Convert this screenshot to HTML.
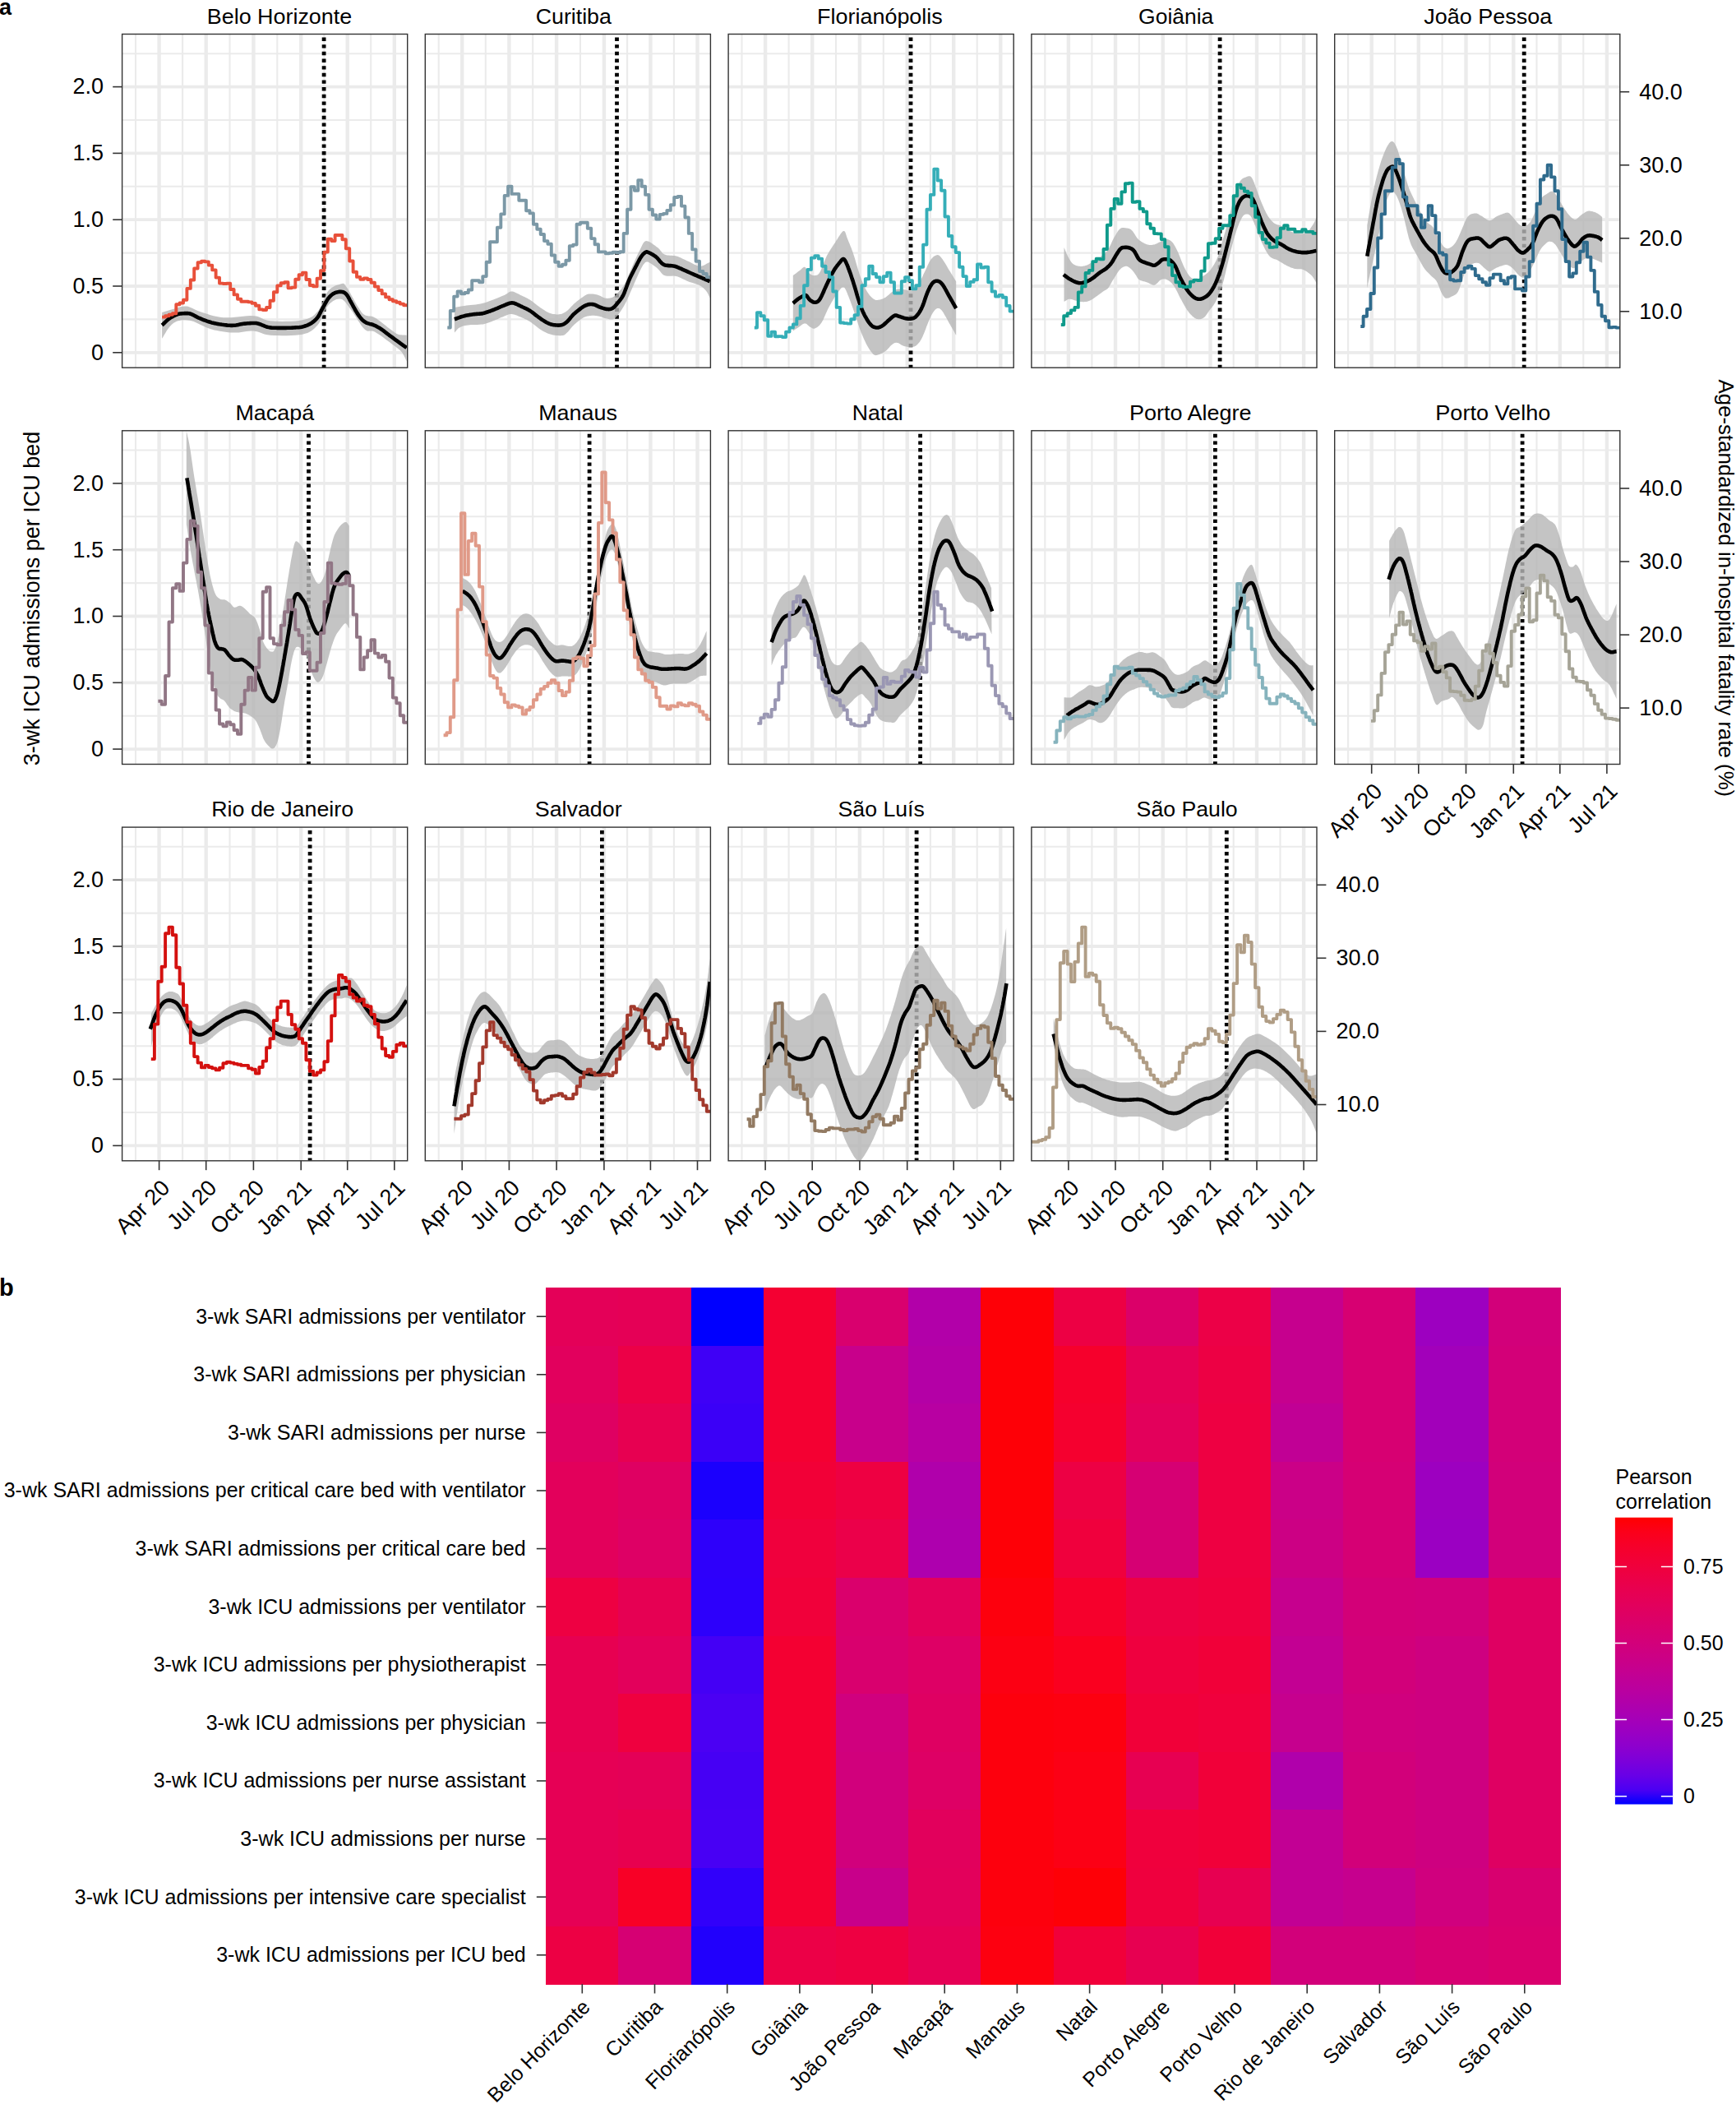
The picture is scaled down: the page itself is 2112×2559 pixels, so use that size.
<!DOCTYPE html>
<html><head><meta charset="utf-8"><title>Figure</title><style>html,body{margin:0;padding:0;background:#fff}svg{display:block}</style></head><body>
<svg width="2112" height="2559" viewBox="0 0 2112 2559" font-family='"Liberation Sans", Arial, Helvetica, sans-serif' fill="#000">
<rect width="2112" height="2559" fill="#fff"/>
<text x="-1" y="18.3" font-size="27" font-weight="bold">a</text>
<text x="-1" y="1575.6" font-size="29" font-weight="bold">b</text>
<g>
<svg x="148.6" y="41.5" width="347.1" height="405.7" viewBox="148.6 41.5 347.1 405.7" overflow="hidden">
<path d="M165.0 41.5V447.2M222.1 41.5V447.2M279.5 41.5V447.2M337.3 41.5V447.2M394.4 41.5V447.2M451.2 41.5V447.2M148.6 388.4H495.7M148.6 307.6H495.7M148.6 226.8H495.7M148.6 146.0H495.7M148.6 65.2H495.7" stroke="#ebebeb" stroke-width="2.1" fill="none"/>
<path d="M148.6 428.8H495.7M148.6 348.0H495.7M148.6 267.2H495.7M148.6 186.4H495.7M148.6 105.6H495.7" stroke="#ebebeb" stroke-width="3.8" fill="none"/>
<path d="M193.6 41.5V447.2M250.7 41.5V447.2M308.4 41.5V447.2M366.2 41.5V447.2M422.7 41.5V447.2M479.8 41.5V447.2" stroke="#ebebeb" stroke-width="4.4" fill="none"/>
<path d="M394.1 45.5V447.2" stroke="#000" stroke-width="4.8" stroke-dasharray="4.4 4.26" fill="none"/>
<polygon points="197.1,380.1 198.8,379.6 200.4,379.0 202.0,378.5 203.6,378.0 205.2,377.5 206.9,377.0 208.6,376.5 210.4,376.0 212.3,375.5 214.3,374.8 216.3,374.2 218.4,373.6 220.5,373.1 222.6,372.7 224.7,372.5 226.8,372.5 228.8,372.8 230.6,373.4 232.4,374.2 234.2,375.1 236.1,376.1 238.2,377.1 240.5,378.1 243.2,379.1 246.1,380.0 249.3,381.0 252.6,382.1 256.2,383.2 259.9,384.2 263.8,385.1 267.7,385.8 271.8,386.2 276.1,386.3 280.8,386.2 285.7,385.8 290.7,385.3 295.6,384.7 300.4,384.3 304.7,384.1 308.6,384.2 311.8,384.6 314.4,385.3 316.7,386.2 318.7,387.2 320.8,388.2 323.0,389.1 325.7,389.8 329.0,390.3 333.2,390.6 337.9,390.8 343.2,390.9 348.6,390.8 354.0,390.7 359.2,390.4 363.9,389.9 367.9,389.3 371.2,388.6 374.1,387.7 376.5,386.8 378.7,385.7 380.7,384.4 382.5,382.9 384.4,381.1 386.3,379.1 388.2,376.5 389.9,373.3 391.6,369.8 393.1,366.2 394.7,362.5 396.3,359.0 397.9,356.0 399.6,353.5 401.5,351.6 403.5,350.0 405.6,348.7 407.7,347.6 409.8,346.8 411.7,346.2 413.4,345.7 414.9,345.3 416.1,345.0 416.9,344.8 417.6,344.7 418.1,344.8 418.6,345.2 419.2,345.8 420.0,346.9 421.1,348.4 422.5,350.5 424.2,353.3 426.1,356.6 428.1,360.2 430.1,363.8 432.0,367.3 433.8,370.4 435.4,372.9 436.7,374.9 437.8,376.7 438.7,378.1 439.6,379.4 440.5,380.5 441.4,381.4 442.4,382.3 443.6,383.1 444.9,383.8 446.2,384.1 447.5,384.3 448.9,384.4 450.5,384.5 452.1,384.8 453.9,385.3 455.8,386.2 458.1,387.6 460.7,389.4 463.4,391.5 466.3,393.8 469.2,396.0 471.8,398.2 474.3,400.0 476.3,401.6 477.9,402.7 479.1,403.6 480.2,404.4 481.0,405.0 481.8,405.5 482.6,405.9 483.4,406.3 484.5,406.7 485.6,407.0 486.9,407.2 488.2,407.3 489.5,407.4 490.8,407.5 492.1,407.5 493.4,407.6 494.7,407.7 494.7,439.4 494.0,438.0 493.3,436.6 492.7,435.1 492.0,433.7 491.3,432.3 490.5,430.9 489.6,429.5 488.6,428.1 487.4,426.8 486.1,425.6 484.8,424.4 483.3,423.2 481.8,422.0 480.1,420.7 478.3,419.4 476.3,417.9 474.1,416.2 471.6,414.4 468.9,412.4 466.1,410.3 463.3,408.3 460.6,406.5 458.1,404.9 455.8,403.6 453.9,402.8 452.3,402.5 450.8,402.5 449.4,402.6 448.1,402.7 446.7,402.5 445.2,401.8 443.6,400.5 441.7,398.5 439.7,395.9 437.6,392.8 435.4,389.4 433.2,386.0 431.1,382.7 429.1,379.6 427.2,377.0 425.5,374.7 423.9,372.5 422.4,370.4 421.0,368.5 419.6,366.8 418.1,365.4 416.6,364.3 414.9,363.7 413.2,363.5 411.3,363.7 409.3,364.1 407.3,364.9 405.3,366.0 403.4,367.4 401.4,369.0 399.6,370.9 397.9,373.2 396.3,376.1 394.7,379.4 393.1,382.9 391.6,386.4 389.9,389.8 388.2,392.9 386.3,395.4 384.4,397.5 382.5,399.4 380.7,401.1 378.7,402.5 376.5,403.8 374.1,404.9 371.2,405.8 367.9,406.7 363.9,407.3 359.2,407.8 354.0,408.1 348.6,408.2 343.2,408.2 337.9,408.1 333.2,407.9 329.0,407.7 325.6,407.3 322.7,406.7 320.2,405.9 317.9,405.1 315.8,404.2 313.6,403.5 311.2,402.9 308.6,402.6 305.7,402.5 302.8,402.7 299.8,403.1 296.7,403.5 293.6,404.0 290.4,404.4 287.3,404.6 284.1,404.6 280.8,404.4 277.5,404.2 274.1,403.8 270.8,403.3 267.4,402.8 264.0,402.1 260.7,401.4 257.5,400.5 254.3,399.5 251.0,398.2 247.8,396.7 244.6,395.2 241.4,393.7 238.4,392.3 235.6,391.1 232.9,390.3 230.5,389.8 228.1,389.4 225.9,389.2 223.9,389.2 221.9,389.3 220.0,389.6 218.3,389.9 216.6,390.3 215.0,390.8 213.6,391.4 212.2,392.2 211.0,393.0 209.8,393.9 208.7,395.0 207.5,396.2 206.3,397.5 205.2,398.9 204.0,400.5 202.8,402.3 201.7,404.2 200.6,406.1 199.4,408.0 198.3,409.9 197.1,411.8" fill="#b6b6b6" fill-opacity="0.81"/>
<polyline points="197.1,395.4 198.3,394.4 199.4,393.3 200.6,392.2 201.7,391.1 202.8,390.1 204.0,389.1 205.2,388.1 206.3,387.2 207.6,386.4 208.8,385.6 210.1,384.9 211.4,384.2 212.7,383.6 214.0,383.0 215.3,382.5 216.6,382.1 217.9,381.8 219.2,381.5 220.6,381.4 221.9,381.2 223.3,381.2 224.5,381.1 225.7,381.1 226.8,381.1 227.7,381.1 228.5,381.1 229.2,381.2 229.9,381.2 230.5,381.4 231.2,381.5 232.0,381.8 232.9,382.1 234.0,382.6 235.1,383.1 236.3,383.7 237.5,384.4 238.8,385.1 240.2,385.9 241.7,386.6 243.2,387.2 244.8,387.9 246.5,388.6 248.2,389.3 250.1,389.9 251.9,390.6 253.8,391.2 255.7,391.8 257.5,392.4 259.3,392.8 261.1,393.2 262.9,393.6 264.8,393.9 266.6,394.3 268.4,394.5 270.1,394.8 271.8,395.0 273.4,395.2 275.0,395.4 276.5,395.6 278.1,395.7 279.5,395.8 281.0,395.9 282.5,395.9 284.1,395.8 285.6,395.7 287.1,395.5 288.7,395.2 290.2,394.9 291.7,394.6 293.3,394.3 294.8,394.0 296.3,393.8 297.9,393.6 299.5,393.5 301.2,393.3 302.8,393.2 304.4,393.1 306.0,393.0 307.4,393.0 308.6,393.0 309.6,393.0 310.4,393.0 311.1,393.0 311.7,393.1 312.3,393.1 312.9,393.3 313.7,393.5 314.7,393.8 316.0,394.2 317.3,394.7 318.8,395.3 320.4,395.9 322.0,396.6 323.6,397.2 325.3,397.7 327.0,398.1 328.7,398.4 330.4,398.6 332.1,398.7 333.9,398.8 335.7,398.8 337.5,398.9 339.4,398.9 341.3,398.9 343.3,398.9 345.4,398.9 347.6,398.9 349.8,398.8 351.9,398.7 354.0,398.7 355.9,398.6 357.7,398.5 359.3,398.4 360.7,398.3 362.0,398.3 363.2,398.2 364.3,398.1 365.5,397.9 366.7,397.7 367.9,397.5 369.2,397.1 370.5,396.7 371.8,396.3 373.1,395.8 374.4,395.3 375.7,394.7 376.9,394.1 378.1,393.4 379.3,392.7 380.4,391.9 381.4,391.1 382.5,390.2 383.5,389.3 384.5,388.4 385.4,387.3 386.3,386.2 387.2,385.0 388.0,383.7 388.7,382.3 389.4,380.9 390.2,379.4 390.9,377.9 391.6,376.5 392.4,375.0 393.3,373.4 394.2,371.8 395.1,370.2 396.0,368.5 396.9,366.9 397.8,365.4 398.7,363.9 399.6,362.7 400.5,361.6 401.4,360.6 402.2,359.8 403.1,359.0 404.0,358.3 404.9,357.6 405.8,357.1 406.8,356.6 407.7,356.1 408.8,355.7 409.8,355.4 410.9,355.2 412.0,355.0 413.0,354.9 414.0,354.9 414.9,354.9 415.8,355.0 416.6,355.1 417.4,355.3 418.1,355.5 418.9,355.8 419.6,356.3 420.3,356.9 421.1,357.6 421.8,358.5 422.6,359.5 423.3,360.7 424.0,362.0 424.8,363.3 425.5,364.8 426.3,366.3 427.2,367.8 428.1,369.4 429.1,371.2 430.1,373.1 431.2,375.0 432.2,377.0 433.3,378.8 434.4,380.6 435.4,382.1 436.4,383.6 437.3,384.9 438.3,386.2 439.2,387.3 440.2,388.4 441.2,389.5 442.4,390.4 443.6,391.3 444.9,392.1 446.4,392.8 448.0,393.4 449.7,393.9 451.4,394.3 453.0,394.8 454.5,395.3 455.8,395.8 457.0,396.4 458.1,396.9 459.0,397.4 459.9,397.9 460.8,398.4 461.8,399.0 462.8,399.7 464.0,400.5 465.3,401.4 466.7,402.4 468.1,403.5 469.5,404.6 471.1,405.8 472.7,407.0 474.4,408.4 476.3,409.7 478.3,411.2 480.5,412.8 482.7,414.4 485.1,416.1 487.5,417.9 489.9,419.6 492.4,421.3 494.7,423.0" fill="none" stroke="#000" stroke-width="4.6" stroke-linejoin="round"/>
<polyline points="197.1,385.6 201.1,385.6 201.1,384.2 205.5,384.2 205.5,382.7 209.9,382.7 209.9,381.2 214.3,381.2 214.3,370.2 218.6,370.2 218.6,368.5 223.0,368.5 223.0,364.7 227.4,364.7 227.4,350.9 231.8,350.9 231.8,340.5 236.2,340.5 236.2,326.5 240.6,326.5 240.6,319.2 245.0,319.2 245.0,317.7 249.4,317.7 249.4,318.4 253.8,318.4 253.8,322.6 258.2,322.6 258.2,328.4 262.6,328.4 262.6,337.6 267.0,337.6 267.0,344.6 271.4,344.6 271.4,345.0 275.8,345.0 275.8,344.8 280.2,344.8 280.2,352.0 284.6,352.0 284.6,358.4 289.0,358.4 289.0,363.7 293.3,363.7 293.3,366.8 297.7,366.8 297.7,366.8 302.1,366.8 302.1,367.4 306.5,367.4 306.5,368.9 310.9,368.9 310.9,371.8 315.3,371.8 315.3,376.4 319.7,376.4 319.7,377.0 324.1,377.0 324.1,374.0 328.5,374.0 328.5,365.7 332.9,365.7 332.9,355.3 337.3,355.3 337.3,347.4 341.7,347.4 341.7,344.2 346.1,344.2 346.1,343.3 350.5,343.3 350.5,350.3 354.9,350.3 354.9,349.6 359.3,349.6 359.3,339.8 363.6,339.8 363.6,334.3 368.0,334.3 368.0,331.6 372.4,331.6 372.4,340.0 376.8,340.0 376.8,347.0 381.2,347.0 381.2,348.4 385.6,348.4 385.6,338.8 390.0,338.8 390.0,329.1 394.4,329.1 394.4,306.6 398.8,306.6 398.8,290.8 403.2,290.8 403.2,293.0 407.6,293.0 407.6,286.0 412.0,286.0 412.0,286.0 416.4,286.0 416.4,291.2 420.8,291.2 420.8,302.2 425.2,302.2 425.2,317.5 429.6,317.5 429.6,330.7 434.0,330.7 434.0,336.9 438.3,336.9 438.3,339.8 442.7,339.8 442.7,338.4 447.1,338.4 447.1,340.0 451.5,340.0 451.5,343.7 455.9,343.7 455.9,348.6 460.3,348.6 460.3,353.0 464.7,353.0 464.7,357.4 469.1,357.4 469.1,361.4 473.5,361.4 473.5,364.3 477.9,364.3 477.9,366.2 482.3,366.2 482.3,367.8 486.7,367.8 486.7,369.6 491.1,369.6 491.1,371.3 495.5,371.3" fill="none" stroke="#e8503a" stroke-width="3.9" stroke-linejoin="round"/>
</svg>
<rect x="148.6" y="41.5" width="347.1" height="405.7" fill="none" stroke="#333" stroke-width="1.4"/>
<text x="251.8" y="28.5" font-size="25.9" textLength="176.4" lengthAdjust="spacingAndGlyphs">Belo Horizonte</text>
<path d="M137.2 428.8H148.6" stroke="#333" stroke-width="1.6"/>
<text x="126.1" y="437.6" font-size="27" text-anchor="end">0</text>
<path d="M137.2 348.0H148.6" stroke="#333" stroke-width="1.6"/>
<text x="126.1" y="356.8" font-size="27" text-anchor="end">0.5</text>
<path d="M137.2 267.2H148.6" stroke="#333" stroke-width="1.6"/>
<text x="126.1" y="276.0" font-size="27" text-anchor="end">1.0</text>
<path d="M137.2 186.4H148.6" stroke="#333" stroke-width="1.6"/>
<text x="126.1" y="195.2" font-size="27" text-anchor="end">1.5</text>
<path d="M137.2 105.6H148.6" stroke="#333" stroke-width="1.6"/>
<text x="126.1" y="114.4" font-size="27" text-anchor="end">2.0</text>
</g>
<g>
<svg x="517.3" y="41.5" width="347.1" height="405.7" viewBox="517.3 41.5 347.1 405.7" overflow="hidden">
<path d="M533.7 41.5V447.2M590.8 41.5V447.2M648.2 41.5V447.2M706.0 41.5V447.2M763.1 41.5V447.2M819.9 41.5V447.2M517.3 388.4H864.4M517.3 307.6H864.4M517.3 226.8H864.4M517.3 146.0H864.4M517.3 65.2H864.4" stroke="#ebebeb" stroke-width="2.1" fill="none"/>
<path d="M517.3 428.8H864.4M517.3 348.0H864.4M517.3 267.2H864.4M517.3 186.4H864.4M517.3 105.6H864.4" stroke="#ebebeb" stroke-width="3.8" fill="none"/>
<path d="M562.2 41.5V447.2M619.4 41.5V447.2M677.1 41.5V447.2M734.9 41.5V447.2M791.4 41.5V447.2M848.5 41.5V447.2" stroke="#ebebeb" stroke-width="4.4" fill="none"/>
<path d="M750.5 45.5V447.2" stroke="#000" stroke-width="4.8" stroke-dasharray="4.4 4.26" fill="none"/>
<polygon points="552.9,373.9 554.3,373.7 555.7,373.4 557.0,373.2 558.4,373.0 559.8,372.7 561.3,372.5 563.1,372.2 565.1,371.9 567.4,371.6 570.0,371.3 572.7,371.1 575.6,370.8 578.6,370.5 581.6,370.0 584.6,369.5 587.6,368.8 590.7,367.9 593.9,366.8 597.3,365.6 600.7,364.3 603.9,363.0 607.0,361.8 609.8,360.6 612.2,359.6 614.1,358.7 615.7,357.8 617.0,356.9 618.0,356.2 619.0,355.5 620.0,355.0 621.1,354.6 622.4,354.5 623.8,354.6 625.4,355.1 626.9,355.7 628.5,356.4 630.1,357.2 631.7,358.1 633.2,358.9 634.7,359.6 636.0,360.2 637.3,360.8 638.5,361.3 639.8,361.9 641.0,362.5 642.2,363.2 643.5,363.9 644.9,364.7 646.3,365.7 647.8,366.8 649.3,368.0 650.9,369.2 652.5,370.4 654.0,371.7 655.6,372.8 657.1,373.9 658.7,375.0 660.2,376.0 661.8,377.0 663.3,378.0 664.8,378.9 666.4,379.8 667.9,380.5 669.4,381.1 671.0,381.5 672.6,381.9 674.2,382.1 675.8,382.3 677.4,382.4 678.9,382.4 680.4,382.3 681.7,382.1 682.9,381.9 684.0,381.5 685.1,381.1 686.0,380.6 687.0,380.1 687.9,379.4 688.9,378.8 689.9,378.0 690.9,377.2 691.9,376.3 692.8,375.2 693.8,374.2 694.8,373.1 695.9,372.0 696.9,370.9 698.0,369.8 699.2,368.8 700.5,367.7 701.8,366.6 703.2,365.5 704.5,364.4 705.8,363.4 707.1,362.5 708.3,361.7 709.4,360.9 710.4,360.2 711.4,359.6 712.4,359.0 713.3,358.5 714.3,358.1 715.3,357.8 716.5,357.6 717.6,357.4 718.9,357.4 720.1,357.4 721.4,357.6 722.8,357.8 724.1,358.0 725.4,358.3 726.7,358.6 728.0,359.0 729.3,359.5 730.6,360.1 731.9,360.8 733.2,361.4 734.5,361.9 735.7,362.4 736.9,362.7 738.0,362.8 739.1,362.9 740.2,362.8 741.2,362.7 742.3,362.6 743.2,362.3 744.2,362.0 745.1,361.7 745.9,361.2 746.7,360.8 747.4,360.3 748.2,359.7 748.9,359.0 749.6,358.3 750.4,357.5 751.2,356.5 752.1,355.6 753.1,354.5 754.1,353.4 755.2,352.3 756.2,351.0 757.3,349.6 758.4,348.0 759.4,346.3 760.4,344.4 761.4,342.4 762.4,340.2 763.4,337.9 764.4,335.5 765.4,333.0 766.5,330.5 767.6,327.9 768.8,325.2 770.0,322.3 771.4,319.3 772.7,316.3 774.0,313.3 775.3,310.4 776.6,307.8 777.8,305.4 778.9,303.3 779.8,301.2 780.8,299.2 781.6,297.4 782.6,295.8 783.6,294.5 784.7,293.6 786.0,293.1 787.5,293.2 789.3,293.8 791.2,294.7 793.1,296.0 795.1,297.4 797.0,298.8 798.8,300.2 800.3,301.3 801.6,302.4 802.6,303.5 803.5,304.7 804.4,305.8 805.2,306.9 806.1,307.9 807.2,308.8 808.5,309.5 810.0,310.0 811.6,310.4 813.4,310.5 815.3,310.7 817.2,310.8 819.1,310.9 821.0,311.1 822.8,311.6 824.6,312.1 826.4,312.8 828.2,313.6 830.0,314.4 831.7,315.2 833.5,316.1 835.3,316.9 837.1,317.7 838.9,318.5 840.7,319.5 842.6,320.5 844.4,321.5 846.2,322.3 848.0,323.1 849.7,323.6 851.4,323.8 853.1,323.7 854.6,323.3 856.2,322.7 857.7,322.0 859.2,321.1 860.7,320.3 862.2,319.4 863.7,318.7 863.7,362.7 863.2,361.6 862.8,360.6 862.3,359.6 861.9,358.5 861.4,357.5 860.9,356.5 860.3,355.5 859.6,354.5 858.8,353.5 858.0,352.6 857.1,351.7 856.2,350.7 855.1,349.8 854.0,349.0 852.8,348.1 851.4,347.3 849.9,346.6 848.3,345.9 846.5,345.3 844.6,344.7 842.7,344.1 840.8,343.5 838.9,342.9 837.1,342.2 835.3,341.5 833.5,340.6 831.7,339.8 830.0,338.9 828.2,338.1 826.4,337.3 824.6,336.6 822.8,336.1 821.0,335.8 819.1,335.6 817.2,335.7 815.3,335.7 813.4,335.8 811.6,335.7 810.0,335.5 808.5,335.1 807.2,334.4 806.0,333.5 805.0,332.4 804.0,331.3 803.1,330.1 802.2,329.0 801.3,327.9 800.3,326.9 799.3,326.0 798.2,325.1 797.1,324.3 796.1,323.4 795.0,322.7 794.0,322.0 793.0,321.3 792.1,320.8 791.3,320.2 790.4,319.7 789.7,319.2 788.9,318.8 788.2,318.5 787.5,318.4 786.7,318.5 786.0,318.7 785.2,319.1 784.5,319.7 783.9,320.4 783.2,321.3 782.4,322.3 781.7,323.6 780.8,325.1 779.8,326.9 778.8,329.0 777.5,331.6 776.2,334.5 774.9,337.5 773.5,340.6 772.1,343.7 770.8,346.7 769.6,349.4 768.5,351.9 767.4,354.4 766.4,356.8 765.4,359.2 764.4,361.4 763.4,363.6 762.5,365.8 761.4,367.8 760.4,369.7 759.4,371.6 758.3,373.4 757.3,375.1 756.3,376.8 755.2,378.3 754.2,379.8 753.3,381.1 752.3,382.3 751.5,383.5 750.6,384.6 749.7,385.6 748.9,386.4 748.0,387.2 747.1,387.8 746.1,388.2 745.1,388.5 744.0,388.6 742.9,388.5 741.7,388.4 740.5,388.1 739.3,387.8 738.1,387.5 736.9,387.2 735.7,386.9 734.4,386.5 733.1,386.1 731.9,385.6 730.6,385.2 729.3,384.8 728.0,384.4 726.7,384.2 725.4,384.0 724.1,383.9 722.8,383.8 721.4,383.8 720.1,383.8 718.9,383.9 717.6,384.0 716.5,384.2 715.3,384.4 714.3,384.6 713.3,384.9 712.4,385.2 711.4,385.6 710.4,386.0 709.4,386.6 708.3,387.2 707.1,388.0 705.8,388.9 704.5,389.9 703.2,390.9 701.8,392.0 700.5,393.2 699.2,394.3 698.0,395.4 696.9,396.5 695.8,397.8 694.7,399.0 693.7,400.3 692.7,401.5 691.7,402.7 690.8,403.7 689.9,404.6 689.1,405.3 688.4,406.0 687.8,406.5 687.2,407.0 686.5,407.4 685.8,407.7 684.9,407.9 683.7,408.1 682.3,408.2 680.7,408.2 678.9,408.1 677.0,408.0 675.0,407.7 673.0,407.4 671.2,407.1 669.4,406.6 667.8,406.1 666.2,405.5 664.7,404.8 663.2,404.1 661.7,403.2 660.2,402.4 658.7,401.5 657.1,400.5 655.6,399.5 654.0,398.3 652.5,397.1 650.9,395.8 649.3,394.6 647.8,393.4 646.3,392.3 644.9,391.3 643.5,390.5 642.2,389.7 641.0,389.0 639.8,388.4 638.5,387.9 637.3,387.3 636.0,386.8 634.7,386.2 633.2,385.6 631.7,384.9 630.1,384.3 628.5,383.6 626.9,383.1 625.4,382.6 623.8,382.3 622.4,382.1 621.0,382.1 619.7,382.3 618.5,382.6 617.3,383.1 616.1,383.6 614.8,384.1 613.5,384.6 612.2,385.2 610.7,385.7 609.2,386.3 607.7,387.0 606.2,387.7 604.6,388.4 603.0,389.0 601.4,389.7 599.9,390.3 598.4,390.9 597.0,391.5 595.6,392.0 594.1,392.6 592.7,393.1 591.1,393.6 589.4,394.0 587.6,394.4 585.6,394.6 583.3,394.8 580.8,394.9 578.3,395.0 575.8,395.0 573.4,395.1 571.2,395.2 569.2,395.4 567.5,395.7 566.0,395.9 564.6,396.3 563.3,396.6 562.2,397.0 561.1,397.4 560.0,397.9 559.0,398.5 558.0,399.1 557.2,399.8 556.4,400.5 555.7,401.3 555.0,402.2 554.3,403.0 553.6,403.8 552.9,404.6" fill="#b6b6b6" fill-opacity="0.81"/>
<polyline points="552.9,388.2 554.4,387.7 555.9,387.2 557.5,386.6 559.0,386.1 560.5,385.5 562.1,385.0 563.6,384.6 565.1,384.2 566.7,383.8 568.2,383.5 569.8,383.2 571.4,382.9 572.9,382.7 574.5,382.5 576.0,382.3 577.4,382.1 578.8,382.0 580.0,381.9 581.3,381.8 582.5,381.7 583.7,381.6 585.0,381.5 586.3,381.4 587.6,381.1 589.1,380.7 590.5,380.3 592.1,379.8 593.6,379.3 595.2,378.7 596.8,378.2 598.3,377.6 599.9,377.0 601.5,376.4 603.1,375.7 604.7,375.1 606.3,374.4 607.9,373.7 609.4,373.0 610.8,372.4 612.2,371.9 613.4,371.4 614.6,370.9 615.7,370.4 616.7,370.0 617.7,369.6 618.6,369.3 619.5,369.0 620.3,368.8 621.1,368.6 621.7,368.5 622.3,368.4 622.8,368.4 623.4,368.4 624.0,368.5 624.6,368.6 625.5,368.8 626.4,369.1 627.4,369.5 628.6,370.0 629.7,370.5 630.9,371.1 632.2,371.7 633.4,372.3 634.7,372.9 635.9,373.5 637.1,374.0 638.3,374.6 639.6,375.1 640.9,375.8 642.2,376.4 643.5,377.2 644.9,378.0 646.3,379.0 647.9,380.1 649.4,381.3 651.0,382.6 652.6,383.8 654.2,385.0 655.7,386.2 657.1,387.2 658.5,388.2 659.9,389.1 661.2,389.9 662.5,390.7 663.8,391.5 665.0,392.2 666.2,392.8 667.4,393.4 668.5,393.8 669.6,394.2 670.6,394.5 671.6,394.8 672.6,395.0 673.6,395.2 674.5,395.3 675.6,395.4 676.6,395.5 677.6,395.5 678.7,395.6 679.8,395.6 680.8,395.5 681.8,395.4 682.8,395.2 683.7,395.0 684.6,394.7 685.4,394.4 686.1,394.1 686.8,393.7 687.5,393.2 688.2,392.7 689.0,392.1 689.9,391.3 690.8,390.4 691.7,389.4 692.7,388.2 693.7,387.0 694.7,385.7 695.8,384.5 696.9,383.2 698.0,382.1 699.3,381.0 700.5,379.9 701.9,378.8 703.2,377.7 704.6,376.6 705.9,375.6 707.1,374.7 708.3,373.9 709.3,373.2 710.3,372.6 711.2,372.1 712.0,371.7 712.9,371.3 713.7,371.0 714.6,370.7 715.4,370.4 716.3,370.3 717.2,370.1 718.1,370.0 718.9,370.0 719.8,370.0 720.7,370.1 721.6,370.3 722.6,370.4 723.6,370.7 724.6,371.1 725.6,371.6 726.6,372.1 727.7,372.6 728.7,373.1 729.7,373.5 730.8,373.9 731.8,374.3 732.9,374.6 733.9,374.9 735.0,375.2 736.0,375.5 737.0,375.7 738.0,375.9 738.9,376.0 739.8,376.0 740.6,376.1 741.4,376.0 742.1,376.0 742.9,375.8 743.6,375.6 744.3,375.3 745.1,374.9 745.8,374.5 746.6,373.9 747.3,373.2 748.1,372.5 748.8,371.6 749.6,370.8 750.4,369.8 751.2,368.8 752.1,367.8 752.9,366.7 753.8,365.6 754.7,364.5 755.6,363.2 756.6,361.8 757.5,360.3 758.4,358.6 759.3,356.7 760.1,354.5 761.0,352.2 761.9,349.8 762.8,347.3 763.7,344.8 764.6,342.4 765.5,340.2 766.5,338.0 767.6,335.8 768.6,333.7 769.7,331.6 770.8,329.5 771.8,327.5 772.8,325.6 773.7,323.8 774.6,322.1 775.4,320.5 776.2,319.0 777.0,317.5 777.7,316.2 778.4,314.9 779.1,313.7 779.8,312.6 780.5,311.6 781.2,310.7 781.9,309.8 782.5,309.1 783.2,308.5 783.8,307.9 784.4,307.4 785.0,307.1 785.5,306.8 785.9,306.5 786.3,306.4 786.8,306.4 787.2,306.4 787.7,306.5 788.3,306.8 789.1,307.1 790.0,307.5 791.0,308.0 792.1,308.6 793.3,309.2 794.6,310.0 795.8,310.8 797.1,311.7 798.3,312.6 799.4,313.6 800.5,314.8 801.5,316.1 802.6,317.4 803.7,318.7 804.9,319.9 806.1,320.9 807.5,321.8 808.9,322.4 810.5,322.7 812.2,322.9 813.9,323.1 815.7,323.1 817.4,323.3 819.1,323.5 820.7,323.8 822.3,324.3 823.8,324.8 825.2,325.4 826.7,326.1 828.2,326.7 829.7,327.4 831.3,328.2 833.0,328.9 834.9,329.7 836.9,330.6 838.9,331.5 841.1,332.5 843.2,333.4 845.3,334.3 847.4,335.2 849.4,336.1 851.3,336.9 853.1,337.7 854.9,338.5 856.7,339.2 858.4,340.0 860.2,340.7 861.9,341.5 863.7,342.2" fill="none" stroke="#000" stroke-width="4.6" stroke-linejoin="round"/>
<polyline points="544.3,398.5 547.8,398.5 547.8,378.0 552.2,378.0 552.2,360.6 556.6,360.6 556.6,354.5 561.0,354.5 561.0,357.3 565.4,357.3 565.4,356.0 569.8,356.0 569.8,352.5 574.2,352.5 574.2,341.2 578.6,341.2 578.6,341.2 583.0,341.2 583.0,343.3 587.3,343.3 587.3,336.1 591.7,336.1 591.7,318.7 596.1,318.7 596.1,294.2 600.5,294.2 600.5,294.2 604.9,294.2 604.9,276.8 609.3,276.8 609.3,260.4 613.7,260.4 613.7,237.9 618.1,237.9 618.1,226.7 622.5,226.7 622.5,235.9 626.9,235.9 626.9,235.9 631.3,235.9 631.3,243.7 635.7,243.7 635.7,243.7 640.1,243.7 640.1,256.3 644.5,256.3 644.5,259.4 648.9,259.4 648.9,272.7 653.3,272.7 653.3,278.8 657.7,278.8 657.7,285.0 662.0,285.0 662.0,293.1 666.4,293.1 666.4,296.8 670.8,296.8 670.8,310.5 675.2,310.5 675.2,318.7 679.6,318.7 679.6,323.8 684.0,323.8 684.0,321.8 688.4,321.8 688.4,316.7 692.8,316.7 692.8,299.3 697.2,299.3 697.2,297.6 701.6,297.6 701.6,272.7 706.0,272.7 706.0,270.7 710.4,270.7 710.4,270.7 714.8,270.7 714.8,277.8 719.2,277.8 719.2,290.1 723.6,290.1 723.6,297.2 728.0,297.2 728.0,306.4 732.3,306.4 732.3,306.4 736.7,306.4 736.7,308.2 741.1,308.2 741.1,307.8 745.5,307.8 745.5,306.8 749.9,306.8 749.9,307.2 754.3,307.2 754.3,306.2 758.7,306.2 758.7,283.9 763.1,283.9 763.1,254.7 767.5,254.7 767.5,227.3 771.9,227.3 771.9,231.8 776.3,231.8 776.3,219.1 780.7,219.1 780.7,226.7 785.1,226.7 785.1,236.9 789.5,236.9 789.5,254.7 793.9,254.7 793.9,261.5 798.3,261.5 798.3,266.6 802.7,266.6 802.7,260.9 807.0,260.9 807.0,259.9 811.4,259.9 811.4,255.9 815.8,255.9 815.8,249.2 820.2,249.2 820.2,240.0 824.6,240.0 824.6,239.0 829.0,239.0 829.0,250.6 833.4,250.6 833.4,264.5 837.8,264.5 837.8,283.9 842.2,283.9 842.2,303.4 846.6,303.4 846.6,317.7 851.0,317.7 851.0,330.0 855.4,330.0 855.4,333.0 859.8,333.0 859.8,337.1 864.2,337.1" fill="none" stroke="#7b98a6" stroke-width="3.9" stroke-linejoin="round"/>
</svg>
<rect x="517.3" y="41.5" width="347.1" height="405.7" fill="none" stroke="#333" stroke-width="1.4"/>
<text x="651.7" y="28.5" font-size="25.9" textLength="92.2" lengthAdjust="spacingAndGlyphs">Curitiba</text>
</g>
<g>
<svg x="886.1" y="41.5" width="347.1" height="405.7" viewBox="886.1 41.5 347.1 405.7" overflow="hidden">
<path d="M902.5 41.5V447.2M959.6 41.5V447.2M1017.0 41.5V447.2M1074.8 41.5V447.2M1131.9 41.5V447.2M1188.7 41.5V447.2M886.1 388.4H1233.2M886.1 307.6H1233.2M886.1 226.8H1233.2M886.1 146.0H1233.2M886.1 65.2H1233.2" stroke="#ebebeb" stroke-width="2.1" fill="none"/>
<path d="M886.1 428.8H1233.2M886.1 348.0H1233.2M886.1 267.2H1233.2M886.1 186.4H1233.2M886.1 105.6H1233.2" stroke="#ebebeb" stroke-width="3.8" fill="none"/>
<path d="M931.1 41.5V447.2M988.2 41.5V447.2M1045.9 41.5V447.2M1103.7 41.5V447.2M1160.2 41.5V447.2M1217.3 41.5V447.2" stroke="#ebebeb" stroke-width="4.4" fill="none"/>
<path d="M1108.0 45.5V447.2" stroke="#000" stroke-width="4.8" stroke-dasharray="4.4 4.26" fill="none"/>
<polygon points="964.8,335.1 965.8,334.3 966.9,333.5 968.0,332.7 969.0,331.9 970.1,331.1 971.1,330.3 972.1,329.6 973.0,328.9 973.8,328.2 974.7,327.5 975.4,326.7 976.2,326.0 976.9,325.4 977.6,325.0 978.4,324.8 979.1,324.8 979.9,325.3 980.6,326.2 981.4,327.3 982.2,328.6 982.9,329.9 983.7,331.1 984.5,332.2 985.2,333.0 986.0,333.6 986.8,334.1 987.6,334.5 988.3,334.8 989.1,335.0 989.9,335.1 990.6,335.2 991.4,335.1 992.1,335.0 992.9,334.8 993.6,334.7 994.3,334.4 995.1,333.9 995.8,333.2 996.7,332.3 997.5,331.0 998.4,329.3 999.4,327.1 1000.3,324.7 1001.4,322.0 1002.4,319.3 1003.5,316.6 1004.6,313.9 1005.7,311.6 1006.9,309.3 1008.1,307.2 1009.4,305.1 1010.7,303.1 1012.0,301.0 1013.3,299.1 1014.6,297.1 1015.9,295.2 1017.2,293.1 1018.6,290.9 1020.0,288.6 1021.4,286.4 1022.7,284.4 1024.0,282.7 1025.1,281.5 1026.1,280.9 1027.0,280.9 1027.7,281.5 1028.4,282.6 1028.9,283.9 1029.4,285.6 1030.0,287.4 1030.6,289.3 1031.3,291.1 1032.1,293.0 1032.9,294.9 1033.8,297.0 1034.6,299.3 1035.6,301.6 1036.5,304.1 1037.5,306.8 1038.4,309.5 1039.4,312.5 1040.4,315.8 1041.4,319.2 1042.4,322.8 1043.5,326.4 1044.5,329.8 1045.6,333.1 1046.6,336.1 1047.6,338.8 1048.6,341.5 1049.7,344.0 1050.7,346.4 1051.7,348.6 1052.7,350.7 1053.8,352.7 1054.8,354.5 1055.8,356.1 1056.9,357.6 1057.9,359.0 1059.0,360.2 1060.0,361.3 1061.1,362.2 1062.0,363.0 1063.0,363.7 1063.8,364.2 1064.6,364.6 1065.3,364.9 1066.0,365.0 1066.7,365.0 1067.5,364.9 1068.2,364.8 1069.1,364.7 1070.0,364.6 1070.9,364.4 1071.9,364.1 1072.9,363.8 1074.0,363.4 1075.0,362.9 1076.1,362.3 1077.3,361.7 1078.5,360.8 1079.7,359.8 1081.0,358.7 1082.4,357.5 1083.7,356.3 1085.0,355.2 1086.3,354.2 1087.5,353.5 1088.6,352.9 1089.6,352.4 1090.5,352.1 1091.5,351.8 1092.4,351.6 1093.4,351.5 1094.5,351.4 1095.7,351.4 1097.0,351.5 1098.6,351.8 1100.2,352.2 1101.8,352.6 1103.5,353.1 1105.1,353.4 1106.6,353.5 1107.9,353.5 1109.2,353.3 1110.3,353.0 1111.3,352.6 1112.3,352.1 1113.2,351.4 1114.2,350.6 1115.1,349.6 1116.1,348.4 1117.2,346.9 1118.2,345.1 1119.2,343.1 1120.2,340.9 1121.2,338.6 1122.3,336.4 1123.3,334.1 1124.3,332.0 1125.3,329.9 1126.4,327.7 1127.4,325.4 1128.4,323.1 1129.4,321.0 1130.4,319.0 1131.5,317.2 1132.5,315.6 1133.5,314.4 1134.6,313.2 1135.6,312.3 1136.7,311.5 1137.8,310.9 1138.8,310.5 1139.7,310.2 1140.7,310.1 1141.5,310.2 1142.3,310.5 1143.0,311.0 1143.7,311.7 1144.4,312.5 1145.2,313.5 1146.0,314.5 1146.8,315.6 1147.7,316.9 1148.7,318.4 1149.7,320.1 1150.8,321.8 1151.8,323.6 1152.9,325.4 1153.9,327.2 1155.0,328.9 1156.0,330.6 1157.0,332.3 1158.1,333.9 1159.1,335.6 1160.1,337.2 1161.1,338.9 1162.1,340.6 1163.2,342.2 1163.2,407.7 1162.1,405.9 1161.1,404.1 1160.1,402.3 1159.1,400.5 1158.1,398.7 1157.0,396.9 1156.0,395.1 1155.0,393.4 1153.9,391.5 1152.9,389.5 1151.8,387.5 1150.7,385.6 1149.6,383.7 1148.6,381.9 1147.7,380.3 1146.8,379.0 1146.0,378.0 1145.3,377.1 1144.7,376.4 1144.1,375.9 1143.5,375.5 1142.9,375.2 1142.3,375.0 1141.7,374.9 1141.1,374.9 1140.4,375.0 1139.8,375.2 1139.2,375.5 1138.6,376.0 1137.9,376.5 1137.3,377.2 1136.6,378.0 1135.9,379.0 1135.2,380.0 1134.4,381.2 1133.7,382.6 1132.9,384.0 1132.1,385.6 1131.3,387.4 1130.4,389.3 1129.5,391.5 1128.5,394.0 1127.4,396.8 1126.4,399.6 1125.3,402.5 1124.2,405.2 1123.2,407.6 1122.3,409.7 1121.4,411.4 1120.6,412.9 1119.8,414.3 1119.1,415.4 1118.3,416.4 1117.6,417.3 1116.9,418.1 1116.1,418.9 1115.4,419.6 1114.7,420.2 1114.0,420.7 1113.3,421.1 1112.6,421.4 1111.8,421.6 1111.0,421.8 1110.0,422.0 1108.9,422.1 1107.7,422.1 1106.4,422.0 1105.0,421.9 1103.6,421.7 1102.3,421.5 1101.0,421.3 1099.8,421.0 1098.6,420.6 1097.5,420.0 1096.5,419.4 1095.4,418.7 1094.4,418.1 1093.4,417.5 1092.5,417.1 1091.6,416.9 1090.7,416.8 1090.0,416.8 1089.2,416.9 1088.5,417.1 1087.8,417.4 1087.1,417.8 1086.3,418.3 1085.5,418.9 1084.5,419.7 1083.6,420.6 1082.5,421.7 1081.5,422.9 1080.4,424.1 1079.4,425.2 1078.3,426.2 1077.3,427.1 1076.2,427.8 1075.2,428.5 1074.1,429.1 1073.1,429.7 1072.0,430.1 1071.0,430.5 1070.0,430.9 1069.1,431.2 1068.2,431.5 1067.5,431.7 1066.7,432.0 1066.0,432.1 1065.3,432.2 1064.6,432.1 1063.8,431.8 1063.0,431.2 1062.0,430.4 1061.1,429.3 1060.0,428.1 1059.0,426.7 1057.9,425.2 1056.9,423.5 1055.8,421.8 1054.8,419.9 1053.7,418.0 1052.7,415.8 1051.6,413.6 1050.6,411.2 1049.5,408.8 1048.5,406.3 1047.5,403.9 1046.6,401.5 1045.7,399.3 1045.0,397.0 1044.2,394.8 1043.5,392.6 1042.8,390.3 1042.1,388.0 1041.3,385.6 1040.5,383.1 1039.5,380.4 1038.5,377.5 1037.5,374.5 1036.4,371.4 1035.3,368.4 1034.2,365.6 1033.2,362.9 1032.3,360.6 1031.4,358.6 1030.7,356.6 1029.9,354.7 1029.2,353.1 1028.5,351.7 1027.8,350.6 1027.0,349.8 1026.1,349.4 1025.2,349.4 1024.3,349.8 1023.3,350.6 1022.3,351.7 1021.3,353.0 1020.2,354.4 1019.1,356.0 1018.0,357.6 1016.8,359.3 1015.5,361.3 1014.2,363.4 1012.9,365.7 1011.5,368.0 1010.2,370.4 1008.9,372.7 1007.7,374.9 1006.6,377.2 1005.6,379.5 1004.5,381.9 1003.5,384.3 1002.5,386.6 1001.6,388.7 1000.6,390.6 999.6,392.3 998.5,393.8 997.5,395.1 996.4,396.2 995.3,397.1 994.3,397.9 993.3,398.6 992.3,399.1 991.4,399.5 990.5,399.7 989.7,399.7 988.9,399.5 988.2,399.2 987.5,398.8 986.7,398.3 986.0,397.9 985.2,397.4 984.5,397.0 983.8,396.3 983.0,395.7 982.3,395.0 981.6,394.3 980.8,393.8 980.0,393.4 979.1,393.4 978.2,393.6 977.2,394.0 976.1,394.6 975.0,395.4 973.9,396.2 972.9,397.0 971.9,397.8 970.9,398.5 970.1,399.0 969.3,399.6 968.5,400.1 967.7,400.6 967.0,401.1 966.3,401.6 965.6,402.1 964.8,402.6" fill="#b6b6b6" fill-opacity="0.81"/>
<polyline points="964.8,368.8 965.6,368.2 966.3,367.5 967.1,366.9 967.8,366.2 968.6,365.5 969.3,364.9 970.1,364.3 970.9,363.7 971.8,363.1 972.7,362.5 973.7,361.9 974.7,361.3 975.7,360.8 976.6,360.3 977.4,359.9 978.1,359.6 978.7,359.4 979.1,359.2 979.5,359.1 979.8,359.0 980.1,359.1 980.4,359.2 980.8,359.3 981.2,359.6 981.6,360.0 982.1,360.6 982.5,361.2 983.0,362.0 983.5,362.7 984.1,363.5 984.6,364.1 985.2,364.7 985.9,365.3 986.6,365.8 987.4,366.3 988.2,366.8 989.0,367.3 989.8,367.6 990.6,367.8 991.4,367.8 992.1,367.7 992.9,367.6 993.6,367.4 994.3,367.0 995.1,366.5 995.8,365.8 996.7,364.9 997.5,363.7 998.4,362.2 999.4,360.3 1000.4,358.1 1001.5,355.8 1002.5,353.3 1003.6,350.9 1004.7,348.5 1005.7,346.3 1006.7,344.2 1007.7,342.0 1008.8,339.9 1009.8,337.8 1010.8,335.7 1011.8,333.7 1012.9,331.8 1013.9,330.0 1014.9,328.3 1016.0,326.6 1017.1,325.0 1018.2,323.5 1019.3,322.1 1020.3,320.9 1021.2,319.7 1022.1,318.7 1022.8,317.8 1023.4,317.0 1024.0,316.3 1024.5,315.7 1025.0,315.3 1025.5,315.1 1026.0,315.0 1026.6,315.2 1027.1,315.7 1027.7,316.3 1028.2,317.1 1028.7,318.0 1029.3,319.2 1029.9,320.6 1030.6,322.1 1031.3,323.8 1032.0,325.8 1032.9,328.1 1033.8,330.6 1034.8,333.3 1035.7,336.1 1036.6,338.9 1037.6,341.6 1038.4,344.3 1039.2,346.9 1040.0,349.5 1040.8,352.1 1041.6,354.8 1042.3,357.4 1043.0,359.9 1043.8,362.4 1044.6,364.7 1045.3,367.0 1046.0,369.2 1046.8,371.3 1047.5,373.4 1048.2,375.4 1049.0,377.3 1049.8,379.2 1050.7,381.1 1051.6,383.0 1052.6,384.8 1053.7,386.7 1054.7,388.5 1055.8,390.2 1056.8,391.8 1057.9,393.2 1058.9,394.4 1059.8,395.4 1060.7,396.2 1061.6,396.9 1062.5,397.4 1063.4,397.8 1064.3,398.1 1065.1,398.3 1066.0,398.5 1066.9,398.5 1067.8,398.5 1068.7,398.4 1069.5,398.1 1070.4,397.8 1071.3,397.4 1072.2,397.0 1073.2,396.4 1074.2,395.8 1075.2,395.0 1076.2,394.0 1077.3,393.1 1078.3,392.1 1079.4,391.1 1080.4,390.1 1081.4,389.3 1082.3,388.5 1083.3,387.6 1084.2,386.8 1085.1,386.0 1086.0,385.3 1086.9,384.6 1087.7,384.1 1088.5,383.7 1089.2,383.5 1089.9,383.5 1090.5,383.6 1091.0,383.8 1091.6,384.0 1092.2,384.3 1092.9,384.5 1093.6,384.8 1094.5,385.0 1095.5,385.3 1096.6,385.7 1097.7,386.0 1098.8,386.4 1099.8,386.7 1100.9,387.0 1101.8,387.2 1102.7,387.4 1103.5,387.5 1104.3,387.6 1105.0,387.7 1105.7,387.8 1106.5,387.8 1107.2,387.7 1107.9,387.6 1108.7,387.5 1109.5,387.4 1110.2,387.3 1111.0,387.1 1111.7,386.8 1112.5,386.4 1113.3,385.9 1114.1,385.2 1114.9,384.3 1115.8,383.4 1116.7,382.3 1117.6,381.1 1118.5,379.8 1119.4,378.3 1120.3,376.7 1121.2,374.9 1122.1,372.9 1123.1,370.5 1124.0,368.0 1124.9,365.3 1125.8,362.6 1126.7,360.0 1127.6,357.6 1128.4,355.5 1129.2,353.7 1130.0,351.9 1130.8,350.3 1131.5,348.8 1132.3,347.5 1133.0,346.3 1133.8,345.2 1134.5,344.3 1135.3,343.5 1136.1,342.9 1136.8,342.4 1137.6,342.1 1138.4,341.8 1139.1,341.7 1139.9,341.7 1140.7,341.8 1141.4,342.0 1142.2,342.2 1142.9,342.6 1143.6,343.0 1144.4,343.6 1145.1,344.3 1145.9,345.2 1146.8,346.3 1147.7,347.6 1148.7,349.2 1149.7,351.0 1150.8,352.9 1151.8,354.8 1152.9,356.8 1153.9,358.8 1155.0,360.6 1156.0,362.4 1157.0,364.2 1158.1,366.0 1159.1,367.8 1160.1,369.6 1161.1,371.4 1162.1,373.2 1163.2,374.9" fill="none" stroke="#000" stroke-width="4.6" stroke-linejoin="round"/>
<polyline points="917.8,398.5 921.0,398.5 921.0,380.1 925.4,380.1 925.4,384.2 929.8,384.2 929.8,389.3 934.2,389.3 934.2,408.7 938.6,408.7 938.6,403.6 943.0,403.6 943.0,409.3 947.4,409.3 947.4,409.1 951.8,409.1 951.8,410.1 956.1,410.1 956.1,403.6 960.5,403.6 960.5,398.5 964.9,398.5 964.9,394.4 969.3,394.4 969.3,387.2 973.7,387.2 973.7,371.9 978.1,371.9 978.1,347.3 982.5,347.3 982.5,327.9 986.9,327.9 986.9,313.6 991.3,313.6 991.3,311.1 995.7,311.1 995.7,314.6 1000.1,314.6 1000.1,323.8 1004.5,323.8 1004.5,331.0 1008.9,331.0 1008.9,337.1 1013.3,337.1 1013.3,354.5 1017.7,354.5 1017.7,373.9 1022.1,373.9 1022.1,392.5 1026.5,392.5 1026.5,393.1 1030.8,393.1 1030.8,393.6 1035.2,393.6 1035.2,388.2 1039.6,388.2 1039.6,383.1 1044.0,383.1 1044.0,372.9 1048.4,372.9 1048.4,347.3 1052.8,347.3 1052.8,339.2 1057.2,339.2 1057.2,323.8 1061.6,323.8 1061.6,333.0 1066.0,333.0 1066.0,337.1 1070.4,337.1 1070.4,343.3 1074.8,343.3 1074.8,336.1 1079.2,336.1 1079.2,331.6 1083.6,331.6 1083.6,343.3 1088.0,343.3 1088.0,356.5 1092.4,356.5 1092.4,356.5 1096.8,356.5 1096.8,342.2 1101.1,342.2 1101.1,337.1 1105.5,337.1 1105.5,341.2 1109.9,341.2 1109.9,351.4 1114.3,351.4 1114.3,347.3 1118.7,347.3 1118.7,324.8 1123.1,324.8 1123.1,297.6 1127.5,297.6 1127.5,254.7 1131.9,254.7 1131.9,236.9 1136.3,236.9 1136.3,205.6 1140.7,205.6 1140.7,219.5 1145.1,219.5 1145.1,231.8 1149.5,231.8 1149.5,263.5 1153.9,263.5 1153.9,287.0 1158.3,287.0 1158.3,300.3 1162.7,300.3 1162.7,307.1 1167.1,307.1 1167.1,324.8 1171.5,324.8 1171.5,336.1 1175.8,336.1 1175.8,348.0 1180.2,348.0 1180.2,342.9 1184.6,342.9 1184.6,340.2 1189.0,340.2 1189.0,321.4 1193.4,321.4 1193.4,325.5 1197.8,325.5 1197.8,324.8 1202.2,324.8 1202.2,343.3 1206.6,343.3 1206.6,354.5 1211.0,354.5 1211.0,360.6 1215.4,360.6 1215.4,359.0 1219.8,359.0 1219.8,361.7 1224.2,361.7 1224.2,371.9 1228.6,371.9 1228.6,378.6 1233.0,378.6" fill="none" stroke="#35aeb8" stroke-width="3.9" stroke-linejoin="round"/>
</svg>
<rect x="886.1" y="41.5" width="347.1" height="405.7" fill="none" stroke="#333" stroke-width="1.4"/>
<text x="994.1" y="28.5" font-size="25.9" textLength="152.7" lengthAdjust="spacingAndGlyphs">Florianópolis</text>
</g>
<g>
<svg x="1254.9" y="41.5" width="347.1" height="405.7" viewBox="1254.9 41.5 347.1 405.7" overflow="hidden">
<path d="M1271.3 41.5V447.2M1328.4 41.5V447.2M1385.8 41.5V447.2M1443.6 41.5V447.2M1500.7 41.5V447.2M1557.5 41.5V447.2M1254.9 388.4H1602.0M1254.9 307.6H1602.0M1254.9 226.8H1602.0M1254.9 146.0H1602.0M1254.9 65.2H1602.0" stroke="#ebebeb" stroke-width="2.1" fill="none"/>
<path d="M1254.9 428.8H1602.0M1254.9 348.0H1602.0M1254.9 267.2H1602.0M1254.9 186.4H1602.0M1254.9 105.6H1602.0" stroke="#ebebeb" stroke-width="3.8" fill="none"/>
<path d="M1299.9 41.5V447.2M1357.0 41.5V447.2M1414.7 41.5V447.2M1472.5 41.5V447.2M1529.0 41.5V447.2M1586.1 41.5V447.2" stroke="#ebebeb" stroke-width="4.4" fill="none"/>
<path d="M1484.1 45.5V447.2" stroke="#000" stroke-width="4.8" stroke-dasharray="4.4 4.26" fill="none"/>
<polygon points="1294.5,300.9 1295.1,302.3 1295.6,303.6 1296.2,305.0 1296.7,306.3 1297.2,307.7 1297.8,309.0 1298.4,310.3 1299.0,311.6 1299.7,312.8 1300.4,314.1 1301.1,315.4 1301.9,316.6 1302.6,317.8 1303.5,318.9 1304.3,319.9 1305.2,320.8 1306.1,321.5 1307.1,322.1 1308.1,322.5 1309.1,322.9 1310.2,323.2 1311.3,323.5 1312.3,323.7 1313.3,323.8 1314.4,323.9 1315.4,323.9 1316.4,323.9 1317.4,323.8 1318.5,323.6 1319.5,323.4 1320.5,323.1 1321.5,322.8 1322.5,322.4 1323.5,321.9 1324.5,321.4 1325.5,320.8 1326.5,320.2 1327.5,319.5 1328.6,318.8 1329.7,318.1 1330.9,317.4 1332.2,316.6 1333.5,315.9 1334.8,315.0 1336.2,314.2 1337.5,313.3 1338.7,312.5 1339.9,311.6 1341.1,310.7 1342.1,309.8 1343.2,308.9 1344.2,307.9 1345.2,307.0 1346.2,305.9 1347.2,304.7 1348.1,303.4 1349.1,301.9 1350.0,300.1 1350.9,298.3 1351.8,296.4 1352.6,294.4 1353.5,292.5 1354.4,290.7 1355.3,289.1 1356.2,287.5 1357.1,285.9 1358.0,284.4 1358.9,282.9 1359.8,281.6 1360.7,280.3 1361.6,279.3 1362.4,278.4 1363.2,277.8 1364.0,277.4 1364.7,277.1 1365.4,277.0 1366.2,277.0 1366.9,277.0 1367.7,277.1 1368.6,277.2 1369.5,277.3 1370.5,277.4 1371.5,277.5 1372.5,277.7 1373.6,278.1 1374.7,278.5 1375.7,279.1 1376.7,279.9 1377.8,280.9 1378.7,282.2 1379.7,283.7 1380.7,285.3 1381.7,286.9 1382.7,288.5 1383.8,289.9 1384.9,291.1 1386.1,292.2 1387.4,293.1 1388.7,294.0 1390.0,294.8 1391.4,295.6 1392.7,296.2 1394.0,296.8 1395.1,297.2 1396.3,297.6 1397.3,297.8 1398.4,298.0 1399.4,298.0 1400.4,298.0 1401.3,298.0 1402.3,297.8 1403.3,297.6 1404.4,297.4 1405.4,297.1 1406.5,296.6 1407.5,296.2 1408.6,295.6 1409.6,295.1 1410.6,294.6 1411.5,294.2 1412.4,293.7 1413.1,293.1 1413.9,292.6 1414.6,292.0 1415.3,291.5 1416.0,291.1 1416.8,290.8 1417.6,290.7 1418.6,290.7 1419.6,290.9 1420.6,291.1 1421.7,291.4 1422.7,291.9 1423.8,292.5 1424.8,293.3 1425.8,294.2 1426.8,295.2 1427.7,296.5 1428.6,297.9 1429.5,299.4 1430.3,301.1 1431.2,302.8 1432.1,304.6 1433.0,306.4 1433.9,308.4 1434.7,310.5 1435.6,312.8 1436.5,315.1 1437.4,317.4 1438.3,319.6 1439.2,321.8 1440.1,323.8 1441.1,325.8 1442.1,327.7 1443.1,329.6 1444.2,331.4 1445.2,333.1 1446.3,334.7 1447.3,336.0 1448.3,337.1 1449.3,338.0 1450.4,338.6 1451.4,339.0 1452.4,339.2 1453.4,339.3 1454.5,339.3 1455.5,339.3 1456.5,339.2 1457.5,339.0 1458.5,338.6 1459.6,338.2 1460.6,337.7 1461.6,337.1 1462.6,336.5 1463.7,335.8 1464.7,335.1 1465.7,334.4 1466.7,333.7 1467.7,332.9 1468.8,332.1 1469.8,331.3 1470.8,330.3 1471.8,329.2 1472.9,327.9 1473.9,326.5 1475.0,325.0 1476.0,323.3 1477.1,321.6 1478.1,319.7 1479.1,317.8 1480.1,315.7 1481.0,313.6 1481.9,311.4 1482.7,309.0 1483.4,306.6 1484.2,304.0 1484.9,301.4 1485.6,298.7 1486.4,295.9 1487.2,293.1 1488.0,290.3 1488.9,287.4 1489.8,284.4 1490.7,281.4 1491.6,278.3 1492.5,275.1 1493.4,271.9 1494.3,268.6 1495.2,265.2 1496.1,261.5 1497.0,257.8 1497.9,254.0 1498.8,250.2 1499.7,246.6 1500.6,243.1 1501.5,240.0 1502.4,237.0 1503.3,234.1 1504.2,231.4 1505.1,228.8 1506.0,226.4 1506.9,224.2 1507.8,222.2 1508.6,220.6 1509.5,219.2 1510.5,218.2 1511.4,217.4 1512.3,216.8 1513.2,216.4 1514.1,216.1 1515.0,215.8 1515.8,215.4 1516.6,215.1 1517.4,214.7 1518.2,214.5 1519.0,214.3 1519.8,214.2 1520.5,214.2 1521.2,214.5 1521.9,215.0 1522.6,215.8 1523.2,216.7 1523.8,217.8 1524.4,219.1 1525.0,220.5 1525.7,222.1 1526.3,223.8 1527.1,225.7 1527.8,227.7 1528.7,230.0 1529.5,232.4 1530.4,235.0 1531.4,237.6 1532.3,240.2 1533.3,242.7 1534.2,245.1 1535.2,247.4 1536.2,249.8 1537.2,252.1 1538.2,254.4 1539.3,256.6 1540.3,258.8 1541.4,260.7 1542.4,262.5 1543.4,264.1 1544.4,265.5 1545.5,266.8 1546.5,268.0 1547.5,269.0 1548.5,270.0 1549.5,270.9 1550.6,271.7 1551.6,272.3 1552.6,272.8 1553.5,273.1 1554.5,273.4 1555.5,273.6 1556.6,273.9 1557.6,274.3 1558.7,274.7 1559.9,275.4 1561.2,276.1 1562.4,277.0 1563.7,277.8 1565.0,278.7 1566.4,279.5 1567.7,280.2 1569.0,280.9 1570.3,281.4 1571.5,282.0 1572.8,282.4 1574.1,282.9 1575.4,283.2 1576.6,283.5 1577.9,283.8 1579.2,283.9 1580.5,284.1 1581.8,284.2 1583.1,284.3 1584.4,284.3 1585.7,284.2 1587.0,283.9 1588.2,283.5 1589.4,282.9 1590.6,282.1 1591.7,281.0 1592.8,279.7 1593.9,278.3 1594.9,276.8 1595.9,275.3 1596.8,273.9 1597.6,272.7 1598.3,271.6 1598.9,270.5 1599.4,269.5 1599.9,268.5 1600.3,267.5 1600.8,266.5 1601.2,265.5 1601.7,264.5 1601.7,344.3 1601.0,343.1 1600.3,341.9 1599.6,340.7 1598.9,339.5 1598.2,338.4 1597.4,337.2 1596.5,336.1 1595.6,335.1 1594.5,334.0 1593.3,333.0 1592.0,332.0 1590.7,331.0 1589.3,330.1 1588.0,329.2 1586.6,328.5 1585.3,327.9 1584.1,327.5 1582.8,327.3 1581.5,327.2 1580.2,327.2 1578.9,327.2 1577.7,327.2 1576.4,327.1 1575.1,326.9 1573.8,326.5 1572.6,326.1 1571.3,325.7 1570.0,325.2 1568.7,324.6 1567.4,324.0 1566.2,323.4 1564.9,322.8 1563.6,322.1 1562.3,321.4 1561.0,320.6 1559.8,319.8 1558.5,319.0 1557.2,318.2 1555.9,317.4 1554.7,316.7 1553.4,316.1 1552.1,315.6 1550.8,315.2 1549.5,314.7 1548.2,314.3 1546.9,313.6 1545.7,312.7 1544.4,311.6 1543.2,310.1 1542.0,308.3 1540.8,306.3 1539.6,304.2 1538.5,302.0 1537.4,299.7 1536.3,297.4 1535.2,295.2 1534.2,293.0 1533.3,290.6 1532.4,288.2 1531.5,285.8 1530.6,283.4 1529.7,281.1 1528.9,278.9 1528.1,276.8 1527.3,274.8 1526.4,272.9 1525.7,271.0 1524.9,269.2 1524.1,267.5 1523.4,266.0 1522.6,264.6 1521.9,263.5 1521.3,262.6 1520.6,261.9 1519.9,261.3 1519.3,260.9 1518.7,260.7 1518.1,260.5 1517.5,260.4 1516.8,260.4 1516.2,260.4 1515.6,260.5 1515.0,260.7 1514.3,260.9 1513.7,261.3 1513.1,261.9 1512.4,262.6 1511.7,263.5 1511.0,264.6 1510.3,265.9 1509.5,267.4 1508.7,269.1 1507.9,270.8 1507.1,272.7 1506.4,274.7 1505.6,276.8 1504.8,279.0 1504.0,281.3 1503.3,283.8 1502.5,286.3 1501.7,289.0 1501.0,291.7 1500.2,294.4 1499.4,297.2 1498.7,300.1 1497.9,303.1 1497.1,306.1 1496.4,309.3 1495.6,312.4 1494.8,315.5 1494.1,318.7 1493.3,321.8 1492.6,324.9 1491.8,328.0 1491.1,331.2 1490.4,334.3 1489.6,337.4 1488.9,340.5 1488.0,343.4 1487.2,346.3 1486.2,349.1 1485.2,352.0 1484.2,354.7 1483.1,357.4 1482.1,360.0 1481.0,362.5 1480.0,364.7 1479.0,366.8 1478.1,368.5 1477.1,370.1 1476.2,371.4 1475.4,372.6 1474.5,373.7 1473.6,374.7 1472.7,375.8 1471.8,377.0 1470.9,378.2 1470.0,379.5 1469.2,380.8 1468.3,382.1 1467.4,383.3 1466.5,384.4 1465.6,385.4 1464.7,386.2 1463.8,386.8 1462.9,387.3 1461.9,387.7 1461.0,388.0 1460.1,388.2 1459.2,388.3 1458.4,388.3 1457.5,388.2 1456.7,388.1 1455.9,388.0 1455.2,387.7 1454.5,387.3 1453.7,386.9 1453.0,386.4 1452.2,385.8 1451.4,385.2 1450.5,384.4 1449.7,383.6 1448.8,382.8 1447.9,381.8 1447.0,380.7 1446.1,379.6 1445.2,378.3 1444.2,377.0 1443.3,375.5 1442.3,373.9 1441.2,372.1 1440.2,370.3 1439.2,368.4 1438.1,366.5 1437.1,364.6 1436.0,362.7 1435.0,360.8 1434.0,358.7 1433.0,356.6 1432.0,354.6 1430.9,352.5 1429.9,350.6 1428.9,348.9 1427.9,347.3 1426.8,346.0 1425.8,344.8 1424.8,343.7 1423.7,342.8 1422.7,342.0 1421.7,341.3 1420.7,340.7 1419.7,340.2 1418.8,339.8 1417.9,339.5 1417.0,339.4 1416.1,339.3 1415.2,339.4 1414.4,339.6 1413.5,339.8 1412.5,340.2 1411.6,340.8 1410.6,341.6 1409.6,342.6 1408.6,343.7 1407.5,344.7 1406.5,345.6 1405.4,346.3 1404.4,346.7 1403.3,346.8 1402.1,346.6 1401.0,346.1 1399.8,345.6 1398.6,345.0 1397.5,344.3 1396.3,343.7 1395.1,343.3 1394.0,342.9 1392.8,342.6 1391.5,342.3 1390.3,341.9 1389.1,341.6 1388.0,341.2 1386.9,340.8 1385.9,340.2 1385.1,339.5 1384.4,338.7 1383.7,337.8 1383.1,336.8 1382.6,335.8 1382.0,334.8 1381.4,333.9 1380.8,333.0 1380.2,332.2 1379.6,331.3 1379.0,330.5 1378.3,329.7 1377.7,328.9 1377.1,328.2 1376.4,327.5 1375.7,326.9 1375.0,326.3 1374.3,325.7 1373.5,325.2 1372.8,324.7 1372.0,324.3 1371.2,324.0 1370.4,323.8 1369.6,323.8 1368.7,323.9 1367.9,324.2 1367.0,324.5 1366.1,324.9 1365.2,325.5 1364.3,326.1 1363.4,327.0 1362.4,327.9 1361.4,329.1 1360.4,330.5 1359.3,332.0 1358.3,333.7 1357.2,335.4 1356.2,337.1 1355.2,338.7 1354.2,340.2 1353.4,341.6 1352.6,343.0 1351.8,344.4 1351.1,345.8 1350.3,347.1 1349.6,348.3 1348.9,349.4 1348.1,350.4 1347.4,351.2 1346.6,351.8 1345.9,352.3 1345.2,352.7 1344.4,353.1 1343.7,353.5 1342.8,353.9 1342.0,354.5 1341.1,355.2 1340.1,355.9 1339.1,356.7 1338.0,357.5 1337.0,358.3 1335.9,359.1 1334.8,359.9 1333.8,360.6 1332.8,361.3 1331.8,362.1 1330.7,362.8 1329.7,363.5 1328.7,364.1 1327.7,364.8 1326.6,365.3 1325.6,365.7 1324.6,366.1 1323.6,366.4 1322.6,366.7 1321.5,366.9 1320.5,367.0 1319.5,367.1 1318.5,367.2 1317.4,367.2 1316.4,367.1 1315.4,367.0 1314.4,366.9 1313.3,366.7 1312.3,366.5 1311.3,366.2 1310.3,366.0 1309.3,365.7 1308.2,365.5 1307.2,365.2 1306.1,364.8 1305.1,364.4 1304.0,364.1 1303.0,363.9 1302.0,363.7 1301.1,363.7 1300.2,363.8 1299.3,364.1 1298.5,364.5 1297.7,364.9 1296.9,365.4 1296.1,365.9 1295.3,366.4 1294.5,366.8" fill="#b6b6b6" fill-opacity="0.81"/>
<polyline points="1293.9,334.0 1294.8,334.7 1295.7,335.4 1296.6,336.0 1297.4,336.7 1298.3,337.3 1299.2,338.0 1300.1,338.6 1301.1,339.2 1302.1,339.7 1303.1,340.3 1304.2,340.9 1305.2,341.5 1306.3,342.0 1307.3,342.5 1308.3,342.9 1309.3,343.3 1310.1,343.5 1310.9,343.8 1311.7,344.0 1312.4,344.1 1313.1,344.3 1313.8,344.3 1314.6,344.3 1315.4,344.3 1316.2,344.2 1317.1,344.0 1318.0,343.8 1318.9,343.6 1319.8,343.3 1320.7,343.0 1321.7,342.6 1322.6,342.2 1323.4,341.8 1324.3,341.4 1325.2,341.0 1326.1,340.5 1327.0,339.9 1327.8,339.4 1328.8,338.8 1329.7,338.1 1330.7,337.4 1331.7,336.6 1332.7,335.8 1333.7,334.9 1334.8,334.1 1335.8,333.2 1336.9,332.4 1337.9,331.6 1338.9,330.9 1340.0,330.2 1341.0,329.6 1342.1,328.9 1343.2,328.3 1344.2,327.7 1345.1,327.0 1346.1,326.3 1346.9,325.5 1347.7,324.8 1348.5,324.1 1349.3,323.3 1350.0,322.5 1350.7,321.7 1351.5,320.7 1352.2,319.7 1353.0,318.6 1353.8,317.4 1354.6,316.0 1355.3,314.7 1356.1,313.3 1356.9,311.9 1357.6,310.7 1358.3,309.5 1359.0,308.4 1359.7,307.4 1360.3,306.3 1361.0,305.4 1361.6,304.5 1362.2,303.7 1362.8,303.0 1363.5,302.4 1364.1,301.9 1364.7,301.5 1365.3,301.3 1365.9,301.1 1366.6,301.0 1367.2,301.0 1367.9,301.0 1368.6,300.9 1369.3,300.9 1370.1,300.9 1370.8,300.9 1371.6,301.0 1372.4,301.1 1373.2,301.3 1374.0,301.5 1374.7,301.7 1375.4,302.0 1376.0,302.3 1376.6,302.6 1377.3,303.0 1377.9,303.4 1378.5,304.0 1379.1,304.6 1379.8,305.4 1380.5,306.4 1381.2,307.7 1382.0,309.1 1382.8,310.5 1383.5,312.0 1384.3,313.4 1385.1,314.6 1385.9,315.6 1386.8,316.4 1387.7,317.1 1388.6,317.6 1389.5,318.0 1390.5,318.4 1391.4,318.7 1392.3,319.0 1393.1,319.3 1393.9,319.7 1394.7,320.0 1395.5,320.2 1396.3,320.5 1397.1,320.7 1397.8,320.9 1398.5,321.2 1399.2,321.4 1399.9,321.6 1400.6,321.9 1401.2,322.1 1401.9,322.4 1402.5,322.6 1403.1,322.8 1403.7,322.8 1404.4,322.8 1405.0,322.6 1405.7,322.4 1406.3,322.0 1407.0,321.6 1407.6,321.1 1408.3,320.6 1408.9,320.2 1409.5,319.7 1410.0,319.3 1410.5,318.8 1411.0,318.3 1411.5,317.8 1412.0,317.3 1412.5,316.8 1413.0,316.4 1413.6,316.1 1414.1,315.8 1414.8,315.6 1415.4,315.4 1416.0,315.3 1416.7,315.3 1417.4,315.2 1418.0,315.2 1418.7,315.2 1419.3,315.3 1419.9,315.3 1420.5,315.4 1421.2,315.5 1421.8,315.6 1422.4,315.9 1423.1,316.2 1423.8,316.7 1424.5,317.2 1425.2,317.9 1426.0,318.6 1426.8,319.4 1427.6,320.4 1428.4,321.4 1429.1,322.5 1429.9,323.8 1430.7,325.3 1431.4,326.9 1432.1,328.7 1432.9,330.5 1433.6,332.5 1434.4,334.4 1435.2,336.3 1436.0,338.1 1437.0,340.0 1438.0,341.9 1439.0,343.8 1440.1,345.7 1441.1,347.5 1442.2,349.3 1443.2,351.0 1444.2,352.5 1445.2,353.8 1446.1,355.1 1447.0,356.2 1447.9,357.2 1448.8,358.2 1449.7,359.1 1450.5,359.9 1451.4,360.6 1452.2,361.3 1453.0,361.9 1453.8,362.3 1454.5,362.7 1455.3,363.1 1456.0,363.3 1456.8,363.5 1457.5,363.7 1458.3,363.8 1459.0,363.8 1459.8,363.8 1460.5,363.7 1461.3,363.5 1462.1,363.3 1462.8,363.0 1463.7,362.7 1464.5,362.3 1465.4,361.8 1466.3,361.3 1467.2,360.8 1468.1,360.1 1469.0,359.4 1469.9,358.5 1470.8,357.6 1471.7,356.5 1472.6,355.4 1473.5,354.1 1474.4,352.8 1475.3,351.3 1476.2,349.8 1477.1,348.1 1478.0,346.3 1478.9,344.4 1479.8,342.3 1480.7,340.1 1481.6,337.8 1482.5,335.4 1483.4,333.0 1484.3,330.5 1485.1,327.9 1485.9,325.3 1486.7,322.6 1487.5,319.9 1488.3,317.1 1489.0,314.2 1489.8,311.3 1490.5,308.4 1491.3,305.4 1492.0,302.4 1492.8,299.4 1493.6,296.4 1494.3,293.3 1495.1,290.2 1495.9,287.1 1496.6,284.0 1497.4,280.9 1498.2,277.7 1499.0,274.5 1499.7,271.1 1500.5,267.8 1501.3,264.6 1502.1,261.6 1502.8,258.8 1503.5,256.3 1504.2,254.2 1504.9,252.2 1505.5,250.5 1506.2,249.0 1506.8,247.6 1507.4,246.3 1508.0,245.2 1508.6,244.1 1509.3,243.1 1509.9,242.2 1510.6,241.4 1511.2,240.8 1511.8,240.2 1512.5,239.8 1513.1,239.3 1513.8,239.0 1514.4,238.6 1515.0,238.4 1515.7,238.2 1516.3,238.1 1517.0,238.1 1517.6,238.1 1518.2,238.2 1518.9,238.3 1519.5,238.5 1520.1,238.8 1520.8,239.0 1521.4,239.4 1522.1,239.8 1522.7,240.4 1523.3,241.1 1524.0,242.0 1524.6,243.1 1525.2,244.4 1525.9,245.8 1526.5,247.4 1527.1,249.0 1527.7,250.7 1528.4,252.5 1529.1,254.3 1529.8,256.2 1530.5,258.1 1531.3,260.2 1532.0,262.3 1532.8,264.5 1533.6,266.6 1534.4,268.7 1535.2,270.7 1536.1,272.6 1536.9,274.5 1537.8,276.4 1538.7,278.3 1539.6,280.1 1540.5,281.9 1541.4,283.5 1542.4,285.0 1543.4,286.3 1544.4,287.5 1545.4,288.7 1546.4,289.7 1547.5,290.7 1548.5,291.5 1549.5,292.4 1550.6,293.1 1551.6,293.8 1552.6,294.4 1553.5,294.9 1554.5,295.3 1555.5,295.7 1556.6,296.2 1557.6,296.7 1558.7,297.2 1559.9,297.9 1561.2,298.7 1562.4,299.5 1563.7,300.4 1565.0,301.2 1566.4,302.0 1567.7,302.7 1569.0,303.4 1570.3,303.9 1571.5,304.4 1572.8,304.9 1574.1,305.3 1575.4,305.6 1576.6,305.9 1577.9,306.2 1579.2,306.4 1580.5,306.7 1581.7,306.8 1582.9,307.0 1584.2,307.1 1585.4,307.1 1586.7,307.1 1588.0,307.1 1589.4,307.1 1590.9,306.9 1592.3,306.7 1593.9,306.5 1595.4,306.2 1597.0,305.9 1598.6,305.6 1600.1,305.3 1601.7,305.0" fill="none" stroke="#000" stroke-width="4.6" stroke-linejoin="round"/>
<polyline points="1290.8,395.0 1294.2,395.0 1294.2,384.2 1298.6,384.2 1298.6,381.1 1303.0,381.1 1303.0,377.4 1307.4,377.4 1307.4,373.9 1311.8,373.9 1311.8,355.5 1316.2,355.5 1316.2,348.4 1320.6,348.4 1320.6,332.0 1324.9,332.0 1324.9,328.9 1329.3,328.9 1329.3,318.1 1333.7,318.1 1333.7,314.8 1338.1,314.8 1338.1,315.2 1342.5,315.2 1342.5,303.0 1346.9,303.0 1346.9,273.7 1351.3,273.7 1351.3,253.9 1355.7,253.9 1355.7,242.0 1360.1,242.0 1360.1,247.8 1364.5,247.8 1364.5,233.4 1368.9,233.4 1368.9,223.2 1373.3,223.2 1373.3,222.6 1377.7,222.6 1377.7,245.8 1382.1,245.8 1382.1,245.1 1386.5,245.1 1386.5,253.9 1390.9,253.9 1390.9,257.4 1395.3,257.4 1395.3,272.3 1399.6,272.3 1399.6,277.8 1404.0,277.8 1404.0,284.1 1408.4,284.1 1408.4,284.4 1412.8,284.4 1412.8,291.1 1417.2,291.1 1417.2,300.3 1421.6,300.3 1421.6,322.2 1426.0,322.2 1426.0,335.1 1430.4,335.1 1430.4,343.3 1434.8,343.3 1434.8,348.0 1439.2,348.0 1439.2,349.1 1443.6,349.1 1443.6,348.7 1448.0,348.7 1448.0,342.6 1452.4,342.6 1452.4,340.6 1456.8,340.6 1456.8,341.0 1461.2,341.0 1461.2,329.6 1465.6,329.6 1465.6,313.6 1469.9,313.6 1469.9,296.2 1474.3,296.2 1474.3,295.8 1478.7,295.8 1478.7,290.1 1483.1,290.1 1483.1,277.8 1487.5,277.8 1487.5,274.3 1491.9,274.3 1491.9,274.3 1496.3,274.3 1496.3,262.1 1500.7,262.1 1500.7,238.3 1505.1,238.3 1505.1,224.6 1509.5,224.6 1509.5,228.7 1513.9,228.7 1513.9,232.8 1518.3,232.8 1518.3,234.9 1522.7,234.9 1522.7,250.2 1527.1,250.2 1527.1,264.1 1531.5,264.1 1531.5,282.9 1535.9,282.9 1535.9,291.1 1540.3,291.1 1540.3,295.6 1544.6,295.6 1544.6,300.9 1549.0,300.9 1549.0,300.4 1553.4,300.4 1553.4,289.1 1557.8,289.1 1557.8,277.8 1562.2,277.8 1562.2,274.3 1566.6,274.3 1566.6,278.8 1571.0,278.8 1571.0,278.8 1575.4,278.8 1575.4,281.9 1579.8,281.9 1579.8,281.9 1584.2,281.9 1584.2,279.2 1588.6,279.2 1588.6,281.9 1593.0,281.9 1593.0,281.9 1597.4,281.9 1597.4,283.9 1601.8,283.9" fill="none" stroke="#0f9a8b" stroke-width="3.9" stroke-linejoin="round"/>
</svg>
<rect x="1254.9" y="41.5" width="347.1" height="405.7" fill="none" stroke="#333" stroke-width="1.4"/>
<text x="1385.1" y="28.5" font-size="25.9" textLength="91.2" lengthAdjust="spacingAndGlyphs">Goiânia</text>
</g>
<g>
<svg x="1623.7" y="41.5" width="347.1" height="405.7" viewBox="1623.7 41.5 347.1 405.7" overflow="hidden">
<path d="M1640.1 41.5V447.2M1697.2 41.5V447.2M1754.6 41.5V447.2M1812.4 41.5V447.2M1869.5 41.5V447.2M1926.3 41.5V447.2M1623.7 388.4H1970.8M1623.7 307.6H1970.8M1623.7 226.8H1970.8M1623.7 146.0H1970.8M1623.7 65.2H1970.8" stroke="#ebebeb" stroke-width="2.1" fill="none"/>
<path d="M1623.7 428.8H1970.8M1623.7 348.0H1970.8M1623.7 267.2H1970.8M1623.7 186.4H1970.8M1623.7 105.6H1970.8" stroke="#ebebeb" stroke-width="3.8" fill="none"/>
<path d="M1668.7 41.5V447.2M1725.8 41.5V447.2M1783.5 41.5V447.2M1841.3 41.5V447.2M1897.8 41.5V447.2M1954.9 41.5V447.2" stroke="#ebebeb" stroke-width="4.4" fill="none"/>
<path d="M1854.2 45.5V447.2" stroke="#000" stroke-width="4.8" stroke-dasharray="4.4 4.26" fill="none"/>
<polygon points="1663.3,273.7 1663.9,270.3 1664.5,266.8 1665.0,263.4 1665.6,260.0 1666.2,256.5 1666.8,253.1 1667.4,249.6 1668.0,246.1 1668.7,242.6 1669.4,238.9 1670.2,235.3 1670.9,231.6 1671.7,228.0 1672.5,224.4 1673.3,220.9 1674.2,217.5 1675.0,214.2 1675.9,210.9 1676.8,207.6 1677.7,204.4 1678.6,201.4 1679.5,198.4 1680.4,195.6 1681.3,192.9 1682.2,190.4 1683.2,188.0 1684.1,185.7 1685.0,183.5 1685.9,181.5 1686.8,179.6 1687.7,178.0 1688.5,176.6 1689.3,175.4 1690.0,174.3 1690.7,173.5 1691.4,172.8 1692.1,172.3 1692.8,172.0 1693.5,171.9 1694.2,172.1 1694.9,172.5 1695.6,173.0 1696.3,173.8 1696.9,174.8 1697.6,176.0 1698.3,177.4 1699.0,178.9 1699.7,180.7 1700.5,182.6 1701.2,184.9 1701.9,187.3 1702.7,189.9 1703.5,192.6 1704.2,195.4 1705.0,198.3 1705.9,201.1 1706.7,204.1 1707.6,207.2 1708.5,210.5 1709.4,213.8 1710.4,217.0 1711.3,220.2 1712.2,223.1 1713.0,225.7 1713.8,227.9 1714.6,229.9 1715.3,231.7 1716.0,233.3 1716.8,234.9 1717.5,236.5 1718.3,238.2 1719.2,240.0 1720.1,241.9 1721.1,244.0 1722.1,246.1 1723.1,248.2 1724.2,250.3 1725.2,252.4 1726.3,254.4 1727.3,256.3 1728.4,258.2 1729.4,260.0 1730.4,261.8 1731.4,263.6 1732.5,265.2 1733.5,266.8 1734.5,268.3 1735.5,269.6 1736.5,270.8 1737.6,271.6 1738.6,272.4 1739.6,273.0 1740.6,273.7 1741.7,274.5 1742.7,275.5 1743.7,276.8 1744.7,278.4 1745.8,280.4 1746.9,282.6 1747.9,284.9 1749.0,287.2 1750.0,289.4 1751.0,291.4 1751.9,293.1 1752.7,294.6 1753.6,296.0 1754.3,297.2 1755.1,298.3 1755.8,299.2 1756.5,300.1 1757.3,300.8 1758.0,301.3 1758.8,301.8 1759.5,302.1 1760.3,302.2 1761.0,302.3 1761.8,302.2 1762.5,302.0 1763.3,301.7 1764.1,301.3 1765.0,300.8 1765.9,300.2 1766.8,299.5 1767.7,298.7 1768.6,297.8 1769.5,296.7 1770.4,295.5 1771.3,294.2 1772.2,292.6 1773.1,290.9 1774.0,289.0 1774.9,287.0 1775.8,284.9 1776.7,282.9 1777.6,280.8 1778.5,278.8 1779.3,276.8 1780.2,274.7 1781.1,272.6 1781.9,270.5 1782.8,268.4 1783.7,266.5 1784.6,264.9 1785.6,263.5 1786.7,262.4 1787.8,261.5 1789.0,260.8 1790.2,260.3 1791.4,259.9 1792.6,259.7 1793.8,259.5 1794.8,259.4 1795.8,259.4 1796.7,259.6 1797.5,259.9 1798.3,260.3 1799.2,260.8 1800.0,261.4 1801.0,261.9 1802.0,262.5 1803.1,263.1 1804.4,264.0 1805.7,264.9 1807.0,265.8 1808.4,266.7 1809.7,267.4 1811.0,268.0 1812.2,268.2 1813.3,268.1 1814.4,267.7 1815.5,267.1 1816.5,266.4 1817.5,265.6 1818.5,264.8 1819.4,264.1 1820.4,263.5 1821.3,263.0 1822.2,262.6 1823.1,262.2 1824.0,261.8 1824.9,261.4 1825.8,261.1 1826.7,260.7 1827.5,260.4 1828.4,260.1 1829.4,259.7 1830.3,259.4 1831.2,259.1 1832.1,258.8 1833.0,258.7 1833.9,258.6 1834.7,258.8 1835.5,259.1 1836.3,259.6 1837.0,260.3 1837.8,261.0 1838.5,261.9 1839.3,262.7 1840.0,263.6 1840.8,264.5 1841.7,265.5 1842.6,266.5 1843.5,267.7 1844.4,268.8 1845.3,269.9 1846.3,271.0 1847.1,271.9 1848.0,272.7 1848.8,273.3 1849.6,273.9 1850.3,274.3 1851.1,274.7 1851.8,275.0 1852.5,275.2 1853.3,275.2 1854.1,275.2 1855.0,275.0 1855.9,274.7 1856.8,274.3 1857.7,273.8 1858.6,273.2 1859.5,272.5 1860.4,271.6 1861.3,270.7 1862.1,269.5 1862.9,268.2 1863.6,266.8 1864.4,265.3 1865.1,263.6 1865.8,261.9 1866.6,260.2 1867.4,258.4 1868.3,256.5 1869.1,254.3 1870.0,252.1 1870.9,249.8 1871.8,247.6 1872.8,245.5 1873.7,243.6 1874.6,242.0 1875.5,240.7 1876.4,239.7 1877.3,238.8 1878.2,238.1 1879.1,237.5 1879.9,237.0 1880.8,236.4 1881.7,235.9 1882.6,235.3 1883.5,234.7 1884.5,234.1 1885.4,233.5 1886.3,233.1 1887.2,232.8 1888.0,232.7 1888.9,232.8 1889.7,233.2 1890.5,233.8 1891.2,234.5 1892.0,235.4 1892.7,236.5 1893.4,237.6 1894.2,238.8 1895.0,240.0 1895.9,241.3 1896.7,242.7 1897.6,244.3 1898.5,245.9 1899.5,247.6 1900.4,249.2 1901.3,250.8 1902.2,252.2 1903.1,253.6 1904.0,255.0 1904.9,256.3 1905.8,257.6 1906.7,258.9 1907.6,260.0 1908.4,261.1 1909.3,262.1 1910.2,263.0 1911.1,263.9 1912.0,264.7 1912.9,265.5 1913.8,266.1 1914.7,266.6 1915.6,266.9 1916.5,267.0 1917.4,266.8 1918.3,266.3 1919.1,265.6 1920.0,264.8 1920.9,263.9 1921.8,263.0 1922.7,262.2 1923.7,261.5 1924.6,260.8 1925.6,260.1 1926.7,259.4 1927.7,258.7 1928.7,258.0 1929.8,257.5 1930.8,257.0 1931.8,256.7 1932.9,256.6 1933.9,256.6 1935.0,256.7 1936.1,256.9 1937.1,257.1 1938.1,257.4 1939.1,257.7 1940.0,258.0 1940.9,258.3 1941.8,258.7 1942.6,259.2 1943.4,259.6 1944.2,260.1 1944.9,260.6 1945.5,261.0 1946.2,261.5 1946.7,261.8 1947.1,262.2 1947.5,262.5 1947.9,262.8 1948.2,263.1 1948.5,263.5 1948.9,263.8 1949.2,264.1 1949.2,319.7 1948.6,319.4 1948.0,319.1 1947.4,318.8 1946.8,318.5 1946.2,318.2 1945.5,317.9 1944.8,317.6 1944.1,317.3 1943.3,316.9 1942.5,316.6 1941.6,316.2 1940.7,315.8 1939.8,315.4 1938.9,315.1 1937.9,314.8 1937.0,314.6 1936.0,314.5 1935.0,314.3 1933.9,314.2 1932.9,314.1 1931.8,314.1 1930.8,314.2 1929.8,314.4 1928.8,314.6 1927.8,315.0 1926.9,315.5 1926.0,316.1 1925.1,316.8 1924.3,317.5 1923.4,318.2 1922.5,319.0 1921.6,319.7 1920.7,320.6 1919.8,321.6 1919.0,322.7 1918.1,323.7 1917.2,324.7 1916.3,325.5 1915.4,326.1 1914.5,326.3 1913.5,326.1 1912.5,325.7 1911.4,325.0 1910.4,324.1 1909.3,323.1 1908.3,322.0 1907.3,320.9 1906.3,319.7 1905.3,318.6 1904.4,317.3 1903.5,315.9 1902.6,314.4 1901.8,312.9 1900.9,311.4 1900.0,309.9 1899.1,308.5 1898.2,307.0 1897.3,305.5 1896.4,303.9 1895.5,302.4 1894.6,300.9 1893.7,299.5 1892.8,298.3 1892.0,297.2 1891.1,296.4 1890.3,295.7 1889.5,295.1 1888.8,294.6 1888.0,294.3 1887.3,294.0 1886.5,293.9 1885.8,293.8 1885.2,293.7 1884.5,293.8 1883.9,294.0 1883.3,294.3 1882.7,294.6 1882.1,295.1 1881.4,295.6 1880.7,296.2 1879.9,296.9 1879.1,297.7 1878.2,298.6 1877.3,299.5 1876.3,300.6 1875.4,301.7 1874.5,303.0 1873.6,304.4 1872.7,306.0 1871.8,307.8 1870.9,309.7 1870.0,311.7 1869.1,313.8 1868.2,315.9 1867.3,317.9 1866.4,319.7 1865.5,321.6 1864.6,323.4 1863.7,325.2 1862.8,327.0 1861.9,328.8 1861.0,330.4 1860.1,331.8 1859.2,333.0 1858.4,334.1 1857.6,335.0 1856.9,335.8 1856.1,336.4 1855.4,337.0 1854.6,337.3 1853.9,337.6 1853.1,337.7 1852.3,337.7 1851.6,337.5 1850.8,337.1 1850.0,336.6 1849.3,336.1 1848.5,335.4 1847.7,334.7 1847.0,334.0 1846.2,333.3 1845.5,332.4 1844.7,331.5 1844.0,330.5 1843.2,329.5 1842.4,328.6 1841.7,327.7 1840.8,326.9 1840.0,326.1 1839.1,325.4 1838.3,324.7 1837.4,324.0 1836.5,323.4 1835.6,322.9 1834.6,322.5 1833.7,322.2 1832.7,322.1 1831.7,322.1 1830.6,322.3 1829.6,322.5 1828.5,322.8 1827.5,323.2 1826.5,323.5 1825.5,323.8 1824.5,324.1 1823.6,324.5 1822.7,324.9 1821.8,325.2 1820.9,325.6 1820.0,326.1 1819.2,326.5 1818.3,326.9 1817.5,327.4 1816.7,327.9 1816.0,328.5 1815.2,329.1 1814.5,329.6 1813.7,330.0 1813.0,330.3 1812.2,330.4 1811.4,330.2 1810.7,329.9 1810.0,329.5 1809.2,328.9 1808.4,328.3 1807.7,327.6 1806.9,326.9 1806.1,326.3 1805.2,325.6 1804.4,324.7 1803.5,323.8 1802.6,322.9 1801.6,322.0 1800.7,321.3 1799.8,320.6 1798.9,320.1 1798.0,319.9 1797.1,319.7 1796.2,319.7 1795.3,319.7 1794.4,319.9 1793.5,320.1 1792.7,320.4 1791.8,320.8 1790.9,321.1 1789.9,321.5 1789.0,321.9 1788.1,322.3 1787.2,322.9 1786.3,323.7 1785.4,324.7 1784.6,325.9 1783.8,327.4 1783.0,329.2 1782.2,331.3 1781.4,333.5 1780.6,335.8 1779.9,338.1 1779.2,340.3 1778.5,342.2 1777.8,344.1 1777.2,346.0 1776.6,347.8 1776.0,349.6 1775.4,351.3 1774.7,352.8 1774.1,354.3 1773.4,355.5 1772.6,356.6 1771.7,357.4 1770.8,358.2 1769.9,358.8 1769.0,359.3 1768.0,359.8 1767.1,360.2 1766.2,360.6 1765.3,361.1 1764.4,361.6 1763.4,362.0 1762.5,362.4 1761.6,362.6 1760.7,362.8 1759.8,362.8 1759.0,362.7 1758.3,362.4 1757.6,361.9 1757.0,361.3 1756.4,360.6 1755.8,359.8 1755.2,358.8 1754.6,357.8 1753.9,356.5 1753.2,355.1 1752.5,353.4 1751.7,351.5 1751.0,349.5 1750.2,347.4 1749.4,345.5 1748.6,343.7 1747.8,342.2 1747.0,341.0 1746.1,340.0 1745.2,339.1 1744.3,338.3 1743.4,337.6 1742.5,336.8 1741.6,336.0 1740.6,335.1 1739.7,334.1 1738.7,333.1 1737.7,332.1 1736.7,331.0 1735.6,329.9 1734.6,328.7 1733.5,327.4 1732.5,325.9 1731.3,324.2 1730.2,322.3 1729.0,320.3 1727.9,318.1 1726.7,316.0 1725.5,313.8 1724.4,311.6 1723.2,309.5 1722.2,307.6 1721.1,305.8 1720.1,304.1 1719.1,302.4 1718.1,300.5 1717.1,298.4 1716.1,296.0 1715.1,293.1 1714.0,289.7 1713.0,285.8 1711.9,281.4 1710.9,276.9 1709.8,272.4 1708.8,268.0 1707.8,263.9 1706.9,260.4 1706.0,257.4 1705.2,254.6 1704.4,252.0 1703.6,249.7 1702.9,247.5 1702.2,245.6 1701.5,243.7 1700.8,242.0 1700.1,240.4 1699.4,239.0 1698.8,237.8 1698.1,236.7 1697.5,235.7 1696.9,234.9 1696.3,234.3 1695.6,233.8 1695.0,233.5 1694.4,233.3 1693.8,233.2 1693.1,233.3 1692.5,233.6 1691.9,234.1 1691.2,234.9 1690.5,235.9 1689.8,237.2 1689.1,238.7 1688.3,240.4 1687.5,242.4 1686.7,244.6 1686.0,247.0 1685.2,249.5 1684.4,252.2 1683.6,255.2 1682.9,258.5 1682.1,262.1 1681.3,265.8 1680.6,269.6 1679.8,273.4 1679.0,277.2 1678.3,280.9 1677.5,284.5 1676.7,288.2 1675.9,291.9 1675.1,295.6 1674.4,299.2 1673.6,302.8 1672.8,306.2 1672.1,309.5 1671.4,312.6 1670.7,315.7 1670.1,318.6 1669.4,321.4 1668.8,324.1 1668.2,326.8 1667.6,329.4 1667.0,332.0 1666.5,334.5 1666.0,336.9 1665.5,339.2 1665.1,341.5 1664.6,343.7 1664.2,345.9 1663.8,348.1 1663.3,350.4" fill="#b6b6b6" fill-opacity="0.81"/>
<polyline points="1663.3,311.6 1663.8,309.0 1664.2,306.5 1664.7,304.0 1665.1,301.5 1665.6,298.9 1666.1,296.4 1666.5,293.8 1667.0,291.1 1667.5,288.4 1668.0,285.7 1668.5,283.0 1669.0,280.2 1669.5,277.4 1670.0,274.6 1670.5,271.6 1671.1,268.6 1671.7,265.5 1672.3,262.2 1672.9,258.8 1673.5,255.3 1674.2,251.9 1674.8,248.5 1675.5,245.2 1676.2,242.0 1676.9,238.9 1677.7,235.9 1678.5,232.8 1679.3,229.9 1680.1,227.0 1680.9,224.3 1681.6,221.8 1682.3,219.5 1683.0,217.4 1683.7,215.5 1684.4,213.8 1685.0,212.2 1685.7,210.8 1686.3,209.5 1686.9,208.3 1687.5,207.3 1688.0,206.4 1688.6,205.7 1689.1,205.1 1689.6,204.7 1690.1,204.3 1690.6,204.1 1691.0,203.8 1691.6,203.6 1692.1,203.3 1692.6,203.0 1693.1,202.8 1693.6,202.6 1694.1,202.6 1694.6,202.6 1695.1,202.8 1695.6,203.2 1696.1,203.7 1696.6,204.5 1697.1,205.3 1697.6,206.3 1698.1,207.5 1698.6,208.7 1699.2,210.0 1699.7,211.3 1700.3,212.8 1700.9,214.4 1701.5,216.0 1702.2,217.7 1702.8,219.6 1703.5,221.5 1704.1,223.5 1704.8,225.7 1705.6,227.9 1706.3,230.4 1707.1,233.0 1707.9,235.6 1708.7,238.3 1709.5,241.0 1710.3,243.6 1711.0,246.1 1711.7,248.5 1712.3,251.0 1712.9,253.3 1713.5,255.7 1714.1,258.0 1714.7,260.3 1715.4,262.4 1716.1,264.5 1716.9,266.5 1717.7,268.4 1718.6,270.2 1719.5,271.9 1720.4,273.6 1721.3,275.4 1722.3,277.1 1723.2,278.8 1724.2,280.7 1725.2,282.5 1726.3,284.4 1727.3,286.3 1728.4,288.2 1729.4,289.9 1730.4,291.6 1731.4,293.1 1732.4,294.6 1733.3,295.9 1734.2,297.1 1735.1,298.2 1735.9,299.3 1736.8,300.3 1737.7,301.4 1738.6,302.4 1739.5,303.3 1740.4,304.0 1741.3,304.8 1742.2,305.4 1743.1,306.2 1744.0,307.0 1744.9,307.9 1745.7,309.1 1746.6,310.5 1747.4,312.2 1748.2,314.0 1748.9,315.9 1749.7,317.8 1750.4,319.6 1751.2,321.3 1751.9,322.8 1752.6,324.1 1753.2,325.4 1753.9,326.6 1754.5,327.7 1755.1,328.7 1755.7,329.5 1756.4,330.3 1757.0,331.0 1757.6,331.5 1758.3,331.9 1758.9,332.2 1759.5,332.4 1760.2,332.5 1760.8,332.5 1761.5,332.5 1762.1,332.4 1762.7,332.3 1763.4,332.2 1764.0,332.0 1764.6,331.7 1765.2,331.4 1765.9,331.0 1766.5,330.5 1767.2,330.0 1767.9,329.4 1768.7,328.7 1769.4,328.1 1770.2,327.3 1771.0,326.4 1771.8,325.4 1772.6,324.2 1773.4,322.8 1774.1,321.1 1774.9,319.1 1775.7,316.8 1776.4,314.4 1777.2,312.0 1778.0,309.6 1778.7,307.4 1779.5,305.4 1780.2,303.6 1781.0,301.8 1781.7,300.0 1782.5,298.4 1783.2,296.9 1784.0,295.4 1784.8,294.2 1785.6,293.1 1786.5,292.3 1787.3,291.7 1788.2,291.2 1789.1,290.8 1790.1,290.6 1791.0,290.4 1791.9,290.3 1792.8,290.1 1793.7,289.9 1794.6,289.7 1795.5,289.6 1796.4,289.5 1797.3,289.5 1798.2,289.6 1799.1,289.8 1799.9,290.1 1800.8,290.5 1801.5,291.1 1802.3,291.8 1803.1,292.5 1803.8,293.3 1804.6,294.2 1805.3,294.9 1806.1,295.6 1806.8,296.3 1807.6,297.0 1808.4,297.8 1809.1,298.6 1809.9,299.2 1810.7,299.8 1811.4,300.1 1812.2,300.3 1813.0,300.2 1813.7,299.9 1814.5,299.4 1815.3,298.8 1816.0,298.2 1816.8,297.5 1817.6,296.8 1818.3,296.2 1819.1,295.6 1819.8,295.0 1820.5,294.4 1821.2,293.7 1822.0,293.1 1822.7,292.5 1823.6,291.9 1824.5,291.5 1825.5,291.1 1826.6,290.7 1827.8,290.4 1829.0,290.1 1830.2,289.8 1831.5,289.8 1832.6,289.8 1833.7,290.1 1834.7,290.6 1835.6,291.3 1836.6,292.1 1837.4,293.1 1838.3,294.2 1839.2,295.2 1840.0,296.3 1840.8,297.2 1841.7,298.2 1842.5,299.1 1843.2,300.1 1844.0,301.1 1844.8,302.0 1845.5,302.9 1846.2,303.7 1847.0,304.4 1847.7,305.0 1848.4,305.6 1849.1,306.1 1849.8,306.6 1850.4,307.0 1851.1,307.3 1851.8,307.4 1852.5,307.5 1853.2,307.4 1853.9,307.1 1854.6,306.7 1855.3,306.3 1856.0,305.7 1856.8,305.1 1857.5,304.5 1858.2,303.8 1859.0,303.1 1859.7,302.3 1860.5,301.6 1861.3,300.7 1862.0,299.8 1862.8,298.7 1863.6,297.6 1864.4,296.2 1865.1,294.6 1865.9,292.8 1866.7,290.9 1867.4,288.8 1868.2,286.7 1869.0,284.6 1869.7,282.7 1870.5,280.9 1871.3,279.2 1872.0,277.6 1872.8,276.1 1873.6,274.6 1874.3,273.3 1875.1,271.9 1875.9,270.7 1876.6,269.6 1877.4,268.6 1878.2,267.7 1878.9,267.0 1879.7,266.2 1880.5,265.6 1881.2,265.1 1882.0,264.6 1882.8,264.1 1883.5,263.7 1884.3,263.4 1885.1,263.1 1885.9,262.9 1886.7,262.8 1887.4,262.7 1888.2,262.8 1888.9,262.9 1889.6,263.0 1890.2,263.3 1890.8,263.5 1891.4,263.9 1892.1,264.3 1892.7,264.9 1893.3,265.7 1894.0,266.6 1894.7,267.7 1895.4,269.0 1896.2,270.5 1896.9,272.2 1897.7,273.9 1898.5,275.6 1899.3,277.2 1900.1,278.8 1901.0,280.4 1901.9,282.0 1902.8,283.6 1903.7,285.2 1904.6,286.8 1905.5,288.3 1906.4,289.8 1907.3,291.1 1908.2,292.4 1909.1,293.7 1910.1,294.9 1911.0,296.1 1911.9,297.1 1912.8,298.1 1913.7,298.8 1914.5,299.3 1915.2,299.6 1915.9,299.6 1916.5,299.5 1917.1,299.2 1917.7,298.8 1918.3,298.3 1918.9,297.8 1919.6,297.2 1920.3,296.6 1921.0,295.7 1921.8,294.8 1922.6,293.8 1923.4,292.7 1924.1,291.7 1924.9,290.8 1925.7,290.1 1926.5,289.4 1927.2,288.9 1928.0,288.3 1928.7,287.9 1929.5,287.5 1930.2,287.1 1931.0,286.8 1931.8,286.6 1932.7,286.5 1933.6,286.4 1934.5,286.4 1935.4,286.5 1936.3,286.6 1937.3,286.7 1938.1,286.9 1939.0,287.0 1939.8,287.2 1940.6,287.4 1941.5,287.6 1942.3,287.9 1943.0,288.1 1943.8,288.4 1944.5,288.7 1945.1,289.1 1945.7,289.4 1946.3,289.8 1946.8,290.1 1947.3,290.5 1947.8,290.9 1948.2,291.3 1948.7,291.7 1949.2,292.1" fill="none" stroke="#000" stroke-width="4.6" stroke-linejoin="round"/>
<polyline points="1655.3,397.0 1658.6,397.0 1658.6,384.8 1663.0,384.8 1663.0,376.0 1667.4,376.0 1667.4,357.0 1671.8,357.0 1671.8,325.5 1676.2,325.5 1676.2,289.5 1680.6,289.5 1680.6,260.4 1685.0,260.4 1685.0,232.2 1689.4,232.2 1689.4,232.2 1693.7,232.2 1693.7,203.6 1698.1,203.6 1698.1,194.0 1702.5,194.0 1702.5,199.1 1706.9,199.1 1706.9,239.6 1711.3,239.6 1711.3,250.2 1715.7,250.2 1715.7,250.2 1720.1,250.2 1720.1,250.2 1724.5,250.2 1724.5,261.5 1728.9,261.5 1728.9,276.8 1733.3,276.8 1733.3,267.6 1737.7,267.6 1737.7,250.2 1742.1,250.2 1742.1,262.1 1746.5,262.1 1746.5,283.3 1750.9,283.3 1750.9,307.5 1755.3,307.5 1755.3,309.9 1759.7,309.9 1759.7,330.0 1764.1,330.0 1764.1,340.2 1768.4,340.2 1768.4,341.6 1772.8,341.6 1772.8,341.2 1777.2,341.2 1777.2,331.0 1781.6,331.0 1781.6,325.9 1786.0,325.9 1786.0,323.8 1790.4,323.8 1790.4,326.9 1794.8,326.9 1794.8,335.1 1799.2,335.1 1799.2,339.2 1803.6,339.2 1803.6,343.3 1808.0,343.3 1808.0,346.7 1812.4,346.7 1812.4,338.1 1816.8,338.1 1816.8,333.6 1821.2,333.6 1821.2,333.6 1825.6,333.6 1825.6,341.2 1830.0,341.2 1830.0,345.3 1834.4,345.3 1834.4,337.7 1838.7,337.7 1838.7,336.1 1843.1,336.1 1843.1,351.4 1847.5,351.4 1847.5,351.4 1851.9,351.4 1851.9,353.5 1856.3,353.5 1856.3,336.5 1860.7,336.5 1860.7,318.1 1865.1,318.1 1865.1,274.7 1869.5,274.7 1869.5,247.8 1873.9,247.8 1873.9,218.5 1878.3,218.5 1878.3,213.8 1882.7,213.8 1882.7,200.7 1887.1,200.7 1887.1,215.4 1891.5,215.4 1891.5,232.2 1895.9,232.2 1895.9,254.3 1900.3,254.3 1900.3,291.1 1904.7,291.1 1904.7,318.1 1909.1,318.1 1909.1,336.5 1913.4,336.5 1913.4,332.4 1917.8,332.4 1917.8,319.3 1922.2,319.3 1922.2,305.8 1926.6,305.8 1926.6,294.8 1931.0,294.8 1931.0,312.6 1935.4,312.6 1935.4,328.9 1939.8,328.9 1939.8,354.9 1944.2,354.9 1944.2,370.9 1948.6,370.9 1948.6,384.8 1953.0,384.8 1953.0,390.3 1957.4,390.3 1957.4,398.3 1961.8,398.3 1961.8,397.9 1966.2,397.9 1966.2,398.6 1970.6,398.6" fill="none" stroke="#2f6b8d" stroke-width="3.9" stroke-linejoin="round"/>
</svg>
<rect x="1623.7" y="41.5" width="347.1" height="405.7" fill="none" stroke="#333" stroke-width="1.4"/>
<text x="1732.3" y="28.5" font-size="25.9" textLength="155.9" lengthAdjust="spacingAndGlyphs">João Pessoa</text>
<path d="M1970.8 378.8H1982.2" stroke="#333" stroke-width="1.6"/>
<text x="1994.3" y="387.6" font-size="27">10.0</text>
<path d="M1970.8 289.8H1982.2" stroke="#333" stroke-width="1.6"/>
<text x="1994.3" y="298.6" font-size="27">20.0</text>
<path d="M1970.8 200.8H1982.2" stroke="#333" stroke-width="1.6"/>
<text x="1994.3" y="209.6" font-size="27">30.0</text>
<path d="M1970.8 111.7H1982.2" stroke="#333" stroke-width="1.6"/>
<text x="1994.3" y="120.5" font-size="27">40.0</text>
</g>
<g>
<svg x="148.6" y="523.8" width="347.1" height="405.7" viewBox="148.6 523.8 347.1 405.7" overflow="hidden">
<path d="M165.0 523.8V929.5M222.1 523.8V929.5M279.5 523.8V929.5M337.3 523.8V929.5M394.4 523.8V929.5M451.2 523.8V929.5M148.6 870.7H495.7M148.6 789.9H495.7M148.6 709.1H495.7M148.6 628.3H495.7M148.6 547.5H495.7" stroke="#ebebeb" stroke-width="2.1" fill="none"/>
<path d="M148.6 911.1H495.7M148.6 830.3H495.7M148.6 749.5H495.7M148.6 668.7H495.7M148.6 587.9H495.7" stroke="#ebebeb" stroke-width="3.8" fill="none"/>
<path d="M193.6 523.8V929.5M250.7 523.8V929.5M308.4 523.8V929.5M366.2 523.8V929.5M422.7 523.8V929.5M479.8 523.8V929.5" stroke="#ebebeb" stroke-width="4.4" fill="none"/>
<path d="M375.5 527.8V929.5" stroke="#000" stroke-width="4.8" stroke-dasharray="4.4 4.26" fill="none"/>
<polygon points="226.8,524.0 227.3,526.3 227.8,528.4 228.2,530.4 228.7,532.4 229.2,534.6 229.7,537.1 230.3,540.0 230.9,543.4 231.6,547.6 232.3,552.3 233.0,557.4 233.8,562.8 234.6,568.4 235.4,573.9 236.2,579.3 237.0,584.3 237.8,589.1 238.6,593.7 239.3,598.3 240.1,602.8 240.9,607.2 241.6,611.8 242.4,616.4 243.2,621.2 243.9,626.1 244.7,631.2 245.5,636.4 246.2,641.6 247.0,646.8 247.8,652.0 248.5,657.1 249.3,662.1 250.1,667.0 250.8,671.9 251.6,676.8 252.4,681.6 253.1,686.3 253.9,690.8 254.7,695.0 255.4,698.9 256.2,702.5 257.0,705.9 257.7,709.0 258.5,712.0 259.3,714.7 260.0,717.2 260.8,719.4 261.6,721.4 262.3,723.0 263.1,724.4 263.9,725.4 264.6,726.3 265.4,727.0 266.2,727.5 266.9,728.0 267.7,728.5 268.5,728.9 269.2,729.1 270.0,729.2 270.8,729.2 271.5,729.2 272.3,729.2 273.1,729.3 273.8,729.5 274.6,729.9 275.4,730.3 276.2,730.8 277.0,731.3 277.7,731.9 278.5,732.5 279.3,733.1 280.0,733.6 280.6,734.3 281.3,735.0 281.9,735.8 282.5,736.6 283.1,737.3 283.7,737.9 284.4,738.4 285.1,738.7 285.9,738.8 286.8,738.6 287.7,738.2 288.6,737.8 289.5,737.3 290.5,736.9 291.4,736.7 292.2,736.7 293.1,736.9 293.8,737.2 294.6,737.7 295.4,738.2 296.1,738.8 296.9,739.5 297.6,740.1 298.4,740.8 299.1,741.5 299.9,742.2 300.7,743.0 301.4,743.8 302.2,744.6 303.0,745.4 303.7,746.2 304.5,746.9 305.3,747.6 306.1,748.1 306.9,748.6 307.6,749.0 308.4,749.6 309.2,750.2 309.9,751.0 310.6,752.0 311.3,753.3 312.0,754.8 312.7,756.4 313.3,758.1 314.0,759.9 314.6,761.7 315.2,763.6 315.8,765.3 316.3,767.1 316.8,769.0 317.3,770.8 317.8,772.7 318.3,774.6 318.8,776.4 319.3,778.1 319.8,779.6 320.4,781.1 321.1,782.4 321.7,783.7 322.3,784.9 323.0,786.0 323.7,787.1 324.3,788.0 325.0,788.8 325.6,789.6 326.3,790.3 326.9,790.9 327.6,791.4 328.2,791.9 328.9,792.2 329.5,792.4 330.1,792.5 330.6,792.6 331.1,792.7 331.6,792.6 332.1,792.5 332.6,792.2 333.1,791.7 333.6,791.0 334.2,789.9 334.8,788.5 335.4,786.8 336.0,785.0 336.7,782.9 337.3,780.6 338.0,778.0 338.6,775.3 339.3,772.5 339.9,769.4 340.6,766.0 341.2,762.4 341.8,758.7 342.5,754.8 343.1,750.8 343.7,746.8 344.4,742.8 345.0,738.8 345.7,734.6 346.3,730.3 346.9,726.0 347.6,721.7 348.2,717.4 348.9,713.2 349.5,709.1 350.1,705.0 350.8,700.9 351.5,696.8 352.1,692.8 352.8,688.9 353.4,685.2 354.0,681.6 354.6,678.4 355.2,675.4 355.7,672.5 356.2,669.8 356.7,667.3 357.2,665.1 357.7,663.1 358.2,661.4 358.7,660.0 359.2,659.1 359.7,658.5 360.2,658.2 360.7,658.3 361.2,658.5 361.7,658.8 362.2,659.2 362.8,659.6 363.4,660.1 364.0,660.7 364.6,661.5 365.3,662.3 365.9,663.3 366.6,664.2 367.3,665.2 367.9,666.1 368.5,667.0 369.2,667.9 369.9,668.7 370.5,669.6 371.2,670.6 371.8,671.7 372.4,672.9 373.0,674.3 373.6,676.0 374.1,677.9 374.6,680.0 375.1,682.3 375.5,684.5 376.0,686.7 376.6,688.8 377.1,690.7 377.7,692.5 378.3,694.2 379.0,695.8 379.7,697.4 380.3,699.0 381.0,700.4 381.6,701.7 382.2,703.0 382.8,704.1 383.3,705.2 383.8,706.2 384.3,707.1 384.8,707.9 385.3,708.6 385.8,709.1 386.3,709.5 386.8,709.8 387.3,709.9 387.8,710.0 388.3,709.9 388.8,709.7 389.3,709.3 389.8,708.8 390.4,708.1 391.0,707.2 391.6,706.2 392.2,705.1 392.9,703.8 393.5,702.3 394.2,700.7 394.9,698.8 395.5,696.8 396.2,694.5 396.8,691.9 397.4,689.1 398.1,686.2 398.7,683.1 399.3,680.1 400.0,677.1 400.6,674.3 401.3,671.6 401.9,668.8 402.5,666.1 403.2,663.3 403.8,660.7 404.5,658.2 405.1,655.9 405.7,653.9 406.4,652.1 407.0,650.5 407.7,649.1 408.3,647.9 408.9,646.7 409.6,645.7 410.2,644.7 410.8,643.7 411.5,642.7 412.1,641.7 412.8,640.9 413.4,640.1 414.0,639.4 414.7,638.7 415.3,638.1 416.0,637.5 416.6,637.0 417.3,636.5 417.9,636.0 418.6,635.6 419.3,635.3 419.9,635.1 420.5,635.0 421.1,635.1 421.6,635.3 422.1,635.7 422.6,636.2 423.0,636.9 423.4,637.6 423.9,638.3 424.3,639.0 424.8,639.6 424.8,764.3 424.2,763.4 423.6,762.4 423.1,761.4 422.6,760.3 422.0,759.4 421.4,758.7 420.8,758.3 420.1,758.2 419.3,758.5 418.4,759.2 417.5,760.2 416.5,761.4 415.5,762.7 414.6,764.0 413.7,765.2 412.9,766.4 412.2,767.3 411.5,768.3 410.8,769.2 410.2,770.1 409.6,771.0 409.0,772.1 408.4,773.2 407.8,774.5 407.1,776.0 406.5,777.6 405.9,779.3 405.2,781.1 404.6,782.9 403.9,784.8 403.3,786.8 402.7,788.8 402.0,791.0 401.4,793.2 400.8,795.5 400.1,797.9 399.5,800.3 398.8,802.7 398.2,805.0 397.6,807.3 396.9,809.5 396.3,811.7 395.6,814.0 395.0,816.2 394.4,818.3 393.7,820.3 393.1,822.1 392.4,823.6 391.8,824.9 391.1,826.1 390.5,827.1 389.8,827.9 389.2,828.6 388.5,829.1 387.9,829.5 387.3,829.7 386.8,829.9 386.3,829.8 385.8,829.6 385.3,829.3 384.8,828.8 384.3,828.2 383.8,827.5 383.2,826.7 382.7,825.7 382.0,824.6 381.4,823.3 380.7,821.9 380.1,820.4 379.4,818.8 378.8,817.1 378.1,815.4 377.5,813.6 376.9,811.5 376.2,809.3 375.6,807.1 374.9,804.8 374.3,802.7 373.7,800.8 373.0,799.1 372.4,797.6 371.7,796.4 371.1,795.2 370.5,794.2 369.8,793.3 369.2,792.5 368.5,791.7 367.9,790.9 367.3,790.1 366.6,789.4 365.9,788.7 365.3,788.1 364.6,787.6 364.0,787.2 363.4,786.9 362.8,786.8 362.2,786.8 361.7,786.8 361.2,786.9 360.7,787.1 360.2,787.5 359.7,788.1 359.2,788.9 358.7,789.9 358.2,791.1 357.7,792.6 357.2,794.3 356.7,796.2 356.1,798.2 355.6,800.4 355.1,802.8 354.6,805.2 354.1,807.8 353.6,810.6 353.1,813.6 352.6,816.6 352.1,819.8 351.6,823.1 351.1,826.4 350.5,829.7 349.9,833.1 349.3,836.7 348.6,840.3 348.0,843.9 347.3,847.6 346.6,851.3 346.0,854.9 345.4,858.4 344.8,861.9 344.3,865.4 343.8,868.9 343.3,872.3 342.8,875.7 342.3,878.9 341.8,882.0 341.3,885.0 340.8,887.7 340.3,890.4 339.8,893.0 339.3,895.4 338.8,897.6 338.3,899.7 337.8,901.7 337.2,903.4 336.6,904.9 336.0,906.2 335.4,907.4 334.8,908.4 334.2,909.2 333.5,909.8 332.8,910.2 332.1,910.5 331.4,910.6 330.6,910.4 329.8,910.0 329.0,909.4 328.3,908.7 327.5,907.9 326.7,907.2 326.0,906.4 325.3,905.7 324.6,905.0 324.0,904.2 323.4,903.4 322.7,902.5 322.1,901.6 321.5,900.5 320.9,899.3 320.2,897.9 319.6,896.3 319.0,894.6 318.3,892.8 317.7,891.0 317.0,889.2 316.4,887.5 315.8,886.0 315.1,884.5 314.5,883.1 313.9,881.7 313.3,880.4 312.6,879.1 312.0,877.9 311.3,876.8 310.6,875.8 309.9,874.9 309.2,874.1 308.4,873.4 307.6,872.8 306.9,872.2 306.1,871.7 305.3,871.2 304.5,870.6 303.7,870.2 303.0,869.7 302.3,869.3 301.5,868.9 300.7,868.5 300.0,868.2 299.2,867.9 298.4,867.6 297.5,867.4 296.6,867.2 295.7,867.1 294.8,867.0 293.9,866.9 293.0,866.8 292.1,866.7 291.2,866.6 290.4,866.4 289.6,866.3 288.8,866.1 288.1,866.0 287.3,865.8 286.6,865.5 285.8,865.3 285.1,864.9 284.3,864.5 283.5,864.1 282.8,863.6 282.0,863.1 281.2,862.5 280.5,861.9 279.7,861.2 278.9,860.4 278.2,859.5 277.4,858.5 276.6,857.4 275.8,856.2 275.0,855.1 274.3,854.0 273.5,853.0 272.8,852.2 272.1,851.6 271.5,851.2 270.8,850.9 270.2,850.6 269.6,850.4 269.0,850.1 268.3,849.7 267.7,849.2 267.1,848.5 266.4,847.9 265.7,847.2 265.1,846.4 264.4,845.6 263.8,844.6 263.2,843.4 262.6,842.0 262.0,840.4 261.5,838.7 261.0,836.7 260.5,834.7 260.0,832.5 259.5,830.3 259.0,828.0 258.5,825.7 258.0,823.4 257.5,821.0 257.0,818.6 256.5,816.2 255.9,813.7 255.4,811.0 254.9,808.2 254.4,805.2 253.9,802.0 253.4,798.6 252.9,795.0 252.4,791.3 251.9,787.5 251.3,783.8 250.8,780.1 250.3,776.6 249.8,773.2 249.3,769.9 248.8,766.6 248.3,763.4 247.8,760.2 247.3,756.9 246.8,753.5 246.2,750.0 245.6,746.3 245.0,742.5 244.4,738.6 243.7,734.7 243.1,730.7 242.4,726.8 241.8,723.0 241.1,719.3 240.5,715.8 239.8,712.4 239.2,709.1 238.6,705.9 237.9,702.7 237.3,699.4 236.6,696.1 236.0,692.7 235.4,689.2 234.7,685.7 234.0,682.1 233.4,678.4 232.7,674.8 232.1,671.2 231.5,667.6 230.9,664.1 230.3,660.7 229.8,657.3 229.3,654.0 228.8,650.7 228.3,647.4 227.8,644.1 227.3,640.8 226.8,637.5" fill="#b6b6b6" fill-opacity="0.81"/>
<polyline points="227.4,581.3 227.8,583.9 228.3,586.6 228.7,589.2 229.1,591.8 229.5,594.5 230.0,597.2 230.4,599.9 230.9,602.8 231.4,605.7 231.9,608.6 232.4,611.6 232.9,614.7 233.4,617.8 233.9,620.9 234.5,624.1 235.0,627.3 235.5,630.5 236.0,633.8 236.5,637.1 237.0,640.5 237.5,643.8 238.0,647.2 238.6,650.5 239.1,653.9 239.6,657.2 240.1,660.5 240.6,663.8 241.1,667.2 241.6,670.5 242.1,673.8 242.6,677.1 243.2,680.5 243.7,683.8 244.2,687.1 244.7,690.4 245.2,693.8 245.7,697.1 246.2,700.4 246.7,703.7 247.2,707.0 247.8,710.4 248.3,713.9 248.8,717.5 249.4,721.0 249.9,724.4 250.4,727.7 250.9,730.8 251.3,733.6 251.8,736.2 252.2,738.5 252.6,740.6 252.9,742.6 253.3,744.5 253.7,746.3 254.0,748.1 254.4,750.0 254.8,751.9 255.1,753.7 255.5,755.4 255.9,757.1 256.2,758.9 256.6,760.6 257.0,762.4 257.5,764.3 257.9,766.4 258.4,768.5 258.9,770.8 259.5,773.1 260.0,775.4 260.5,777.5 261.0,779.4 261.6,781.1 262.1,782.5 262.6,783.7 263.1,784.8 263.6,785.8 264.1,786.6 264.6,787.3 265.1,787.9 265.7,788.4 266.2,788.8 266.7,789.1 267.2,789.2 267.7,789.2 268.2,789.2 268.7,789.1 269.2,789.2 269.7,789.3 270.2,789.4 270.7,789.5 271.2,789.6 271.7,789.7 272.2,789.9 272.7,790.1 273.3,790.4 273.8,790.9 274.4,791.5 275.0,792.2 275.7,793.1 276.3,794.0 277.0,794.9 277.6,795.8 278.3,796.7 278.9,797.4 279.6,798.1 280.2,798.8 280.9,799.5 281.5,800.2 282.1,800.8 282.8,801.3 283.4,801.8 284.1,802.1 284.7,802.4 285.3,802.6 286.0,802.7 286.6,802.8 287.3,802.8 287.9,802.8 288.5,802.8 289.2,802.8 289.8,802.7 290.5,802.6 291.1,802.5 291.8,802.4 292.4,802.2 293.1,802.1 293.7,802.1 294.3,802.1 294.8,802.3 295.4,802.4 295.8,802.6 296.3,802.9 296.8,803.2 297.3,803.5 297.8,803.8 298.4,804.2 299.0,804.6 299.6,805.0 300.2,805.5 300.9,806.0 301.5,806.6 302.2,807.1 302.8,807.7 303.5,808.3 304.1,808.8 304.8,809.4 305.4,810.0 306.0,810.6 306.7,811.2 307.3,811.9 308.0,812.6 308.6,813.4 309.2,814.2 309.9,815.1 310.5,816.0 311.2,817.0 311.8,818.0 312.4,819.1 313.1,820.3 313.7,821.6 314.4,823.0 315.0,824.6 315.6,826.3 316.3,828.0 316.9,829.8 317.5,831.6 318.2,833.3 318.8,834.9 319.5,836.4 320.1,838.0 320.7,839.5 321.4,841.0 322.0,842.4 322.7,843.8 323.3,845.0 323.9,846.1 324.6,847.1 325.2,847.9 325.9,848.6 326.6,849.3 327.2,849.8 327.8,850.3 328.5,850.8 329.0,851.2 329.6,851.6 330.1,852.1 330.7,852.5 331.2,852.8 331.7,853.0 332.1,853.1 332.6,853.0 333.1,852.7 333.7,852.1 334.2,851.4 334.7,850.6 335.2,849.6 335.7,848.4 336.2,847.1 336.7,845.7 337.2,844.1 337.7,842.3 338.2,840.4 338.7,838.3 339.2,836.1 339.7,833.7 340.2,831.2 340.8,828.5 341.3,825.7 341.9,822.6 342.5,819.3 343.2,815.8 343.8,812.1 344.5,808.4 345.1,804.6 345.8,800.8 346.4,797.0 347.1,793.3 347.7,789.4 348.4,785.5 349.1,781.6 349.7,777.6 350.3,773.8 351.0,770.0 351.5,766.4 352.1,762.8 352.7,759.1 353.2,755.5 353.7,752.0 354.2,748.7 354.7,745.5 355.2,742.5 355.6,739.8 356.1,737.3 356.4,735.1 356.8,733.0 357.2,731.1 357.5,729.5 357.9,728.0 358.3,726.6 358.7,725.5 359.2,724.5 359.7,723.7 360.2,723.1 360.7,722.7 361.2,722.4 361.7,722.3 362.3,722.3 362.8,722.4 363.3,722.6 363.8,723.0 364.3,723.6 364.8,724.2 365.3,725.0 365.8,725.8 366.3,726.7 366.9,727.5 367.5,728.3 368.1,729.1 368.7,730.0 369.4,730.9 370.0,731.9 370.7,733.0 371.3,734.2 372.0,735.7 372.6,737.4 373.3,739.3 373.9,741.4 374.6,743.6 375.2,745.8 375.8,748.0 376.5,750.1 377.1,752.0 377.8,753.8 378.4,755.5 379.1,757.2 379.7,758.8 380.4,760.3 381.0,761.8 381.6,763.1 382.2,764.3 382.8,765.4 383.3,766.5 383.8,767.5 384.3,768.3 384.7,769.1 385.2,769.7 385.8,770.2 386.3,770.4 386.9,770.6 387.5,770.6 388.2,770.5 388.8,770.3 389.5,769.8 390.1,769.2 390.8,768.4 391.4,767.4 392.1,766.1 392.7,764.5 393.3,762.7 394.0,760.8 394.6,758.7 395.3,756.5 395.9,754.3 396.5,752.0 397.2,749.7 397.8,747.2 398.5,744.7 399.1,742.0 399.7,739.3 400.4,736.7 401.0,734.1 401.6,731.6 402.3,729.1 402.9,726.7 403.5,724.2 404.1,721.7 404.8,719.4 405.4,717.2 406.1,715.1 406.8,713.2 407.5,711.5 408.2,709.9 409.0,708.6 409.8,707.3 410.6,706.1 411.4,705.0 412.2,704.0 412.9,703.0 413.6,702.0 414.3,701.1 414.9,700.3 415.6,699.5 416.2,698.8 416.8,698.2 417.4,697.7 418.0,697.2 418.6,696.9 419.1,696.6 419.7,696.3 420.2,696.2 420.7,696.1 421.2,696.1 421.6,696.2 422.1,696.4 422.5,696.7 422.9,697.2 423.3,697.7 423.7,698.3 424.1,699.0 424.4,699.7 424.8,700.3 425.2,700.9" fill="none" stroke="#000" stroke-width="4.6" stroke-linejoin="round"/>
<polyline points="192.4,852.7 196.7,852.7 196.7,856.7 201.1,856.7 201.1,822.0 205.5,822.0 205.5,756.5 209.9,756.5 209.9,715.2 214.3,715.2 214.3,710.1 218.6,710.1 218.6,718.9 223.0,718.9 223.0,684.6 227.4,684.6 227.4,655.9 231.8,655.9 231.8,633.4 236.2,633.4 236.2,639.6 240.6,639.6 240.6,695.8 245.0,695.8 245.0,715.2 249.4,715.2 249.4,760.6 253.8,760.6 253.8,818.5 258.2,818.5 258.2,839.0 262.6,839.0 262.6,863.5 267.0,863.5 267.0,880.5 271.4,880.5 271.4,883.3 275.8,883.3 275.8,878.4 280.2,878.4 280.2,881.3 284.6,881.3 284.6,888.0 289.0,888.0 289.0,892.7 293.3,892.7 293.3,856.7 297.7,856.7 297.7,839.6 302.1,839.6 302.1,824.0 306.5,824.0 306.5,839.6 310.9,839.6 310.9,811.8 315.3,811.8 315.3,776.2 319.7,776.2 319.7,719.7 324.1,719.7 324.1,714.2 328.5,714.2 328.5,776.2 332.9,776.2 332.9,783.1 337.3,783.1 337.3,784.3 341.7,784.3 341.7,760.6 346.1,760.6 346.1,744.3 350.5,744.3 350.5,730.0 354.9,730.0 354.9,741.4 359.3,741.4 359.3,765.9 363.6,765.9 363.6,772.9 368.0,772.9 368.0,795.0 372.4,795.0 372.4,793.3 376.8,793.3 376.8,815.8 381.2,815.8 381.2,815.8 385.6,815.8 385.6,805.6 390.0,805.6 390.0,770.0 394.4,770.0 394.4,732.0 398.8,732.0 398.8,684.6 403.2,684.6 403.2,709.4 407.6,709.4 407.6,710.2 412.0,710.2 412.0,710.7 416.4,710.7 416.4,709.9 420.8,709.9 420.8,700.5 425.2,700.5 425.2,712.2 429.6,712.2 429.6,747.5 434.0,747.5 434.0,774.9 438.3,774.9 438.3,814.4 442.7,814.4 442.7,799.5 447.1,799.5 447.1,791.3 451.5,791.3 451.5,778.2 455.9,778.2 455.9,794.6 460.3,794.6 460.3,799.5 464.7,799.5 464.7,797.0 469.1,797.0 469.1,804.8 473.5,804.8 473.5,824.6 477.9,824.6 477.9,848.6 482.3,848.6 482.3,855.3 486.7,855.3 486.7,870.2 491.1,870.2 491.1,878.7 495.5,878.7" fill="none" stroke="#917685" stroke-width="3.9" stroke-linejoin="round"/>
</svg>
<rect x="148.6" y="523.8" width="347.1" height="405.7" fill="none" stroke="#333" stroke-width="1.4"/>
<text x="286.4" y="510.8" font-size="25.9" textLength="95.7" lengthAdjust="spacingAndGlyphs">Macapá</text>
<path d="M137.2 911.1H148.6" stroke="#333" stroke-width="1.6"/>
<text x="126.1" y="919.9" font-size="27" text-anchor="end">0</text>
<path d="M137.2 830.3H148.6" stroke="#333" stroke-width="1.6"/>
<text x="126.1" y="839.1" font-size="27" text-anchor="end">0.5</text>
<path d="M137.2 749.5H148.6" stroke="#333" stroke-width="1.6"/>
<text x="126.1" y="758.3" font-size="27" text-anchor="end">1.0</text>
<path d="M137.2 668.7H148.6" stroke="#333" stroke-width="1.6"/>
<text x="126.1" y="677.5" font-size="27" text-anchor="end">1.5</text>
<path d="M137.2 587.9H148.6" stroke="#333" stroke-width="1.6"/>
<text x="126.1" y="596.7" font-size="27" text-anchor="end">2.0</text>
</g>
<g>
<svg x="517.3" y="523.8" width="347.1" height="405.7" viewBox="517.3 523.8 347.1 405.7" overflow="hidden">
<path d="M533.7 523.8V929.5M590.8 523.8V929.5M648.2 523.8V929.5M706.0 523.8V929.5M763.1 523.8V929.5M819.9 523.8V929.5M517.3 870.7H864.4M517.3 789.9H864.4M517.3 709.1H864.4M517.3 628.3H864.4M517.3 547.5H864.4" stroke="#ebebeb" stroke-width="2.1" fill="none"/>
<path d="M517.3 911.1H864.4M517.3 830.3H864.4M517.3 749.5H864.4M517.3 668.7H864.4M517.3 587.9H864.4" stroke="#ebebeb" stroke-width="3.8" fill="none"/>
<path d="M562.2 523.8V929.5M619.4 523.8V929.5M677.1 523.8V929.5M734.9 523.8V929.5M791.4 523.8V929.5M848.5 523.8V929.5" stroke="#ebebeb" stroke-width="4.4" fill="none"/>
<path d="M717.1 527.8V929.5" stroke="#000" stroke-width="4.8" stroke-dasharray="4.4 4.26" fill="none"/>
<polygon points="562.7,703.0 563.4,703.3 564.1,703.7 564.8,704.0 565.5,704.4 566.2,704.7 566.8,705.1 567.5,705.5 568.2,706.0 568.9,706.5 569.5,707.1 570.1,707.7 570.8,708.3 571.4,708.9 572.0,709.6 572.7,710.3 573.3,711.1 573.9,712.0 574.6,712.8 575.2,713.7 575.8,714.7 576.4,715.7 577.1,716.8 577.7,718.0 578.4,719.3 579.1,720.8 579.9,722.4 580.6,724.1 581.4,726.0 582.2,727.8 583.0,729.8 583.8,731.7 584.6,733.6 585.3,735.6 586.1,737.6 586.9,739.7 587.7,741.8 588.5,743.8 589.2,745.9 590.0,748.0 590.7,750.0 591.4,752.0 592.0,754.0 592.7,756.0 593.3,758.0 593.9,759.9 594.5,761.8 595.2,763.6 595.8,765.3 596.4,767.0 597.1,768.6 597.7,770.2 598.4,771.7 599.0,773.1 599.6,774.4 600.3,775.5 600.9,776.6 601.6,777.5 602.2,778.2 602.8,778.9 603.5,779.4 604.1,779.8 604.7,780.2 605.4,780.5 606.0,780.7 606.7,780.8 607.3,780.9 607.9,780.9 608.6,780.8 609.2,780.6 609.9,780.4 610.5,780.1 611.1,779.6 611.8,779.2 612.4,778.6 613.0,777.9 613.6,777.2 614.3,776.3 614.9,775.5 615.6,774.5 616.2,773.5 617.0,772.4 617.7,771.2 618.5,769.9 619.3,768.6 620.0,767.2 620.8,765.9 621.6,764.5 622.4,763.3 623.2,762.1 623.9,760.8 624.7,759.6 625.5,758.4 626.2,757.3 627.0,756.1 627.8,755.1 628.5,754.1 629.3,753.1 630.1,752.2 630.8,751.4 631.6,750.5 632.4,749.8 633.1,749.1 633.9,748.5 634.7,747.9 635.4,747.5 636.2,747.1 637.0,746.8 637.7,746.6 638.5,746.4 639.3,746.3 640.0,746.3 640.8,746.3 641.5,746.4 642.3,746.5 643.0,746.8 643.8,747.0 644.5,747.4 645.3,747.8 646.1,748.3 646.9,749.0 647.8,749.7 648.7,750.6 649.6,751.5 650.5,752.6 651.4,753.7 652.3,754.8 653.2,756.0 654.1,757.2 654.9,758.3 655.7,759.6 656.5,760.9 657.2,762.2 658.0,763.5 658.7,764.8 659.5,766.1 660.2,767.4 661.0,768.6 661.8,769.8 662.5,771.0 663.3,772.2 664.1,773.4 664.8,774.5 665.6,775.6 666.4,776.6 667.1,777.5 667.9,778.4 668.7,779.3 669.5,780.1 670.3,780.8 671.0,781.5 671.8,782.1 672.5,782.7 673.2,783.2 673.8,783.7 674.4,784.0 675.0,784.4 675.7,784.6 676.3,784.9 676.9,785.0 677.6,785.2 678.3,785.2 679.0,785.1 679.8,785.0 680.5,784.8 681.3,784.6 682.1,784.5 682.9,784.4 683.7,784.3 684.6,784.4 685.5,784.6 686.4,784.8 687.4,785.0 688.3,785.3 689.2,785.5 690.1,785.7 690.9,785.8 691.6,785.9 692.3,786.0 693.0,786.1 693.6,786.1 694.2,786.1 694.8,786.1 695.4,786.0 696.0,785.8 696.6,785.5 697.3,785.1 697.9,784.7 698.6,784.2 699.2,783.7 699.8,783.1 700.5,782.4 701.1,781.7 701.8,780.9 702.4,780.0 703.0,779.1 703.7,778.1 704.3,777.1 705.0,775.9 705.6,774.8 706.2,773.5 706.9,772.2 707.5,770.8 708.1,769.4 708.8,767.9 709.4,766.3 710.1,764.7 710.7,763.0 711.3,761.2 712.0,759.4 712.6,757.4 713.3,755.4 714.0,753.3 714.6,751.1 715.2,749.0 715.9,746.9 716.5,744.9 717.0,743.0 717.5,741.1 718.0,739.4 718.5,737.6 719.0,735.8 719.5,733.9 720.0,731.8 720.5,729.5 721.1,727.1 721.8,724.4 722.4,721.6 723.1,718.7 723.8,715.8 724.4,712.8 725.1,709.9 725.7,707.0 726.2,704.2 726.8,701.4 727.3,698.5 727.8,695.7 728.3,692.8 728.7,690.0 729.2,687.3 729.7,684.6 730.3,681.9 730.8,679.2 731.3,676.6 731.8,673.9 732.3,671.4 732.8,668.9 733.3,666.5 733.8,664.1 734.3,661.8 734.9,659.5 735.4,657.3 735.9,655.2 736.4,653.1 736.9,651.2 737.4,649.4 737.9,647.7 738.4,646.3 738.9,645.0 739.5,643.8 740.0,642.8 740.5,641.8 741.0,641.0 741.5,640.2 742.0,639.6 742.5,638.9 743.0,638.4 743.6,637.9 744.1,637.5 744.6,637.3 745.1,637.2 745.6,637.2 746.1,637.5 746.6,638.0 747.1,638.6 747.6,639.4 748.2,640.3 748.7,641.4 749.2,642.7 749.7,644.1 750.2,645.7 750.7,647.5 751.2,649.5 751.7,651.8 752.2,654.1 752.8,656.6 753.3,659.1 753.8,661.6 754.3,664.1 754.8,666.6 755.3,669.1 755.8,671.6 756.3,674.2 756.8,676.8 757.4,679.4 757.9,682.0 758.4,684.6 758.9,687.1 759.4,689.6 759.9,692.1 760.4,694.7 760.9,697.2 761.4,699.7 762.0,702.3 762.5,705.0 763.0,707.7 763.5,710.5 764.0,713.4 764.5,716.3 765.0,719.1 765.5,722.0 766.0,724.8 766.6,727.5 767.1,730.2 767.6,732.8 768.0,735.4 768.5,738.0 769.0,740.5 769.6,743.0 770.1,745.5 770.6,747.9 771.2,750.4 771.9,752.8 772.5,755.1 773.1,757.5 773.8,759.8 774.5,762.0 775.1,764.2 775.8,766.4 776.4,768.5 777.0,770.5 777.6,772.6 778.3,774.6 778.9,776.5 779.5,778.4 780.2,780.1 780.9,781.7 781.6,783.2 782.3,784.6 783.1,785.9 783.8,787.1 784.6,788.2 785.4,789.2 786.2,790.1 787.0,790.9 787.8,791.5 788.7,791.9 789.6,792.2 790.5,792.4 791.4,792.6 792.3,792.7 793.2,792.8 794.2,792.9 795.1,793.1 796.1,793.2 797.2,793.4 798.2,793.4 799.2,793.5 800.3,793.7 801.3,793.8 802.3,794.0 803.4,794.2 804.3,794.5 805.3,794.8 806.3,795.1 807.3,795.4 808.3,795.7 809.4,795.9 810.5,796.0 811.7,796.1 813.0,796.0 814.3,796.0 815.6,795.9 817.0,795.7 818.3,795.6 819.6,795.5 820.7,795.4 821.9,795.3 822.9,795.3 824.0,795.2 825.0,795.1 826.0,795.1 826.9,795.0 827.9,795.0 828.9,795.0 830.0,795.0 831.0,795.1 832.0,795.2 833.0,795.4 834.0,795.5 835.1,795.5 836.1,795.5 837.1,795.4 838.1,795.2 839.2,794.9 840.2,794.6 841.3,794.3 842.3,793.8 843.3,793.3 844.3,792.7 845.3,791.9 846.2,791.1 847.1,790.2 848.0,789.2 848.9,788.1 849.8,786.9 850.7,785.6 851.6,784.2 852.4,782.7 853.3,781.1 854.2,779.3 855.1,777.4 856.0,775.4 856.9,773.4 857.8,771.4 858.7,769.3 859.6,767.4 859.6,821.6 858.6,821.7 857.6,821.7 856.5,821.8 855.5,821.8 854.5,821.9 853.5,822.0 852.4,822.3 851.4,822.6 850.4,823.0 849.4,823.6 848.4,824.3 847.3,825.0 846.3,825.7 845.3,826.4 844.3,827.1 843.2,827.7 842.2,828.3 841.2,828.8 840.3,829.4 839.3,829.9 838.3,830.3 837.3,830.8 836.2,831.1 835.1,831.4 833.9,831.6 832.6,831.6 831.3,831.6 830.0,831.6 828.6,831.5 827.3,831.4 826.0,831.4 824.8,831.4 823.7,831.4 822.7,831.4 821.7,831.5 820.7,831.5 819.7,831.5 818.7,831.6 817.7,831.7 816.7,831.8 815.6,832.0 814.4,832.2 813.3,832.6 812.1,832.9 811.0,833.2 809.8,833.4 808.6,833.5 807.5,833.4 806.3,833.2 805.1,832.8 804.0,832.4 802.8,831.8 801.6,831.2 800.5,830.7 799.4,830.2 798.3,829.7 797.2,829.4 796.1,829.2 795.0,829.0 794.0,828.8 792.9,828.5 792.0,828.3 791.0,828.0 790.1,827.7 789.2,827.3 788.4,827.0 787.6,826.6 786.8,826.2 786.1,825.7 785.4,825.1 784.6,824.4 783.9,823.6 783.3,822.7 782.6,821.6 781.9,820.5 781.3,819.3 780.7,817.9 780.1,816.5 779.5,815.0 778.8,813.4 778.2,811.7 777.5,809.8 776.9,807.8 776.2,805.7 775.6,803.6 774.9,801.4 774.3,799.2 773.7,797.0 773.2,794.8 772.6,792.6 772.1,790.4 771.6,788.1 771.1,785.8 770.6,783.4 770.1,781.0 769.6,778.6 769.1,776.2 768.6,773.7 768.1,771.2 767.6,768.7 767.1,766.1 766.6,763.5 766.0,760.8 765.5,758.2 765.0,755.5 764.5,752.7 764.0,749.9 763.5,747.1 763.0,744.2 762.5,741.4 762.0,738.5 761.4,735.7 760.9,732.9 760.4,730.0 759.9,727.2 759.4,724.3 758.9,721.5 758.4,718.7 757.9,715.9 757.4,713.2 756.8,710.5 756.3,707.8 755.8,705.2 755.3,702.6 754.8,700.0 754.3,697.5 753.8,695.1 753.3,692.7 752.8,690.4 752.2,688.2 751.7,685.9 751.2,683.8 750.7,681.7 750.2,679.8 749.7,678.0 749.2,676.4 748.7,674.9 748.2,673.6 747.6,672.4 747.1,671.3 746.6,670.4 746.1,669.6 745.6,669.0 745.1,668.6 744.6,668.4 744.1,668.4 743.6,668.5 743.0,668.9 742.5,669.3 742.0,669.9 741.5,670.5 741.0,671.3 740.5,672.0 740.0,672.9 739.5,673.9 738.9,675.0 738.4,676.2 737.9,677.5 737.4,678.9 736.9,680.5 736.4,682.1 735.9,684.0 735.4,685.9 734.9,687.9 734.3,690.1 733.8,692.3 733.3,694.5 732.8,696.8 732.3,699.2 731.8,701.6 731.3,704.0 730.8,706.5 730.3,709.1 729.7,711.8 729.2,714.5 728.7,717.3 728.2,720.2 727.7,723.2 727.2,726.3 726.7,729.4 726.2,732.6 725.7,735.7 725.1,738.8 724.6,741.8 724.1,744.7 723.6,747.7 723.1,750.5 722.6,753.4 722.1,756.2 721.6,758.9 721.1,761.7 720.5,764.3 720.0,766.9 719.5,769.5 719.1,772.0 718.6,774.5 718.1,776.9 717.5,779.2 717.0,781.5 716.5,783.7 715.9,785.9 715.2,787.9 714.6,789.9 714.0,791.9 713.3,793.7 712.6,795.6 712.0,797.3 711.3,799.1 710.7,800.8 710.1,802.5 709.4,804.1 708.8,805.7 708.1,807.2 707.5,808.6 706.9,810.0 706.2,811.3 705.6,812.6 705.0,813.8 704.3,814.9 703.7,816.0 703.0,817.0 702.4,817.9 701.8,818.8 701.1,819.5 700.5,820.2 699.9,820.7 699.2,821.2 698.6,821.6 698.0,821.9 697.4,822.2 696.7,822.4 696.0,822.6 695.3,822.7 694.5,822.8 693.8,822.8 693.0,822.8 692.2,822.7 691.4,822.7 690.6,822.6 689.9,822.6 689.1,822.6 688.3,822.6 687.6,822.6 686.8,822.6 686.0,822.5 685.3,822.5 684.5,822.6 683.7,822.6 683.0,822.7 682.2,822.8 681.4,822.9 680.6,823.1 679.8,823.2 679.1,823.3 678.3,823.3 677.6,823.2 676.9,823.1 676.3,822.9 675.7,822.6 675.0,822.4 674.4,822.0 673.8,821.6 673.2,821.1 672.5,820.5 671.8,819.9 671.0,819.1 670.3,818.3 669.5,817.4 668.7,816.4 667.9,815.4 667.1,814.4 666.4,813.4 665.6,812.3 664.8,811.3 664.1,810.1 663.3,809.0 662.5,807.8 661.8,806.6 661.0,805.4 660.2,804.2 659.4,802.9 658.7,801.6 657.9,800.3 657.1,798.9 656.4,797.6 655.6,796.3 654.8,795.1 654.1,794.0 653.3,792.9 652.5,791.8 651.8,790.8 651.0,789.9 650.2,789.0 649.5,788.2 648.7,787.5 647.9,786.8 647.2,786.2 646.4,785.8 645.6,785.4 644.9,785.1 644.1,784.8 643.3,784.6 642.6,784.5 641.8,784.3 641.0,784.3 640.3,784.2 639.5,784.2 638.7,784.3 638.0,784.4 637.2,784.6 636.4,784.9 635.7,785.2 634.9,785.5 634.1,786.0 633.4,786.5 632.6,787.1 631.8,787.7 631.1,788.4 630.3,789.1 629.5,789.9 628.8,790.7 628.0,791.6 627.2,792.6 626.5,793.6 625.7,794.7 624.9,795.8 624.2,796.9 623.4,798.1 622.6,799.3 621.8,800.5 621.1,801.9 620.3,803.2 619.5,804.6 618.7,805.9 618.0,807.1 617.3,808.3 616.6,809.3 615.9,810.4 615.2,811.4 614.6,812.3 614.0,813.2 613.3,814.0 612.7,814.8 612.2,815.4 611.6,816.0 611.1,816.6 610.6,817.1 610.1,817.5 609.6,817.9 609.1,818.2 608.6,818.4 608.1,818.5 607.6,818.5 607.1,818.5 606.6,818.5 606.1,818.3 605.6,818.0 605.1,817.7 604.5,817.1 604.0,816.5 603.4,815.6 602.8,814.6 602.1,813.4 601.5,812.2 600.8,810.8 600.2,809.3 599.5,807.8 598.9,806.2 598.2,804.6 597.6,802.7 596.9,800.8 596.3,798.8 595.7,796.8 595.0,794.8 594.4,792.8 593.8,790.9 593.1,789.0 592.5,787.2 591.8,785.4 591.2,783.5 590.6,781.8 589.9,780.0 589.3,778.3 588.6,776.6 588.0,774.9 587.4,773.3 586.7,771.7 586.1,770.2 585.4,768.7 584.8,767.2 584.2,765.7 583.5,764.3 582.9,762.9 582.3,761.6 581.6,760.2 581.0,758.9 580.3,757.7 579.7,756.4 579.1,755.3 578.4,754.1 577.8,752.9 577.1,751.8 576.5,750.8 575.9,749.7 575.2,748.7 574.6,747.8 573.9,746.8 573.3,745.9 572.7,745.0 572.0,744.2 571.4,743.4 570.8,742.6 570.1,741.8 569.5,741.1 568.9,740.4 568.2,739.8 567.5,739.2 566.8,738.6 566.2,738.1 565.5,737.6 564.8,737.1 564.1,736.7 563.4,736.2 562.7,735.7" fill="#b6b6b6" fill-opacity="0.81"/>
<polyline points="562.7,718.9 563.4,719.3 564.1,719.7 564.8,720.1 565.5,720.5 566.2,721.0 566.8,721.4 567.5,721.9 568.2,722.4 568.9,722.9 569.5,723.5 570.1,724.0 570.8,724.6 571.4,725.3 572.0,726.0 572.7,726.7 573.3,727.5 573.9,728.4 574.6,729.3 575.2,730.2 575.9,731.2 576.5,732.3 577.1,733.3 577.8,734.5 578.4,735.7 579.1,736.9 579.7,738.2 580.3,739.6 581.0,741.0 581.6,742.4 582.3,743.9 582.9,745.4 583.5,746.9 584.2,748.5 584.8,750.1 585.4,751.7 586.1,753.3 586.7,755.0 587.4,756.7 588.0,758.4 588.6,760.2 589.3,762.1 589.9,764.0 590.6,766.0 591.3,768.0 591.9,769.9 592.5,771.9 593.2,773.8 593.8,775.6 594.3,777.3 594.8,778.9 595.4,780.6 595.9,782.1 596.4,783.7 596.8,785.1 597.3,786.5 597.8,787.8 598.4,789.1 598.9,790.3 599.4,791.4 599.9,792.4 600.4,793.4 600.9,794.3 601.4,795.2 601.9,796.0 602.4,796.7 603.0,797.4 603.5,798.0 604.0,798.6 604.5,799.1 605.0,799.5 605.5,799.8 606.0,800.1 606.5,800.3 607.0,800.4 607.5,800.5 608.0,800.5 608.5,800.4 609.0,800.2 609.6,799.9 610.1,799.5 610.7,799.0 611.3,798.3 611.9,797.6 612.5,796.8 613.2,795.9 613.9,795.0 614.5,794.0 615.2,792.9 615.9,791.8 616.7,790.6 617.4,789.4 618.2,788.1 618.9,786.7 619.7,785.4 620.5,784.0 621.4,782.7 622.2,781.4 623.1,780.1 624.0,778.7 624.9,777.3 625.9,776.0 626.8,774.7 627.7,773.6 628.5,772.5 629.3,771.5 630.1,770.6 630.9,769.8 631.7,769.1 632.4,768.4 633.1,767.8 633.9,767.2 634.7,766.8 635.4,766.4 636.2,766.0 637.0,765.8 637.7,765.6 638.5,765.4 639.3,765.3 640.0,765.3 640.8,765.3 641.6,765.4 642.3,765.5 643.1,765.6 643.9,765.8 644.6,766.1 645.4,766.4 646.2,766.9 646.9,767.4 647.7,768.0 648.5,768.7 649.2,769.6 650.0,770.4 650.8,771.4 651.5,772.4 652.3,773.5 653.1,774.5 653.8,775.7 654.6,776.9 655.4,778.2 656.1,779.5 656.9,780.9 657.7,782.2 658.4,783.5 659.2,784.8 660.0,786.0 660.7,787.2 661.5,788.4 662.3,789.6 663.0,790.7 663.8,791.8 664.6,792.9 665.3,794.0 666.1,795.0 666.9,796.0 667.7,797.0 668.5,797.9 669.2,798.8 670.0,799.7 670.7,800.4 671.5,801.1 672.1,801.7 672.8,802.3 673.4,802.7 674.0,803.1 674.6,803.5 675.2,803.8 675.8,804.0 676.6,804.2 677.4,804.3 678.2,804.3 679.2,804.2 680.1,804.0 681.0,803.9 682.0,803.7 682.9,803.6 683.7,803.6 684.5,803.6 685.3,803.6 686.1,803.7 686.9,803.8 687.6,803.9 688.4,804.0 689.1,804.1 689.9,804.2 690.6,804.3 691.4,804.4 692.2,804.6 693.0,804.8 693.8,804.9 694.5,804.9 695.3,804.9 696.0,804.8 696.7,804.6 697.4,804.3 698.0,803.9 698.6,803.5 699.2,803.0 699.9,802.5 700.5,801.8 701.1,801.1 701.8,800.3 702.4,799.5 703.0,798.6 703.7,797.6 704.3,796.5 705.0,795.4 705.6,794.2 706.2,792.9 706.9,791.6 707.5,790.3 708.1,788.8 708.8,787.3 709.4,785.7 710.1,784.1 710.7,782.4 711.3,780.7 712.0,778.8 712.6,777.0 713.3,775.0 714.0,773.0 714.6,770.9 715.2,768.8 715.9,766.6 716.5,764.3 717.0,762.0 717.5,759.6 718.1,757.1 718.6,754.6 719.1,752.0 719.5,749.4 720.0,746.6 720.5,743.9 721.1,741.0 721.6,738.0 722.1,734.9 722.6,731.7 723.1,728.6 723.6,725.4 724.1,722.3 724.6,719.3 725.1,716.4 725.7,713.5 726.2,710.6 726.7,707.7 727.2,704.9 727.7,702.1 728.2,699.4 728.7,696.8 729.2,694.3 729.7,691.8 730.3,689.4 730.8,687.1 731.3,684.8 731.8,682.6 732.3,680.5 732.8,678.4 733.3,676.4 733.8,674.4 734.3,672.5 734.9,670.6 735.4,668.8 735.9,667.2 736.4,665.6 736.9,664.1 737.4,662.8 737.9,661.5 738.4,660.4 738.9,659.3 739.5,658.4 740.0,657.5 740.5,656.7 741.0,655.9 741.5,655.2 742.0,654.4 742.5,653.6 743.0,653.0 743.6,652.4 744.1,652.1 744.6,652.0 745.1,652.2 745.6,652.8 746.1,653.6 746.6,654.6 747.1,655.9 747.6,657.3 748.2,658.8 748.7,660.4 749.2,662.1 749.7,663.8 750.2,665.6 750.7,667.5 751.2,669.6 751.7,671.7 752.2,673.9 752.8,676.1 753.3,678.4 753.8,680.8 754.3,683.2 754.8,685.8 755.3,688.4 755.8,691.0 756.3,693.7 756.8,696.3 757.4,698.9 757.9,701.4 758.4,703.9 758.9,706.4 759.4,709.0 759.9,711.5 760.4,714.1 760.9,716.7 761.4,719.3 762.0,722.0 762.5,724.8 763.0,727.7 763.5,730.6 764.0,733.4 764.5,736.3 765.0,739.1 765.5,741.8 766.0,744.5 766.6,747.1 767.1,749.7 767.6,752.3 768.1,754.8 768.6,757.3 769.1,759.8 769.6,762.3 770.1,764.7 770.6,767.1 771.1,769.4 771.6,771.7 772.1,774.0 772.6,776.3 773.2,778.5 773.7,780.7 774.3,782.9 774.9,785.0 775.6,787.2 776.2,789.4 776.9,791.4 777.5,793.4 778.2,795.3 778.8,797.0 779.5,798.6 780.1,800.2 780.7,801.6 781.3,802.9 781.9,804.2 782.6,805.3 783.3,806.3 783.9,807.3 784.6,808.0 785.4,808.7 786.1,809.2 786.8,809.6 787.6,810.0 788.4,810.3 789.2,810.6 790.1,810.9 791.0,811.2 792.0,811.5 793.0,811.6 794.0,811.8 795.1,811.9 796.2,812.1 797.2,812.2 798.3,812.4 799.3,812.6 800.3,812.8 801.2,813.0 802.2,813.2 803.2,813.4 804.2,813.6 805.3,813.7 806.4,813.8 807.6,813.8 808.9,813.8 810.2,813.8 811.5,813.7 812.9,813.6 814.2,813.5 815.5,813.5 816.7,813.4 817.8,813.3 818.8,813.3 819.8,813.2 820.7,813.1 821.7,813.1 822.7,813.0 823.7,813.0 824.8,813.0 826.0,813.0 827.3,813.1 828.6,813.3 830.0,813.4 831.3,813.5 832.6,813.6 833.9,813.5 835.1,813.4 836.2,813.1 837.3,812.7 838.3,812.3 839.3,811.8 840.3,811.2 841.2,810.6 842.2,809.9 843.2,809.3 844.3,808.6 845.3,808.0 846.3,807.3 847.3,806.5 848.4,805.7 849.4,804.9 850.4,804.1 851.4,803.2 852.4,802.2 853.5,801.2 854.5,800.1 855.5,799.0 856.5,797.9 857.6,796.8 858.6,795.7 859.6,794.6" fill="none" stroke="#000" stroke-width="4.6" stroke-linejoin="round"/>
<polyline points="539.6,894.2 543.4,894.2 543.4,891.1 547.8,891.1 547.8,872.3 552.2,872.3 552.2,827.3 556.6,827.3 556.6,741.4 561.0,741.4 561.0,624.2 565.4,624.2 565.4,698.9 569.8,698.9 569.8,658.0 574.2,658.0 574.2,648.8 578.6,648.8 578.6,663.7 583.0,663.7 583.0,713.6 587.3,713.6 587.3,756.1 591.7,756.1 591.7,796.6 596.1,796.6 596.1,822.0 600.5,822.0 600.5,824.6 604.9,824.6 604.9,836.9 609.3,836.9 609.3,844.5 613.7,844.5 613.7,854.3 618.1,854.3 618.1,860.4 622.5,860.4 622.5,857.4 626.9,857.4 626.9,858.8 631.3,858.8 631.3,860.4 635.7,860.4 635.7,868.6 640.1,868.6 640.1,863.5 644.5,863.5 644.5,860.0 648.9,860.0 648.9,851.2 653.3,851.2 653.3,844.5 657.7,844.5 657.7,837.9 662.0,837.9 662.0,834.9 666.4,834.9 666.4,830.8 670.8,830.8 670.8,827.3 675.2,827.3 675.2,830.8 679.6,830.8 679.6,840.0 684.0,840.0 684.0,846.1 688.4,846.1 688.4,841.6 692.8,841.6 692.8,827.7 697.2,827.7 697.2,801.1 701.6,801.1 701.6,799.1 706.0,799.1 706.0,800.7 710.4,800.7 710.4,810.3 714.8,810.3 714.8,797.4 719.2,797.4 719.2,785.2 723.6,785.2 723.6,722.4 728.0,722.4 728.0,635.9 732.3,635.9 732.3,574.5 736.7,574.5 736.7,611.3 741.1,611.3 741.1,632.4 745.5,632.4 745.5,648.2 749.9,648.2 749.9,680.5 754.3,680.5 754.3,708.1 758.7,708.1 758.7,742.2 763.1,742.2 763.1,753.1 767.5,753.1 767.5,772.1 771.9,772.1 771.9,799.5 776.3,799.5 776.3,814.4 780.7,814.4 780.7,819.5 785.1,819.5 785.1,827.7 789.5,827.7 789.5,829.7 793.9,829.7 793.9,835.9 798.3,835.9 798.3,848.2 802.7,848.2 802.7,858.8 807.0,858.8 807.0,858.8 811.4,858.8 811.4,862.5 815.8,862.5 815.8,858.4 820.2,858.4 820.2,859.4 824.6,859.4 824.6,855.3 829.0,855.3 829.0,857.4 833.4,857.4 833.4,858.4 837.8,858.4 837.8,855.3 842.2,855.3 842.2,856.7 846.6,856.7 846.6,858.8 851.0,858.8 851.0,865.5 855.4,865.5 855.4,869.6 859.8,869.6 859.8,874.8 864.2,874.8" fill="none" stroke="#e09a88" stroke-width="3.9" stroke-linejoin="round"/>
</svg>
<rect x="517.3" y="523.8" width="347.1" height="405.7" fill="none" stroke="#333" stroke-width="1.4"/>
<text x="655.2" y="510.8" font-size="25.9" textLength="95.7" lengthAdjust="spacingAndGlyphs">Manaus</text>
</g>
<g>
<svg x="886.1" y="523.8" width="347.1" height="405.7" viewBox="886.1 523.8 347.1 405.7" overflow="hidden">
<path d="M902.5 523.8V929.5M959.6 523.8V929.5M1017.0 523.8V929.5M1074.8 523.8V929.5M1131.9 523.8V929.5M1188.7 523.8V929.5M886.1 870.7H1233.2M886.1 789.9H1233.2M886.1 709.1H1233.2M886.1 628.3H1233.2M886.1 547.5H1233.2" stroke="#ebebeb" stroke-width="2.1" fill="none"/>
<path d="M886.1 911.1H1233.2M886.1 830.3H1233.2M886.1 749.5H1233.2M886.1 668.7H1233.2M886.1 587.9H1233.2" stroke="#ebebeb" stroke-width="3.8" fill="none"/>
<path d="M931.1 523.8V929.5M988.2 523.8V929.5M1045.9 523.8V929.5M1103.7 523.8V929.5M1160.2 523.8V929.5M1217.3 523.8V929.5" stroke="#ebebeb" stroke-width="4.4" fill="none"/>
<path d="M1119.6 527.8V929.5" stroke="#000" stroke-width="4.8" stroke-dasharray="4.4 4.26" fill="none"/>
<polygon points="938.6,752.0 939.2,750.5 939.8,749.0 940.3,747.4 940.9,745.9 941.5,744.4 942.1,742.8 942.7,741.3 943.3,739.8 944.0,738.2 944.7,736.6 945.5,734.9 946.2,733.3 947.0,731.7 947.8,730.2 948.6,728.8 949.5,727.5 950.3,726.3 951.2,725.3 952.1,724.3 953.0,723.3 953.9,722.5 954.8,721.7 955.7,721.0 956.6,720.3 957.5,719.8 958.4,719.3 959.3,719.0 960.2,718.7 961.1,718.4 962.0,718.1 962.9,717.7 963.8,717.3 964.7,716.7 965.6,716.2 966.6,715.6 967.5,715.0 968.5,714.3 969.4,713.6 970.2,712.9 970.9,712.2 971.6,711.4 972.2,710.5 972.7,709.6 973.2,708.6 973.7,707.7 974.1,706.7 974.6,705.8 975.0,705.0 975.5,704.1 975.9,703.2 976.4,702.2 976.8,701.3 977.2,700.4 977.6,699.8 978.1,699.4 978.5,699.3 978.9,699.5 979.4,699.9 979.8,700.5 980.2,701.3 980.7,702.3 981.2,703.4 981.7,704.7 982.2,706.0 982.7,707.5 983.3,709.1 983.9,710.9 984.6,712.8 985.2,714.9 985.9,717.0 986.6,719.1 987.3,721.4 988.0,723.7 988.8,726.1 989.5,728.6 990.3,731.1 991.1,733.8 991.9,736.4 992.7,739.1 993.4,741.8 994.2,744.5 995.0,747.3 995.7,750.1 996.5,752.9 997.3,755.8 998.0,758.6 998.8,761.5 999.6,764.3 1000.3,767.2 1001.1,770.1 1001.9,773.1 1002.7,776.0 1003.5,778.9 1004.2,781.7 1005.0,784.3 1005.7,786.8 1006.4,789.1 1007.0,791.4 1007.7,793.5 1008.3,795.5 1008.9,797.4 1009.6,799.1 1010.2,800.7 1010.8,802.1 1011.4,803.4 1012.1,804.5 1012.7,805.4 1013.3,806.2 1013.9,806.8 1014.6,807.4 1015.2,807.9 1015.9,808.3 1016.6,808.6 1017.4,808.9 1018.2,809.1 1018.9,809.2 1019.7,809.1 1020.5,809.0 1021.3,808.7 1022.1,808.3 1022.8,807.7 1023.6,806.8 1024.3,805.9 1025.1,804.8 1025.8,803.6 1026.6,802.4 1027.4,801.2 1028.2,800.1 1029.0,799.0 1029.9,797.8 1030.8,796.6 1031.7,795.4 1032.6,794.2 1033.5,793.0 1034.5,791.9 1035.4,790.9 1036.3,790.0 1037.2,789.1 1038.1,788.3 1039.1,787.5 1040.0,786.8 1040.9,786.1 1041.7,785.4 1042.5,784.8 1043.2,784.1 1043.9,783.4 1044.6,782.7 1045.2,782.1 1045.8,781.5 1046.4,781.1 1047.0,780.8 1047.6,780.7 1048.3,780.8 1048.9,781.0 1049.5,781.4 1050.1,781.9 1050.7,782.6 1051.4,783.3 1052.0,784.0 1052.7,784.8 1053.5,785.6 1054.2,786.5 1055.0,787.4 1055.7,788.5 1056.5,789.5 1057.3,790.7 1058.1,791.8 1058.9,792.9 1059.6,794.1 1060.4,795.4 1061.2,796.7 1061.9,798.0 1062.7,799.3 1063.5,800.6 1064.2,801.9 1065.0,803.2 1065.8,804.4 1066.5,805.7 1067.3,806.9 1068.0,808.1 1068.8,809.3 1069.5,810.4 1070.3,811.5 1071.1,812.4 1072.0,813.1 1072.9,813.8 1073.8,814.4 1074.7,814.9 1075.6,815.4 1076.6,815.8 1077.4,816.1 1078.3,816.5 1079.1,816.8 1079.9,817.0 1080.7,817.3 1081.4,817.5 1082.2,817.6 1082.9,817.7 1083.7,817.6 1084.4,817.5 1085.2,817.2 1086.0,816.9 1086.7,816.5 1087.5,816.1 1088.3,815.5 1089.0,814.9 1089.8,814.2 1090.6,813.4 1091.3,812.4 1092.1,811.3 1092.9,810.0 1093.6,808.7 1094.4,807.4 1095.2,806.2 1095.9,805.1 1096.7,804.2 1097.5,803.5 1098.2,803.1 1099.0,802.8 1099.8,802.6 1100.5,802.4 1101.3,802.1 1102.1,801.7 1102.8,801.1 1103.6,800.4 1104.4,799.5 1105.1,798.6 1105.9,797.6 1106.7,796.5 1107.4,795.4 1108.2,794.2 1109.0,792.9 1109.7,791.7 1110.5,790.5 1111.3,789.3 1112.1,788.0 1112.9,786.5 1113.6,784.8 1114.4,782.9 1115.1,780.7 1115.8,778.1 1116.5,775.2 1117.1,772.1 1117.7,768.8 1118.3,765.3 1119.0,761.6 1119.6,757.9 1120.2,754.1 1120.9,750.1 1121.5,746.0 1122.1,741.6 1122.8,737.2 1123.4,732.7 1124.1,728.2 1124.7,723.7 1125.3,719.3 1126.0,714.9 1126.6,710.5 1127.2,706.1 1127.8,701.7 1128.5,697.3 1129.1,693.0 1129.8,688.7 1130.4,684.6 1131.2,680.4 1131.9,676.3 1132.7,672.2 1133.4,668.1 1134.2,664.2 1135.0,660.5 1135.8,657.0 1136.6,653.9 1137.3,651.0 1138.1,648.4 1138.9,646.0 1139.6,643.8 1140.4,641.8 1141.2,640.0 1141.9,638.2 1142.7,636.5 1143.5,634.9 1144.3,633.4 1145.1,632.0 1145.8,630.8 1146.6,629.7 1147.4,628.8 1148.1,627.9 1148.8,627.3 1149.5,626.8 1150.2,626.4 1150.8,626.2 1151.5,626.1 1152.1,626.1 1152.7,626.4 1153.3,626.7 1154.0,627.3 1154.6,628.0 1155.2,629.0 1155.8,630.1 1156.5,631.4 1157.1,632.8 1157.7,634.3 1158.4,635.9 1159.1,637.5 1159.8,639.3 1160.5,641.3 1161.3,643.5 1162.1,645.7 1162.9,647.9 1163.7,650.1 1164.4,652.1 1165.2,653.9 1166.0,655.5 1166.7,657.0 1167.5,658.3 1168.2,659.6 1169.0,660.8 1169.7,662.0 1170.5,663.1 1171.3,664.1 1172.2,665.1 1173.1,665.9 1174.0,666.7 1174.9,667.5 1175.8,668.2 1176.7,668.9 1177.6,669.5 1178.5,670.2 1179.4,670.9 1180.3,671.5 1181.2,672.1 1182.1,672.6 1183.0,673.2 1183.9,673.8 1184.8,674.5 1185.7,675.4 1186.6,676.3 1187.4,677.2 1188.3,678.2 1189.2,679.2 1190.1,680.4 1191.0,681.7 1191.9,683.0 1192.8,684.6 1193.7,686.3 1194.6,688.2 1195.5,690.3 1196.5,692.4 1197.4,694.6 1198.3,696.8 1199.1,698.9 1200.0,700.9 1200.8,702.8 1201.6,704.6 1202.3,706.4 1203.1,708.2 1203.9,710.0 1204.6,711.7 1205.3,713.5 1206.1,715.2 1206.5,771.5 1205.4,769.0 1204.3,766.4 1203.2,763.9 1202.1,761.3 1201.0,758.8 1200.0,756.4 1198.9,754.1 1197.9,752.0 1197.0,750.1 1196.0,748.3 1195.1,746.6 1194.3,745.1 1193.4,743.6 1192.5,742.2 1191.7,741.0 1190.8,739.8 1189.9,738.7 1189.0,737.7 1188.1,736.9 1187.3,736.1 1186.4,735.4 1185.5,734.8 1184.6,734.2 1183.6,733.6 1182.6,733.2 1181.6,732.9 1180.6,732.8 1179.5,732.6 1178.5,732.5 1177.4,732.2 1176.4,731.8 1175.4,731.2 1174.5,730.3 1173.5,729.3 1172.6,728.1 1171.7,726.9 1170.8,725.5 1169.9,724.2 1169.1,722.8 1168.3,721.4 1167.5,719.9 1166.9,718.5 1166.2,716.9 1165.6,715.4 1165.0,713.8 1164.4,712.2 1163.8,710.6 1163.2,709.1 1162.5,707.5 1161.9,705.9 1161.2,704.2 1160.6,702.6 1160.0,701.0 1159.3,699.5 1158.7,698.1 1158.1,696.8 1157.4,695.7 1156.7,694.6 1156.1,693.6 1155.4,692.7 1154.8,691.9 1154.1,691.3 1153.5,690.7 1152.9,690.3 1152.4,690.0 1151.9,689.8 1151.4,689.7 1150.9,689.8 1150.4,690.0 1149.9,690.2 1149.4,690.6 1148.8,691.1 1148.3,691.7 1147.6,692.4 1147.0,693.2 1146.4,694.1 1145.7,695.2 1145.0,696.3 1144.4,697.5 1143.7,698.9 1143.1,700.3 1142.5,701.7 1141.8,703.2 1141.2,704.9 1140.5,706.6 1139.9,708.6 1139.3,710.8 1138.6,713.2 1138.0,715.9 1137.3,718.8 1136.7,722.0 1136.1,725.3 1135.4,728.8 1134.8,732.4 1134.2,736.1 1133.5,739.8 1132.9,743.6 1132.2,747.5 1131.6,751.6 1131.0,755.7 1130.3,759.9 1129.7,764.2 1129.0,768.4 1128.4,772.5 1127.8,776.6 1127.1,780.9 1126.5,785.1 1125.8,789.4 1125.2,793.5 1124.6,797.6 1123.9,801.5 1123.3,805.2 1122.6,808.7 1122.0,812.1 1121.4,815.3 1120.7,818.4 1120.1,821.4 1119.5,824.2 1118.8,827.0 1118.2,829.7 1117.5,832.4 1116.9,835.0 1116.3,837.5 1115.7,839.8 1115.1,842.1 1114.4,844.3 1113.7,846.3 1113.1,848.2 1112.3,849.9 1111.6,851.4 1110.8,852.8 1110.1,854.0 1109.3,855.2 1108.5,856.3 1107.7,857.4 1106.9,858.4 1106.2,859.3 1105.4,860.2 1104.6,861.0 1103.9,861.7 1103.1,862.4 1102.3,863.1 1101.6,863.8 1100.8,864.5 1100.0,865.3 1099.3,866.0 1098.5,866.7 1097.7,867.5 1097.0,868.2 1096.2,869.0 1095.4,869.8 1094.7,870.6 1093.9,871.6 1093.1,872.7 1092.4,873.8 1091.6,874.9 1090.8,876.0 1090.1,877.0 1089.3,877.8 1088.5,878.4 1087.8,878.8 1087.0,879.0 1086.2,879.0 1085.5,878.9 1084.7,878.8 1083.9,878.6 1083.2,878.5 1082.4,878.4 1081.6,878.4 1080.9,878.4 1080.1,878.3 1079.3,878.3 1078.6,878.2 1077.8,878.1 1077.0,878.0 1076.3,877.8 1075.5,877.6 1074.7,877.3 1073.9,877.0 1073.1,876.7 1072.3,876.3 1071.6,875.9 1070.8,875.3 1070.1,874.7 1069.4,874.1 1068.8,873.4 1068.2,872.6 1067.6,871.7 1067.0,870.8 1066.3,869.8 1065.7,868.7 1065.0,867.6 1064.3,866.3 1063.5,864.8 1062.8,863.1 1062.0,861.4 1061.2,859.8 1060.4,858.1 1059.6,856.6 1058.9,855.3 1058.1,854.2 1057.3,853.1 1056.5,852.1 1055.7,851.2 1054.9,850.4 1054.2,849.6 1053.4,848.9 1052.7,848.2 1052.1,847.4 1051.5,846.7 1051.0,846.0 1050.5,845.4 1050.0,844.9 1049.5,844.4 1048.9,844.2 1048.2,844.1 1047.5,844.2 1046.7,844.5 1045.8,844.9 1045.0,845.5 1044.1,846.1 1043.2,846.8 1042.3,847.5 1041.5,848.2 1040.7,848.8 1039.9,849.5 1039.1,850.3 1038.4,851.1 1037.6,851.9 1036.9,852.7 1036.1,853.5 1035.4,854.3 1034.6,855.0 1033.8,855.8 1033.1,856.5 1032.3,857.2 1031.5,857.9 1030.8,858.7 1030.0,859.5 1029.2,860.4 1028.4,861.5 1027.7,862.6 1026.9,863.9 1026.1,865.2 1025.4,866.4 1024.6,867.6 1023.8,868.7 1023.1,869.6 1022.3,870.5 1021.5,871.3 1020.7,872.0 1020.0,872.7 1019.2,873.2 1018.4,873.6 1017.7,873.8 1016.9,873.7 1016.3,873.4 1015.6,872.9 1015.0,872.2 1014.3,871.3 1013.7,870.3 1013.1,869.1 1012.5,867.9 1011.8,866.6 1011.2,865.1 1010.6,863.6 1009.9,861.9 1009.3,860.1 1008.6,858.2 1008.0,856.3 1007.4,854.3 1006.7,852.2 1006.1,850.2 1005.4,848.0 1004.8,845.7 1004.2,843.4 1003.5,841.1 1002.9,838.7 1002.2,836.3 1001.6,833.8 1001.0,831.4 1000.3,828.9 999.7,826.3 999.1,823.7 998.4,821.1 997.8,818.5 997.1,816.0 996.5,813.4 995.9,810.8 995.2,808.2 994.6,805.6 993.9,803.0 993.3,800.5 992.7,797.9 992.0,795.4 991.4,792.9 990.7,790.5 990.1,788.0 989.5,785.5 988.8,783.0 988.2,780.7 987.6,778.4 986.9,776.4 986.3,774.5 985.6,772.9 985.0,771.4 984.3,770.1 983.6,768.9 983.0,767.9 982.3,767.0 981.7,766.1 981.2,765.3 980.6,764.6 980.1,764.1 979.7,763.6 979.2,763.2 978.8,762.9 978.4,762.7 977.9,762.7 977.5,762.7 977.0,762.8 976.6,763.0 976.2,763.4 975.8,763.8 975.4,764.4 975.0,765.0 974.5,765.6 974.0,766.4 973.4,767.2 972.8,768.2 972.2,769.4 971.5,770.5 970.9,771.7 970.2,772.8 969.5,773.8 968.9,774.5 968.3,775.1 967.7,775.4 967.1,775.7 966.5,775.8 965.8,775.9 965.2,776.1 964.5,776.3 963.8,776.6 963.0,777.0 962.1,777.4 961.2,777.8 960.3,778.2 959.4,778.7 958.5,779.3 957.5,779.9 956.6,780.7 955.7,781.5 954.8,782.4 953.9,783.4 953.0,784.4 952.1,785.5 951.2,786.6 950.3,787.7 949.5,788.8 948.6,789.9 947.8,791.0 947.0,792.1 946.2,793.3 945.5,794.4 944.7,795.6 944.0,796.8 943.3,798.1 942.7,799.4 942.1,800.7 941.5,802.1 940.9,803.5 940.3,805.0 939.8,806.4 939.2,807.9 938.6,809.3" fill="#b6b6b6" fill-opacity="0.81"/>
<polyline points="938.6,781.1 939.2,779.5 939.8,777.9 940.4,776.2 940.9,774.6 941.5,773.0 942.1,771.4 942.7,769.9 943.3,768.4 943.9,767.0 944.6,765.6 945.2,764.2 945.9,762.9 946.5,761.7 947.2,760.5 947.8,759.3 948.4,758.2 949.1,757.1 949.7,756.1 950.3,755.1 950.9,754.1 951.6,753.3 952.2,752.4 952.9,751.7 953.6,751.0 954.3,750.4 955.0,749.9 955.8,749.5 956.6,749.2 957.3,748.8 958.1,748.5 958.9,748.3 959.7,747.9 960.5,747.7 961.2,747.4 962.0,747.2 962.8,747.0 963.6,746.8 964.4,746.5 965.1,746.3 965.8,745.9 966.5,745.5 967.2,745.1 967.9,744.7 968.5,744.2 969.1,743.7 969.8,743.1 970.4,742.5 970.9,741.8 971.5,741.0 972.1,740.2 972.6,739.2 973.1,738.2 973.6,737.3 974.1,736.3 974.6,735.4 975.0,734.7 975.5,733.9 975.9,733.3 976.2,732.6 976.6,732.0 977.0,731.4 977.3,731.0 977.7,730.7 978.1,730.6 978.5,730.6 978.8,730.7 979.2,730.9 979.6,731.3 979.9,731.7 980.3,732.3 980.7,732.9 981.2,733.6 981.6,734.4 982.1,735.3 982.6,736.3 983.1,737.3 983.6,738.5 984.1,739.8 984.7,741.3 985.2,742.8 985.8,744.6 986.5,746.5 987.1,748.6 987.7,750.8 988.4,753.1 989.1,755.5 989.7,757.8 990.4,760.2 991.0,762.6 991.6,765.1 992.3,767.6 992.9,770.2 993.6,772.8 994.2,775.4 994.8,778.0 995.5,780.7 996.1,783.3 996.8,786.0 997.4,788.7 998.0,791.5 998.7,794.2 999.3,796.9 999.9,799.5 1000.6,802.1 1001.2,804.7 1001.9,807.3 1002.5,809.8 1003.1,812.3 1003.8,814.7 1004.4,817.1 1005.1,819.4 1005.7,821.6 1006.3,823.7 1007.0,825.7 1007.7,827.7 1008.3,829.6 1009.0,831.4 1009.6,833.1 1010.2,834.6 1010.8,835.9 1011.4,837.0 1011.9,837.9 1012.4,838.7 1012.9,839.3 1013.4,839.8 1013.9,840.2 1014.4,840.6 1014.9,841.0 1015.4,841.3 1015.9,841.6 1016.4,841.8 1016.9,842.0 1017.5,842.1 1018.0,842.1 1018.5,842.1 1019.0,842.0 1019.5,841.9 1020.0,841.8 1020.5,841.6 1021.0,841.3 1021.5,841.0 1022.0,840.6 1022.5,840.1 1023.1,839.6 1023.7,838.9 1024.3,838.0 1024.9,837.1 1025.5,836.0 1026.2,835.0 1026.8,833.9 1027.5,832.8 1028.2,831.8 1028.9,830.8 1029.7,829.7 1030.4,828.7 1031.2,827.6 1032.0,826.5 1032.8,825.5 1033.6,824.5 1034.3,823.6 1035.1,822.7 1035.9,821.9 1036.7,821.1 1037.5,820.3 1038.2,819.6 1039.0,818.8 1039.7,818.2 1040.5,817.5 1041.2,816.8 1041.9,816.2 1042.5,815.5 1043.2,814.9 1043.9,814.4 1044.5,813.8 1045.0,813.4 1045.6,813.0 1046.1,812.6 1046.5,812.3 1046.8,812.0 1047.2,811.8 1047.5,811.7 1047.9,811.6 1048.2,811.6 1048.6,811.8 1049.1,812.0 1049.6,812.4 1050.1,812.8 1050.6,813.3 1051.1,813.9 1051.6,814.6 1052.2,815.2 1052.7,815.8 1053.3,816.5 1053.9,817.2 1054.6,818.0 1055.2,818.7 1055.9,819.5 1056.5,820.4 1057.2,821.2 1057.8,822.0 1058.5,822.8 1059.1,823.6 1059.8,824.4 1060.4,825.2 1061.0,826.0 1061.7,826.9 1062.3,827.8 1063.0,828.7 1063.6,829.8 1064.2,830.9 1064.9,832.1 1065.5,833.4 1066.2,834.6 1066.8,835.8 1067.4,836.9 1068.1,837.9 1068.7,838.9 1069.3,839.7 1069.9,840.6 1070.6,841.4 1071.2,842.1 1071.8,842.8 1072.5,843.5 1073.2,844.1 1073.9,844.6 1074.6,845.1 1075.4,845.5 1076.2,845.9 1077.0,846.3 1077.8,846.6 1078.5,846.9 1079.3,847.1 1080.1,847.3 1080.9,847.5 1081.7,847.7 1082.5,847.8 1083.3,847.8 1084.1,847.8 1084.8,847.8 1085.5,847.7 1086.1,847.6 1086.6,847.5 1087.1,847.4 1087.6,847.2 1088.0,846.9 1088.5,846.6 1089.0,846.2 1089.5,845.7 1090.1,845.1 1090.8,844.3 1091.4,843.4 1092.0,842.5 1092.7,841.6 1093.4,840.6 1094.0,839.7 1094.7,839.0 1095.3,838.2 1095.9,837.6 1096.5,837.0 1097.1,836.4 1097.8,835.8 1098.4,835.2 1099.1,834.5 1099.8,833.8 1100.5,833.1 1101.3,832.4 1102.0,831.7 1102.8,830.9 1103.6,830.1 1104.4,829.3 1105.2,828.5 1105.9,827.7 1106.6,826.9 1107.3,826.2 1107.9,825.5 1108.5,824.7 1109.1,823.9 1109.8,822.9 1110.4,821.8 1111.0,820.5 1111.7,819.1 1112.3,817.5 1112.9,815.8 1113.6,814.0 1114.2,812.0 1114.9,809.9 1115.5,807.6 1116.1,805.2 1116.8,802.6 1117.4,799.9 1118.0,797.0 1118.7,794.0 1119.3,790.9 1120.0,787.6 1120.6,784.2 1121.2,780.7 1121.9,777.0 1122.5,773.1 1123.2,769.1 1123.8,764.9 1124.4,760.7 1125.1,756.5 1125.7,752.2 1126.4,747.9 1127.0,743.6 1127.6,739.2 1128.3,734.7 1128.9,730.2 1129.5,725.7 1130.2,721.3 1130.8,717.2 1131.5,713.2 1132.1,709.4 1132.7,705.7 1133.4,702.2 1134.0,698.8 1134.7,695.5 1135.3,692.4 1135.9,689.4 1136.6,686.6 1137.2,683.9 1137.9,681.4 1138.5,679.0 1139.1,676.8 1139.8,674.7 1140.4,672.8 1141.1,670.9 1141.7,669.2 1142.3,667.6 1143.0,666.2 1143.7,664.9 1144.3,663.7 1145.0,662.6 1145.6,661.6 1146.2,660.8 1146.8,660.0 1147.4,659.4 1147.9,658.8 1148.4,658.4 1148.9,658.1 1149.4,657.9 1149.9,657.7 1150.4,657.6 1150.9,657.6 1151.4,657.5 1151.9,657.6 1152.4,657.6 1152.9,657.8 1153.4,658.0 1153.9,658.4 1154.4,658.9 1155.0,659.6 1155.6,660.5 1156.2,661.5 1156.8,662.7 1157.4,664.0 1158.1,665.5 1158.7,667.0 1159.4,668.6 1160.1,670.2 1160.8,672.1 1161.6,674.1 1162.4,676.3 1163.2,678.6 1164.0,680.8 1164.7,683.0 1165.5,684.9 1166.2,686.6 1166.9,688.0 1167.6,689.3 1168.2,690.4 1168.9,691.4 1169.5,692.3 1170.1,693.2 1170.7,694.0 1171.3,694.8 1172.0,695.5 1172.6,696.2 1173.2,696.8 1173.8,697.3 1174.4,697.8 1175.0,698.3 1175.7,698.8 1176.5,699.3 1177.3,699.7 1178.1,700.2 1179.0,700.5 1180.0,700.9 1180.9,701.3 1181.8,701.7 1182.8,702.1 1183.6,702.6 1184.4,703.0 1185.2,703.5 1186.0,704.0 1186.7,704.5 1187.5,705.0 1188.2,705.6 1189.0,706.3 1189.7,707.0 1190.5,707.9 1191.3,708.7 1192.0,709.6 1192.8,710.5 1193.6,711.6 1194.3,712.7 1195.1,713.9 1195.9,715.2 1196.7,716.7 1197.4,718.4 1198.2,720.2 1199.0,722.0 1199.8,723.9 1200.6,725.9 1201.3,727.7 1202.0,729.5 1202.7,731.3 1203.4,733.0 1204.0,734.8 1204.6,736.5 1205.3,738.3 1205.9,740.0 1206.5,741.7 1207.1,743.4" fill="none" stroke="#000" stroke-width="4.6" stroke-linejoin="round"/>
<polyline points="921.4,879.9 925.4,879.9 925.4,873.1 929.8,873.1 929.8,868.6 934.2,868.6 934.2,871.7 938.6,871.7 938.6,862.9 943.0,862.9 943.0,851.2 947.4,851.2 947.4,830.8 951.8,830.8 951.8,811.3 956.1,811.3 956.1,778.6 960.5,778.6 960.5,744.9 964.9,744.9 964.9,732.0 969.3,732.0 969.3,725.0 973.7,725.0 973.7,735.7 978.1,735.7 978.1,748.4 982.5,748.4 982.5,759.2 986.9,759.2 986.9,776.2 991.3,776.2 991.3,797.0 995.7,797.0 995.7,811.8 1000.1,811.8 1000.1,826.1 1004.5,826.1 1004.5,834.2 1008.9,834.2 1008.9,846.1 1013.3,846.1 1013.3,848.6 1017.7,848.6 1017.7,851.2 1022.1,851.2 1022.1,858.4 1026.5,858.4 1026.5,863.5 1030.8,863.5 1030.8,875.1 1035.2,875.1 1035.2,880.5 1039.6,880.5 1039.6,882.4 1044.0,882.4 1044.0,882.9 1048.4,882.9 1048.4,882.5 1052.8,882.5 1052.8,878.8 1057.2,878.8 1057.2,869.6 1061.6,869.6 1061.6,862.5 1066.0,862.5 1066.0,836.9 1070.4,836.9 1070.4,835.5 1074.8,835.5 1074.8,824.0 1079.2,824.0 1079.2,831.8 1083.6,831.8 1083.6,828.7 1088.0,828.7 1088.0,829.7 1092.4,829.7 1092.4,829.7 1096.8,829.7 1096.8,822.6 1101.1,822.6 1101.1,815.0 1105.5,815.0 1105.5,817.0 1109.9,817.0 1109.9,817.5 1114.3,817.5 1114.3,823.6 1118.7,823.6 1118.7,811.8 1123.1,811.8 1123.1,817.5 1127.5,817.5 1127.5,790.5 1131.9,790.5 1131.9,758.2 1136.3,758.2 1136.3,719.7 1140.7,719.7 1140.7,735.7 1145.1,735.7 1145.1,740.2 1149.5,740.2 1149.5,760.2 1153.9,760.2 1153.9,764.7 1158.3,764.7 1158.3,768.4 1162.7,768.4 1162.7,768.4 1167.1,768.4 1167.1,774.9 1171.5,774.9 1171.5,771.5 1175.8,771.5 1175.8,777.6 1180.2,777.6 1180.2,774.9 1184.6,774.9 1184.6,774.9 1189.0,774.9 1189.0,771.5 1193.4,771.5 1193.4,771.5 1197.8,771.5 1197.8,788.8 1202.2,788.8 1202.2,809.7 1206.6,809.7 1206.6,833.8 1211.0,833.8 1211.0,846.1 1215.4,846.1 1215.4,855.9 1219.8,855.9 1219.8,859.4 1224.2,859.4 1224.2,867.6 1228.6,867.6 1228.6,874.0 1233.0,874.0" fill="none" stroke="#9a97b3" stroke-width="3.9" stroke-linejoin="round"/>
</svg>
<rect x="886.1" y="523.8" width="347.1" height="405.7" fill="none" stroke="#333" stroke-width="1.4"/>
<text x="1036.7" y="510.8" font-size="25.9" textLength="62.1" lengthAdjust="spacingAndGlyphs">Natal</text>
</g>
<g>
<svg x="1254.9" y="523.8" width="347.1" height="405.7" viewBox="1254.9 523.8 347.1 405.7" overflow="hidden">
<path d="M1271.3 523.8V929.5M1328.4 523.8V929.5M1385.8 523.8V929.5M1443.6 523.8V929.5M1500.7 523.8V929.5M1557.5 523.8V929.5M1254.9 870.7H1602.0M1254.9 789.9H1602.0M1254.9 709.1H1602.0M1254.9 628.3H1602.0M1254.9 547.5H1602.0" stroke="#ebebeb" stroke-width="2.1" fill="none"/>
<path d="M1254.9 911.1H1602.0M1254.9 830.3H1602.0M1254.9 749.5H1602.0M1254.9 668.7H1602.0M1254.9 587.9H1602.0" stroke="#ebebeb" stroke-width="3.8" fill="none"/>
<path d="M1299.9 523.8V929.5M1357.0 523.8V929.5M1414.7 523.8V929.5M1472.5 523.8V929.5M1529.0 523.8V929.5M1586.1 523.8V929.5" stroke="#ebebeb" stroke-width="4.4" fill="none"/>
<path d="M1478.4 527.8V929.5" stroke="#000" stroke-width="4.8" stroke-dasharray="4.4 4.26" fill="none"/>
<polygon points="1294.5,848.2 1295.6,848.2 1296.7,848.3 1297.8,848.4 1298.9,848.5 1299.9,848.6 1301.0,848.6 1302.1,848.5 1303.1,848.2 1304.2,847.7 1305.2,847.1 1306.2,846.4 1307.2,845.6 1308.3,844.8 1309.3,844.0 1310.3,843.2 1311.3,842.5 1312.3,841.8 1313.4,841.1 1314.5,840.4 1315.5,839.8 1316.6,839.2 1317.6,838.5 1318.6,837.9 1319.5,837.3 1320.3,836.7 1321.1,836.1 1321.8,835.5 1322.6,834.8 1323.3,834.3 1324.0,833.8 1324.8,833.5 1325.6,833.3 1326.5,833.2 1327.5,833.4 1328.5,833.7 1329.6,834.1 1330.6,834.6 1331.7,834.9 1332.8,835.2 1333.8,835.3 1334.8,835.3 1335.9,835.1 1337.0,834.9 1338.0,834.7 1339.1,834.3 1340.1,834.0 1341.1,833.6 1342.0,833.3 1342.8,832.9 1343.7,832.5 1344.4,832.2 1345.2,831.8 1345.9,831.3 1346.6,830.7 1347.4,830.0 1348.1,829.2 1348.9,828.1 1349.6,826.9 1350.3,825.5 1351.1,824.0 1351.8,822.4 1352.6,820.9 1353.4,819.4 1354.2,817.9 1355.2,816.5 1356.2,815.0 1357.2,813.5 1358.2,812.0 1359.3,810.6 1360.3,809.2 1361.4,807.9 1362.4,806.7 1363.5,805.6 1364.5,804.5 1365.5,803.5 1366.5,802.6 1367.5,801.8 1368.6,801.0 1369.6,800.2 1370.6,799.5 1371.6,798.8 1372.7,798.2 1373.7,797.7 1374.7,797.2 1375.7,796.7 1376.7,796.3 1377.8,795.8 1378.8,795.4 1379.8,795.0 1380.8,794.6 1381.9,794.2 1382.9,793.8 1383.9,793.5 1384.9,793.3 1385.9,793.1 1387.0,793.0 1388.0,793.0 1389.0,793.1 1390.0,793.3 1391.1,793.6 1392.1,793.9 1393.1,794.1 1394.1,794.3 1395.1,794.4 1396.2,794.3 1397.2,794.2 1398.2,793.9 1399.2,793.7 1400.3,793.4 1401.3,793.3 1402.3,793.2 1403.3,793.4 1404.4,793.7 1405.4,794.2 1406.5,794.8 1407.5,795.5 1408.6,796.3 1409.6,797.1 1410.6,797.8 1411.5,798.5 1412.4,799.1 1413.2,799.6 1414.0,800.2 1414.7,800.7 1415.4,801.3 1416.2,802.0 1416.9,802.7 1417.6,803.6 1418.4,804.7 1419.2,805.9 1419.9,807.2 1420.7,808.6 1421.5,810.1 1422.2,811.4 1423.0,812.7 1423.8,813.8 1424.5,814.8 1425.3,815.8 1426.1,816.7 1426.8,817.5 1427.6,818.3 1428.4,818.9 1429.1,819.5 1429.9,820.0 1430.7,820.3 1431.4,820.6 1432.1,820.7 1432.9,820.8 1433.6,820.8 1434.4,820.7 1435.2,820.5 1436.0,820.4 1437.0,820.1 1438.0,819.8 1439.0,819.5 1440.1,819.0 1441.1,818.6 1442.2,818.0 1443.2,817.5 1444.2,816.9 1445.2,816.2 1446.1,815.5 1447.0,814.7 1447.9,813.8 1448.7,812.9 1449.6,812.1 1450.5,811.4 1451.4,810.8 1452.3,810.2 1453.2,809.8 1454.1,809.4 1455.0,809.1 1455.9,808.8 1456.8,808.5 1457.6,808.1 1458.5,807.7 1459.4,807.1 1460.4,806.5 1461.3,805.8 1462.2,805.0 1463.1,804.4 1464.0,803.8 1464.9,803.4 1465.7,803.2 1466.5,803.2 1467.3,803.5 1468.1,803.9 1468.8,804.5 1469.6,805.0 1470.3,805.6 1471.1,806.2 1471.8,806.7 1472.6,807.1 1473.4,807.7 1474.1,808.3 1474.9,808.8 1475.7,809.3 1476.4,809.6 1477.2,809.8 1478.0,809.7 1478.7,809.4 1479.5,809.0 1480.3,808.4 1481.1,807.6 1481.9,806.8 1482.6,805.8 1483.4,804.7 1484.1,803.6 1484.8,802.4 1485.4,801.2 1486.1,799.8 1486.7,798.4 1487.3,796.8 1487.9,795.1 1488.5,793.3 1489.2,791.3 1489.9,789.2 1490.7,786.9 1491.4,784.5 1492.2,782.0 1493.0,779.4 1493.8,776.6 1494.6,773.8 1495.4,770.9 1496.1,767.8 1496.9,764.7 1497.7,761.4 1498.4,758.0 1499.2,754.5 1500.0,751.1 1500.7,747.7 1501.5,744.3 1502.3,740.9 1503.0,737.4 1503.8,733.9 1504.6,730.4 1505.4,726.9 1506.2,723.6 1506.9,720.5 1507.6,717.7 1508.3,715.1 1509.0,712.8 1509.6,710.6 1510.2,708.5 1510.9,706.6 1511.5,704.8 1512.1,703.0 1512.7,701.3 1513.4,699.7 1514.0,698.2 1514.7,696.8 1515.3,695.5 1515.9,694.2 1516.6,693.1 1517.2,692.1 1517.8,691.1 1518.5,690.2 1519.2,689.3 1519.8,688.5 1520.5,687.8 1521.1,687.3 1521.8,686.9 1522.4,686.8 1523.0,687.0 1523.5,687.6 1524.0,688.4 1524.5,689.5 1525.0,690.8 1525.5,692.3 1526.0,693.9 1526.5,695.5 1527.1,697.3 1527.6,699.1 1528.2,701.1 1528.8,703.2 1529.5,705.4 1530.1,707.7 1530.8,710.0 1531.5,712.3 1532.2,714.6 1532.9,717.0 1533.6,719.4 1534.3,721.8 1535.1,724.3 1535.9,726.8 1536.7,729.2 1537.5,731.7 1538.3,734.1 1539.1,736.5 1540.0,738.9 1540.9,741.4 1541.8,743.8 1542.7,746.1 1543.6,748.4 1544.6,750.5 1545.5,752.5 1546.3,754.2 1547.2,755.8 1548.1,757.3 1549.0,758.7 1549.9,760.0 1550.8,761.2 1551.7,762.5 1552.6,763.7 1553.6,765.0 1554.6,766.2 1555.6,767.4 1556.6,768.5 1557.7,769.6 1558.7,770.7 1559.8,771.8 1560.8,772.9 1561.8,774.0 1562.8,775.0 1563.9,775.9 1564.9,776.9 1565.9,777.9 1566.9,778.9 1568.0,779.9 1569.0,781.1 1570.0,782.4 1571.0,783.7 1572.0,785.1 1573.1,786.6 1574.1,788.1 1575.1,789.5 1576.1,791.0 1577.2,792.4 1578.2,793.7 1579.2,795.1 1580.3,796.4 1581.3,797.8 1582.3,799.1 1583.4,800.3 1584.4,801.5 1585.3,802.6 1586.3,803.6 1587.2,804.5 1588.2,805.4 1589.1,806.2 1590.0,807.0 1590.9,807.7 1591.7,808.2 1592.5,808.7 1593.2,809.1 1593.9,809.3 1594.6,809.3 1595.2,809.4 1595.8,809.3 1596.4,809.3 1597.0,809.3 1597.6,809.3 1597.6,870.1 1596.7,868.4 1595.8,866.7 1594.9,865.0 1594.0,863.4 1593.1,861.7 1592.2,860.0 1591.3,858.4 1590.4,856.8 1589.6,855.2 1588.7,853.6 1587.8,852.0 1586.9,850.5 1586.0,849.0 1585.1,847.5 1584.2,846.0 1583.3,844.5 1582.3,843.0 1581.3,841.6 1580.3,840.2 1579.3,838.7 1578.2,837.3 1577.2,836.0 1576.1,834.6 1575.1,833.3 1574.1,831.9 1573.1,830.6 1572.0,829.3 1571.0,828.0 1570.0,826.7 1569.0,825.5 1568.0,824.2 1566.9,823.0 1565.9,821.8 1564.9,820.7 1563.9,819.5 1562.8,818.4 1561.8,817.3 1560.8,816.2 1559.8,815.0 1558.7,813.8 1557.7,812.6 1556.7,811.3 1555.6,810.1 1554.5,808.8 1553.5,807.5 1552.5,806.2 1551.5,804.9 1550.6,803.6 1549.7,802.4 1548.9,801.2 1548.1,800.1 1547.4,799.0 1546.6,797.8 1545.9,796.5 1545.2,795.0 1544.4,793.4 1543.7,791.5 1542.9,789.4 1542.1,787.2 1541.4,784.9 1540.6,782.5 1539.8,780.0 1539.1,777.5 1538.3,775.0 1537.5,772.4 1536.7,769.7 1536.0,767.0 1535.2,764.2 1534.4,761.4 1533.6,758.6 1532.9,756.0 1532.2,753.5 1531.5,751.1 1530.8,748.6 1530.1,746.2 1529.5,743.8 1528.8,741.6 1528.2,739.6 1527.6,737.7 1527.1,736.1 1526.5,734.7 1526.0,733.6 1525.5,732.5 1525.1,731.7 1524.6,731.0 1524.1,730.5 1523.6,730.2 1523.0,730.0 1522.3,729.9 1521.6,730.1 1520.8,730.4 1520.0,730.9 1519.2,731.5 1518.4,732.2 1517.6,733.1 1516.8,734.1 1516.1,735.2 1515.3,736.4 1514.5,737.8 1513.8,739.3 1513.0,740.9 1512.2,742.6 1511.5,744.5 1510.7,746.3 1509.9,748.3 1509.2,750.3 1508.4,752.4 1507.6,754.6 1506.9,757.0 1506.1,759.4 1505.3,762.0 1504.6,764.7 1503.8,767.7 1503.0,770.9 1502.2,774.3 1501.4,777.8 1500.6,781.3 1499.9,784.8 1499.1,788.1 1498.4,791.3 1497.7,794.4 1497.1,797.3 1496.4,800.2 1495.8,803.1 1495.2,805.9 1494.6,808.6 1493.9,811.2 1493.3,813.8 1492.7,816.3 1492.0,818.8 1491.4,821.2 1490.8,823.5 1490.1,825.8 1489.5,828.0 1488.8,830.2 1488.2,832.2 1487.6,834.3 1486.9,836.3 1486.3,838.3 1485.6,840.3 1485.0,842.1 1484.4,843.8 1483.7,845.3 1483.1,846.5 1482.5,847.6 1481.8,848.4 1481.2,849.0 1480.6,849.5 1480.0,849.8 1479.3,850.1 1478.7,850.4 1478.0,850.6 1477.3,850.8 1476.5,851.0 1475.8,851.0 1475.0,851.0 1474.3,851.0 1473.5,850.9 1472.7,850.8 1471.8,850.6 1471.0,850.4 1470.1,850.1 1469.2,849.8 1468.3,849.4 1467.3,849.1 1466.4,848.8 1465.5,848.6 1464.7,848.6 1463.9,848.7 1463.1,849.0 1462.3,849.4 1461.5,849.9 1460.8,850.4 1460.1,850.8 1459.3,851.3 1458.5,851.7 1457.8,851.9 1457.0,852.2 1456.2,852.4 1455.5,852.6 1454.7,852.8 1453.9,853.1 1453.2,853.4 1452.4,853.7 1451.6,854.1 1450.9,854.6 1450.1,855.1 1449.3,855.7 1448.6,856.2 1447.8,856.8 1447.0,857.3 1446.3,857.8 1445.5,858.3 1444.8,858.8 1444.0,859.3 1443.3,859.8 1442.5,860.2 1441.7,860.7 1441.0,861.0 1440.1,861.3 1439.3,861.4 1438.4,861.5 1437.5,861.6 1436.6,861.5 1435.7,861.5 1434.8,861.4 1433.9,861.3 1433.0,861.3 1432.1,861.2 1431.1,861.2 1430.2,861.2 1429.2,861.2 1428.3,861.2 1427.4,861.0 1426.6,860.8 1425.8,860.4 1425.2,860.0 1424.6,859.4 1424.2,858.8 1423.7,858.0 1423.3,857.3 1422.8,856.4 1422.3,855.6 1421.7,854.7 1421.1,853.8 1420.3,852.8 1419.6,851.7 1418.8,850.6 1418.0,849.5 1417.2,848.4 1416.4,847.4 1415.6,846.5 1414.8,845.7 1414.1,845.0 1413.3,844.3 1412.6,843.7 1411.8,843.1 1411.1,842.5 1410.3,842.0 1409.5,841.4 1408.6,840.9 1407.7,840.4 1406.9,839.9 1405.9,839.5 1405.0,839.1 1404.1,838.7 1403.2,838.3 1402.3,838.0 1401.4,837.7 1400.5,837.4 1399.7,837.2 1398.8,836.9 1397.9,836.8 1397.0,836.6 1396.1,836.5 1395.1,836.3 1394.2,836.2 1393.2,836.1 1392.1,835.9 1391.1,835.9 1390.0,835.8 1389.0,835.8 1387.9,835.8 1387.0,835.9 1386.0,836.1 1385.1,836.3 1384.2,836.6 1383.3,836.9 1382.5,837.3 1381.6,837.6 1380.7,838.0 1379.8,838.4 1378.9,838.7 1378.0,839.0 1377.1,839.3 1376.2,839.7 1375.3,840.0 1374.4,840.4 1373.5,840.9 1372.7,841.4 1371.8,842.0 1370.9,842.7 1370.0,843.4 1369.1,844.1 1368.2,844.9 1367.3,845.7 1366.4,846.6 1365.5,847.6 1364.6,848.5 1363.7,849.6 1362.9,850.6 1362.0,851.7 1361.1,852.9 1360.2,854.1 1359.3,855.4 1358.3,856.8 1357.4,858.3 1356.3,859.9 1355.3,861.7 1354.2,863.5 1353.1,865.3 1352.1,867.1 1351.1,868.7 1350.2,870.1 1349.3,871.3 1348.5,872.4 1347.7,873.4 1347.0,874.3 1346.2,875.2 1345.5,875.9 1344.8,876.6 1344.0,877.2 1343.3,877.8 1342.5,878.2 1341.7,878.6 1341.0,878.9 1340.2,879.1 1339.4,879.2 1338.7,879.3 1337.9,879.3 1337.1,879.1 1336.4,878.8 1335.6,878.4 1334.9,877.9 1334.1,877.4 1333.4,876.9 1332.6,876.5 1331.8,876.2 1330.9,875.9 1330.0,875.7 1329.1,875.4 1328.2,875.2 1327.3,875.1 1326.4,875.0 1325.5,875.0 1324.6,875.2 1323.7,875.4 1322.8,875.8 1322.0,876.3 1321.1,876.9 1320.2,877.5 1319.3,878.1 1318.4,878.7 1317.4,879.3 1316.5,879.8 1315.5,880.2 1314.4,880.7 1313.4,881.2 1312.4,881.7 1311.3,882.2 1310.3,882.7 1309.3,883.4 1308.2,884.0 1307.2,884.6 1306.1,885.3 1305.1,886.0 1304.0,886.8 1303.0,887.6 1302.0,888.5 1301.1,889.5 1300.2,890.6 1299.3,891.8 1298.5,893.1 1297.7,894.5 1296.9,895.9 1296.1,897.4 1295.3,898.8 1294.5,900.1" fill="#b6b6b6" fill-opacity="0.81"/>
<polyline points="1298.0,870.1 1298.9,869.4 1299.8,868.8 1300.7,868.1 1301.6,867.4 1302.5,866.8 1303.4,866.2 1304.3,865.5 1305.2,864.9 1306.1,864.4 1307.0,863.9 1307.9,863.3 1308.7,862.8 1309.6,862.3 1310.5,861.9 1311.4,861.4 1312.3,860.9 1313.2,860.3 1314.2,859.8 1315.1,859.3 1316.0,858.8 1317.0,858.2 1317.8,857.7 1318.7,857.2 1319.5,856.8 1320.2,856.3 1320.9,855.8 1321.5,855.3 1322.1,854.9 1322.7,854.4 1323.3,854.1 1323.9,853.8 1324.6,853.7 1325.3,853.7 1326.1,853.9 1326.8,854.1 1327.6,854.5 1328.4,854.8 1329.2,855.2 1330.0,855.5 1330.7,855.7 1331.5,856.0 1332.3,856.2 1333.0,856.4 1333.8,856.6 1334.6,856.7 1335.3,856.8 1336.1,856.8 1336.9,856.8 1337.6,856.6 1338.4,856.3 1339.2,856.0 1339.9,855.6 1340.7,855.2 1341.5,854.7 1342.2,854.2 1343.0,853.7 1343.8,853.2 1344.5,852.7 1345.3,852.2 1346.0,851.7 1346.8,851.0 1347.5,850.3 1348.3,849.5 1349.1,848.6 1350.0,847.5 1350.9,846.2 1351.8,844.7 1352.7,843.2 1353.6,841.7 1354.6,840.2 1355.4,838.7 1356.3,837.3 1357.1,836.1 1357.9,834.8 1358.6,833.7 1359.4,832.5 1360.1,831.4 1360.8,830.2 1361.6,829.2 1362.4,828.1 1363.3,827.1 1364.1,826.1 1365.0,825.2 1365.9,824.2 1366.9,823.4 1367.8,822.5 1368.7,821.7 1369.6,821.0 1370.5,820.3 1371.4,819.7 1372.2,819.1 1373.1,818.6 1374.0,818.1 1374.9,817.7 1375.8,817.3 1376.7,816.9 1377.7,816.5 1378.7,816.2 1379.6,815.9 1380.6,815.6 1381.7,815.4 1382.7,815.2 1383.8,815.0 1384.9,814.8 1386.1,814.7 1387.4,814.7 1388.7,814.7 1390.1,814.7 1391.4,814.7 1392.8,814.8 1394.0,814.8 1395.1,814.8 1396.2,814.9 1397.2,814.9 1398.1,814.9 1398.9,814.9 1399.8,815.0 1400.6,815.1 1401.4,815.2 1402.3,815.5 1403.2,815.7 1404.1,816.1 1405.0,816.5 1405.9,816.9 1406.8,817.4 1407.7,817.9 1408.6,818.4 1409.5,818.9 1410.4,819.5 1411.3,820.0 1412.2,820.6 1413.2,821.2 1414.1,821.8 1415.0,822.5 1415.8,823.3 1416.6,824.0 1417.4,824.9 1418.1,825.9 1418.7,827.0 1419.4,828.0 1420.0,829.1 1420.6,830.2 1421.2,831.3 1421.7,832.2 1422.3,833.2 1422.8,834.1 1423.3,835.0 1423.7,835.9 1424.2,836.8 1424.7,837.5 1425.2,838.2 1425.8,838.8 1426.5,839.2 1427.2,839.5 1428.0,839.8 1428.8,839.9 1429.6,840.1 1430.4,840.2 1431.2,840.3 1432.0,840.4 1432.7,840.6 1433.5,840.8 1434.3,841.0 1435.0,841.2 1435.8,841.3 1436.6,841.4 1437.3,841.5 1438.1,841.4 1438.9,841.3 1439.6,841.2 1440.4,841.0 1441.2,840.8 1441.9,840.5 1442.7,840.2 1443.5,839.8 1444.2,839.4 1445.0,838.9 1445.8,838.3 1446.5,837.6 1447.3,836.9 1448.1,836.2 1448.8,835.5 1449.6,834.8 1450.4,834.3 1451.1,833.8 1451.9,833.3 1452.7,832.9 1453.5,832.5 1454.3,832.2 1455.0,831.9 1455.8,831.5 1456.5,831.2 1457.2,830.9 1457.9,830.7 1458.5,830.5 1459.2,830.2 1459.8,830.0 1460.4,829.8 1461.0,829.5 1461.6,829.2 1462.2,828.7 1462.7,828.1 1463.1,827.5 1463.6,826.8 1464.1,826.2 1464.6,825.6 1465.1,825.3 1465.7,825.1 1466.4,825.1 1467.1,825.4 1467.9,825.8 1468.6,826.2 1469.4,826.8 1470.3,827.3 1471.1,827.8 1471.8,828.1 1472.6,828.4 1473.4,828.8 1474.2,829.1 1475.0,829.4 1475.7,829.6 1476.5,829.8 1477.3,829.8 1478.0,829.8 1478.7,829.6 1479.3,829.4 1480.0,829.2 1480.6,828.8 1481.2,828.3 1481.8,827.7 1482.5,827.0 1483.1,826.1 1483.7,825.0 1484.4,823.7 1485.0,822.3 1485.6,820.8 1486.3,819.1 1486.9,817.4 1487.6,815.6 1488.2,813.8 1488.8,812.0 1489.5,810.2 1490.1,808.3 1490.8,806.3 1491.4,804.2 1492.0,802.1 1492.7,799.8 1493.3,797.5 1493.9,795.0 1494.6,792.3 1495.2,789.6 1495.9,786.7 1496.5,783.8 1497.1,780.9 1497.8,777.9 1498.4,775.0 1499.1,771.9 1499.7,768.8 1500.3,765.6 1501.0,762.3 1501.6,759.1 1502.3,756.0 1502.9,753.1 1503.5,750.4 1504.2,748.0 1504.8,745.7 1505.5,743.5 1506.2,741.5 1506.8,739.5 1507.4,737.7 1508.1,735.9 1508.6,734.1 1509.2,732.3 1509.7,730.6 1510.3,729.0 1510.8,727.5 1511.2,726.0 1511.7,724.6 1512.2,723.2 1512.7,721.8 1513.2,720.5 1513.7,719.1 1514.2,717.9 1514.7,716.6 1515.1,715.5 1515.7,714.4 1516.2,713.5 1516.8,712.6 1517.5,711.8 1518.3,711.1 1519.1,710.4 1519.9,709.8 1520.7,709.4 1521.5,709.1 1522.3,709.0 1523.0,709.1 1523.6,709.5 1524.1,710.0 1524.6,710.7 1525.1,711.6 1525.5,712.6 1526.0,713.8 1526.5,715.2 1527.1,716.7 1527.6,718.4 1528.2,720.3 1528.8,722.4 1529.5,724.6 1530.1,726.9 1530.8,729.3 1531.5,731.7 1532.2,734.1 1532.9,736.5 1533.6,739.0 1534.4,741.6 1535.2,744.2 1536.0,746.9 1536.7,749.5 1537.5,752.0 1538.3,754.5 1539.1,757.0 1539.8,759.5 1540.6,761.9 1541.4,764.4 1542.1,766.7 1542.9,768.9 1543.7,771.0 1544.4,772.9 1545.2,774.6 1545.9,776.1 1546.6,777.4 1547.4,778.5 1548.1,779.7 1548.9,780.8 1549.7,781.9 1550.6,783.1 1551.5,784.4 1552.5,785.8 1553.5,787.1 1554.5,788.4 1555.6,789.7 1556.7,791.0 1557.7,792.2 1558.7,793.4 1559.8,794.5 1560.8,795.6 1561.8,796.6 1562.8,797.6 1563.9,798.6 1564.9,799.6 1565.9,800.5 1566.9,801.6 1568.0,802.6 1569.0,803.6 1570.0,804.5 1571.0,805.5 1572.0,806.5 1573.1,807.5 1574.1,808.6 1575.1,809.7 1576.1,810.9 1577.2,812.1 1578.2,813.4 1579.2,814.7 1580.2,816.0 1581.2,817.3 1582.3,818.6 1583.3,820.0 1584.3,821.3 1585.4,822.8 1586.4,824.2 1587.5,825.7 1588.6,827.2 1589.6,828.6 1590.5,829.9 1591.5,831.2 1592.3,832.4 1593.1,833.5 1593.9,834.5 1594.7,835.5 1595.4,836.5 1596.1,837.4 1596.9,838.4 1597.6,839.4" fill="none" stroke="#000" stroke-width="4.6" stroke-linejoin="round"/>
<polyline points="1281.6,902.8 1285.4,902.8 1285.4,888.5 1289.8,888.5 1289.8,877.2 1294.2,877.2 1294.2,872.1 1298.6,872.1 1298.6,874.2 1303.0,874.2 1303.0,872.0 1307.4,872.0 1307.4,871.3 1311.8,871.3 1311.8,871.6 1316.2,871.6 1316.2,871.6 1320.6,871.6 1320.6,870.3 1324.9,870.3 1324.9,869.0 1329.3,869.0 1329.3,863.9 1333.7,863.9 1333.7,859.2 1338.1,859.2 1338.1,855.7 1342.5,855.7 1342.5,846.5 1346.9,846.5 1346.9,832.2 1351.3,832.2 1351.3,821.0 1355.7,821.0 1355.7,810.8 1360.1,810.8 1360.1,812.8 1364.5,812.8 1364.5,812.8 1368.9,812.8 1368.9,812.8 1373.3,812.8 1373.3,811.8 1377.7,811.8 1377.7,818.9 1382.1,818.9 1382.1,821.6 1386.5,821.6 1386.5,825.1 1390.9,825.1 1390.9,829.2 1395.3,829.2 1395.3,833.3 1399.6,833.3 1399.6,838.8 1404.0,838.8 1404.0,843.5 1408.4,843.5 1408.4,846.5 1412.8,846.5 1412.8,847.6 1417.2,847.6 1417.2,846.5 1421.6,846.5 1421.6,845.5 1426.0,845.5 1426.0,845.5 1430.4,845.5 1430.4,840.0 1434.8,840.0 1434.8,838.4 1439.2,838.4 1439.2,836.7 1443.6,836.7 1443.6,832.2 1448.0,832.2 1448.0,829.2 1452.4,829.2 1452.4,823.0 1456.8,823.0 1456.8,827.1 1461.2,827.1 1461.2,832.2 1465.6,832.2 1465.6,841.4 1469.9,841.4 1469.9,844.5 1474.3,844.5 1474.3,847.0 1478.7,847.0 1478.7,848.2 1483.1,848.2 1483.1,846.5 1487.5,846.5 1487.5,842.9 1491.9,842.9 1491.9,825.1 1496.3,825.1 1496.3,790.3 1500.7,790.3 1500.7,739.8 1505.1,739.8 1505.1,709.9 1509.5,709.9 1509.5,723.8 1513.9,723.8 1513.9,739.2 1518.3,739.2 1518.3,764.3 1522.7,764.3 1522.7,789.7 1527.1,789.7 1527.1,808.7 1531.5,808.7 1531.5,824.0 1535.9,824.0 1535.9,836.7 1540.3,836.7 1540.3,849.6 1544.6,849.6 1544.6,855.7 1549.0,855.7 1549.0,855.7 1553.4,855.7 1553.4,847.6 1557.8,847.6 1557.8,844.5 1562.2,844.5 1562.2,846.5 1566.6,846.5 1566.6,849.6 1571.0,849.6 1571.0,853.1 1575.4,853.1 1575.4,855.7 1579.8,855.7 1579.8,861.3 1584.2,861.3 1584.2,866.6 1588.6,866.6 1588.6,872.1 1593.0,872.1 1593.0,876.2 1597.4,876.2 1597.4,880.7 1601.8,880.7" fill="none" stroke="#86b3bd" stroke-width="3.9" stroke-linejoin="round"/>
</svg>
<rect x="1254.9" y="523.8" width="347.1" height="405.7" fill="none" stroke="#333" stroke-width="1.4"/>
<text x="1373.9" y="510.8" font-size="25.9" textLength="148.6" lengthAdjust="spacingAndGlyphs">Porto Alegre</text>
</g>
<g>
<svg x="1623.7" y="523.8" width="347.1" height="405.7" viewBox="1623.7 523.8 347.1 405.7" overflow="hidden">
<path d="M1640.1 523.8V929.5M1697.2 523.8V929.5M1754.6 523.8V929.5M1812.4 523.8V929.5M1869.5 523.8V929.5M1926.3 523.8V929.5M1623.7 870.7H1970.8M1623.7 789.9H1970.8M1623.7 709.1H1970.8M1623.7 628.3H1970.8M1623.7 547.5H1970.8" stroke="#ebebeb" stroke-width="2.1" fill="none"/>
<path d="M1623.7 911.1H1970.8M1623.7 830.3H1970.8M1623.7 749.5H1970.8M1623.7 668.7H1970.8M1623.7 587.9H1970.8" stroke="#ebebeb" stroke-width="3.8" fill="none"/>
<path d="M1668.7 523.8V929.5M1725.8 523.8V929.5M1783.5 523.8V929.5M1841.3 523.8V929.5M1897.8 523.8V929.5M1954.9 523.8V929.5" stroke="#ebebeb" stroke-width="4.4" fill="none"/>
<path d="M1852.1 527.8V929.5" stroke="#000" stroke-width="4.8" stroke-dasharray="4.4 4.26" fill="none"/>
<polygon points="1690.1,657.7 1690.7,656.7 1691.3,655.6 1691.8,654.5 1692.4,653.5 1693.0,652.4 1693.5,651.4 1694.1,650.4 1694.6,649.5 1695.2,648.7 1695.7,647.9 1696.2,647.1 1696.7,646.3 1697.2,645.6 1697.7,645.0 1698.2,644.4 1698.7,643.8 1699.2,643.3 1699.7,642.7 1700.2,642.2 1700.7,641.7 1701.2,641.3 1701.7,641.1 1702.3,640.9 1702.8,640.9 1703.3,641.1 1703.9,641.3 1704.4,641.6 1705.0,642.0 1705.6,642.6 1706.1,643.3 1706.7,644.3 1707.3,645.4 1707.9,646.9 1708.5,648.6 1709.0,650.5 1709.6,652.6 1710.2,654.8 1710.8,657.1 1711.4,659.5 1712.0,661.8 1712.6,664.1 1713.2,666.5 1713.8,669.0 1714.5,671.5 1715.1,674.1 1715.8,676.8 1716.4,679.5 1717.1,682.2 1717.8,685.1 1718.6,688.1 1719.3,691.2 1720.1,694.3 1720.9,697.4 1721.7,700.6 1722.5,703.7 1723.2,706.8 1724.0,709.9 1724.8,713.0 1725.6,716.2 1726.3,719.3 1727.1,722.4 1727.9,725.5 1728.6,728.5 1729.4,731.3 1730.2,734.1 1730.9,736.8 1731.7,739.5 1732.5,742.1 1733.2,744.6 1734.0,747.1 1734.8,749.4 1735.5,751.8 1736.3,754.1 1737.1,756.3 1737.9,758.6 1738.7,760.7 1739.4,762.8 1740.2,764.7 1740.9,766.5 1741.7,768.1 1742.3,769.7 1743.0,771.1 1743.6,772.5 1744.1,773.7 1744.7,774.7 1745.4,775.6 1746.0,776.3 1746.8,776.7 1747.6,776.9 1748.4,776.7 1749.3,776.4 1750.2,775.8 1751.1,775.2 1752.0,774.5 1753.0,773.8 1753.9,773.3 1754.9,772.7 1755.9,772.0 1757.0,771.2 1758.1,770.5 1759.1,769.8 1760.2,769.1 1761.2,768.5 1762.1,768.1 1763.0,767.8 1763.8,767.6 1764.6,767.4 1765.4,767.3 1766.1,767.3 1766.8,767.4 1767.5,767.7 1768.2,768.1 1768.9,768.8 1769.6,769.6 1770.2,770.5 1770.8,771.6 1771.4,772.7 1772.0,773.9 1772.7,775.1 1773.4,776.3 1774.1,777.5 1774.8,778.7 1775.5,780.0 1776.3,781.3 1777.1,782.6 1777.9,783.9 1778.7,785.3 1779.5,786.5 1780.3,787.8 1781.2,789.1 1782.1,790.4 1782.9,791.7 1783.8,792.9 1784.8,794.2 1785.7,795.5 1786.6,796.8 1787.6,798.1 1788.7,799.6 1789.8,801.0 1790.9,802.5 1791.9,803.9 1793.0,805.1 1793.9,806.2 1794.8,807.0 1795.6,807.6 1796.3,808.0 1797.0,808.4 1797.6,808.5 1798.2,808.5 1798.7,808.3 1799.3,807.9 1799.9,807.4 1800.6,806.7 1801.2,805.8 1801.8,804.7 1802.4,803.4 1803.1,802.0 1803.7,800.4 1804.4,798.6 1805.0,796.8 1805.8,794.7 1806.5,792.4 1807.3,790.0 1808.1,787.4 1808.8,784.7 1809.6,781.9 1810.4,779.1 1811.2,776.3 1812.0,773.5 1812.7,770.5 1813.5,767.5 1814.3,764.4 1815.0,761.3 1815.8,758.2 1816.6,755.0 1817.3,751.8 1818.1,748.6 1818.9,745.3 1819.6,742.0 1820.4,738.7 1821.2,735.4 1821.9,732.0 1822.7,728.6 1823.5,725.2 1824.2,721.7 1825.0,718.2 1825.8,714.6 1826.5,711.0 1827.3,707.4 1828.1,703.8 1828.8,700.2 1829.6,696.6 1830.3,692.9 1831.1,689.3 1831.8,685.6 1832.6,681.9 1833.3,678.2 1834.1,674.7 1834.9,671.2 1835.7,667.9 1836.6,664.7 1837.4,661.5 1838.3,658.3 1839.2,655.2 1840.2,652.3 1841.1,649.7 1842.0,647.4 1842.9,645.4 1843.8,644.0 1844.6,643.0 1845.5,642.3 1846.4,641.9 1847.3,641.6 1848.2,641.3 1849.1,640.9 1850.0,640.3 1851.0,639.5 1852.0,638.7 1853.1,637.8 1854.1,636.9 1855.2,635.9 1856.2,635.0 1857.2,634.1 1858.2,633.2 1859.2,632.2 1860.1,631.2 1861.1,630.2 1862.0,629.2 1862.9,628.3 1863.8,627.4 1864.6,626.6 1865.4,626.0 1866.1,625.5 1866.8,625.2 1867.4,624.9 1868.0,624.8 1868.6,624.7 1869.2,624.6 1869.8,624.6 1870.5,624.6 1871.2,624.6 1871.9,624.6 1872.6,624.7 1873.4,624.8 1874.1,625.0 1874.9,625.2 1875.8,625.6 1876.6,626.0 1877.6,626.6 1878.5,627.4 1879.6,628.2 1880.6,629.1 1881.7,630.1 1882.8,631.0 1883.8,631.9 1884.8,632.8 1885.8,633.5 1886.7,634.0 1887.7,634.6 1888.6,635.1 1889.5,635.7 1890.3,636.4 1891.2,637.2 1892.0,638.3 1892.7,639.5 1893.4,640.9 1894.0,642.5 1894.6,644.1 1895.2,645.9 1895.8,647.7 1896.4,649.6 1897.1,651.6 1897.7,653.6 1898.3,655.8 1898.9,658.1 1899.6,660.5 1900.2,662.9 1900.8,665.3 1901.5,667.7 1902.2,670.0 1902.9,672.3 1903.7,674.8 1904.5,677.2 1905.3,679.7 1906.1,682.0 1906.8,684.1 1907.6,685.9 1908.3,687.4 1909.0,688.4 1909.7,689.1 1910.4,689.5 1911.0,689.6 1911.6,689.7 1912.3,689.6 1912.9,689.5 1913.4,689.4 1914.0,689.2 1914.5,688.8 1915.0,688.3 1915.5,687.7 1916.0,687.2 1916.5,686.8 1917.0,686.6 1917.5,686.7 1918.1,687.1 1918.7,687.7 1919.3,688.4 1920.0,689.3 1920.6,690.4 1921.3,691.6 1921.9,693.0 1922.6,694.5 1923.3,696.3 1924.1,698.4 1924.8,700.7 1925.6,703.2 1926.4,705.7 1927.1,708.2 1927.9,710.6 1928.8,712.9 1929.6,715.1 1930.5,717.2 1931.3,719.3 1932.2,721.4 1933.1,723.4 1934.0,725.4 1935.0,727.4 1935.9,729.3 1936.9,731.2 1937.9,733.1 1938.9,735.0 1940.0,736.8 1941.0,738.6 1942.0,740.4 1943.1,742.0 1944.1,743.6 1945.1,745.1 1946.2,746.7 1947.3,748.2 1948.3,749.7 1949.4,751.0 1950.4,752.2 1951.4,753.1 1952.3,753.8 1953.1,754.4 1953.9,754.8 1954.6,755.0 1955.4,755.1 1956.1,755.0 1956.8,754.5 1957.6,753.8 1958.4,752.8 1959.3,751.3 1960.3,749.4 1961.3,747.2 1962.4,744.7 1963.4,742.1 1964.5,739.4 1965.6,736.8 1966.6,734.4 1966.6,849.9 1965.6,847.8 1964.6,845.6 1963.5,843.4 1962.5,841.2 1961.5,839.0 1960.5,837.0 1959.4,835.2 1958.4,833.6 1957.4,832.3 1956.4,831.2 1955.4,830.3 1954.3,829.6 1953.3,828.9 1952.3,828.1 1951.3,827.4 1950.2,826.4 1949.2,825.4 1948.2,824.4 1947.2,823.3 1946.2,822.3 1945.1,821.1 1944.1,819.9 1943.1,818.6 1942.1,817.2 1941.0,815.7 1940.0,814.0 1938.9,812.2 1937.8,810.4 1936.8,808.5 1935.8,806.6 1934.8,804.7 1933.9,802.9 1933.0,801.1 1932.2,799.3 1931.4,797.5 1930.7,795.7 1930.0,794.0 1929.2,792.2 1928.5,790.4 1927.7,788.6 1927.0,786.7 1926.2,784.8 1925.4,782.8 1924.6,780.9 1923.8,779.0 1923.1,777.2 1922.3,775.6 1921.6,774.3 1920.9,773.1 1920.3,772.2 1919.7,771.4 1919.1,770.7 1918.5,770.2 1917.9,769.8 1917.2,769.4 1916.5,769.2 1915.7,769.1 1914.9,769.3 1913.9,769.7 1913.0,770.1 1912.1,770.5 1911.2,770.8 1910.5,770.8 1909.8,770.6 1909.2,770.1 1908.7,769.3 1908.2,768.4 1907.8,767.4 1907.5,766.2 1907.1,764.9 1906.7,763.5 1906.3,762.0 1905.8,760.3 1905.3,758.5 1904.8,756.4 1904.3,754.3 1903.8,752.1 1903.3,749.9 1902.8,747.7 1902.2,745.6 1901.6,743.6 1901.0,741.5 1900.3,739.3 1899.7,737.2 1899.0,735.1 1898.4,733.1 1897.7,731.1 1897.1,729.3 1896.4,727.5 1895.8,725.8 1895.2,724.1 1894.6,722.5 1894.0,721.0 1893.3,719.6 1892.6,718.2 1892.0,717.0 1891.3,715.9 1890.5,715.0 1889.8,714.2 1889.0,713.5 1888.2,712.8 1887.5,712.2 1886.6,711.5 1885.8,710.9 1885.0,710.2 1884.1,709.6 1883.2,708.9 1882.2,708.3 1881.3,707.8 1880.4,707.3 1879.5,706.8 1878.7,706.4 1877.9,706.0 1877.1,705.7 1876.3,705.4 1875.5,705.2 1874.8,705.0 1874.0,704.8 1873.3,704.8 1872.5,704.7 1871.8,704.8 1871.0,704.9 1870.2,705.1 1869.4,705.3 1868.6,705.6 1867.9,705.9 1867.1,706.3 1866.4,706.8 1865.7,707.4 1865.0,708.0 1864.4,708.8 1863.8,709.6 1863.2,710.4 1862.5,711.3 1861.9,712.1 1861.3,712.9 1860.7,713.7 1860.0,714.5 1859.4,715.3 1858.8,716.1 1858.2,716.9 1857.5,717.7 1856.9,718.4 1856.2,719.1 1855.5,719.6 1854.7,720.1 1853.9,720.6 1853.2,721.0 1852.4,721.4 1851.6,721.9 1850.8,722.5 1850.0,723.1 1849.3,723.9 1848.5,724.7 1847.7,725.5 1847.0,726.3 1846.2,727.3 1845.4,728.5 1844.7,729.8 1843.9,731.3 1843.1,733.1 1842.4,735.1 1841.6,737.2 1840.8,739.5 1840.1,741.9 1839.3,744.5 1838.5,747.1 1837.8,749.7 1837.0,752.5 1836.2,755.4 1835.5,758.4 1834.7,761.5 1833.9,764.7 1833.2,767.9 1832.4,771.1 1831.6,774.3 1830.9,777.5 1830.1,780.8 1829.3,784.2 1828.6,787.6 1827.8,790.9 1827.0,794.3 1826.3,797.6 1825.5,800.9 1824.7,804.0 1824.0,807.2 1823.2,810.3 1822.4,813.4 1821.7,816.4 1820.9,819.5 1820.1,822.4 1819.4,825.4 1818.6,828.3 1817.8,831.3 1817.0,834.2 1816.2,837.0 1815.5,839.8 1814.7,842.6 1813.9,845.3 1813.2,847.9 1812.5,850.4 1811.9,852.8 1811.2,855.2 1810.5,857.5 1809.9,859.7 1809.3,861.9 1808.7,864.1 1808.1,866.3 1807.6,868.5 1807.0,870.8 1806.5,873.1 1806.0,875.3 1805.6,877.4 1805.1,879.4 1804.6,881.2 1804.0,882.7 1803.5,883.9 1802.9,884.9 1802.3,885.8 1801.8,886.4 1801.2,886.9 1800.6,887.3 1800.0,887.6 1799.3,887.8 1798.7,887.8 1798.0,887.7 1797.4,887.4 1796.7,887.0 1796.0,886.5 1795.3,885.9 1794.6,885.3 1793.8,884.7 1793.0,884.0 1792.1,883.3 1791.2,882.5 1790.3,881.6 1789.4,880.7 1788.5,879.7 1787.6,878.7 1786.6,877.5 1785.7,876.3 1784.8,875.0 1783.9,873.6 1783.0,872.2 1782.1,870.7 1781.2,869.2 1780.3,867.7 1779.5,866.3 1778.7,864.9 1777.9,863.4 1777.1,861.9 1776.4,860.4 1775.6,859.0 1774.9,857.6 1774.1,856.3 1773.4,855.1 1772.6,853.9 1771.8,852.7 1771.0,851.6 1770.2,850.6 1769.4,849.7 1768.7,848.9 1767.9,848.3 1767.2,847.9 1766.5,847.7 1765.9,847.8 1765.4,848.1 1764.8,848.5 1764.2,849.0 1763.6,849.5 1762.9,850.0 1762.1,850.3 1761.2,850.7 1760.2,851.0 1759.2,851.3 1758.1,851.6 1757.0,851.9 1755.9,852.2 1754.9,852.6 1753.9,853.0 1753.0,853.6 1752.2,854.3 1751.3,855.2 1750.5,856.0 1749.7,856.8 1748.9,857.3 1748.1,857.4 1747.4,857.1 1746.6,856.3 1745.9,855.1 1745.2,853.6 1744.5,851.9 1743.8,849.9 1743.1,847.9 1742.4,845.8 1741.7,843.8 1740.9,841.8 1740.1,839.6 1739.4,837.4 1738.6,835.0 1737.8,832.7 1737.1,830.3 1736.3,827.8 1735.5,825.4 1734.8,823.0 1734.0,820.5 1733.2,818.0 1732.5,815.4 1731.7,812.9 1730.9,810.3 1730.2,807.6 1729.4,804.9 1728.6,802.2 1727.8,799.5 1727.0,796.7 1726.3,793.8 1725.5,791.0 1724.7,788.1 1724.0,785.3 1723.2,782.5 1722.6,779.6 1721.9,776.8 1721.3,773.9 1720.6,771.1 1720.0,768.2 1719.4,765.4 1718.8,762.7 1718.1,760.0 1717.5,757.3 1716.9,754.6 1716.2,752.0 1715.6,749.4 1714.9,746.8 1714.3,744.3 1713.7,741.9 1713.0,739.5 1712.4,737.2 1711.7,734.8 1711.1,732.5 1710.4,730.3 1709.8,728.2 1709.2,726.3 1708.5,724.6 1707.9,723.1 1707.3,722.0 1706.7,721.1 1706.1,720.4 1705.5,719.8 1704.9,719.5 1704.3,719.2 1703.7,719.1 1703.2,719.1 1702.7,719.1 1702.3,719.3 1701.9,719.6 1701.5,720.1 1701.1,720.7 1700.7,721.4 1700.2,722.2 1699.7,723.1 1699.2,724.3 1698.6,725.5 1697.9,727.0 1697.2,728.5 1696.6,730.2 1695.9,731.9 1695.2,733.6 1694.6,735.4 1694.0,737.3 1693.5,739.2 1692.9,741.3 1692.3,743.3 1691.8,745.5 1691.2,747.6 1690.7,749.7 1690.1,751.8" fill="#b6b6b6" fill-opacity="0.81"/>
<polyline points="1689.5,704.7 1690.0,703.2 1690.5,701.6 1691.0,700.0 1691.5,698.4 1692.0,696.9 1692.5,695.3 1693.1,693.9 1693.6,692.5 1694.2,691.1 1694.7,689.8 1695.3,688.6 1695.9,687.4 1696.5,686.2 1697.1,685.1 1697.7,684.2 1698.3,683.3 1698.9,682.5 1699.4,681.7 1700.0,681.0 1700.6,680.4 1701.2,679.9 1701.7,679.5 1702.3,679.3 1702.8,679.2 1703.3,679.2 1703.9,679.4 1704.4,679.7 1704.9,680.1 1705.4,680.7 1705.9,681.4 1706.4,682.3 1706.9,683.3 1707.4,684.4 1707.9,685.8 1708.4,687.3 1708.9,688.9 1709.4,690.7 1709.9,692.5 1710.4,694.5 1711.0,696.6 1711.6,698.8 1712.2,701.1 1712.8,703.6 1713.5,706.2 1714.1,708.9 1714.8,711.6 1715.4,714.3 1716.1,717.0 1716.7,719.7 1717.4,722.5 1718.0,725.4 1718.6,728.3 1719.3,731.1 1719.9,734.0 1720.6,736.8 1721.2,739.5 1721.8,742.2 1722.5,744.8 1723.1,747.4 1723.8,750.0 1724.4,752.5 1725.0,755.0 1725.7,757.5 1726.3,760.0 1727.0,762.4 1727.6,764.8 1728.2,767.1 1728.9,769.4 1729.5,771.7 1730.2,774.0 1730.8,776.2 1731.4,778.4 1732.1,780.5 1732.7,782.7 1733.3,784.8 1734.0,786.9 1734.6,788.9 1735.3,790.9 1735.9,792.8 1736.5,794.7 1737.2,796.6 1737.8,798.4 1738.5,800.1 1739.1,801.8 1739.7,803.5 1740.4,805.1 1741.0,806.6 1741.7,808.0 1742.3,809.4 1742.9,810.8 1743.6,812.1 1744.2,813.3 1744.8,814.4 1745.5,815.4 1746.1,816.2 1746.8,816.8 1747.4,817.2 1748.0,817.4 1748.6,817.5 1749.3,817.4 1749.9,817.2 1750.5,816.9 1751.2,816.6 1751.9,816.2 1752.6,815.7 1753.3,815.1 1754.1,814.3 1754.9,813.5 1755.7,812.7 1756.5,811.9 1757.2,811.2 1758.0,810.7 1758.8,810.2 1759.6,809.8 1760.4,809.5 1761.1,809.2 1761.9,809.0 1762.7,808.8 1763.4,808.7 1764.1,808.6 1764.8,808.6 1765.5,808.6 1766.1,808.7 1766.8,808.8 1767.4,809.0 1768.0,809.2 1768.6,809.6 1769.3,810.1 1769.9,810.7 1770.5,811.4 1771.1,812.1 1771.8,813.0 1772.4,814.0 1773.0,815.0 1773.7,816.1 1774.4,817.2 1775.1,818.4 1775.8,819.8 1776.6,821.2 1777.4,822.7 1778.2,824.2 1779.0,825.7 1779.7,827.1 1780.5,828.5 1781.3,829.8 1782.0,831.0 1782.8,832.3 1783.6,833.5 1784.3,834.7 1785.1,835.8 1785.9,837.0 1786.6,838.1 1787.4,839.2 1788.2,840.3 1788.9,841.4 1789.7,842.4 1790.5,843.4 1791.2,844.3 1792.0,845.1 1792.8,845.8 1793.6,846.5 1794.3,847.0 1795.1,847.5 1795.9,847.9 1796.7,848.2 1797.5,848.4 1798.2,848.4 1798.9,848.3 1799.6,848.0 1800.3,847.7 1800.9,847.2 1801.5,846.5 1802.2,845.8 1802.8,844.9 1803.4,843.9 1804.0,842.8 1804.7,841.5 1805.3,840.1 1805.9,838.6 1806.6,836.9 1807.2,835.2 1807.9,833.4 1808.5,831.4 1809.1,829.5 1809.8,827.5 1810.4,825.4 1811.0,823.2 1811.6,821.0 1812.3,818.7 1812.9,816.2 1813.6,813.7 1814.3,811.1 1815.0,808.3 1815.7,805.4 1816.5,802.4 1817.3,799.3 1818.0,796.2 1818.8,793.0 1819.6,789.8 1820.4,786.5 1821.2,783.3 1821.9,780.1 1822.7,776.9 1823.5,773.6 1824.2,770.3 1825.0,766.9 1825.8,763.5 1826.5,760.0 1827.3,756.3 1828.1,752.5 1828.8,748.6 1829.6,744.6 1830.4,740.7 1831.1,736.8 1831.9,733.0 1832.7,729.3 1833.4,725.7 1834.2,722.1 1835.0,718.5 1835.8,715.0 1836.6,711.7 1837.3,708.5 1838.1,705.5 1838.8,702.7 1839.5,700.2 1840.1,697.9 1840.8,695.8 1841.4,693.8 1842.0,692.0 1842.6,690.4 1843.3,688.8 1843.9,687.4 1844.5,686.1 1845.2,684.9 1845.8,683.9 1846.4,683.1 1847.0,682.3 1847.7,681.6 1848.3,680.9 1849.0,680.2 1849.7,679.6 1850.5,679.0 1851.3,678.5 1852.1,678.1 1852.9,677.7 1853.7,677.2 1854.4,676.7 1855.2,676.1 1855.8,675.4 1856.5,674.7 1857.1,673.9 1857.8,673.1 1858.4,672.3 1859.0,671.5 1859.6,670.7 1860.3,670.0 1860.9,669.3 1861.6,668.5 1862.2,667.8 1862.9,667.1 1863.5,666.5 1864.2,665.9 1864.8,665.3 1865.4,664.9 1865.9,664.5 1866.4,664.2 1866.9,663.9 1867.4,663.7 1867.9,663.6 1868.4,663.5 1868.9,663.5 1869.5,663.4 1870.0,663.5 1870.6,663.5 1871.2,663.6 1871.8,663.8 1872.5,664.0 1873.1,664.2 1873.8,664.5 1874.6,664.9 1875.4,665.3 1876.2,665.8 1877.1,666.4 1878.0,667.0 1879.0,667.6 1879.9,668.3 1880.8,669.0 1881.7,669.6 1882.6,670.2 1883.6,670.7 1884.5,671.3 1885.4,671.8 1886.4,672.4 1887.2,673.0 1888.1,673.7 1888.9,674.5 1889.6,675.3 1890.3,676.1 1891.0,676.9 1891.6,677.8 1892.2,678.7 1892.8,679.8 1893.4,680.9 1894.0,682.2 1894.6,683.7 1895.3,685.3 1895.9,687.0 1896.6,688.7 1897.2,690.6 1897.8,692.5 1898.5,694.5 1899.1,696.6 1899.8,698.7 1900.4,701.0 1901.1,703.3 1901.7,705.8 1902.3,708.2 1903.0,710.6 1903.6,712.8 1904.2,715.0 1904.8,717.0 1905.4,719.1 1906.0,721.2 1906.6,723.2 1907.2,725.1 1907.8,726.7 1908.4,728.2 1908.9,729.3 1909.5,730.1 1910.1,730.6 1910.6,730.8 1911.2,730.9 1911.7,730.8 1912.3,730.7 1912.8,730.5 1913.4,730.3 1914.0,730.0 1914.7,729.6 1915.3,729.0 1916.0,728.3 1916.6,727.7 1917.3,727.3 1917.9,727.1 1918.5,727.2 1919.2,727.7 1919.8,728.3 1920.4,729.1 1921.0,730.1 1921.7,731.3 1922.3,732.5 1923.0,733.9 1923.7,735.4 1924.4,737.1 1925.1,739.0 1925.8,741.0 1926.6,743.2 1927.4,745.4 1928.2,747.6 1929.0,749.8 1929.8,751.8 1930.6,753.7 1931.5,755.5 1932.4,757.4 1933.3,759.2 1934.2,761.0 1935.1,762.7 1936.0,764.4 1937.0,766.1 1937.8,767.7 1938.7,769.4 1939.6,770.9 1940.5,772.5 1941.3,774.0 1942.2,775.5 1943.2,776.9 1944.1,778.4 1945.1,779.8 1946.1,781.2 1947.1,782.6 1948.2,784.0 1949.3,785.3 1950.3,786.5 1951.3,787.6 1952.3,788.6 1953.2,789.5 1954.1,790.2 1955.0,790.9 1955.9,791.5 1956.8,792.0 1957.7,792.5 1958.6,792.8 1959.4,793.1 1960.3,793.2 1961.2,793.3 1962.1,793.2 1963.0,793.0 1963.9,792.8 1964.8,792.6 1965.7,792.4 1966.6,792.3" fill="none" stroke="#000" stroke-width="4.6" stroke-linejoin="round"/>
<polyline points="1668.0,876.9 1671.8,876.9 1671.8,864.3 1676.2,864.3 1676.2,845.4 1680.6,845.4 1680.6,818.9 1685.0,818.9 1685.0,793.1 1689.4,793.1 1689.4,784.1 1693.7,784.1 1693.7,771.8 1698.1,771.8 1698.1,760.4 1702.5,760.4 1702.5,744.6 1706.9,744.6 1706.9,759.6 1711.3,759.6 1711.3,755.5 1715.7,755.5 1715.7,771.8 1720.1,771.8 1720.1,779.4 1724.5,779.4 1724.5,781.4 1728.9,781.4 1728.9,791.7 1733.3,791.7 1733.3,786.1 1737.7,786.1 1737.7,789.6 1742.1,789.6 1742.1,782.5 1746.5,782.5 1746.5,812.7 1750.9,812.7 1750.9,810.7 1755.3,810.7 1755.3,817.2 1759.7,817.2 1759.7,824.4 1764.1,824.4 1764.1,840.7 1768.4,840.7 1768.4,841.1 1772.8,841.1 1772.8,841.6 1777.2,841.6 1777.2,845.8 1781.6,845.8 1781.6,851.7 1786.0,851.7 1786.0,852.1 1790.4,852.1 1790.4,850.3 1794.8,850.3 1794.8,834.6 1799.2,834.6 1799.2,815.6 1803.6,815.6 1803.6,791.7 1808.0,791.7 1808.0,784.5 1812.4,784.5 1812.4,794.7 1816.8,794.7 1816.8,806.0 1821.2,806.0 1821.2,821.7 1825.6,821.7 1825.6,829.9 1830.0,829.9 1830.0,834.6 1834.4,834.6 1834.4,810.1 1838.7,810.1 1838.7,767.7 1843.1,767.7 1843.1,760.0 1847.5,760.0 1847.5,747.7 1851.9,747.7 1851.9,725.6 1856.3,725.6 1856.3,715.4 1860.7,715.4 1860.7,756.3 1865.1,756.3 1865.1,754.2 1869.5,754.2 1869.5,721.5 1873.9,721.5 1873.9,699.6 1878.3,699.6 1878.3,706.4 1882.7,706.4 1882.7,726.2 1887.1,726.2 1887.1,730.9 1891.5,730.9 1891.5,747.7 1895.9,747.7 1895.9,751.4 1900.3,751.4 1900.3,771.2 1904.7,771.2 1904.7,792.3 1909.1,792.3 1909.1,813.5 1913.4,813.5 1913.4,823.8 1917.8,823.8 1917.8,828.6 1922.2,828.6 1922.2,829.0 1926.6,829.0 1926.6,830.5 1931.0,830.5 1931.0,839.3 1935.4,839.3 1935.4,845.8 1939.8,845.8 1939.8,856.1 1944.2,856.1 1944.2,863.8 1948.6,863.8 1948.6,868.8 1953.0,868.8 1953.0,873.6 1957.4,873.6 1957.4,874.0 1961.8,874.0 1961.8,874.8 1966.2,874.8 1966.2,875.7 1970.6,875.7" fill="none" stroke="#a6a497" stroke-width="3.9" stroke-linejoin="round"/>
</svg>
<rect x="1623.7" y="523.8" width="347.1" height="405.7" fill="none" stroke="#333" stroke-width="1.4"/>
<text x="1746.3" y="510.8" font-size="25.9" textLength="140.0" lengthAdjust="spacingAndGlyphs">Porto Velho</text>
<path d="M1970.8 861.1H1982.2" stroke="#333" stroke-width="1.6"/>
<text x="1994.3" y="869.9" font-size="27">10.0</text>
<path d="M1970.8 772.1H1982.2" stroke="#333" stroke-width="1.6"/>
<text x="1994.3" y="780.9" font-size="27">20.0</text>
<path d="M1970.8 683.0H1982.2" stroke="#333" stroke-width="1.6"/>
<text x="1994.3" y="691.8" font-size="27">30.0</text>
<path d="M1970.8 594.0H1982.2" stroke="#333" stroke-width="1.6"/>
<text x="1994.3" y="602.8" font-size="27">40.0</text>
<path d="M1668.7 929.5V940.9" stroke="#333" stroke-width="1.6"/>
<text transform="translate(1683.2 964.0) rotate(-45)" font-size="27" text-anchor="end">Apr 20</text>
<path d="M1725.8 929.5V940.9" stroke="#333" stroke-width="1.6"/>
<text transform="translate(1740.3 964.0) rotate(-45)" font-size="27" text-anchor="end">Jul 20</text>
<path d="M1783.5 929.5V940.9" stroke="#333" stroke-width="1.6"/>
<text transform="translate(1798.0 964.0) rotate(-45)" font-size="27" text-anchor="end">Oct 20</text>
<path d="M1841.3 929.5V940.9" stroke="#333" stroke-width="1.6"/>
<text transform="translate(1855.8 964.0) rotate(-45)" font-size="27" text-anchor="end">Jan 21</text>
<path d="M1897.8 929.5V940.9" stroke="#333" stroke-width="1.6"/>
<text transform="translate(1912.3 964.0) rotate(-45)" font-size="27" text-anchor="end">Apr 21</text>
<path d="M1954.9 929.5V940.9" stroke="#333" stroke-width="1.6"/>
<text transform="translate(1969.4 964.0) rotate(-45)" font-size="27" text-anchor="end">Jul 21</text>
</g>
<g>
<svg x="148.6" y="1006.1" width="347.1" height="405.7" viewBox="148.6 1006.1 347.1 405.7" overflow="hidden">
<path d="M165.0 1006.1V1411.8M222.1 1006.1V1411.8M279.5 1006.1V1411.8M337.3 1006.1V1411.8M394.4 1006.1V1411.8M451.2 1006.1V1411.8M148.6 1353.0H495.7M148.6 1272.2H495.7M148.6 1191.4H495.7M148.6 1110.6H495.7M148.6 1029.8H495.7" stroke="#ebebeb" stroke-width="2.1" fill="none"/>
<path d="M148.6 1393.4H495.7M148.6 1312.6H495.7M148.6 1231.8H495.7M148.6 1151.0H495.7M148.6 1070.2H495.7" stroke="#ebebeb" stroke-width="3.8" fill="none"/>
<path d="M193.6 1006.1V1411.8M250.7 1006.1V1411.8M308.4 1006.1V1411.8M366.2 1006.1V1411.8M422.7 1006.1V1411.8M479.8 1006.1V1411.8" stroke="#ebebeb" stroke-width="4.4" fill="none"/>
<path d="M377.1 1010.1V1411.8" stroke="#000" stroke-width="4.8" stroke-dasharray="4.4 4.26" fill="none"/>
<polygon points="183.9,1232.9 184.6,1231.5 185.4,1230.1 186.2,1228.6 186.9,1227.2 187.7,1225.7 188.5,1224.3 189.2,1223.0 190.0,1221.7 190.8,1220.4 191.5,1219.1 192.3,1217.9 193.1,1216.7 193.8,1215.5 194.6,1214.4 195.4,1213.4 196.1,1212.5 196.9,1211.6 197.7,1210.8 198.5,1210.1 199.3,1209.4 200.0,1208.8 200.8,1208.3 201.5,1207.8 202.3,1207.4 202.9,1207.0 203.6,1206.7 204.2,1206.4 204.8,1206.2 205.4,1206.1 206.0,1206.0 206.7,1205.9 207.4,1205.9 208.1,1206.0 208.9,1206.0 209.6,1206.1 210.4,1206.3 211.2,1206.5 212.0,1206.8 212.8,1207.0 213.5,1207.4 214.2,1207.7 214.8,1208.0 215.5,1208.3 216.1,1208.7 216.7,1209.1 217.3,1209.7 217.9,1210.5 218.6,1211.5 219.3,1212.7 220.1,1214.1 220.8,1215.8 221.6,1217.5 222.4,1219.4 223.2,1221.2 224.0,1223.0 224.8,1224.7 225.5,1226.4 226.3,1228.2 227.1,1230.0 227.8,1231.8 228.6,1233.5 229.4,1235.1 230.1,1236.7 230.9,1238.0 231.7,1239.3 232.4,1240.4 233.2,1241.4 234.0,1242.3 234.7,1243.1 235.5,1243.9 236.3,1244.6 237.0,1245.2 237.8,1245.8 238.6,1246.2 239.3,1246.7 240.1,1247.0 240.9,1247.3 241.6,1247.5 242.4,1247.6 243.2,1247.6 243.9,1247.6 244.7,1247.5 245.4,1247.3 246.2,1247.1 246.9,1246.8 247.7,1246.4 248.5,1246.0 249.3,1245.6 250.1,1245.1 251.0,1244.6 251.9,1244.0 252.8,1243.4 253.7,1242.7 254.6,1242.0 255.6,1241.4 256.5,1240.7 257.3,1240.0 258.2,1239.3 259.1,1238.6 260.0,1237.9 260.9,1237.2 261.7,1236.4 262.7,1235.7 263.6,1235.0 264.6,1234.2 265.6,1233.4 266.6,1232.7 267.6,1231.9 268.7,1231.1 269.7,1230.3 270.8,1229.6 271.8,1228.8 272.8,1228.1 273.8,1227.4 274.9,1226.8 275.9,1226.1 276.9,1225.4 277.9,1224.8 278.9,1224.3 280.0,1223.7 281.0,1223.2 282.0,1222.8 283.0,1222.4 284.0,1222.1 285.0,1221.7 286.0,1221.4 287.1,1221.0 288.1,1220.7 289.3,1220.2 290.4,1219.8 291.6,1219.3 292.8,1218.8 293.9,1218.4 295.1,1218.0 296.2,1217.7 297.4,1217.6 298.4,1217.6 299.5,1217.7 300.5,1217.9 301.6,1218.2 302.6,1218.6 303.6,1218.9 304.6,1219.3 305.5,1219.6 306.5,1219.9 307.4,1220.2 308.3,1220.5 309.2,1220.8 310.1,1221.2 310.9,1221.6 311.8,1222.1 312.7,1222.7 313.6,1223.4 314.5,1224.2 315.4,1225.0 316.3,1226.0 317.2,1226.9 318.1,1227.9 319.0,1228.9 319.8,1229.9 320.7,1230.8 321.6,1231.9 322.5,1232.9 323.4,1234.0 324.3,1235.1 325.2,1236.1 326.1,1237.1 327.0,1238.0 327.9,1238.9 328.8,1239.8 329.7,1240.6 330.6,1241.4 331.5,1242.2 332.4,1242.9 333.3,1243.5 334.2,1244.2 335.1,1244.7 336.0,1245.3 336.8,1245.8 337.7,1246.2 338.6,1246.6 339.5,1247.0 340.4,1247.3 341.3,1247.6 342.2,1247.9 343.1,1248.2 344.0,1248.5 344.9,1248.7 345.8,1248.8 346.7,1249.0 347.6,1249.2 348.5,1249.3 349.4,1249.4 350.3,1249.5 351.3,1249.6 352.2,1249.7 353.1,1249.7 354.0,1249.7 354.8,1249.7 355.6,1249.7 356.4,1249.6 357.1,1249.6 357.7,1249.5 358.3,1249.5 358.9,1249.3 359.5,1249.1 360.1,1248.7 360.7,1248.3 361.4,1247.7 362.0,1246.9 362.6,1246.1 363.2,1245.2 363.9,1244.2 364.5,1243.2 365.2,1242.1 365.9,1241.1 366.6,1240.1 367.3,1239.0 368.0,1237.8 368.8,1236.7 369.6,1235.5 370.4,1234.3 371.2,1233.1 372.0,1231.9 372.8,1230.7 373.7,1229.4 374.6,1228.1 375.5,1226.8 376.4,1225.5 377.3,1224.2 378.2,1222.9 379.2,1221.7 380.0,1220.4 380.9,1219.2 381.8,1218.0 382.7,1216.8 383.6,1215.6 384.5,1214.4 385.4,1213.2 386.3,1212.1 387.2,1210.9 388.1,1209.8 389.0,1208.6 389.9,1207.5 390.8,1206.4 391.7,1205.3 392.6,1204.3 393.5,1203.3 394.4,1202.3 395.3,1201.4 396.2,1200.4 397.0,1199.6 397.9,1198.7 398.8,1197.9 399.7,1197.2 400.6,1196.5 401.5,1195.9 402.4,1195.4 403.3,1194.9 404.2,1194.5 405.1,1194.1 406.0,1193.7 406.9,1193.4 407.8,1193.0 408.7,1192.8 409.6,1192.6 410.5,1192.4 411.4,1192.2 412.3,1192.1 413.1,1191.9 414.0,1191.8 414.9,1191.6 415.8,1191.4 416.8,1191.2 417.7,1190.9 418.6,1190.7 419.5,1190.5 420.4,1190.3 421.3,1190.1 422.1,1190.0 422.9,1189.9 423.7,1189.7 424.5,1189.5 425.2,1189.4 426.0,1189.4 426.7,1189.4 427.5,1189.6 428.2,1190.0 429.0,1190.5 429.7,1191.2 430.5,1192.0 431.2,1192.9 432.0,1193.8 432.8,1194.9 433.6,1196.0 434.4,1197.1 435.2,1198.3 436.1,1199.7 437.0,1201.1 437.9,1202.5 438.8,1204.0 439.7,1205.5 440.6,1207.0 441.5,1208.4 442.4,1209.8 443.3,1211.2 444.2,1212.7 445.1,1214.1 446.0,1215.6 446.9,1217.0 447.8,1218.3 448.7,1219.6 449.6,1220.9 450.5,1222.2 451.4,1223.5 452.3,1224.7 453.2,1225.9 454.0,1227.0 454.9,1228.0 455.8,1228.8 456.7,1229.5 457.6,1230.1 458.5,1230.6 459.4,1230.9 460.3,1231.2 461.2,1231.5 462.1,1231.7 463.0,1231.9 463.9,1232.1 464.8,1232.2 465.7,1232.3 466.6,1232.3 467.5,1232.3 468.4,1232.3 469.3,1232.1 470.2,1231.9 471.0,1231.6 471.9,1231.3 472.8,1230.8 473.7,1230.4 474.6,1229.8 475.5,1229.2 476.4,1228.5 477.3,1227.8 478.2,1227.0 479.1,1226.1 480.0,1225.2 481.0,1224.2 481.9,1223.1 482.8,1222.0 483.6,1220.8 484.5,1219.6 485.3,1218.4 486.1,1217.0 486.9,1215.6 487.7,1214.1 488.5,1212.7 489.2,1211.2 489.9,1209.8 490.6,1208.4 491.2,1207.1 491.8,1205.8 492.3,1204.5 492.8,1203.2 493.2,1201.9 493.7,1200.7 494.2,1199.4 494.7,1198.2 494.7,1236.0 494.2,1236.4 493.7,1236.7 493.2,1237.1 492.8,1237.4 492.3,1237.8 491.8,1238.1 491.2,1238.6 490.6,1239.1 489.9,1239.6 489.2,1240.2 488.5,1240.8 487.7,1241.4 486.9,1242.1 486.1,1242.8 485.3,1243.5 484.5,1244.2 483.6,1244.9 482.8,1245.7 481.9,1246.5 481.0,1247.4 480.0,1248.2 479.1,1249.0 478.2,1249.7 477.3,1250.3 476.4,1250.9 475.5,1251.4 474.6,1251.8 473.7,1252.2 472.8,1252.6 471.9,1252.9 471.0,1253.1 470.2,1253.4 469.3,1253.6 468.4,1253.8 467.5,1253.9 466.6,1254.0 465.7,1254.0 464.8,1254.0 463.9,1253.9 463.0,1253.8 462.1,1253.6 461.2,1253.3 460.3,1252.9 459.4,1252.5 458.5,1252.1 457.6,1251.5 456.7,1250.9 455.8,1250.3 454.9,1249.6 454.0,1248.8 453.2,1248.0 452.3,1247.1 451.4,1246.2 450.5,1245.2 449.6,1244.2 448.7,1243.1 447.8,1242.0 446.9,1240.8 446.0,1239.5 445.1,1238.2 444.2,1236.9 443.3,1235.6 442.4,1234.2 441.5,1232.9 440.6,1231.6 439.7,1230.3 438.8,1228.9 437.9,1227.6 437.0,1226.2 436.1,1225.0 435.2,1223.8 434.4,1222.7 433.6,1221.7 432.8,1220.8 432.0,1220.0 431.2,1219.2 430.5,1218.5 429.7,1217.8 429.0,1217.2 428.2,1216.6 427.5,1216.0 426.7,1215.5 426.0,1215.0 425.2,1214.6 424.5,1214.2 423.7,1213.9 422.9,1213.7 422.1,1213.5 421.3,1213.4 420.4,1213.5 419.5,1213.6 418.6,1213.8 417.7,1214.0 416.8,1214.2 415.8,1214.4 414.9,1214.5 414.0,1214.6 413.1,1214.6 412.3,1214.6 411.4,1214.6 410.5,1214.6 409.6,1214.7 408.7,1214.8 407.8,1214.9 406.9,1215.1 406.0,1215.3 405.1,1215.6 404.2,1215.8 403.3,1216.2 402.4,1216.6 401.5,1217.0 400.6,1217.6 399.7,1218.3 398.8,1219.0 397.9,1219.9 397.0,1220.8 396.2,1221.7 395.3,1222.7 394.4,1223.7 393.5,1224.7 392.6,1225.8 391.7,1226.9 390.8,1228.0 389.9,1229.2 389.0,1230.3 388.1,1231.5 387.2,1232.7 386.3,1233.9 385.4,1235.2 384.5,1236.4 383.6,1237.7 382.7,1239.0 381.8,1240.3 380.9,1241.6 380.0,1242.9 379.2,1244.2 378.2,1245.5 377.3,1246.8 376.4,1248.1 375.5,1249.3 374.6,1250.6 373.7,1251.9 372.8,1253.2 372.0,1254.4 371.2,1255.6 370.4,1256.8 369.6,1258.0 368.8,1259.2 368.0,1260.3 367.3,1261.5 366.6,1262.6 365.9,1263.6 365.2,1264.6 364.5,1265.7 363.9,1266.7 363.2,1267.6 362.6,1268.5 362.0,1269.4 361.4,1270.1 360.7,1270.8 360.1,1271.3 359.5,1271.7 358.9,1272.0 358.3,1272.3 357.7,1272.5 357.1,1272.6 356.4,1272.7 355.6,1272.8 354.8,1272.9 354.0,1272.9 353.1,1272.8 352.2,1272.8 351.3,1272.6 350.3,1272.5 349.4,1272.4 348.5,1272.2 347.6,1272.0 346.7,1271.8 345.8,1271.6 344.9,1271.4 344.0,1271.2 343.1,1270.9 342.2,1270.5 341.3,1270.1 340.4,1269.7 339.5,1269.3 338.6,1268.8 337.7,1268.2 336.8,1267.6 336.0,1267.0 335.1,1266.4 334.2,1265.6 333.3,1264.9 332.4,1264.0 331.5,1263.2 330.6,1262.2 329.7,1261.3 328.8,1260.3 327.9,1259.4 327.0,1258.5 326.1,1257.6 325.2,1256.7 324.3,1255.7 323.4,1254.8 322.5,1253.9 321.6,1253.0 320.7,1252.2 319.8,1251.3 319.0,1250.5 318.1,1249.7 317.2,1249.0 316.3,1248.2 315.4,1247.5 314.5,1246.8 313.6,1246.2 312.7,1245.6 311.8,1245.1 310.9,1244.6 310.1,1244.2 309.2,1243.9 308.3,1243.6 307.4,1243.3 306.5,1243.0 305.5,1242.7 304.6,1242.5 303.6,1242.3 302.5,1242.0 301.5,1241.8 300.5,1241.7 299.4,1241.6 298.4,1241.5 297.4,1241.5 296.3,1241.6 295.3,1241.7 294.3,1241.8 293.3,1242.0 292.2,1242.3 291.2,1242.5 290.2,1242.8 289.2,1243.1 288.1,1243.5 287.1,1243.9 286.1,1244.4 285.1,1244.8 284.1,1245.3 283.0,1245.8 282.0,1246.3 281.0,1246.8 280.0,1247.3 278.9,1247.8 277.9,1248.3 276.9,1248.8 275.9,1249.3 274.9,1249.8 273.8,1250.3 272.8,1250.9 271.8,1251.5 270.7,1252.2 269.7,1252.9 268.7,1253.6 267.6,1254.3 266.6,1255.0 265.6,1255.7 264.6,1256.4 263.7,1257.2 262.8,1258.0 261.9,1258.7 261.0,1259.5 260.1,1260.3 259.2,1261.1 258.4,1261.9 257.5,1262.6 256.6,1263.3 255.7,1264.0 254.7,1264.7 253.8,1265.4 252.9,1266.0 252.0,1266.6 251.2,1267.2 250.3,1267.7 249.5,1268.1 248.7,1268.6 247.9,1269.0 247.2,1269.3 246.4,1269.6 245.7,1269.9 244.9,1270.0 244.2,1270.1 243.4,1270.2 242.6,1270.2 241.9,1270.1 241.1,1270.0 240.3,1269.8 239.6,1269.5 238.8,1269.1 238.0,1268.7 237.3,1268.2 236.5,1267.6 235.7,1266.9 234.9,1266.2 234.1,1265.4 233.4,1264.5 232.6,1263.6 231.9,1262.6 231.2,1261.5 230.6,1260.3 229.9,1259.1 229.3,1257.8 228.7,1256.4 228.1,1255.1 227.4,1253.7 226.8,1252.4 226.2,1251.0 225.5,1249.6 224.9,1248.1 224.2,1246.7 223.6,1245.2 223.0,1243.8 222.3,1242.4 221.7,1241.1 221.0,1239.8 220.4,1238.5 219.8,1237.3 219.1,1236.1 218.5,1234.9 217.9,1233.8 217.2,1232.8 216.6,1231.9 215.9,1231.1 215.3,1230.5 214.7,1229.9 214.0,1229.4 213.4,1228.9 212.7,1228.5 212.1,1228.2 211.5,1227.8 210.8,1227.5 210.2,1227.2 209.5,1227.0 208.9,1226.8 208.3,1226.6 207.6,1226.5 207.0,1226.4 206.3,1226.4 205.7,1226.4 205.1,1226.4 204.4,1226.5 203.8,1226.6 203.2,1226.7 202.5,1227.0 201.9,1227.3 201.2,1227.8 200.6,1228.4 200.0,1229.1 199.3,1229.9 198.7,1230.7 198.0,1231.7 197.4,1232.7 196.8,1233.8 196.1,1235.0 195.5,1236.2 194.8,1237.6 194.2,1239.1 193.5,1240.7 192.9,1242.3 192.2,1243.9 191.6,1245.6 191.0,1247.2 190.4,1248.9 189.9,1250.7 189.4,1252.5 188.8,1254.4 188.3,1256.2 187.8,1258.1 187.4,1259.8 186.9,1261.6 186.5,1263.2 186.1,1264.8 185.7,1266.3 185.3,1267.8 185.0,1269.3 184.6,1270.8 184.2,1272.3 183.9,1273.8" fill="#b6b6b6" fill-opacity="0.81"/>
<polyline points="182.8,1251.7 183.2,1250.7 183.6,1249.6 183.9,1248.6 184.3,1247.5 184.7,1246.5 185.1,1245.4 185.5,1244.3 185.9,1243.1 186.4,1241.9 186.8,1240.7 187.3,1239.4 187.8,1238.1 188.3,1236.8 188.9,1235.4 189.4,1234.2 190.0,1232.9 190.6,1231.7 191.2,1230.5 191.8,1229.2 192.5,1228.0 193.1,1226.9 193.8,1225.7 194.5,1224.7 195.1,1223.7 195.7,1222.8 196.4,1222.0 197.0,1221.2 197.7,1220.5 198.3,1219.8 198.9,1219.2 199.6,1218.7 200.2,1218.2 200.9,1217.8 201.5,1217.5 202.1,1217.2 202.8,1217.0 203.4,1216.8 204.0,1216.7 204.7,1216.6 205.3,1216.6 206.0,1216.6 206.6,1216.6 207.2,1216.7 207.9,1216.8 208.5,1216.9 209.2,1217.1 209.8,1217.3 210.4,1217.6 211.1,1217.8 211.7,1218.1 212.4,1218.4 213.0,1218.7 213.6,1219.1 214.3,1219.6 214.9,1220.1 215.6,1220.7 216.2,1221.3 216.8,1222.1 217.5,1222.9 218.1,1223.7 218.7,1224.6 219.4,1225.6 220.0,1226.7 220.7,1227.8 221.3,1229.0 221.9,1230.4 222.6,1231.8 223.2,1233.2 223.9,1234.7 224.5,1236.2 225.1,1237.7 225.8,1239.1 226.4,1240.4 227.0,1241.8 227.6,1243.1 228.3,1244.4 228.9,1245.7 229.5,1247.0 230.2,1248.2 230.9,1249.3 231.6,1250.4 232.4,1251.4 233.1,1252.4 233.9,1253.4 234.7,1254.3 235.5,1255.1 236.3,1255.8 237.0,1256.4 237.8,1257.0 238.6,1257.4 239.3,1257.8 240.1,1258.0 240.9,1258.2 241.6,1258.4 242.4,1258.5 243.2,1258.5 243.9,1258.4 244.7,1258.3 245.4,1258.2 246.2,1257.9 246.9,1257.6 247.7,1257.3 248.5,1256.9 249.3,1256.4 250.1,1256.0 251.0,1255.4 251.9,1254.8 252.8,1254.1 253.7,1253.4 254.6,1252.7 255.6,1252.0 256.5,1251.3 257.3,1250.6 258.2,1249.9 259.1,1249.2 260.0,1248.5 260.9,1247.8 261.7,1247.0 262.7,1246.3 263.6,1245.6 264.6,1244.9 265.6,1244.2 266.6,1243.5 267.6,1242.7 268.7,1242.0 269.7,1241.4 270.8,1240.7 271.8,1240.1 272.8,1239.5 273.8,1239.0 274.9,1238.4 275.9,1237.9 276.9,1237.5 277.9,1237.0 278.9,1236.5 280.0,1236.0 281.0,1235.5 282.0,1234.9 283.0,1234.4 284.1,1233.8 285.1,1233.3 286.1,1232.8 287.1,1232.3 288.1,1231.9 289.2,1231.5 290.2,1231.2 291.2,1230.9 292.2,1230.6 293.3,1230.3 294.3,1230.1 295.3,1230.0 296.3,1229.9 297.4,1229.8 298.4,1229.8 299.4,1229.9 300.5,1230.0 301.5,1230.2 302.5,1230.4 303.5,1230.6 304.5,1230.9 305.5,1231.1 306.4,1231.4 307.3,1231.7 308.2,1232.1 309.0,1232.5 309.9,1232.9 310.8,1233.4 311.7,1233.9 312.6,1234.6 313.5,1235.2 314.4,1236.0 315.2,1236.8 316.1,1237.6 317.0,1238.4 317.9,1239.2 318.8,1240.1 319.7,1240.9 320.6,1241.8 321.5,1242.7 322.4,1243.6 323.3,1244.5 324.2,1245.4 325.1,1246.3 326.0,1247.2 326.9,1248.2 327.8,1249.1 328.7,1250.1 329.6,1251.0 330.5,1251.9 331.3,1252.8 332.2,1253.6 333.1,1254.4 334.0,1255.1 334.9,1255.7 335.8,1256.2 336.7,1256.8 337.6,1257.2 338.5,1257.7 339.4,1258.1 340.3,1258.5 341.2,1258.8 342.1,1259.2 343.0,1259.5 343.9,1259.7 344.8,1260.0 345.7,1260.2 346.6,1260.4 347.5,1260.5 348.4,1260.7 349.3,1260.8 350.2,1261.0 351.2,1261.1 352.1,1261.1 353.0,1261.2 353.8,1261.2 354.6,1261.1 355.3,1261.1 356.0,1261.0 356.7,1260.9 357.3,1260.8 357.9,1260.6 358.5,1260.4 359.1,1260.0 359.7,1259.5 360.4,1258.9 361.0,1258.2 361.6,1257.3 362.2,1256.4 362.8,1255.4 363.5,1254.4 364.1,1253.4 364.8,1252.4 365.5,1251.3 366.3,1250.2 367.0,1249.1 367.8,1247.9 368.6,1246.8 369.3,1245.6 370.1,1244.4 371.0,1243.1 371.8,1241.9 372.7,1240.7 373.6,1239.4 374.5,1238.1 375.4,1236.8 376.3,1235.5 377.2,1234.2 378.1,1232.9 379.0,1231.6 379.9,1230.3 380.8,1229.0 381.7,1227.7 382.6,1226.5 383.5,1225.2 384.4,1223.9 385.3,1222.7 386.2,1221.5 387.1,1220.3 388.0,1219.1 388.9,1217.9 389.8,1216.8 390.7,1215.6 391.5,1214.5 392.4,1213.5 393.3,1212.5 394.2,1211.5 395.1,1210.5 396.0,1209.5 396.9,1208.6 397.8,1207.8 398.7,1207.0 399.6,1206.3 400.5,1205.7 401.4,1205.2 402.2,1204.8 403.1,1204.4 404.0,1204.1 404.9,1203.8 405.8,1203.5 406.8,1203.3 407.7,1203.0 408.8,1202.9 409.8,1202.7 410.8,1202.6 411.9,1202.5 412.9,1202.5 414.0,1202.4 414.9,1202.2 415.9,1202.1 416.8,1201.9 417.7,1201.7 418.6,1201.5 419.5,1201.3 420.4,1201.2 421.3,1201.2 422.1,1201.2 422.9,1201.4 423.7,1201.6 424.5,1201.9 425.2,1202.3 426.0,1202.7 426.7,1203.2 427.5,1203.7 428.2,1204.3 429.0,1204.9 429.7,1205.5 430.5,1206.2 431.2,1206.9 432.0,1207.7 432.8,1208.5 433.6,1209.4 434.4,1210.4 435.2,1211.5 436.1,1212.7 437.0,1214.0 437.9,1215.3 438.8,1216.6 439.7,1218.0 440.6,1219.3 441.5,1220.7 442.4,1221.9 443.3,1223.3 444.2,1224.6 445.1,1225.9 446.0,1227.2 446.9,1228.5 447.8,1229.7 448.7,1230.9 449.6,1232.0 450.5,1233.2 451.4,1234.3 452.3,1235.4 453.2,1236.5 454.0,1237.4 454.9,1238.3 455.8,1239.1 456.7,1239.7 457.6,1240.3 458.5,1240.7 459.4,1241.1 460.3,1241.4 461.2,1241.7 462.1,1241.9 463.0,1242.1 463.9,1242.3 464.8,1242.4 465.7,1242.5 466.6,1242.5 467.5,1242.5 468.4,1242.4 469.3,1242.3 470.2,1242.1 471.0,1241.9 471.9,1241.7 472.8,1241.4 473.7,1241.0 474.6,1240.6 475.5,1240.2 476.4,1239.7 477.3,1239.1 478.2,1238.4 479.1,1237.6 480.0,1236.8 481.0,1235.9 481.9,1234.9 482.8,1233.9 483.6,1232.9 484.5,1231.9 485.3,1230.8 486.1,1229.7 486.9,1228.5 487.7,1227.2 488.5,1226.0 489.2,1224.8 489.9,1223.7 490.6,1222.7 491.2,1221.8 491.8,1220.9 492.3,1220.2 492.8,1219.4 493.2,1218.7 493.7,1218.0 494.2,1217.3 494.7,1216.6" fill="none" stroke="#000" stroke-width="4.6" stroke-linejoin="round"/>
<polyline points="183.8,1288.1 187.9,1288.1 187.9,1245.6 192.3,1245.6 192.3,1193.7 196.7,1193.7 196.7,1175.7 201.1,1175.7 201.1,1135.2 205.5,1135.2 205.5,1127.6 209.9,1127.6 209.9,1137.2 214.3,1137.2 214.3,1176.7 218.6,1176.7 218.6,1196.5 223.0,1196.5 223.0,1222.7 227.4,1222.7 227.4,1243.1 231.8,1243.1 231.8,1268.7 236.2,1268.7 236.2,1285.1 240.6,1285.1 240.6,1292.6 245.0,1292.6 245.0,1298.4 249.4,1298.4 249.4,1295.9 253.8,1295.9 253.8,1298.0 258.2,1298.0 258.2,1299.4 262.6,1299.4 262.6,1301.4 267.0,1301.4 267.0,1298.8 271.4,1298.8 271.4,1293.3 275.8,1293.3 275.8,1291.8 280.2,1291.8 280.2,1292.6 284.6,1292.6 284.6,1293.9 289.0,1293.9 289.0,1294.7 293.3,1294.7 293.3,1295.9 297.7,1295.9 297.7,1295.9 302.1,1295.9 302.1,1299.4 306.5,1299.4 306.5,1300.8 310.9,1300.8 310.9,1305.5 315.3,1305.5 315.3,1298.0 319.7,1298.0 319.7,1290.6 324.1,1290.6 324.1,1274.2 328.5,1274.2 328.5,1263.2 332.9,1263.2 332.9,1241.1 337.3,1241.1 337.3,1225.2 341.7,1225.2 341.7,1217.6 346.1,1217.6 346.1,1217.6 350.5,1217.6 350.5,1233.9 354.9,1233.9 354.9,1246.2 359.3,1246.2 359.3,1251.7 363.6,1251.7 363.6,1263.2 368.0,1263.2 368.0,1268.7 372.4,1268.7 372.4,1289.2 376.8,1289.2 376.8,1302.9 381.2,1302.9 381.2,1307.6 385.6,1307.6 385.6,1304.5 390.0,1304.5 390.0,1301.4 394.4,1301.4 394.4,1291.2 398.8,1291.2 398.8,1266.1 403.2,1266.1 403.2,1235.4 407.6,1235.4 407.6,1209.4 412.0,1209.4 412.0,1185.9 416.4,1185.9 416.4,1189.0 420.8,1189.0 420.8,1193.7 425.2,1193.7 425.2,1209.4 429.6,1209.4 429.6,1213.5 434.0,1213.5 434.0,1217.6 438.3,1217.6 438.3,1215.5 442.7,1215.5 442.7,1222.7 447.1,1222.7 447.1,1224.3 451.5,1224.3 451.5,1233.9 455.9,1233.9 455.9,1245.2 460.3,1245.2 460.3,1261.6 464.7,1261.6 464.7,1275.5 469.1,1275.5 469.1,1284.0 473.5,1284.0 473.5,1285.7 477.9,1285.7 477.9,1278.9 482.3,1278.9 482.3,1270.8 486.7,1270.8 486.7,1268.7 491.1,1268.7 491.1,1272.4 495.5,1272.4" fill="none" stroke="#d4110f" stroke-width="3.9" stroke-linejoin="round"/>
</svg>
<rect x="148.6" y="1006.1" width="347.1" height="405.7" fill="none" stroke="#333" stroke-width="1.4"/>
<text x="257.2" y="993.1" font-size="25.9" textLength="173.0" lengthAdjust="spacingAndGlyphs">Rio de Janeiro</text>
<path d="M137.2 1393.4H148.6" stroke="#333" stroke-width="1.6"/>
<text x="126.1" y="1402.2" font-size="27" text-anchor="end">0</text>
<path d="M137.2 1312.6H148.6" stroke="#333" stroke-width="1.6"/>
<text x="126.1" y="1321.4" font-size="27" text-anchor="end">0.5</text>
<path d="M137.2 1231.8H148.6" stroke="#333" stroke-width="1.6"/>
<text x="126.1" y="1240.6" font-size="27" text-anchor="end">1.0</text>
<path d="M137.2 1151.0H148.6" stroke="#333" stroke-width="1.6"/>
<text x="126.1" y="1159.8" font-size="27" text-anchor="end">1.5</text>
<path d="M137.2 1070.2H148.6" stroke="#333" stroke-width="1.6"/>
<text x="126.1" y="1079.0" font-size="27" text-anchor="end">2.0</text>
<path d="M193.6 1411.8V1423.2" stroke="#333" stroke-width="1.6"/>
<text transform="translate(208.1 1446.3) rotate(-45)" font-size="27" text-anchor="end">Apr 20</text>
<path d="M250.7 1411.8V1423.2" stroke="#333" stroke-width="1.6"/>
<text transform="translate(265.2 1446.3) rotate(-45)" font-size="27" text-anchor="end">Jul 20</text>
<path d="M308.4 1411.8V1423.2" stroke="#333" stroke-width="1.6"/>
<text transform="translate(322.9 1446.3) rotate(-45)" font-size="27" text-anchor="end">Oct 20</text>
<path d="M366.2 1411.8V1423.2" stroke="#333" stroke-width="1.6"/>
<text transform="translate(380.7 1446.3) rotate(-45)" font-size="27" text-anchor="end">Jan 21</text>
<path d="M422.7 1411.8V1423.2" stroke="#333" stroke-width="1.6"/>
<text transform="translate(437.2 1446.3) rotate(-45)" font-size="27" text-anchor="end">Apr 21</text>
<path d="M479.8 1411.8V1423.2" stroke="#333" stroke-width="1.6"/>
<text transform="translate(494.3 1446.3) rotate(-45)" font-size="27" text-anchor="end">Jul 21</text>
</g>
<g>
<svg x="517.3" y="1006.1" width="347.1" height="405.7" viewBox="517.3 1006.1 347.1 405.7" overflow="hidden">
<path d="M533.7 1006.1V1411.8M590.8 1006.1V1411.8M648.2 1006.1V1411.8M706.0 1006.1V1411.8M763.1 1006.1V1411.8M819.9 1006.1V1411.8M517.3 1353.0H864.4M517.3 1272.2H864.4M517.3 1191.4H864.4M517.3 1110.6H864.4M517.3 1029.8H864.4" stroke="#ebebeb" stroke-width="2.1" fill="none"/>
<path d="M517.3 1393.4H864.4M517.3 1312.6H864.4M517.3 1231.8H864.4M517.3 1151.0H864.4M517.3 1070.2H864.4" stroke="#ebebeb" stroke-width="3.8" fill="none"/>
<path d="M562.2 1006.1V1411.8M619.4 1006.1V1411.8M677.1 1006.1V1411.8M734.9 1006.1V1411.8M791.4 1006.1V1411.8M848.5 1006.1V1411.8" stroke="#ebebeb" stroke-width="4.4" fill="none"/>
<path d="M732.4 1010.1V1411.8" stroke="#000" stroke-width="4.8" stroke-dasharray="4.4 4.26" fill="none"/>
<polygon points="552.9,1310.6 553.4,1308.1 553.9,1305.6 554.3,1303.1 554.8,1300.5 555.3,1298.0 555.9,1295.4 556.4,1292.8 556.9,1290.2 557.5,1287.5 558.1,1284.8 558.7,1282.0 559.4,1279.2 560.0,1276.4 560.7,1273.5 561.4,1270.6 562.1,1267.7 562.8,1264.7 563.5,1261.6 564.2,1258.5 565.0,1255.3 565.8,1252.1 566.6,1249.0 567.4,1246.0 568.2,1243.1 569.0,1240.3 569.9,1237.6 570.8,1234.8 571.7,1232.2 572.6,1229.6 573.5,1227.1 574.4,1224.8 575.3,1222.7 576.3,1220.7 577.2,1218.9 578.1,1217.1 579.0,1215.5 579.9,1214.1 580.8,1212.7 581.7,1211.5 582.5,1210.4 583.3,1209.5 584.1,1208.7 584.9,1208.0 585.7,1207.5 586.5,1207.1 587.2,1206.7 587.9,1206.5 588.6,1206.3 589.3,1206.3 590.0,1206.3 590.6,1206.5 591.2,1206.7 591.8,1207.0 592.4,1207.4 593.1,1207.9 593.8,1208.4 594.5,1208.9 595.2,1209.6 595.9,1210.3 596.6,1211.0 597.4,1211.8 598.2,1212.7 599.0,1213.6 599.9,1214.5 600.8,1215.5 601.8,1216.5 602.8,1217.5 603.9,1218.5 604.9,1219.7 606.0,1220.9 607.0,1222.3 608.1,1223.7 609.1,1225.3 610.1,1227.1 611.1,1229.0 612.2,1230.9 613.2,1233.0 614.2,1235.0 615.2,1237.1 616.2,1239.1 617.3,1241.1 618.3,1243.1 619.3,1245.1 620.3,1247.2 621.4,1249.2 622.4,1251.3 623.4,1253.4 624.4,1255.4 625.5,1257.5 626.5,1259.7 627.5,1262.0 628.6,1264.2 629.6,1266.3 630.6,1268.3 631.6,1270.2 632.6,1271.8 633.6,1273.2 634.5,1274.3 635.4,1275.4 636.3,1276.3 637.1,1277.1 638.0,1277.8 638.9,1278.4 639.8,1278.9 640.7,1279.4 641.6,1279.8 642.5,1280.0 643.3,1280.2 644.2,1280.3 645.1,1280.3 646.0,1280.4 646.9,1280.4 647.8,1280.4 648.7,1280.3 649.7,1280.3 650.6,1280.2 651.5,1280.0 652.4,1279.8 653.2,1279.4 654.1,1278.9 654.9,1278.3 655.7,1277.5 656.5,1276.6 657.2,1275.6 658.0,1274.6 658.7,1273.6 659.5,1272.6 660.2,1271.8 661.0,1271.0 661.7,1270.1 662.5,1269.3 663.2,1268.5 664.0,1267.8 664.7,1267.1 665.5,1266.5 666.4,1266.1 667.2,1265.7 668.1,1265.5 669.0,1265.4 669.9,1265.3 670.8,1265.3 671.7,1265.3 672.6,1265.3 673.5,1265.2 674.4,1265.1 675.3,1265.0 676.2,1264.8 677.1,1264.7 678.0,1264.6 678.9,1264.5 679.8,1264.5 680.7,1264.6 681.6,1264.8 682.5,1265.0 683.4,1265.3 684.2,1265.7 685.1,1266.1 686.0,1266.5 686.9,1267.1 687.8,1267.7 688.7,1268.4 689.6,1269.2 690.5,1270.1 691.4,1271.0 692.3,1272.0 693.2,1273.0 694.1,1273.9 695.0,1274.8 695.9,1275.8 696.8,1276.7 697.7,1277.7 698.6,1278.6 699.5,1279.6 700.3,1280.5 701.2,1281.3 702.1,1282.0 703.0,1282.6 703.9,1283.2 704.8,1283.7 705.7,1284.2 706.6,1284.6 707.5,1285.0 708.4,1285.3 709.3,1285.7 710.2,1286.0 711.1,1286.4 712.0,1286.7 712.9,1286.9 713.8,1287.2 714.7,1287.4 715.6,1287.6 716.5,1287.7 717.4,1287.8 718.3,1287.9 719.2,1288.0 720.2,1288.0 721.1,1287.9 722.0,1287.9 722.8,1287.8 723.6,1287.7 724.3,1287.6 725.0,1287.5 725.7,1287.4 726.3,1287.3 726.9,1287.1 727.5,1286.9 728.1,1286.5 728.7,1286.1 729.4,1285.6 730.0,1285.0 730.6,1284.4 731.2,1283.7 731.8,1282.9 732.5,1282.0 733.1,1281.1 733.8,1280.0 734.6,1278.7 735.3,1277.3 736.1,1275.7 736.8,1274.1 737.6,1272.4 738.4,1270.8 739.2,1269.2 740.0,1267.7 740.7,1266.3 741.5,1264.9 742.3,1263.5 743.0,1262.1 743.8,1260.8 744.6,1259.6 745.3,1258.5 746.1,1257.5 746.9,1256.6 747.6,1255.9 748.4,1255.3 749.1,1254.8 749.9,1254.3 750.6,1253.7 751.4,1253.1 752.2,1252.4 753.1,1251.5 753.9,1250.5 754.8,1249.5 755.7,1248.5 756.6,1247.4 757.5,1246.3 758.4,1245.2 759.4,1244.2 760.4,1243.2 761.4,1242.2 762.4,1241.2 763.5,1240.2 764.5,1239.2 765.6,1238.2 766.6,1237.1 767.6,1236.0 768.5,1234.8 769.4,1233.6 770.3,1232.4 771.2,1231.1 772.1,1229.8 773.0,1228.4 773.8,1227.1 774.7,1225.8 775.6,1224.4 776.5,1223.1 777.4,1221.7 778.3,1220.3 779.2,1218.9 780.1,1217.4 781.0,1216.0 781.9,1214.5 782.8,1213.0 783.7,1211.4 784.7,1209.8 785.6,1208.2 786.5,1206.6 787.4,1205.1 788.3,1203.6 789.1,1202.2 789.8,1201.0 790.5,1199.8 791.2,1198.7 791.8,1197.6 792.4,1196.7 793.0,1195.7 793.6,1194.9 794.2,1194.1 794.7,1193.3 795.2,1192.6 795.7,1191.9 796.2,1191.3 796.7,1190.7 797.2,1190.3 797.7,1190.1 798.3,1190.0 798.8,1190.1 799.5,1190.3 800.1,1190.7 800.7,1191.3 801.4,1191.9 802.1,1192.6 802.7,1193.3 803.4,1194.1 804.0,1194.8 804.6,1195.6 805.3,1196.4 805.9,1197.3 806.6,1198.3 807.2,1199.5 807.8,1200.8 808.5,1202.2 809.1,1204.0 809.8,1205.9 810.4,1208.0 811.0,1210.2 811.7,1212.6 812.3,1214.9 813.0,1217.3 813.6,1219.6 814.2,1222.0 814.8,1224.4 815.5,1226.8 816.1,1229.3 816.7,1231.8 817.4,1234.2 818.0,1236.7 818.7,1239.1 819.4,1241.5 820.2,1243.9 820.9,1246.3 821.7,1248.7 822.5,1251.1 823.3,1253.3 824.1,1255.5 824.8,1257.5 825.6,1259.3 826.4,1261.1 827.2,1262.8 828.0,1264.4 828.7,1265.9 829.5,1267.3 830.3,1268.6 831.0,1269.7 831.7,1270.8 832.3,1271.8 833.0,1272.7 833.6,1273.5 834.2,1274.1 834.8,1274.6 835.5,1274.8 836.1,1274.8 836.7,1274.6 837.3,1274.1 838.0,1273.5 838.6,1272.6 839.2,1271.6 839.8,1270.4 840.5,1269.1 841.2,1267.7 841.9,1266.1 842.7,1264.4 843.4,1262.5 844.2,1260.5 845.0,1258.3 845.8,1256.1 846.6,1253.7 847.3,1251.3 848.1,1248.9 848.9,1246.3 849.6,1243.7 850.4,1241.0 851.2,1238.1 851.9,1235.2 852.7,1232.1 853.5,1228.8 854.2,1225.4 855.0,1221.8 855.9,1218.0 856.7,1214.1 857.5,1210.2 858.2,1206.2 858.9,1202.1 859.6,1198.2 860.2,1194.2 860.8,1190.1 861.3,1186.0 861.8,1181.9 862.2,1177.8 862.7,1173.7 863.2,1169.5 863.7,1165.4 863.7,1222.7 863.2,1226.0 862.7,1229.4 862.2,1232.8 861.8,1236.1 861.3,1239.5 860.8,1242.8 860.2,1246.1 859.6,1249.3 858.9,1252.5 858.2,1255.7 857.5,1259.0 856.7,1262.1 855.9,1265.2 855.0,1268.2 854.2,1271.1 853.5,1273.8 852.7,1276.4 851.9,1278.8 851.2,1281.1 850.4,1283.3 849.6,1285.5 848.9,1287.5 848.1,1289.4 847.3,1291.2 846.6,1292.9 845.8,1294.6 845.0,1296.1 844.2,1297.5 843.4,1298.9 842.7,1300.1 841.9,1301.3 841.2,1302.5 840.5,1303.5 839.8,1304.6 839.2,1305.7 838.6,1306.6 838.0,1307.4 837.3,1308.0 836.7,1308.4 836.1,1308.6 835.5,1308.5 834.8,1308.1 834.2,1307.5 833.6,1306.8 833.0,1305.9 832.3,1304.9 831.7,1303.7 831.0,1302.5 830.3,1301.1 829.5,1299.5 828.7,1297.8 828.0,1295.9 827.2,1294.0 826.4,1292.1 825.6,1290.1 824.8,1288.1 824.1,1286.2 823.3,1284.2 822.5,1282.2 821.7,1280.1 820.9,1278.0 820.2,1275.9 819.4,1273.8 818.7,1271.8 818.0,1269.7 817.4,1267.6 816.7,1265.6 816.1,1263.5 815.5,1261.4 814.8,1259.4 814.2,1257.4 813.6,1255.4 813.0,1253.5 812.3,1251.6 811.7,1249.6 811.0,1247.8 810.4,1245.9 809.8,1244.2 809.1,1242.6 808.5,1241.1 807.8,1239.8 807.2,1238.5 806.6,1237.4 805.9,1236.3 805.3,1235.3 804.6,1234.5 804.0,1233.7 803.4,1232.9 802.7,1232.3 802.1,1231.7 801.4,1231.2 800.7,1230.8 800.1,1230.4 799.5,1230.1 798.8,1230.0 798.3,1229.9 797.7,1229.8 797.2,1229.9 796.7,1230.0 796.2,1230.2 795.7,1230.5 795.2,1230.9 794.7,1231.4 794.2,1231.9 793.6,1232.5 793.0,1233.2 792.4,1234.0 791.8,1234.8 791.2,1235.8 790.5,1236.8 789.8,1237.9 789.1,1239.1 788.3,1240.3 787.4,1241.8 786.5,1243.3 785.6,1244.9 784.7,1246.5 783.7,1248.1 782.8,1249.8 781.9,1251.3 781.0,1252.9 780.1,1254.4 779.2,1256.0 778.3,1257.5 777.4,1259.1 776.5,1260.6 775.6,1262.1 774.7,1263.6 773.8,1265.1 773.0,1266.6 772.1,1268.0 771.2,1269.5 770.3,1270.9 769.4,1272.3 768.5,1273.6 767.6,1274.8 766.6,1276.0 765.6,1277.1 764.6,1278.1 763.6,1279.1 762.5,1280.0 761.5,1281.0 760.4,1282.0 759.4,1283.0 758.4,1284.2 757.3,1285.4 756.2,1286.6 755.2,1287.8 754.1,1289.0 753.1,1290.2 752.1,1291.3 751.2,1292.2 750.4,1293.0 749.5,1293.7 748.8,1294.2 748.0,1294.7 747.3,1295.2 746.6,1295.7 745.8,1296.4 745.1,1297.3 744.3,1298.5 743.6,1299.7 742.8,1301.2 742.0,1302.6 741.2,1304.2 740.5,1305.7 739.7,1307.2 738.9,1308.6 738.2,1309.9 737.4,1311.3 736.6,1312.7 735.8,1314.0 735.0,1315.3 734.3,1316.6 733.5,1317.7 732.8,1318.8 732.1,1319.8 731.5,1320.7 730.8,1321.6 730.2,1322.4 729.6,1323.2 729.0,1323.8 728.3,1324.4 727.7,1324.9 727.1,1325.4 726.5,1325.7 725.9,1326.0 725.3,1326.2 724.7,1326.4 724.0,1326.5 723.3,1326.5 722.6,1326.6 721.8,1326.6 720.9,1326.5 720.1,1326.3 719.1,1326.2 718.2,1326.0 717.3,1325.7 716.3,1325.5 715.4,1325.4 714.5,1325.2 713.6,1325.1 712.7,1324.9 711.9,1324.8 711.0,1324.6 710.1,1324.4 709.2,1324.2 708.3,1323.9 707.4,1323.6 706.5,1323.3 705.6,1323.0 704.7,1322.7 703.8,1322.3 702.9,1321.9 702.0,1321.4 701.1,1320.9 700.2,1320.2 699.3,1319.5 698.4,1318.8 697.5,1318.0 696.6,1317.2 695.7,1316.3 694.9,1315.5 694.0,1314.7 693.1,1313.9 692.2,1313.1 691.3,1312.3 690.4,1311.5 689.5,1310.7 688.6,1310.0 687.7,1309.3 686.8,1308.6 685.9,1308.0 685.0,1307.3 684.2,1306.7 683.3,1306.2 682.4,1305.6 681.5,1305.2 680.6,1304.8 679.6,1304.5 678.7,1304.3 677.7,1304.2 676.7,1304.1 675.6,1304.1 674.6,1304.2 673.5,1304.3 672.5,1304.4 671.5,1304.5 670.4,1304.6 669.4,1304.8 668.3,1304.9 667.2,1305.1 666.2,1305.4 665.2,1305.7 664.2,1306.1 663.3,1306.5 662.4,1307.1 661.6,1307.8 660.8,1308.6 660.1,1309.4 659.4,1310.2 658.6,1311.1 657.9,1311.9 657.1,1312.7 656.4,1313.5 655.6,1314.3 654.8,1315.1 654.1,1316.0 653.3,1316.7 652.5,1317.4 651.8,1318.0 651.0,1318.4 650.2,1318.7 649.5,1318.8 648.7,1318.8 647.9,1318.8 647.2,1318.6 646.4,1318.4 645.6,1318.1 644.9,1317.8 644.1,1317.4 643.3,1317.0 642.6,1316.5 641.8,1315.9 641.0,1315.2 640.3,1314.5 639.5,1313.6 638.7,1312.7 638.0,1311.6 637.3,1310.4 636.5,1309.1 635.8,1307.7 635.1,1306.2 634.3,1304.7 633.5,1303.1 632.6,1301.4 631.7,1299.7 630.7,1297.9 629.7,1295.9 628.6,1294.0 627.6,1292.0 626.5,1290.0 625.5,1288.0 624.4,1286.1 623.4,1284.2 622.4,1282.3 621.4,1280.5 620.3,1278.6 619.3,1276.8 618.3,1275.0 617.3,1273.4 616.2,1271.8 615.2,1270.3 614.2,1268.9 613.2,1267.6 612.2,1266.3 611.1,1265.1 610.1,1263.9 609.1,1262.8 608.1,1261.6 607.0,1260.3 606.0,1259.1 604.9,1257.9 603.9,1256.7 602.8,1255.5 601.8,1254.4 600.8,1253.3 599.9,1252.4 599.0,1251.4 598.2,1250.5 597.4,1249.6 596.6,1248.8 595.9,1248.1 595.2,1247.4 594.5,1246.8 593.8,1246.2 593.1,1245.7 592.4,1245.3 591.8,1244.8 591.1,1244.5 590.5,1244.2 589.9,1244.1 589.3,1244.1 588.6,1244.2 588.0,1244.4 587.4,1244.7 586.8,1245.2 586.2,1245.7 585.6,1246.4 585.0,1247.2 584.3,1248.2 583.5,1249.3 582.7,1250.6 581.9,1252.0 581.0,1253.7 580.0,1255.4 579.1,1257.3 578.1,1259.3 577.2,1261.4 576.4,1263.6 575.6,1265.9 574.8,1268.4 574.0,1270.9 573.2,1273.6 572.5,1276.4 571.7,1279.2 571.0,1282.1 570.2,1285.1 569.5,1288.1 568.7,1291.2 567.9,1294.4 567.1,1297.7 566.3,1300.9 565.6,1304.2 564.8,1307.5 564.1,1310.6 563.4,1313.7 562.7,1316.8 562.1,1319.8 561.4,1322.8 560.8,1325.9 560.2,1328.9 559.6,1332.0 559.0,1335.2 558.4,1338.5 557.9,1341.9 557.3,1345.4 556.8,1348.9 556.3,1352.4 555.8,1355.7 555.3,1358.9 554.9,1361.8 554.5,1364.4 554.2,1366.8 553.9,1369.0 553.6,1371.0 553.3,1373.0 553.0,1375.0 552.7,1377.0 552.4,1379.1" fill="#b6b6b6" fill-opacity="0.81"/>
<polyline points="552.4,1345.4 552.9,1342.9 553.3,1340.3 553.7,1337.8 554.1,1335.3 554.6,1332.8 555.0,1330.2 555.5,1327.6 555.9,1324.9 556.4,1322.2 556.9,1319.5 557.4,1316.8 557.9,1314.0 558.4,1311.1 558.9,1308.3 559.4,1305.4 560.0,1302.5 560.6,1299.5 561.2,1296.4 561.8,1293.3 562.4,1290.2 563.1,1287.1 563.8,1284.0 564.4,1280.9 565.1,1277.9 565.8,1275.0 566.6,1272.0 567.4,1269.1 568.1,1266.2 568.9,1263.3 569.7,1260.6 570.5,1257.9 571.3,1255.4 572.0,1253.0 572.8,1250.8 573.6,1248.6 574.3,1246.5 575.1,1244.5 575.9,1242.6 576.6,1240.8 577.4,1239.1 578.2,1237.4 579.0,1235.9 579.8,1234.5 580.6,1233.2 581.3,1231.9 582.1,1230.8 582.8,1229.8 583.5,1228.8 584.2,1228.0 584.8,1227.3 585.4,1226.7 585.9,1226.1 586.5,1225.7 587.0,1225.3 587.5,1225.0 588.0,1224.7 588.5,1224.5 588.9,1224.4 589.4,1224.3 589.8,1224.3 590.2,1224.3 590.6,1224.5 591.1,1224.8 591.7,1225.2 592.3,1225.7 593.0,1226.3 593.7,1227.1 594.5,1228.0 595.3,1228.9 596.1,1229.9 597.0,1230.9 597.8,1231.9 598.8,1232.9 599.7,1234.0 600.8,1235.0 601.8,1236.2 602.9,1237.3 603.9,1238.5 605.0,1239.8 606.0,1241.1 607.0,1242.5 608.1,1243.9 609.1,1245.3 610.1,1246.9 611.1,1248.4 612.2,1250.0 613.2,1251.7 614.2,1253.4 615.2,1255.1 616.2,1257.0 617.3,1258.9 618.3,1260.9 619.3,1262.8 620.3,1264.8 621.4,1266.8 622.4,1268.7 623.4,1270.7 624.5,1272.7 625.5,1274.7 626.6,1276.7 627.6,1278.7 628.7,1280.6 629.6,1282.4 630.6,1284.0 631.4,1285.6 632.2,1287.1 633.0,1288.5 633.8,1289.8 634.5,1291.1 635.2,1292.2 635.9,1293.3 636.7,1294.3 637.5,1295.1 638.3,1295.9 639.0,1296.6 639.8,1297.1 640.6,1297.6 641.4,1298.1 642.1,1298.4 642.8,1298.8 643.5,1299.1 644.2,1299.3 644.8,1299.4 645.5,1299.5 646.1,1299.5 646.7,1299.5 647.3,1299.5 647.9,1299.4 648.6,1299.3 649.2,1299.2 649.8,1299.0 650.4,1298.8 651.1,1298.6 651.7,1298.3 652.4,1297.9 653.1,1297.3 653.8,1296.7 654.5,1295.8 655.3,1294.9 656.1,1293.9 656.8,1292.9 657.6,1291.9 658.4,1291.0 659.2,1290.2 660.0,1289.5 660.7,1288.9 661.4,1288.3 662.2,1287.8 663.0,1287.3 663.7,1286.8 664.5,1286.4 665.3,1286.1 666.2,1285.8 667.0,1285.6 667.9,1285.4 668.8,1285.3 669.8,1285.2 670.7,1285.2 671.6,1285.1 672.5,1285.1 673.4,1285.0 674.3,1284.9 675.2,1284.9 676.1,1284.8 677.0,1284.8 677.9,1284.8 678.7,1284.9 679.6,1285.1 680.5,1285.3 681.4,1285.6 682.3,1285.9 683.2,1286.2 684.1,1286.6 685.0,1287.1 685.9,1287.6 686.8,1288.1 687.7,1288.8 688.6,1289.5 689.5,1290.2 690.4,1291.0 691.3,1291.8 692.2,1292.7 693.1,1293.5 694.0,1294.3 694.9,1295.1 695.7,1295.9 696.6,1296.7 697.5,1297.5 698.4,1298.3 699.3,1299.0 700.2,1299.7 701.1,1300.4 702.0,1301.0 702.9,1301.6 703.8,1302.2 704.7,1302.7 705.6,1303.2 706.5,1303.7 707.4,1304.1 708.3,1304.5 709.2,1304.8 710.1,1305.1 711.0,1305.3 711.9,1305.5 712.7,1305.7 713.6,1305.8 714.5,1306.0 715.4,1306.1 716.3,1306.3 717.3,1306.4 718.2,1306.6 719.1,1306.7 720.1,1306.8 720.9,1306.9 721.8,1307.0 722.6,1307.0 723.3,1306.9 724.0,1306.9 724.7,1306.8 725.3,1306.7 725.9,1306.5 726.5,1306.3 727.1,1305.9 727.7,1305.5 728.3,1305.0 729.0,1304.4 729.6,1303.8 730.2,1303.1 730.8,1302.3 731.5,1301.4 732.1,1300.4 732.8,1299.4 733.5,1298.2 734.3,1296.9 735.0,1295.5 735.8,1294.0 736.6,1292.5 737.4,1291.0 738.2,1289.5 738.9,1288.1 739.7,1286.8 740.5,1285.4 741.2,1284.1 742.0,1282.7 742.8,1281.4 743.6,1280.2 744.3,1279.0 745.1,1277.9 745.8,1277.0 746.6,1276.1 747.3,1275.4 748.0,1274.7 748.8,1274.0 749.5,1273.4 750.4,1272.6 751.2,1271.8 752.1,1270.8 753.1,1269.9 754.1,1268.8 755.2,1267.8 756.2,1266.7 757.3,1265.6 758.4,1264.6 759.4,1263.6 760.4,1262.7 761.5,1261.8 762.5,1261.0 763.6,1260.2 764.6,1259.4 765.6,1258.5 766.6,1257.5 767.6,1256.4 768.5,1255.2 769.4,1253.9 770.3,1252.6 771.2,1251.1 772.1,1249.7 773.0,1248.2 773.8,1246.7 774.7,1245.2 775.6,1243.7 776.5,1242.2 777.4,1240.7 778.3,1239.1 779.2,1237.6 780.1,1236.0 781.0,1234.5 781.9,1232.9 782.8,1231.4 783.7,1229.8 784.7,1228.1 785.6,1226.5 786.5,1225.0 787.4,1223.4 788.3,1222.0 789.1,1220.7 789.8,1219.4 790.5,1218.2 791.2,1217.1 791.8,1216.0 792.4,1215.0 793.0,1214.1 793.6,1213.2 794.2,1212.5 794.7,1211.8 795.2,1211.2 795.7,1210.6 796.2,1210.2 796.7,1209.8 797.2,1209.6 797.7,1209.4 798.3,1209.4 798.8,1209.5 799.5,1209.8 800.1,1210.2 800.7,1210.7 801.4,1211.3 802.1,1212.0 802.7,1212.7 803.4,1213.5 804.0,1214.3 804.6,1215.1 805.3,1216.0 805.9,1216.9 806.6,1218.0 807.2,1219.1 807.8,1220.3 808.5,1221.7 809.1,1223.2 809.8,1224.8 810.4,1226.5 811.0,1228.3 811.7,1230.1 812.3,1232.1 813.0,1234.0 813.6,1236.0 814.2,1238.0 814.8,1240.1 815.5,1242.3 816.1,1244.6 816.7,1246.8 817.4,1249.0 818.0,1251.2 818.7,1253.4 819.4,1255.5 820.2,1257.6 820.9,1259.7 821.7,1261.7 822.5,1263.8 823.3,1265.8 824.1,1267.8 824.8,1269.7 825.6,1271.7 826.4,1273.6 827.2,1275.6 828.0,1277.5 828.8,1279.3 829.6,1281.1 830.3,1282.6 831.0,1284.0 831.6,1285.3 832.1,1286.4 832.7,1287.3 833.1,1288.2 833.6,1288.9 834.1,1289.6 834.6,1290.1 835.1,1290.6 835.6,1291.0 836.1,1291.3 836.6,1291.6 837.0,1291.8 837.5,1291.8 838.1,1291.7 838.6,1291.5 839.2,1291.2 839.7,1290.7 840.4,1290.1 841.0,1289.3 841.6,1288.4 842.3,1287.4 843.0,1286.4 843.6,1285.2 844.3,1284.0 844.9,1282.8 845.5,1281.5 846.2,1280.1 846.8,1278.6 847.5,1277.1 848.1,1275.4 848.7,1273.6 849.4,1271.8 850.0,1269.8 850.7,1267.8 851.3,1265.7 851.9,1263.5 852.6,1261.1 853.2,1258.7 853.9,1256.1 854.5,1253.4 855.1,1250.5 855.8,1247.4 856.5,1244.3 857.1,1241.0 857.8,1237.6 858.4,1234.1 859.0,1230.5 859.6,1226.8 860.2,1223.0 860.7,1219.0 861.2,1215.0 861.7,1210.8 862.2,1206.6 862.7,1202.4 863.2,1198.2 863.7,1194.1" fill="none" stroke="#000" stroke-width="4.6" stroke-linejoin="round"/>
<polyline points="552.4,1360.7 556.6,1360.7 556.6,1360.7 561.0,1360.7 561.0,1357.3 565.4,1357.3 565.4,1355.6 569.8,1355.6 569.8,1344.4 574.2,1344.4 574.2,1330.1 578.6,1330.1 578.6,1314.3 583.0,1314.3 583.0,1293.3 587.3,1293.3 587.3,1273.4 591.7,1273.4 591.7,1253.4 596.1,1253.4 596.1,1243.1 600.5,1243.1 600.5,1259.1 604.9,1259.1 604.9,1262.6 609.3,1262.6 609.3,1267.7 613.7,1267.7 613.7,1272.8 618.1,1272.8 618.1,1276.3 622.5,1276.3 622.5,1283.0 626.9,1283.0 626.9,1289.2 631.3,1289.2 631.3,1295.3 635.7,1295.3 635.7,1300.0 640.1,1300.0 640.1,1303.5 644.5,1303.5 644.5,1313.1 648.9,1313.1 648.9,1326.6 653.3,1326.6 653.3,1337.6 657.7,1337.6 657.7,1341.3 662.0,1341.3 662.0,1338.2 666.4,1338.2 666.4,1336.8 670.8,1336.8 670.8,1332.7 675.2,1332.7 675.2,1332.1 679.6,1332.1 679.6,1330.1 684.0,1330.1 684.0,1333.1 688.4,1333.1 688.4,1336.2 692.8,1336.2 692.8,1336.2 697.2,1336.2 697.2,1330.7 701.6,1330.7 701.6,1321.3 706.0,1321.3 706.0,1310.6 710.4,1310.6 710.4,1304.1 714.8,1304.1 714.8,1300.8 719.2,1300.8 719.2,1304.5 723.6,1304.5 723.6,1307.6 728.0,1307.6 728.0,1307.6 732.3,1307.6 732.3,1307.0 736.7,1307.0 736.7,1306.5 741.1,1306.5 741.1,1308.2 745.5,1308.2 745.5,1304.5 749.9,1304.5 749.9,1288.1 754.3,1288.1 754.3,1274.8 758.7,1274.8 758.7,1251.7 763.1,1251.7 763.1,1234.6 767.5,1234.6 767.5,1224.3 771.9,1224.3 771.9,1227.2 776.3,1227.2 776.3,1228.4 780.7,1228.4 780.7,1238.0 785.1,1238.0 785.1,1253.4 789.5,1253.4 789.5,1268.7 793.9,1268.7 793.9,1272.8 798.3,1272.8 798.3,1275.5 802.7,1275.5 802.7,1270.8 807.0,1270.8 807.0,1262.6 811.4,1262.6 811.4,1245.6 815.8,1245.6 815.8,1240.1 820.2,1240.1 820.2,1240.1 824.6,1240.1 824.6,1250.9 829.0,1250.9 829.0,1257.1 833.4,1257.1 833.4,1273.4 837.8,1273.4 837.8,1289.2 842.2,1289.2 842.2,1312.7 846.6,1312.7 846.6,1326.0 851.0,1326.0 851.0,1337.2 855.4,1337.2 855.4,1344.4 859.8,1344.4 859.8,1351.7 864.2,1351.7" fill="none" stroke="#a2392c" stroke-width="3.9" stroke-linejoin="round"/>
</svg>
<rect x="517.3" y="1006.1" width="347.1" height="405.7" fill="none" stroke="#333" stroke-width="1.4"/>
<text x="650.8" y="993.1" font-size="25.9" textLength="105.8" lengthAdjust="spacingAndGlyphs">Salvador</text>
<path d="M562.2 1411.8V1423.2" stroke="#333" stroke-width="1.6"/>
<text transform="translate(576.8 1446.3) rotate(-45)" font-size="27" text-anchor="end">Apr 20</text>
<path d="M619.4 1411.8V1423.2" stroke="#333" stroke-width="1.6"/>
<text transform="translate(633.9 1446.3) rotate(-45)" font-size="27" text-anchor="end">Jul 20</text>
<path d="M677.1 1411.8V1423.2" stroke="#333" stroke-width="1.6"/>
<text transform="translate(691.6 1446.3) rotate(-45)" font-size="27" text-anchor="end">Oct 20</text>
<path d="M734.9 1411.8V1423.2" stroke="#333" stroke-width="1.6"/>
<text transform="translate(749.4 1446.3) rotate(-45)" font-size="27" text-anchor="end">Jan 21</text>
<path d="M791.4 1411.8V1423.2" stroke="#333" stroke-width="1.6"/>
<text transform="translate(805.9 1446.3) rotate(-45)" font-size="27" text-anchor="end">Apr 21</text>
<path d="M848.5 1411.8V1423.2" stroke="#333" stroke-width="1.6"/>
<text transform="translate(863.0 1446.3) rotate(-45)" font-size="27" text-anchor="end">Jul 21</text>
</g>
<g>
<svg x="886.1" y="1006.1" width="347.1" height="405.7" viewBox="886.1 1006.1 347.1 405.7" overflow="hidden">
<path d="M902.5 1006.1V1411.8M959.6 1006.1V1411.8M1017.0 1006.1V1411.8M1074.8 1006.1V1411.8M1131.9 1006.1V1411.8M1188.7 1006.1V1411.8M886.1 1353.0H1233.2M886.1 1272.2H1233.2M886.1 1191.4H1233.2M886.1 1110.6H1233.2M886.1 1029.8H1233.2" stroke="#ebebeb" stroke-width="2.1" fill="none"/>
<path d="M886.1 1393.4H1233.2M886.1 1312.6H1233.2M886.1 1231.8H1233.2M886.1 1151.0H1233.2M886.1 1070.2H1233.2" stroke="#ebebeb" stroke-width="3.8" fill="none"/>
<path d="M931.1 1006.1V1411.8M988.2 1006.1V1411.8M1045.9 1006.1V1411.8M1103.7 1006.1V1411.8M1160.2 1006.1V1411.8M1217.3 1006.1V1411.8" stroke="#ebebeb" stroke-width="4.4" fill="none"/>
<path d="M1115.1 1010.1V1411.8" stroke="#000" stroke-width="4.8" stroke-dasharray="4.4 4.26" fill="none"/>
<polygon points="930.4,1259.5 930.9,1257.7 931.4,1255.9 931.8,1254.1 932.3,1252.2 932.7,1250.4 933.2,1248.6 933.6,1246.9 934.1,1245.2 934.6,1243.5 935.1,1241.9 935.6,1240.4 936.1,1238.8 936.6,1237.3 937.1,1235.8 937.7,1234.3 938.2,1232.9 938.8,1231.5 939.4,1230.0 940.1,1228.6 940.7,1227.2 941.4,1225.8 942.0,1224.6 942.7,1223.6 943.3,1222.7 944.0,1222.0 944.6,1221.4 945.2,1221.0 945.9,1220.7 946.5,1220.5 947.2,1220.4 947.8,1220.5 948.4,1220.7 949.1,1221.0 949.7,1221.6 950.4,1222.4 951.0,1223.2 951.6,1224.1 952.3,1225.1 952.9,1226.0 953.6,1226.8 954.2,1227.6 954.8,1228.3 955.4,1229.1 956.0,1229.9 956.7,1230.7 957.3,1231.4 958.0,1232.2 958.7,1232.9 959.4,1233.7 960.1,1234.5 960.9,1235.2 961.7,1236.0 962.5,1236.8 963.2,1237.5 964.0,1238.1 964.8,1238.7 965.6,1239.1 966.3,1239.6 967.1,1240.0 967.9,1240.4 968.6,1240.7 969.4,1240.9 970.2,1241.0 970.9,1241.1 971.7,1241.1 972.5,1240.9 973.2,1240.7 974.0,1240.5 974.8,1240.1 975.5,1239.8 976.3,1239.4 977.1,1239.1 977.8,1238.7 978.6,1238.2 979.4,1237.8 980.2,1237.3 981.0,1236.8 981.7,1236.3 982.5,1235.8 983.2,1235.4 983.9,1235.0 984.6,1234.7 985.2,1234.5 985.8,1234.2 986.4,1233.9 987.1,1233.5 987.7,1232.8 988.3,1231.9 989.0,1230.7 989.6,1229.2 990.2,1227.4 990.9,1225.6 991.5,1223.7 992.2,1221.8 992.8,1220.1 993.4,1218.6 994.1,1217.3 994.7,1216.0 995.3,1214.7 996.0,1213.6 996.6,1212.5 997.3,1211.6 997.9,1210.7 998.5,1210.0 999.2,1209.4 999.8,1208.9 1000.5,1208.5 1001.1,1208.2 1001.7,1208.0 1002.4,1207.9 1003.0,1208.1 1003.7,1208.4 1004.3,1208.9 1004.9,1209.6 1005.6,1210.5 1006.2,1211.5 1006.8,1212.6 1007.5,1213.9 1008.1,1215.2 1008.8,1216.6 1009.4,1218.0 1010.0,1219.6 1010.6,1221.2 1011.3,1223.0 1011.9,1224.8 1012.5,1226.7 1013.2,1228.8 1013.9,1230.9 1014.6,1233.1 1015.3,1235.5 1016.1,1238.0 1016.9,1240.6 1017.7,1243.2 1018.5,1245.9 1019.2,1248.6 1020.0,1251.3 1020.8,1254.1 1021.5,1256.9 1022.3,1259.8 1023.1,1262.7 1023.8,1265.6 1024.6,1268.4 1025.4,1271.2 1026.1,1273.8 1026.9,1276.4 1027.7,1278.8 1028.4,1281.3 1029.2,1283.6 1030.0,1285.9 1030.8,1288.1 1031.5,1290.2 1032.3,1292.2 1033.1,1294.2 1033.8,1296.2 1034.6,1298.1 1035.4,1299.9 1036.1,1301.5 1036.9,1303.1 1037.7,1304.4 1038.4,1305.5 1039.2,1306.4 1040.0,1307.1 1040.7,1307.5 1041.5,1307.8 1042.3,1308.0 1043.0,1308.1 1043.8,1308.2 1044.6,1308.2 1045.3,1308.1 1046.1,1308.0 1046.9,1307.9 1047.6,1307.6 1048.4,1307.2 1049.2,1306.8 1049.9,1306.2 1050.7,1305.5 1051.5,1304.7 1052.2,1303.8 1053.0,1302.7 1053.8,1301.5 1054.5,1300.3 1055.3,1299.0 1056.1,1297.7 1056.8,1296.3 1057.6,1294.9 1058.3,1293.5 1059.1,1292.0 1059.8,1290.5 1060.6,1288.9 1061.4,1287.3 1062.1,1285.7 1063.0,1284.0 1063.8,1282.4 1064.7,1280.7 1065.6,1278.9 1066.5,1277.1 1067.4,1275.3 1068.3,1273.5 1069.2,1271.6 1070.1,1269.7 1071.0,1267.8 1071.9,1265.9 1072.8,1263.9 1073.7,1261.9 1074.6,1259.9 1075.5,1257.8 1076.4,1255.6 1077.3,1253.4 1078.2,1251.0 1079.1,1248.5 1080.0,1246.0 1080.9,1243.4 1081.8,1240.8 1082.7,1238.1 1083.6,1235.5 1084.4,1232.9 1085.2,1230.4 1086.0,1227.9 1086.8,1225.3 1087.6,1222.8 1088.3,1220.3 1089.1,1217.7 1089.8,1215.1 1090.6,1212.5 1091.3,1209.7 1092.1,1206.8 1092.9,1203.8 1093.7,1200.8 1094.5,1197.8 1095.2,1195.0 1096.0,1192.4 1096.7,1190.0 1097.4,1187.8 1098.1,1185.9 1098.7,1184.1 1099.3,1182.5 1099.9,1181.0 1100.6,1179.5 1101.2,1178.1 1101.8,1176.7 1102.5,1175.4 1103.1,1174.1 1103.7,1173.0 1104.4,1172.0 1105.0,1170.9 1105.6,1169.8 1106.3,1168.7 1106.9,1167.5 1107.6,1166.1 1108.2,1164.7 1108.8,1163.1 1109.5,1161.6 1110.1,1160.1 1110.8,1158.7 1111.4,1157.4 1112.0,1156.2 1112.7,1155.3 1113.3,1154.4 1114.0,1153.6 1114.6,1153.0 1115.2,1152.4 1115.9,1151.9 1116.5,1151.5 1117.2,1151.1 1117.8,1150.8 1118.4,1150.6 1119.1,1150.4 1119.7,1150.3 1120.3,1150.3 1121.0,1150.4 1121.6,1150.7 1122.3,1151.1 1122.9,1151.7 1123.5,1152.5 1124.1,1153.5 1124.8,1154.6 1125.4,1155.7 1126.0,1156.9 1126.7,1158.1 1127.4,1159.3 1128.1,1160.5 1128.8,1161.7 1129.6,1162.9 1130.3,1164.2 1131.1,1165.5 1131.9,1166.9 1132.7,1168.2 1133.5,1169.5 1134.4,1170.9 1135.3,1172.3 1136.2,1173.8 1137.1,1175.2 1138.0,1176.7 1138.9,1178.1 1139.8,1179.5 1140.7,1180.8 1141.5,1182.0 1142.3,1183.2 1143.0,1184.3 1143.8,1185.4 1144.5,1186.5 1145.3,1187.7 1146.0,1188.8 1146.8,1190.0 1147.6,1191.2 1148.3,1192.5 1149.1,1193.9 1149.8,1195.2 1150.6,1196.5 1151.3,1197.8 1152.1,1199.1 1152.9,1200.2 1153.8,1201.2 1154.7,1202.2 1155.6,1203.1 1156.5,1204.0 1157.4,1204.8 1158.4,1205.6 1159.2,1206.5 1160.1,1207.4 1160.9,1208.2 1161.7,1209.0 1162.5,1209.8 1163.2,1210.6 1164.0,1211.5 1164.7,1212.4 1165.5,1213.4 1166.2,1214.5 1167.0,1215.8 1167.8,1217.2 1168.5,1218.7 1169.3,1220.3 1170.1,1222.0 1170.8,1223.6 1171.6,1225.2 1172.4,1226.8 1173.1,1228.4 1173.9,1230.0 1174.7,1231.6 1175.4,1233.2 1176.2,1234.8 1177.0,1236.4 1177.7,1237.8 1178.5,1239.1 1179.3,1240.2 1180.1,1241.4 1180.8,1242.4 1181.6,1243.4 1182.4,1244.3 1183.2,1245.1 1183.9,1245.7 1184.6,1246.2 1185.3,1246.6 1186.0,1246.8 1186.6,1246.9 1187.2,1246.9 1187.8,1246.8 1188.4,1246.6 1189.1,1246.4 1189.7,1246.2 1190.5,1246.0 1191.2,1245.8 1192.0,1245.5 1192.8,1245.2 1193.5,1244.8 1194.3,1244.3 1195.1,1243.8 1195.9,1243.1 1196.7,1242.4 1197.4,1241.7 1198.2,1240.8 1199.0,1239.9 1199.7,1238.9 1200.5,1237.7 1201.3,1236.4 1202.0,1235.0 1202.8,1233.4 1203.6,1231.6 1204.3,1229.8 1205.1,1227.8 1205.9,1225.7 1206.6,1223.5 1207.4,1221.1 1208.2,1218.6 1208.9,1216.0 1209.7,1213.2 1210.5,1210.4 1211.3,1207.4 1212.1,1204.2 1212.8,1201.0 1213.6,1197.6 1214.3,1194.1 1215.0,1190.4 1215.6,1186.5 1216.3,1182.4 1216.9,1178.2 1217.6,1174.0 1218.2,1169.7 1218.8,1165.5 1219.4,1161.3 1220.0,1157.3 1220.6,1153.2 1221.2,1149.1 1221.8,1145.0 1222.4,1140.9 1222.9,1136.8 1223.5,1132.7 1224.1,1128.6 1224.1,1267.7 1223.5,1268.7 1222.9,1269.5 1222.4,1270.4 1221.8,1271.3 1221.2,1272.2 1220.6,1273.2 1220.0,1274.5 1219.4,1275.9 1218.8,1277.5 1218.2,1279.3 1217.6,1281.2 1216.9,1283.3 1216.3,1285.4 1215.6,1287.7 1215.0,1289.9 1214.3,1292.2 1213.6,1294.6 1212.8,1297.1 1212.1,1299.7 1211.3,1302.3 1210.5,1305.0 1209.7,1307.6 1208.9,1310.2 1208.2,1312.7 1207.4,1315.1 1206.6,1317.6 1205.9,1320.0 1205.1,1322.5 1204.3,1324.8 1203.6,1327.0 1202.8,1329.1 1202.0,1331.1 1201.3,1332.9 1200.5,1334.6 1199.7,1336.1 1199.0,1337.6 1198.2,1339.0 1197.4,1340.2 1196.7,1341.3 1195.9,1342.3 1195.1,1343.2 1194.3,1343.9 1193.5,1344.5 1192.8,1344.9 1192.0,1345.3 1191.2,1345.7 1190.5,1346.0 1189.7,1346.4 1189.1,1346.9 1188.4,1347.3 1187.7,1347.8 1187.1,1348.2 1186.4,1348.6 1185.8,1348.9 1185.2,1349.1 1184.6,1349.1 1184.1,1349.0 1183.6,1348.8 1183.1,1348.5 1182.6,1348.0 1182.1,1347.5 1181.6,1346.9 1181.1,1346.2 1180.5,1345.4 1180.0,1344.4 1179.4,1343.4 1178.7,1342.1 1178.1,1340.8 1177.5,1339.4 1176.8,1338.0 1176.1,1336.6 1175.4,1335.2 1174.7,1333.7 1174.0,1332.2 1173.2,1330.6 1172.4,1329.0 1171.6,1327.4 1170.9,1325.9 1170.1,1324.4 1169.3,1322.9 1168.5,1321.5 1167.8,1320.1 1167.0,1318.7 1166.2,1317.4 1165.5,1316.1 1164.7,1314.9 1163.9,1313.7 1163.2,1312.7 1162.4,1311.7 1161.6,1310.9 1160.9,1310.1 1160.1,1309.4 1159.3,1308.7 1158.6,1308.0 1157.8,1307.3 1157.0,1306.5 1156.3,1305.8 1155.5,1305.1 1154.7,1304.4 1154.0,1303.7 1153.2,1302.9 1152.4,1302.2 1151.7,1301.3 1150.9,1300.4 1150.1,1299.4 1149.4,1298.4 1148.6,1297.3 1147.9,1296.1 1147.1,1294.9 1146.4,1293.7 1145.6,1292.5 1144.8,1291.2 1143.9,1289.9 1143.0,1288.6 1142.1,1287.2 1141.2,1285.8 1140.3,1284.3 1139.3,1282.9 1138.5,1281.4 1137.6,1280.0 1136.8,1278.5 1136.0,1277.0 1135.2,1275.4 1134.4,1273.9 1133.6,1272.3 1132.9,1270.8 1132.2,1269.2 1131.5,1267.7 1130.8,1266.1 1130.1,1264.5 1129.5,1262.9 1128.8,1261.3 1128.2,1259.7 1127.6,1258.2 1127.0,1256.8 1126.4,1255.4 1125.7,1254.1 1125.1,1252.8 1124.4,1251.6 1123.8,1250.4 1123.2,1249.3 1122.5,1248.4 1121.9,1247.7 1121.2,1247.2 1120.6,1247.0 1120.0,1247.0 1119.3,1247.1 1118.7,1247.4 1118.0,1247.9 1117.4,1248.6 1116.8,1249.4 1116.1,1250.3 1115.5,1251.5 1114.9,1252.8 1114.2,1254.4 1113.6,1256.1 1112.9,1257.9 1112.3,1259.8 1111.7,1261.7 1111.0,1263.6 1110.4,1265.6 1109.8,1267.7 1109.1,1269.9 1108.5,1272.1 1107.9,1274.3 1107.3,1276.4 1106.6,1278.3 1105.9,1280.0 1105.2,1281.3 1104.4,1282.4 1103.7,1283.4 1102.9,1284.2 1102.1,1285.0 1101.3,1285.9 1100.5,1286.9 1099.8,1288.1 1099.0,1289.6 1098.2,1291.1 1097.5,1292.7 1096.7,1294.4 1095.9,1296.2 1095.2,1298.2 1094.4,1300.2 1093.6,1302.5 1092.9,1304.9 1092.1,1307.6 1091.3,1310.4 1090.6,1313.3 1089.8,1316.3 1089.0,1319.3 1088.3,1322.2 1087.5,1324.9 1086.7,1327.7 1086.0,1330.4 1085.2,1333.1 1084.4,1335.8 1083.7,1338.4 1082.9,1340.9 1082.1,1343.2 1081.4,1345.4 1080.6,1347.3 1079.8,1349.0 1079.1,1350.6 1078.3,1352.0 1077.5,1353.4 1076.8,1354.8 1076.0,1356.2 1075.2,1357.7 1074.5,1359.2 1073.7,1360.7 1072.9,1362.2 1072.2,1363.7 1071.4,1365.2 1070.6,1366.7 1069.9,1368.3 1069.1,1369.9 1068.3,1371.6 1067.6,1373.4 1066.8,1375.2 1066.0,1377.1 1065.3,1378.9 1064.5,1380.8 1063.7,1382.5 1063.0,1384.3 1062.2,1385.9 1061.4,1387.5 1060.7,1389.1 1059.9,1390.6 1059.1,1392.2 1058.4,1393.6 1057.6,1395.1 1056.8,1396.5 1056.1,1397.9 1055.3,1399.3 1054.5,1400.7 1053.7,1402.0 1052.9,1403.3 1052.2,1404.6 1051.4,1405.7 1050.7,1406.7 1050.0,1407.7 1049.3,1408.7 1048.7,1409.6 1048.1,1410.5 1047.4,1411.2 1046.8,1411.8 1046.2,1412.2 1045.6,1412.5 1044.9,1412.5 1044.3,1412.4 1043.7,1412.1 1043.1,1411.6 1042.5,1411.1 1041.8,1410.4 1041.2,1409.6 1040.5,1408.8 1039.7,1407.8 1039.0,1406.7 1038.2,1405.5 1037.5,1404.2 1036.7,1402.8 1035.9,1401.4 1035.1,1400.0 1034.3,1398.6 1033.6,1397.2 1032.8,1395.7 1032.0,1394.3 1031.3,1392.8 1030.5,1391.3 1029.7,1389.7 1029.0,1388.0 1028.2,1386.3 1027.4,1384.5 1026.7,1382.5 1025.9,1380.6 1025.1,1378.5 1024.4,1376.4 1023.6,1374.3 1022.8,1372.1 1022.1,1369.9 1021.3,1367.7 1020.5,1365.4 1019.7,1363.1 1018.9,1360.7 1018.2,1358.4 1017.4,1356.0 1016.6,1353.8 1015.9,1351.5 1015.2,1349.4 1014.6,1347.2 1013.9,1345.1 1013.3,1343.0 1012.7,1340.9 1012.1,1338.9 1011.4,1337.0 1010.8,1335.2 1010.2,1333.4 1009.5,1331.6 1008.8,1329.9 1008.2,1328.3 1007.5,1326.8 1006.9,1325.3 1006.3,1324.0 1005.7,1322.9 1005.1,1321.9 1004.6,1321.1 1004.1,1320.4 1003.6,1319.8 1003.1,1319.4 1002.6,1319.0 1002.1,1318.7 1001.6,1318.4 1001.1,1318.2 1000.6,1318.1 1000.1,1318.1 999.6,1318.2 999.1,1318.3 998.5,1318.5 998.0,1318.8 997.5,1319.2 997.0,1319.7 996.5,1320.2 996.0,1320.8 995.5,1321.5 995.0,1322.3 994.5,1323.1 994.0,1324.0 993.4,1324.9 992.8,1326.0 992.2,1327.3 991.6,1328.7 990.9,1330.2 990.3,1331.6 989.6,1332.9 989.0,1334.0 988.3,1334.8 987.7,1335.3 987.0,1335.5 986.4,1335.6 985.8,1335.6 985.1,1335.5 984.5,1335.3 983.8,1335.2 983.2,1335.2 982.6,1335.1 982.0,1335.1 981.3,1335.0 980.7,1334.9 980.1,1334.8 979.4,1334.7 978.8,1334.7 978.1,1334.8 977.4,1334.9 976.6,1335.2 975.9,1335.5 975.1,1335.9 974.3,1336.2 973.5,1336.5 972.7,1336.7 972.0,1336.8 971.2,1336.8 970.4,1336.7 969.7,1336.6 968.9,1336.4 968.1,1336.1 967.4,1335.8 966.6,1335.5 965.8,1335.2 965.1,1334.8 964.3,1334.4 963.5,1333.9 962.8,1333.4 962.0,1332.9 961.2,1332.3 960.5,1331.7 959.7,1331.1 958.9,1330.4 958.1,1329.7 957.3,1328.9 956.6,1328.0 955.8,1327.2 955.0,1326.4 954.3,1325.7 953.6,1324.9 952.9,1324.3 952.2,1323.5 951.6,1322.8 950.9,1322.1 950.3,1321.5 949.7,1321.0 949.1,1320.6 948.4,1320.4 947.8,1320.5 947.2,1320.6 946.5,1321.0 945.9,1321.4 945.2,1321.9 944.6,1322.5 944.0,1323.2 943.3,1323.9 942.7,1324.7 942.0,1325.6 941.4,1326.6 940.7,1327.7 940.1,1328.8 939.4,1329.9 938.8,1331.0 938.2,1332.1 937.7,1333.2 937.1,1334.3 936.6,1335.4 936.1,1336.6 935.6,1337.7 935.1,1338.9 934.6,1340.1 934.1,1341.3 933.6,1342.5 933.2,1343.8 932.7,1345.1 932.3,1346.4 931.8,1347.7 931.4,1349.0 930.9,1350.2 930.4,1351.5" fill="#b6b6b6" fill-opacity="0.81"/>
<polyline points="932.1,1296.3 932.7,1294.8 933.4,1293.2 934.0,1291.6 934.6,1290.1 935.3,1288.5 935.9,1287.0 936.6,1285.5 937.2,1284.0 937.8,1282.6 938.5,1281.2 939.1,1279.8 939.7,1278.5 940.3,1277.1 941.0,1275.9 941.6,1274.8 942.3,1273.8 943.0,1272.9 943.7,1272.1 944.5,1271.4 945.2,1270.8 945.9,1270.3 946.7,1269.8 947.4,1269.5 948.0,1269.3 948.6,1269.3 949.2,1269.3 949.8,1269.5 950.3,1269.8 950.9,1270.1 951.4,1270.6 951.9,1271.2 952.5,1271.8 953.1,1272.5 953.7,1273.5 954.4,1274.6 955.0,1275.7 955.6,1276.9 956.3,1278.0 956.9,1279.0 957.6,1280.0 958.4,1280.8 959.1,1281.5 959.9,1282.2 960.6,1282.9 961.4,1283.5 962.2,1284.0 963.0,1284.6 963.8,1285.1 964.5,1285.5 965.3,1286.0 966.1,1286.3 966.8,1286.7 967.6,1287.0 968.4,1287.3 969.1,1287.5 969.9,1287.7 970.7,1287.9 971.4,1288.0 972.2,1288.1 973.0,1288.2 973.7,1288.2 974.5,1288.2 975.3,1288.2 976.0,1288.1 976.8,1288.0 977.6,1287.9 978.4,1287.7 979.2,1287.5 980.0,1287.3 980.7,1287.0 981.5,1286.8 982.2,1286.5 982.9,1286.3 983.6,1286.1 984.2,1285.9 984.9,1285.7 985.5,1285.4 986.1,1285.1 986.7,1284.6 987.3,1284.0 987.8,1283.3 988.4,1282.5 988.9,1281.5 989.3,1280.4 989.8,1279.3 990.3,1278.2 990.8,1277.0 991.4,1275.9 992.0,1274.6 992.6,1273.3 993.3,1271.9 993.9,1270.4 994.6,1269.0 995.3,1267.7 995.9,1266.6 996.5,1265.6 997.1,1264.9 997.6,1264.3 998.1,1263.7 998.6,1263.3 999.1,1263.0 999.5,1262.8 1000.1,1262.7 1000.6,1262.6 1001.1,1262.5 1001.7,1262.6 1002.3,1262.7 1002.9,1262.8 1003.5,1263.1 1004.1,1263.5 1004.7,1264.0 1005.3,1264.6 1005.9,1265.4 1006.4,1266.3 1007.0,1267.2 1007.5,1268.3 1008.1,1269.5 1008.6,1270.9 1009.2,1272.3 1009.8,1273.8 1010.4,1275.5 1011.0,1277.4 1011.7,1279.3 1012.3,1281.4 1013.0,1283.6 1013.6,1285.8 1014.3,1288.0 1014.9,1290.2 1015.5,1292.4 1016.2,1294.6 1016.8,1296.9 1017.4,1299.3 1018.0,1301.6 1018.7,1303.9 1019.3,1306.3 1020.0,1308.6 1020.7,1310.9 1021.5,1313.2 1022.2,1315.6 1023.0,1317.9 1023.8,1320.2 1024.6,1322.5 1025.4,1324.8 1026.1,1327.0 1026.9,1329.2 1027.7,1331.3 1028.4,1333.5 1029.2,1335.6 1030.0,1337.6 1030.8,1339.6 1031.5,1341.5 1032.3,1343.4 1033.1,1345.1 1033.8,1346.9 1034.6,1348.6 1035.4,1350.3 1036.1,1351.8 1036.9,1353.3 1037.7,1354.5 1038.4,1355.6 1039.2,1356.5 1040.0,1357.3 1040.8,1357.8 1041.6,1358.3 1042.3,1358.7 1043.1,1358.9 1043.8,1359.1 1044.6,1359.3 1045.2,1359.4 1045.9,1359.5 1046.5,1359.5 1047.1,1359.4 1047.7,1359.2 1048.3,1358.9 1049.0,1358.6 1049.7,1358.1 1050.4,1357.5 1051.1,1356.7 1051.9,1355.9 1052.7,1355.0 1053.5,1354.0 1054.2,1352.9 1055.0,1351.7 1055.8,1350.5 1056.6,1349.2 1057.3,1347.8 1058.1,1346.3 1058.8,1344.7 1059.6,1343.1 1060.3,1341.5 1061.1,1339.9 1061.9,1338.2 1062.8,1336.6 1063.7,1335.1 1064.5,1333.5 1065.5,1331.9 1066.4,1330.2 1067.3,1328.5 1068.2,1326.8 1069.1,1324.9 1070.0,1323.1 1070.9,1321.1 1071.8,1319.1 1072.7,1317.1 1073.6,1315.0 1074.5,1312.9 1075.4,1310.8 1076.3,1308.6 1077.2,1306.4 1078.1,1304.2 1079.0,1301.9 1079.9,1299.6 1080.8,1297.3 1081.7,1295.0 1082.6,1292.6 1083.4,1290.2 1084.2,1287.8 1085.0,1285.3 1085.8,1282.8 1086.5,1280.3 1087.3,1277.8 1088.0,1275.2 1088.8,1272.5 1089.5,1269.7 1090.3,1266.8 1091.1,1263.6 1091.9,1260.3 1092.7,1257.0 1093.5,1253.7 1094.2,1250.6 1095.0,1247.7 1095.7,1245.2 1096.4,1243.0 1097.0,1241.2 1097.7,1239.5 1098.3,1238.0 1098.9,1236.7 1099.5,1235.4 1100.2,1234.2 1100.8,1232.9 1101.4,1231.7 1102.1,1230.7 1102.8,1229.7 1103.4,1228.8 1104.1,1227.9 1104.7,1226.9 1105.3,1225.9 1105.9,1224.7 1106.5,1223.5 1107.0,1222.1 1107.5,1220.7 1108.0,1219.2 1108.5,1217.8 1109.0,1216.3 1109.5,1214.9 1110.0,1213.5 1110.5,1212.1 1111.0,1210.7 1111.5,1209.3 1112.0,1207.9 1112.5,1206.6 1113.0,1205.3 1113.5,1204.2 1114.1,1203.3 1114.7,1202.5 1115.3,1201.8 1116.0,1201.3 1116.6,1200.9 1117.3,1200.5 1118.0,1200.3 1118.6,1200.0 1119.2,1199.8 1119.7,1199.6 1120.3,1199.4 1120.8,1199.3 1121.2,1199.2 1121.7,1199.2 1122.2,1199.3 1122.7,1199.5 1123.3,1199.8 1123.9,1200.3 1124.5,1200.9 1125.1,1201.6 1125.7,1202.4 1126.4,1203.3 1127.0,1204.3 1127.7,1205.3 1128.4,1206.3 1129.1,1207.4 1129.8,1208.5 1130.6,1209.7 1131.3,1211.0 1132.1,1212.3 1132.9,1213.6 1133.7,1215.1 1134.5,1216.6 1135.4,1218.2 1136.3,1219.9 1137.1,1221.6 1138.0,1223.5 1139.0,1225.3 1139.9,1227.2 1140.8,1229.1 1141.7,1230.9 1142.6,1232.7 1143.5,1234.6 1144.4,1236.4 1145.3,1238.3 1146.2,1240.1 1147.1,1241.9 1148.0,1243.6 1148.8,1245.2 1149.7,1246.7 1150.4,1248.1 1151.2,1249.4 1151.9,1250.7 1152.7,1251.9 1153.4,1253.1 1154.2,1254.3 1155.0,1255.4 1155.8,1256.5 1156.7,1257.6 1157.6,1258.5 1158.5,1259.5 1159.4,1260.5 1160.3,1261.5 1161.2,1262.5 1162.1,1263.6 1163.0,1264.8 1163.9,1265.9 1164.8,1267.1 1165.7,1268.4 1166.6,1269.7 1167.5,1271.0 1168.4,1272.4 1169.3,1273.8 1170.2,1275.4 1171.1,1277.0 1172.0,1278.8 1172.9,1280.5 1173.8,1282.3 1174.7,1284.0 1175.6,1285.6 1176.5,1287.1 1177.3,1288.5 1178.1,1289.9 1178.9,1291.2 1179.7,1292.4 1180.5,1293.6 1181.2,1294.6 1181.9,1295.6 1182.6,1296.3 1183.2,1296.9 1183.7,1297.4 1184.2,1297.7 1184.7,1297.9 1185.2,1298.0 1185.6,1298.0 1186.1,1298.0 1186.7,1298.0 1187.3,1297.9 1187.8,1297.7 1188.4,1297.4 1189.0,1297.1 1189.7,1296.7 1190.3,1296.3 1191.0,1295.8 1191.8,1295.3 1192.6,1294.7 1193.5,1294.1 1194.4,1293.4 1195.3,1292.7 1196.3,1291.9 1197.2,1291.1 1198.1,1290.1 1199.0,1289.2 1199.8,1288.1 1200.6,1287.1 1201.3,1286.0 1202.1,1284.9 1202.8,1283.6 1203.6,1282.2 1204.3,1280.7 1205.1,1278.9 1205.9,1277.0 1206.6,1274.8 1207.4,1272.6 1208.2,1270.1 1208.9,1267.6 1209.7,1264.9 1210.5,1262.2 1211.2,1259.5 1212.0,1256.7 1212.8,1253.6 1213.6,1250.5 1214.4,1247.3 1215.2,1244.1 1216.0,1240.9 1216.7,1237.9 1217.4,1235.0 1218.0,1232.2 1218.5,1229.5 1219.1,1226.9 1219.6,1224.4 1220.1,1221.9 1220.5,1219.4 1221.0,1216.9 1221.4,1214.5 1221.9,1212.1 1222.3,1209.8 1222.7,1207.5 1223.0,1205.2 1223.4,1202.9 1223.8,1200.7 1224.1,1198.4 1224.5,1196.1" fill="none" stroke="#000" stroke-width="4.6" stroke-linejoin="round"/>
<polyline points="908.6,1361.3 912.2,1361.3 912.2,1369.9 916.6,1369.9 916.6,1358.1 921.0,1358.1 921.0,1349.5 925.4,1349.5 925.4,1331.1 929.8,1331.1 929.8,1297.3 934.2,1297.3 934.2,1290.2 938.6,1290.2 938.6,1244.2 943.0,1244.2 943.0,1220.4 947.4,1220.4 947.4,1219.9 951.8,1219.9 951.8,1260.5 956.1,1260.5 956.1,1294.3 960.5,1294.3 960.5,1309.6 964.9,1309.6 964.9,1324.9 969.3,1324.9 969.3,1319.8 973.7,1319.8 973.7,1330.1 978.1,1330.1 978.1,1336.8 982.5,1336.8 982.5,1355.2 986.9,1355.2 986.9,1363.4 991.3,1363.4 991.3,1375.1 995.7,1375.1 995.7,1375.7 1000.1,1375.7 1000.1,1376.1 1004.5,1376.1 1004.5,1374.0 1008.9,1374.0 1008.9,1371.6 1013.3,1371.6 1013.3,1372.4 1017.7,1372.4 1017.7,1372.4 1022.1,1372.4 1022.1,1374.0 1026.5,1374.0 1026.5,1375.1 1030.8,1375.1 1030.8,1373.6 1035.2,1373.6 1035.2,1373.6 1039.6,1373.6 1039.6,1373.0 1044.0,1373.0 1044.0,1375.1 1048.4,1375.1 1048.4,1376.5 1052.8,1376.5 1052.8,1371.6 1057.2,1371.6 1057.2,1364.2 1061.6,1364.2 1061.6,1358.1 1066.0,1358.1 1066.0,1355.6 1070.4,1355.6 1070.4,1360.7 1074.8,1360.7 1074.8,1368.3 1079.2,1368.3 1079.2,1368.3 1083.6,1368.3 1083.6,1365.8 1088.0,1365.8 1088.0,1357.7 1092.4,1357.7 1092.4,1362.2 1096.8,1362.2 1096.8,1347.9 1101.1,1347.9 1101.1,1329.4 1105.5,1329.4 1105.5,1312.7 1109.9,1312.7 1109.9,1302.5 1114.3,1302.5 1114.3,1298.4 1118.7,1298.4 1118.7,1276.3 1123.1,1276.3 1123.1,1269.7 1127.5,1269.7 1127.5,1246.8 1131.9,1246.8 1131.9,1235.0 1136.3,1235.0 1136.3,1216.6 1140.7,1216.6 1140.7,1226.8 1145.1,1226.8 1145.1,1219.6 1149.5,1219.6 1149.5,1229.9 1153.9,1229.9 1153.9,1247.6 1158.3,1247.6 1158.3,1260.5 1162.7,1260.5 1162.7,1271.8 1167.1,1271.8 1167.1,1273.4 1171.5,1273.4 1171.5,1275.5 1175.8,1275.5 1175.8,1277.9 1180.2,1277.9 1180.2,1269.7 1184.6,1269.7 1184.6,1258.5 1189.0,1258.5 1189.0,1250.9 1193.4,1250.9 1193.4,1247.6 1197.8,1247.6 1197.8,1249.3 1202.2,1249.3 1202.2,1267.7 1206.6,1267.7 1206.6,1287.1 1211.0,1287.1 1211.0,1309.0 1215.4,1309.0 1215.4,1319.8 1219.8,1319.8 1219.8,1326.0 1224.2,1326.0 1224.2,1333.1 1228.6,1333.1 1228.6,1336.7 1233.0,1336.7" fill="none" stroke="#927a62" stroke-width="3.9" stroke-linejoin="round"/>
</svg>
<rect x="886.1" y="1006.1" width="347.1" height="405.7" fill="none" stroke="#333" stroke-width="1.4"/>
<text x="1019.6" y="993.1" font-size="25.9" textLength="105.2" lengthAdjust="spacingAndGlyphs">São Luís</text>
<path d="M931.1 1411.8V1423.2" stroke="#333" stroke-width="1.6"/>
<text transform="translate(945.6 1446.3) rotate(-45)" font-size="27" text-anchor="end">Apr 20</text>
<path d="M988.2 1411.8V1423.2" stroke="#333" stroke-width="1.6"/>
<text transform="translate(1002.7 1446.3) rotate(-45)" font-size="27" text-anchor="end">Jul 20</text>
<path d="M1045.9 1411.8V1423.2" stroke="#333" stroke-width="1.6"/>
<text transform="translate(1060.4 1446.3) rotate(-45)" font-size="27" text-anchor="end">Oct 20</text>
<path d="M1103.7 1411.8V1423.2" stroke="#333" stroke-width="1.6"/>
<text transform="translate(1118.2 1446.3) rotate(-45)" font-size="27" text-anchor="end">Jan 21</text>
<path d="M1160.2 1411.8V1423.2" stroke="#333" stroke-width="1.6"/>
<text transform="translate(1174.7 1446.3) rotate(-45)" font-size="27" text-anchor="end">Apr 21</text>
<path d="M1217.3 1411.8V1423.2" stroke="#333" stroke-width="1.6"/>
<text transform="translate(1231.8 1446.3) rotate(-45)" font-size="27" text-anchor="end">Jul 21</text>
</g>
<g>
<svg x="1254.9" y="1006.1" width="347.1" height="405.7" viewBox="1254.9 1006.1 347.1 405.7" overflow="hidden">
<path d="M1271.3 1006.1V1411.8M1328.4 1006.1V1411.8M1385.8 1006.1V1411.8M1443.6 1006.1V1411.8M1500.7 1006.1V1411.8M1557.5 1006.1V1411.8M1254.9 1353.0H1602.0M1254.9 1272.2H1602.0M1254.9 1191.4H1602.0M1254.9 1110.6H1602.0M1254.9 1029.8H1602.0" stroke="#ebebeb" stroke-width="2.1" fill="none"/>
<path d="M1254.9 1393.4H1602.0M1254.9 1312.6H1602.0M1254.9 1231.8H1602.0M1254.9 1151.0H1602.0M1254.9 1070.2H1602.0" stroke="#ebebeb" stroke-width="3.8" fill="none"/>
<path d="M1299.9 1006.1V1411.8M1357.0 1006.1V1411.8M1414.7 1006.1V1411.8M1472.5 1006.1V1411.8M1529.0 1006.1V1411.8M1586.1 1006.1V1411.8" stroke="#ebebeb" stroke-width="4.4" fill="none"/>
<path d="M1492.3 1010.1V1411.8" stroke="#000" stroke-width="4.8" stroke-dasharray="4.4 4.26" fill="none"/>
<polygon points="1281.7,1238.7 1282.0,1240.2 1282.4,1241.7 1282.8,1243.2 1283.1,1244.8 1283.5,1246.3 1283.9,1247.9 1284.3,1249.6 1284.7,1251.3 1285.2,1253.2 1285.6,1255.2 1286.1,1257.2 1286.6,1259.3 1287.2,1261.5 1287.7,1263.6 1288.2,1265.7 1288.8,1267.7 1289.4,1269.7 1290.0,1271.7 1290.6,1273.7 1291.2,1275.7 1291.9,1277.7 1292.5,1279.6 1293.2,1281.4 1293.9,1283.0 1294.6,1284.6 1295.4,1286.0 1296.1,1287.4 1296.9,1288.7 1297.6,1289.9 1298.4,1291.1 1299.2,1292.2 1300.1,1293.3 1300.9,1294.2 1301.8,1295.2 1302.6,1296.1 1303.5,1296.9 1304.4,1297.6 1305.3,1298.3 1306.3,1298.9 1307.2,1299.4 1308.2,1299.8 1309.2,1300.0 1310.3,1300.1 1311.4,1300.2 1312.4,1300.3 1313.5,1300.3 1314.5,1300.3 1315.4,1300.4 1316.2,1300.5 1317.0,1300.6 1317.7,1300.6 1318.3,1300.6 1319.0,1300.7 1319.8,1300.9 1320.6,1301.1 1321.5,1301.4 1322.6,1301.9 1323.8,1302.5 1325.1,1303.2 1326.4,1304.0 1327.7,1304.7 1329.1,1305.5 1330.4,1306.3 1331.8,1307.0 1333.0,1307.6 1334.3,1308.2 1335.6,1308.8 1336.9,1309.5 1338.1,1310.0 1339.4,1310.6 1340.7,1311.2 1342.0,1311.7 1343.3,1312.1 1344.5,1312.6 1345.8,1313.0 1347.1,1313.4 1348.4,1313.8 1349.6,1314.1 1350.9,1314.4 1352.2,1314.7 1353.5,1315.0 1354.7,1315.3 1355.9,1315.5 1357.2,1315.7 1358.4,1315.9 1359.7,1316.1 1361.1,1316.2 1362.4,1316.4 1363.9,1316.4 1365.4,1316.5 1366.9,1316.5 1368.5,1316.5 1370.1,1316.5 1371.7,1316.4 1373.2,1316.4 1374.7,1316.4 1376.2,1316.3 1377.6,1316.2 1379.1,1316.0 1380.5,1315.9 1381.9,1315.8 1383.3,1315.7 1384.6,1315.7 1385.9,1315.7 1387.2,1315.9 1388.4,1316.1 1389.5,1316.4 1390.7,1316.8 1391.8,1317.1 1392.9,1317.5 1394.0,1318.0 1395.1,1318.4 1396.3,1318.9 1397.4,1319.4 1398.6,1319.9 1399.8,1320.5 1400.9,1321.0 1402.1,1321.6 1403.2,1322.3 1404.4,1322.9 1405.5,1323.6 1406.7,1324.3 1407.8,1325.1 1409.0,1325.8 1410.2,1326.6 1411.3,1327.3 1412.5,1328.0 1413.6,1328.6 1414.6,1329.2 1415.7,1329.7 1416.7,1330.2 1417.7,1330.7 1418.7,1331.1 1419.7,1331.5 1420.7,1331.8 1421.7,1332.1 1422.8,1332.3 1423.8,1332.5 1424.8,1332.7 1425.9,1332.8 1426.9,1332.8 1427.9,1332.8 1428.9,1332.8 1429.9,1332.7 1430.9,1332.6 1431.8,1332.5 1432.7,1332.3 1433.6,1332.0 1434.4,1331.8 1435.3,1331.4 1436.2,1331.1 1437.1,1330.7 1438.0,1330.2 1438.8,1329.7 1439.7,1329.1 1440.6,1328.5 1441.5,1327.9 1442.4,1327.3 1443.3,1326.6 1444.2,1326.0 1445.2,1325.3 1446.2,1324.6 1447.2,1323.9 1448.3,1323.1 1449.3,1322.4 1450.3,1321.7 1451.4,1321.1 1452.4,1320.4 1453.4,1319.9 1454.5,1319.4 1455.5,1318.9 1456.5,1318.4 1457.5,1318.0 1458.5,1317.6 1459.6,1317.2 1460.6,1316.8 1461.6,1316.4 1462.6,1316.0 1463.7,1315.7 1464.7,1315.4 1465.7,1315.1 1466.7,1314.8 1467.7,1314.6 1468.8,1314.3 1469.8,1314.1 1470.8,1313.9 1471.8,1313.7 1472.9,1313.6 1473.9,1313.4 1474.9,1313.2 1475.9,1313.0 1476.9,1312.7 1478.0,1312.3 1479.0,1311.9 1480.1,1311.5 1481.1,1311.1 1482.1,1310.6 1483.2,1310.0 1484.2,1309.4 1485.1,1308.6 1486.1,1307.7 1487.0,1306.7 1487.9,1305.6 1488.8,1304.5 1489.6,1303.3 1490.5,1302.0 1491.4,1300.7 1492.3,1299.4 1493.2,1298.0 1494.1,1296.6 1494.9,1295.1 1495.8,1293.5 1496.7,1291.9 1497.6,1290.3 1498.5,1288.7 1499.4,1287.1 1500.4,1285.5 1501.4,1283.8 1502.4,1282.1 1503.5,1280.3 1504.5,1278.6 1505.6,1277.0 1506.6,1275.3 1507.6,1273.8 1508.7,1272.4 1509.7,1270.9 1510.7,1269.5 1511.8,1268.1 1512.8,1266.8 1513.8,1265.7 1514.8,1264.6 1515.8,1263.6 1516.7,1262.8 1517.6,1262.1 1518.5,1261.5 1519.4,1261.0 1520.2,1260.6 1521.1,1260.2 1522.0,1259.9 1523.0,1259.5 1523.9,1259.1 1525.0,1258.7 1526.0,1258.4 1527.1,1258.0 1528.1,1257.8 1529.1,1257.6 1530.2,1257.5 1531.1,1257.5 1532.1,1257.6 1533.0,1257.8 1533.9,1258.2 1534.7,1258.6 1535.6,1259.0 1536.5,1259.5 1537.4,1260.0 1538.3,1260.5 1539.3,1261.0 1540.3,1261.6 1541.3,1262.1 1542.3,1262.7 1543.4,1263.3 1544.4,1264.0 1545.4,1264.6 1546.5,1265.2 1547.5,1265.9 1548.5,1266.5 1549.5,1267.2 1550.6,1267.8 1551.6,1268.5 1552.6,1269.2 1553.6,1270.0 1554.7,1270.8 1555.7,1271.6 1556.7,1272.4 1557.7,1273.3 1558.7,1274.2 1559.8,1275.1 1560.8,1276.0 1561.8,1277.0 1562.8,1277.9 1563.9,1278.9 1564.9,1279.9 1565.9,1280.9 1566.9,1281.9 1568.0,1282.9 1569.0,1284.0 1570.0,1285.0 1571.0,1286.1 1572.0,1287.2 1573.1,1288.3 1574.1,1289.5 1575.1,1290.6 1576.1,1291.8 1577.2,1293.0 1578.2,1294.1 1579.2,1295.3 1580.2,1296.5 1581.3,1297.7 1582.4,1299.0 1583.4,1300.2 1584.5,1301.4 1585.5,1302.6 1586.5,1303.6 1587.4,1304.5 1588.2,1305.3 1589.0,1306.0 1589.7,1306.7 1590.4,1307.2 1591.2,1307.7 1591.9,1308.1 1592.7,1308.4 1593.5,1308.6 1594.4,1308.6 1595.4,1308.5 1596.4,1308.3 1597.5,1307.9 1598.5,1307.6 1599.6,1307.2 1600.7,1306.8 1601.7,1306.5 1601.7,1378.1 1600.9,1376.3 1600.2,1374.5 1599.5,1372.7 1598.8,1370.9 1598.0,1369.1 1597.2,1367.3 1596.4,1365.5 1595.6,1363.8 1594.6,1362.1 1593.7,1360.3 1592.6,1358.6 1591.6,1356.9 1590.5,1355.2 1589.5,1353.6 1588.4,1352.0 1587.4,1350.5 1586.4,1349.1 1585.3,1347.7 1584.3,1346.4 1583.3,1345.1 1582.3,1343.9 1581.2,1342.7 1580.2,1341.5 1579.2,1340.3 1578.2,1339.1 1577.2,1337.9 1576.1,1336.7 1575.1,1335.6 1574.1,1334.4 1573.1,1333.3 1572.0,1332.2 1571.0,1331.1 1570.0,1330.0 1569.0,1329.0 1568.0,1327.9 1566.9,1326.9 1565.9,1325.9 1564.9,1324.9 1563.9,1323.9 1562.8,1322.9 1561.8,1321.9 1560.8,1320.8 1559.8,1319.8 1558.7,1318.8 1557.7,1317.7 1556.7,1316.7 1555.7,1315.7 1554.7,1314.7 1553.6,1313.8 1552.6,1312.8 1551.6,1311.9 1550.6,1311.0 1549.5,1310.1 1548.5,1309.2 1547.5,1308.4 1546.5,1307.6 1545.4,1306.8 1544.4,1306.1 1543.4,1305.4 1542.3,1304.7 1541.3,1304.1 1540.3,1303.5 1539.3,1303.0 1538.3,1302.5 1537.4,1302.0 1536.4,1301.6 1535.5,1301.2 1534.7,1300.9 1533.8,1300.6 1532.9,1300.4 1532.0,1300.2 1531.1,1300.0 1530.2,1299.9 1529.4,1299.7 1528.5,1299.7 1527.6,1299.6 1526.7,1299.6 1525.8,1299.7 1524.9,1299.8 1524.0,1300.0 1523.1,1300.2 1522.2,1300.5 1521.3,1300.8 1520.4,1301.2 1519.5,1301.7 1518.6,1302.2 1517.7,1302.8 1516.8,1303.5 1515.9,1304.2 1515.1,1305.1 1514.2,1306.0 1513.3,1307.0 1512.4,1308.1 1511.5,1309.2 1510.6,1310.4 1509.7,1311.7 1508.7,1313.0 1507.7,1314.4 1506.6,1316.0 1505.6,1317.5 1504.5,1319.1 1503.5,1320.8 1502.5,1322.4 1501.5,1323.9 1500.5,1325.5 1499.6,1327.0 1498.7,1328.5 1497.8,1330.1 1497.0,1331.6 1496.1,1333.1 1495.2,1334.7 1494.3,1336.2 1493.4,1337.8 1492.5,1339.4 1491.6,1341.1 1490.8,1342.8 1489.9,1344.4 1489.0,1345.9 1488.1,1347.3 1487.2,1348.5 1486.3,1349.5 1485.4,1350.3 1484.5,1351.0 1483.6,1351.6 1482.7,1352.1 1481.8,1352.6 1480.9,1353.1 1480.0,1353.6 1479.1,1354.1 1478.2,1354.5 1477.3,1355.0 1476.4,1355.4 1475.5,1355.8 1474.6,1356.1 1473.7,1356.4 1472.9,1356.6 1472.0,1356.8 1471.3,1356.9 1470.5,1357.0 1469.7,1357.0 1469.0,1357.0 1468.2,1357.0 1467.5,1357.1 1466.7,1357.3 1466.0,1357.5 1465.2,1357.7 1464.5,1358.0 1463.8,1358.3 1463.0,1358.6 1462.3,1358.9 1461.5,1359.3 1460.6,1359.7 1459.7,1360.1 1458.7,1360.6 1457.7,1361.0 1456.6,1361.5 1455.6,1362.0 1454.5,1362.6 1453.4,1363.2 1452.4,1363.8 1451.4,1364.5 1450.3,1365.3 1449.3,1366.1 1448.3,1366.9 1447.2,1367.8 1446.2,1368.6 1445.2,1369.3 1444.2,1369.9 1443.3,1370.5 1442.4,1370.9 1441.5,1371.3 1440.6,1371.7 1439.7,1372.0 1438.8,1372.3 1438.0,1372.7 1437.1,1373.0 1436.2,1373.4 1435.3,1373.8 1434.4,1374.2 1433.6,1374.7 1432.7,1375.0 1431.8,1375.3 1430.9,1375.6 1429.9,1375.7 1428.9,1375.6 1427.9,1375.5 1426.9,1375.3 1425.9,1375.0 1424.8,1374.7 1423.8,1374.4 1422.8,1374.0 1421.7,1373.6 1420.7,1373.2 1419.7,1372.8 1418.7,1372.4 1417.7,1372.0 1416.7,1371.5 1415.7,1371.0 1414.6,1370.5 1413.6,1369.9 1412.5,1369.4 1411.3,1368.7 1410.2,1368.1 1409.0,1367.4 1407.8,1366.7 1406.7,1366.1 1405.5,1365.4 1404.4,1364.8 1403.2,1364.3 1402.1,1363.7 1400.9,1363.2 1399.8,1362.6 1398.6,1362.1 1397.4,1361.6 1396.3,1361.2 1395.1,1360.7 1394.0,1360.3 1392.9,1359.9 1391.8,1359.5 1390.7,1359.2 1389.5,1358.8 1388.4,1358.5 1387.2,1358.3 1385.9,1358.1 1384.6,1357.9 1383.3,1357.9 1381.8,1357.9 1380.4,1357.9 1378.9,1357.9 1377.5,1358.0 1376.1,1358.0 1374.7,1358.1 1373.4,1358.1 1372.1,1358.3 1370.8,1358.4 1369.5,1358.5 1368.3,1358.6 1367.0,1358.7 1365.7,1358.7 1364.5,1358.7 1363.2,1358.6 1361.9,1358.4 1360.6,1358.2 1359.4,1357.9 1358.1,1357.6 1356.8,1357.3 1355.5,1357.0 1354.2,1356.6 1353.0,1356.3 1351.7,1356.0 1350.4,1355.7 1349.1,1355.3 1347.9,1354.9 1346.6,1354.5 1345.3,1354.1 1344.0,1353.6 1342.7,1353.0 1341.5,1352.4 1340.2,1351.8 1338.9,1351.1 1337.6,1350.4 1336.4,1349.8 1335.1,1349.1 1333.8,1348.5 1332.5,1347.8 1331.1,1347.2 1329.8,1346.6 1328.4,1345.9 1327.1,1345.3 1325.8,1344.8 1324.7,1344.2 1323.6,1343.8 1322.6,1343.3 1321.7,1342.9 1320.9,1342.6 1320.2,1342.3 1319.5,1342.0 1318.8,1341.7 1318.1,1341.5 1317.4,1341.3 1316.8,1341.2 1316.1,1341.1 1315.5,1341.1 1314.9,1341.2 1314.3,1341.2 1313.7,1341.2 1313.0,1341.1 1312.3,1340.9 1311.6,1340.6 1310.9,1340.3 1310.1,1339.9 1309.3,1339.4 1308.5,1338.9 1307.7,1338.4 1307.0,1337.8 1306.2,1337.2 1305.4,1336.6 1304.7,1336.0 1303.9,1335.3 1303.1,1334.6 1302.4,1333.9 1301.6,1333.0 1300.8,1332.1 1300.1,1331.1 1299.3,1330.0 1298.5,1328.7 1297.7,1327.4 1296.9,1326.0 1296.1,1324.6 1295.4,1323.1 1294.6,1321.5 1293.9,1319.8 1293.2,1318.1 1292.5,1316.4 1291.9,1314.5 1291.2,1312.6 1290.6,1310.7 1290.0,1308.6 1289.4,1306.6 1288.8,1304.5 1288.2,1302.3 1287.7,1300.1 1287.2,1297.7 1286.6,1295.4 1286.1,1293.0 1285.6,1290.6 1285.2,1288.3 1284.7,1286.1 1284.3,1284.0 1283.9,1281.9 1283.5,1279.8 1283.1,1277.8 1282.8,1275.8 1282.4,1273.8 1282.0,1271.8 1281.7,1269.7" fill="#b6b6b6" fill-opacity="0.81"/>
<polyline points="1281.7,1257.5 1282.0,1259.0 1282.4,1260.4 1282.8,1261.9 1283.1,1263.3 1283.5,1264.8 1283.9,1266.4 1284.3,1268.0 1284.7,1269.7 1285.2,1271.6 1285.6,1273.6 1286.1,1275.6 1286.6,1277.7 1287.2,1279.9 1287.7,1282.0 1288.2,1284.1 1288.8,1286.1 1289.4,1288.1 1290.0,1290.1 1290.7,1292.1 1291.3,1294.1 1292.0,1296.1 1292.6,1298.0 1293.3,1299.8 1293.9,1301.4 1294.6,1303.0 1295.2,1304.4 1295.8,1305.8 1296.4,1307.1 1297.0,1308.3 1297.7,1309.5 1298.3,1310.6 1299.0,1311.7 1299.8,1312.6 1300.5,1313.5 1301.3,1314.4 1302.0,1315.2 1302.8,1315.9 1303.6,1316.6 1304.4,1317.2 1305.2,1317.8 1305.9,1318.3 1306.7,1318.8 1307.5,1319.3 1308.2,1319.7 1309.0,1320.1 1309.8,1320.4 1310.5,1320.6 1311.3,1320.9 1312.1,1321.0 1312.8,1321.0 1313.6,1320.9 1314.4,1320.9 1315.1,1320.8 1315.9,1320.7 1316.7,1320.7 1317.4,1320.9 1318.2,1321.1 1318.9,1321.4 1319.6,1321.7 1320.3,1322.1 1321.0,1322.5 1321.8,1323.0 1322.6,1323.4 1323.6,1323.9 1324.7,1324.4 1325.8,1325.0 1327.1,1325.6 1328.4,1326.2 1329.8,1326.8 1331.1,1327.4 1332.5,1328.0 1333.8,1328.6 1335.1,1329.2 1336.4,1329.8 1337.6,1330.4 1338.9,1331.0 1340.2,1331.6 1341.5,1332.1 1342.7,1332.6 1344.0,1333.1 1345.3,1333.6 1346.6,1334.0 1347.9,1334.4 1349.1,1334.8 1350.4,1335.2 1351.7,1335.6 1353.0,1335.9 1354.2,1336.2 1355.5,1336.5 1356.8,1336.7 1358.1,1337.0 1359.4,1337.2 1360.6,1337.4 1361.9,1337.6 1363.2,1337.7 1364.5,1337.8 1365.7,1337.9 1367.0,1337.9 1368.3,1337.9 1369.5,1337.9 1370.8,1337.8 1372.1,1337.7 1373.4,1337.7 1374.7,1337.6 1376.1,1337.6 1377.5,1337.5 1378.9,1337.4 1380.4,1337.3 1381.8,1337.2 1383.3,1337.1 1384.6,1337.1 1385.9,1337.2 1387.2,1337.4 1388.4,1337.6 1389.5,1337.8 1390.7,1338.1 1391.8,1338.5 1392.9,1338.8 1394.0,1339.2 1395.1,1339.7 1396.3,1340.2 1397.4,1340.7 1398.6,1341.3 1399.8,1341.9 1400.9,1342.5 1402.1,1343.1 1403.2,1343.8 1404.4,1344.4 1405.5,1345.0 1406.7,1345.7 1407.8,1346.3 1409.0,1347.0 1410.2,1347.7 1411.3,1348.3 1412.5,1348.9 1413.6,1349.5 1414.6,1350.0 1415.7,1350.6 1416.7,1351.1 1417.7,1351.6 1418.7,1352.1 1419.7,1352.5 1420.7,1352.9 1421.7,1353.2 1422.8,1353.4 1423.8,1353.6 1424.8,1353.8 1425.9,1353.9 1426.9,1354.0 1427.9,1354.1 1428.9,1354.0 1429.9,1354.0 1430.9,1353.9 1431.8,1353.7 1432.7,1353.5 1433.6,1353.3 1434.4,1353.0 1435.3,1352.7 1436.2,1352.3 1437.1,1351.9 1438.0,1351.5 1438.8,1351.1 1439.7,1350.6 1440.6,1350.1 1441.5,1349.6 1442.4,1349.0 1443.3,1348.4 1444.2,1347.9 1445.2,1347.2 1446.2,1346.5 1447.2,1345.8 1448.3,1345.1 1449.3,1344.4 1450.3,1343.6 1451.4,1343.0 1452.4,1342.3 1453.4,1341.7 1454.5,1341.2 1455.6,1340.6 1456.6,1340.1 1457.7,1339.6 1458.7,1339.1 1459.7,1338.6 1460.6,1338.2 1461.5,1337.9 1462.3,1337.6 1463.1,1337.3 1463.8,1337.0 1464.6,1336.8 1465.3,1336.6 1466.0,1336.4 1466.7,1336.2 1467.4,1336.1 1468.0,1336.0 1468.6,1336.0 1469.2,1336.0 1469.8,1336.0 1470.4,1335.9 1471.1,1335.8 1471.8,1335.6 1472.6,1335.3 1473.5,1335.0 1474.3,1334.6 1475.2,1334.2 1476.1,1333.7 1477.1,1333.2 1478.0,1332.7 1479.0,1332.1 1480.0,1331.5 1481.0,1330.8 1482.0,1330.1 1483.1,1329.4 1484.1,1328.6 1485.2,1327.8 1486.2,1326.9 1487.2,1326.0 1488.1,1325.0 1489.0,1323.9 1489.9,1322.8 1490.8,1321.7 1491.7,1320.5 1492.6,1319.3 1493.4,1318.0 1494.3,1316.8 1495.2,1315.5 1496.1,1314.1 1497.0,1312.7 1497.8,1311.3 1498.7,1309.9 1499.6,1308.5 1500.5,1307.0 1501.5,1305.5 1502.5,1304.0 1503.5,1302.5 1504.5,1300.9 1505.6,1299.3 1506.6,1297.7 1507.7,1296.1 1508.7,1294.6 1509.7,1293.3 1510.6,1291.9 1511.5,1290.6 1512.4,1289.4 1513.3,1288.1 1514.2,1287.0 1515.1,1285.9 1515.9,1284.9 1516.8,1284.0 1517.7,1283.3 1518.6,1282.6 1519.5,1282.0 1520.4,1281.5 1521.3,1281.0 1522.2,1280.6 1523.1,1280.3 1524.0,1280.0 1524.9,1279.7 1525.8,1279.4 1526.7,1279.2 1527.6,1279.0 1528.5,1278.9 1529.4,1278.8 1530.2,1278.8 1531.1,1278.9 1532.0,1279.1 1532.9,1279.4 1533.8,1279.7 1534.7,1280.1 1535.5,1280.5 1536.4,1281.0 1537.4,1281.5 1538.3,1282.0 1539.3,1282.5 1540.3,1283.1 1541.3,1283.7 1542.3,1284.4 1543.4,1285.0 1544.4,1285.7 1545.4,1286.4 1546.5,1287.1 1547.5,1287.8 1548.5,1288.6 1549.5,1289.3 1550.6,1290.1 1551.6,1290.8 1552.6,1291.6 1553.6,1292.4 1554.7,1293.3 1555.7,1294.1 1556.7,1294.9 1557.7,1295.8 1558.7,1296.7 1559.8,1297.6 1560.8,1298.5 1561.8,1299.5 1562.8,1300.4 1563.9,1301.4 1564.9,1302.4 1565.9,1303.4 1566.9,1304.4 1568.0,1305.4 1569.0,1306.4 1570.0,1307.5 1571.0,1308.6 1572.0,1309.7 1573.1,1310.8 1574.1,1312.0 1575.1,1313.1 1576.1,1314.3 1577.2,1315.5 1578.2,1316.6 1579.2,1317.8 1580.2,1318.9 1581.2,1320.1 1582.3,1321.2 1583.3,1322.4 1584.3,1323.5 1585.3,1324.7 1586.4,1325.8 1587.4,1327.0 1588.4,1328.2 1589.5,1329.3 1590.5,1330.5 1591.6,1331.7 1592.6,1332.9 1593.7,1334.0 1594.6,1335.1 1595.6,1336.2 1596.4,1337.2 1597.2,1338.1 1598.0,1339.0 1598.8,1339.9 1599.5,1340.8 1600.2,1341.6 1600.9,1342.5 1601.7,1343.4" fill="none" stroke="#000" stroke-width="4.6" stroke-linejoin="round"/>
<polyline points="1254.9,1388.8 1259.0,1388.8 1259.0,1388.8 1263.4,1388.8 1263.4,1387.3 1267.8,1387.3 1267.8,1385.9 1272.2,1385.9 1272.2,1383.2 1276.6,1383.2 1276.6,1372.0 1281.0,1372.0 1281.0,1322.5 1285.4,1322.5 1285.4,1240.1 1289.8,1240.1 1289.8,1171.2 1294.2,1171.2 1294.2,1156.9 1298.6,1156.9 1298.6,1172.6 1303.0,1172.6 1303.0,1194.1 1307.4,1194.1 1307.4,1169.9 1311.8,1169.9 1311.8,1147.4 1316.2,1147.4 1316.2,1127.6 1320.6,1127.6 1320.6,1187.9 1324.9,1187.9 1324.9,1183.8 1329.3,1183.8 1329.3,1185.9 1333.7,1185.9 1333.7,1193.7 1338.1,1193.7 1338.1,1222.3 1342.5,1222.3 1342.5,1235.0 1346.9,1235.0 1346.9,1244.2 1351.3,1244.2 1351.3,1250.9 1355.7,1250.9 1355.7,1249.7 1360.1,1249.7 1360.1,1251.3 1364.5,1251.3 1364.5,1255.8 1368.9,1255.8 1368.9,1260.5 1373.3,1260.5 1373.3,1265.2 1377.7,1265.2 1377.7,1270.1 1382.1,1270.1 1382.1,1277.9 1386.5,1277.9 1386.5,1286.5 1390.9,1286.5 1390.9,1292.2 1395.3,1292.2 1395.3,1300.4 1399.6,1300.4 1399.6,1307.6 1404.0,1307.6 1404.0,1312.7 1408.4,1312.7 1408.4,1316.8 1412.8,1316.8 1412.8,1320.9 1417.2,1320.9 1417.2,1317.2 1421.6,1317.2 1421.6,1315.7 1426.0,1315.7 1426.0,1312.3 1430.4,1312.3 1430.4,1305.5 1434.8,1305.5 1434.8,1291.8 1439.2,1291.8 1439.2,1281.0 1443.6,1281.0 1443.6,1273.8 1448.0,1273.8 1448.0,1271.4 1452.4,1271.4 1452.4,1269.3 1456.8,1269.3 1456.8,1270.8 1461.2,1270.8 1461.2,1269.7 1465.6,1269.7 1465.6,1263.2 1469.9,1263.2 1469.9,1251.3 1474.3,1251.3 1474.3,1253.8 1478.7,1253.8 1478.7,1257.9 1483.1,1257.9 1483.1,1266.7 1487.5,1266.7 1487.5,1268.1 1491.9,1268.1 1491.9,1257.9 1496.3,1257.9 1496.3,1234.6 1500.7,1234.6 1500.7,1196.1 1505.1,1196.1 1505.1,1149.1 1509.5,1149.1 1509.5,1158.3 1513.9,1158.3 1513.9,1137.8 1518.3,1137.8 1518.3,1146.0 1522.7,1146.0 1522.7,1172.6 1527.1,1172.6 1527.1,1201.2 1531.5,1201.2 1531.5,1224.7 1535.9,1224.7 1535.9,1236.0 1540.3,1236.0 1540.3,1242.1 1544.6,1242.1 1544.6,1243.6 1549.0,1243.6 1549.0,1239.1 1553.4,1239.1 1553.4,1233.9 1557.8,1233.9 1557.8,1228.8 1562.2,1228.8 1562.2,1230.9 1566.6,1230.9 1566.6,1240.1 1571.0,1240.1 1571.0,1255.4 1575.4,1255.4 1575.4,1272.8 1579.8,1272.8 1579.8,1289.2 1584.2,1289.2 1584.2,1302.5 1588.6,1302.5 1588.6,1314.7 1593.0,1314.7 1593.0,1324.9 1597.4,1324.9 1597.4,1334.0 1601.8,1334.0" fill="none" stroke="#b09d85" stroke-width="3.9" stroke-linejoin="round"/>
</svg>
<rect x="1254.9" y="1006.1" width="347.1" height="405.7" fill="none" stroke="#333" stroke-width="1.4"/>
<text x="1382.6" y="993.1" font-size="25.9" textLength="123.1" lengthAdjust="spacingAndGlyphs">São Paulo</text>
<path d="M1602.0 1343.5H1613.4" stroke="#333" stroke-width="1.6"/>
<text x="1625.5" y="1352.2" font-size="27">10.0</text>
<path d="M1602.0 1254.4H1613.4" stroke="#333" stroke-width="1.6"/>
<text x="1625.5" y="1263.2" font-size="27">20.0</text>
<path d="M1602.0 1165.3H1613.4" stroke="#333" stroke-width="1.6"/>
<text x="1625.5" y="1174.1" font-size="27">30.0</text>
<path d="M1602.0 1076.3H1613.4" stroke="#333" stroke-width="1.6"/>
<text x="1625.5" y="1085.1" font-size="27">40.0</text>
<path d="M1299.9 1411.8V1423.2" stroke="#333" stroke-width="1.6"/>
<text transform="translate(1314.4 1446.3) rotate(-45)" font-size="27" text-anchor="end">Apr 20</text>
<path d="M1357.0 1411.8V1423.2" stroke="#333" stroke-width="1.6"/>
<text transform="translate(1371.5 1446.3) rotate(-45)" font-size="27" text-anchor="end">Jul 20</text>
<path d="M1414.7 1411.8V1423.2" stroke="#333" stroke-width="1.6"/>
<text transform="translate(1429.2 1446.3) rotate(-45)" font-size="27" text-anchor="end">Oct 20</text>
<path d="M1472.5 1411.8V1423.2" stroke="#333" stroke-width="1.6"/>
<text transform="translate(1487.0 1446.3) rotate(-45)" font-size="27" text-anchor="end">Jan 21</text>
<path d="M1529.0 1411.8V1423.2" stroke="#333" stroke-width="1.6"/>
<text transform="translate(1543.5 1446.3) rotate(-45)" font-size="27" text-anchor="end">Apr 21</text>
<path d="M1586.1 1411.8V1423.2" stroke="#333" stroke-width="1.6"/>
<text transform="translate(1600.6 1446.3) rotate(-45)" font-size="27" text-anchor="end">Jul 21</text>
</g>
<text transform="translate(48 728) rotate(-90)" font-size="27" text-anchor="middle">3-wk ICU admissions per ICU bed</text>
<text transform="translate(2091 715.4) rotate(90)" font-size="25.8" text-anchor="middle">Age-standardized in-hospital fatality rate (%)</text>
<rect x="664.20" y="1565.90" width="88.69" height="71.10" fill="#e40058" shape-rendering="crispEdges"/>
<rect x="752.39" y="1565.90" width="88.69" height="71.10" fill="#e50056" shape-rendering="crispEdges"/>
<rect x="840.58" y="1565.90" width="88.69" height="71.10" fill="#0000ff" shape-rendering="crispEdges"/>
<rect x="928.77" y="1565.90" width="88.69" height="71.10" fill="#f40032" shape-rendering="crispEdges"/>
<rect x="1016.96" y="1565.90" width="88.69" height="71.10" fill="#d9006e" shape-rendering="crispEdges"/>
<rect x="1105.15" y="1565.90" width="88.69" height="71.10" fill="#b200a9" shape-rendering="crispEdges"/>
<rect x="1193.34" y="1565.90" width="88.69" height="71.10" fill="#fe0007" shape-rendering="crispEdges"/>
<rect x="1281.53" y="1565.90" width="88.69" height="71.10" fill="#ed0044" shape-rendering="crispEdges"/>
<rect x="1369.72" y="1565.90" width="88.69" height="71.10" fill="#db0069" shape-rendering="crispEdges"/>
<rect x="1457.91" y="1565.90" width="88.69" height="71.10" fill="#ec0047" shape-rendering="crispEdges"/>
<rect x="1546.10" y="1565.90" width="88.69" height="71.10" fill="#c6008e" shape-rendering="crispEdges"/>
<rect x="1634.29" y="1565.90" width="88.69" height="71.10" fill="#d70072" shape-rendering="crispEdges"/>
<rect x="1722.48" y="1565.90" width="88.69" height="71.10" fill="#9d00c0" shape-rendering="crispEdges"/>
<rect x="1810.67" y="1565.90" width="88.69" height="71.10" fill="#d2007a" shape-rendering="crispEdges"/>
<rect x="664.20" y="1636.50" width="88.69" height="71.10" fill="#e2005d" shape-rendering="crispEdges"/>
<rect x="752.39" y="1636.50" width="88.69" height="71.10" fill="#ec0047" shape-rendering="crispEdges"/>
<rect x="840.58" y="1636.50" width="88.69" height="71.10" fill="#3f00f6" shape-rendering="crispEdges"/>
<rect x="928.77" y="1636.50" width="88.69" height="71.10" fill="#f40032" shape-rendering="crispEdges"/>
<rect x="1016.96" y="1636.50" width="88.69" height="71.10" fill="#c8008b" shape-rendering="crispEdges"/>
<rect x="1105.15" y="1636.50" width="88.69" height="71.10" fill="#b400a6" shape-rendering="crispEdges"/>
<rect x="1193.34" y="1636.50" width="88.69" height="71.10" fill="#fe0007" shape-rendering="crispEdges"/>
<rect x="1281.53" y="1636.50" width="88.69" height="71.10" fill="#f6002c" shape-rendering="crispEdges"/>
<rect x="1369.72" y="1636.50" width="88.69" height="71.10" fill="#e50056" shape-rendering="crispEdges"/>
<rect x="1457.91" y="1636.50" width="88.69" height="71.10" fill="#ed0044" shape-rendering="crispEdges"/>
<rect x="1546.10" y="1636.50" width="88.69" height="71.10" fill="#c6008e" shape-rendering="crispEdges"/>
<rect x="1634.29" y="1636.50" width="88.69" height="71.10" fill="#d70072" shape-rendering="crispEdges"/>
<rect x="1722.48" y="1636.50" width="88.69" height="71.10" fill="#a200ba" shape-rendering="crispEdges"/>
<rect x="1810.67" y="1636.50" width="88.69" height="71.10" fill="#d30078" shape-rendering="crispEdges"/>
<rect x="664.20" y="1707.10" width="88.69" height="71.10" fill="#df0062" shape-rendering="crispEdges"/>
<rect x="752.39" y="1707.10" width="88.69" height="71.10" fill="#e70051" shape-rendering="crispEdges"/>
<rect x="840.58" y="1707.10" width="88.69" height="71.10" fill="#3b00f7" shape-rendering="crispEdges"/>
<rect x="928.77" y="1707.10" width="88.69" height="71.10" fill="#f40032" shape-rendering="crispEdges"/>
<rect x="1016.96" y="1707.10" width="88.69" height="71.10" fill="#c8008b" shape-rendering="crispEdges"/>
<rect x="1105.15" y="1707.10" width="88.69" height="71.10" fill="#b800a2" shape-rendering="crispEdges"/>
<rect x="1193.34" y="1707.10" width="88.69" height="71.10" fill="#fe0007" shape-rendering="crispEdges"/>
<rect x="1281.53" y="1707.10" width="88.69" height="71.10" fill="#f5002f" shape-rendering="crispEdges"/>
<rect x="1369.72" y="1707.10" width="88.69" height="71.10" fill="#e3005b" shape-rendering="crispEdges"/>
<rect x="1457.91" y="1707.10" width="88.69" height="71.10" fill="#ee0042" shape-rendering="crispEdges"/>
<rect x="1546.10" y="1707.10" width="88.69" height="71.10" fill="#c10095" shape-rendering="crispEdges"/>
<rect x="1634.29" y="1707.10" width="88.69" height="71.10" fill="#d70072" shape-rendering="crispEdges"/>
<rect x="1722.48" y="1707.10" width="88.69" height="71.10" fill="#a200ba" shape-rendering="crispEdges"/>
<rect x="1810.67" y="1707.10" width="88.69" height="71.10" fill="#d30078" shape-rendering="crispEdges"/>
<rect x="664.20" y="1777.70" width="88.69" height="71.10" fill="#e3005b" shape-rendering="crispEdges"/>
<rect x="752.39" y="1777.70" width="88.69" height="71.10" fill="#df0062" shape-rendering="crispEdges"/>
<rect x="840.58" y="1777.70" width="88.69" height="71.10" fill="#1b00fd" shape-rendering="crispEdges"/>
<rect x="928.77" y="1777.70" width="88.69" height="71.10" fill="#f20037" shape-rendering="crispEdges"/>
<rect x="1016.96" y="1777.70" width="88.69" height="71.10" fill="#ee0042" shape-rendering="crispEdges"/>
<rect x="1105.15" y="1777.70" width="88.69" height="71.10" fill="#b000ab" shape-rendering="crispEdges"/>
<rect x="1193.34" y="1777.70" width="88.69" height="71.10" fill="#fe0007" shape-rendering="crispEdges"/>
<rect x="1281.53" y="1777.70" width="88.69" height="71.10" fill="#ed0044" shape-rendering="crispEdges"/>
<rect x="1369.72" y="1777.70" width="88.69" height="71.10" fill="#d60073" shape-rendering="crispEdges"/>
<rect x="1457.91" y="1777.70" width="88.69" height="71.10" fill="#ee0042" shape-rendering="crispEdges"/>
<rect x="1546.10" y="1777.70" width="88.69" height="71.10" fill="#cb0087" shape-rendering="crispEdges"/>
<rect x="1634.29" y="1777.70" width="88.69" height="71.10" fill="#d60074" shape-rendering="crispEdges"/>
<rect x="1722.48" y="1777.70" width="88.69" height="71.10" fill="#9d00c0" shape-rendering="crispEdges"/>
<rect x="1810.67" y="1777.70" width="88.69" height="71.10" fill="#d2007a" shape-rendering="crispEdges"/>
<rect x="664.20" y="1848.30" width="88.69" height="71.10" fill="#e3005b" shape-rendering="crispEdges"/>
<rect x="752.39" y="1848.30" width="88.69" height="71.10" fill="#de0065" shape-rendering="crispEdges"/>
<rect x="840.58" y="1848.30" width="88.69" height="71.10" fill="#2e00fa" shape-rendering="crispEdges"/>
<rect x="928.77" y="1848.30" width="88.69" height="71.10" fill="#f0003d" shape-rendering="crispEdges"/>
<rect x="1016.96" y="1848.30" width="88.69" height="71.10" fill="#eb004a" shape-rendering="crispEdges"/>
<rect x="1105.15" y="1848.30" width="88.69" height="71.10" fill="#ae00ae" shape-rendering="crispEdges"/>
<rect x="1193.34" y="1848.30" width="88.69" height="71.10" fill="#fe0007" shape-rendering="crispEdges"/>
<rect x="1281.53" y="1848.30" width="88.69" height="71.10" fill="#f0003d" shape-rendering="crispEdges"/>
<rect x="1369.72" y="1848.30" width="88.69" height="71.10" fill="#d60073" shape-rendering="crispEdges"/>
<rect x="1457.91" y="1848.30" width="88.69" height="71.10" fill="#ee0042" shape-rendering="crispEdges"/>
<rect x="1546.10" y="1848.30" width="88.69" height="71.10" fill="#cc0084" shape-rendering="crispEdges"/>
<rect x="1634.29" y="1848.30" width="88.69" height="71.10" fill="#d60074" shape-rendering="crispEdges"/>
<rect x="1722.48" y="1848.30" width="88.69" height="71.10" fill="#9b00c2" shape-rendering="crispEdges"/>
<rect x="1810.67" y="1848.30" width="88.69" height="71.10" fill="#d2007a" shape-rendering="crispEdges"/>
<rect x="664.20" y="1918.90" width="88.69" height="71.10" fill="#ee0042" shape-rendering="crispEdges"/>
<rect x="752.39" y="1918.90" width="88.69" height="71.10" fill="#e60053" shape-rendering="crispEdges"/>
<rect x="840.58" y="1918.90" width="88.69" height="71.10" fill="#2d00fb" shape-rendering="crispEdges"/>
<rect x="928.77" y="1918.90" width="88.69" height="71.10" fill="#f1003a" shape-rendering="crispEdges"/>
<rect x="1016.96" y="1918.90" width="88.69" height="71.10" fill="#da006c" shape-rendering="crispEdges"/>
<rect x="1105.15" y="1918.90" width="88.69" height="71.10" fill="#e3005b" shape-rendering="crispEdges"/>
<rect x="1193.34" y="1918.90" width="88.69" height="71.10" fill="#fd000d" shape-rendering="crispEdges"/>
<rect x="1281.53" y="1918.90" width="88.69" height="71.10" fill="#f6002c" shape-rendering="crispEdges"/>
<rect x="1369.72" y="1918.90" width="88.69" height="71.10" fill="#ed0044" shape-rendering="crispEdges"/>
<rect x="1457.91" y="1918.90" width="88.69" height="71.10" fill="#ef003f" shape-rendering="crispEdges"/>
<rect x="1546.10" y="1918.90" width="88.69" height="71.10" fill="#c6008e" shape-rendering="crispEdges"/>
<rect x="1634.29" y="1918.90" width="88.69" height="71.10" fill="#d30078" shape-rendering="crispEdges"/>
<rect x="1722.48" y="1918.90" width="88.69" height="71.10" fill="#d2007a" shape-rendering="crispEdges"/>
<rect x="1810.67" y="1918.90" width="88.69" height="71.10" fill="#df0062" shape-rendering="crispEdges"/>
<rect x="664.20" y="1989.50" width="88.69" height="71.10" fill="#e70051" shape-rendering="crispEdges"/>
<rect x="752.39" y="1989.50" width="88.69" height="71.10" fill="#e3005b" shape-rendering="crispEdges"/>
<rect x="840.58" y="1989.50" width="88.69" height="71.10" fill="#4400f5" shape-rendering="crispEdges"/>
<rect x="928.77" y="1989.50" width="88.69" height="71.10" fill="#f40032" shape-rendering="crispEdges"/>
<rect x="1016.96" y="1989.50" width="88.69" height="71.10" fill="#d9006e" shape-rendering="crispEdges"/>
<rect x="1105.15" y="1989.50" width="88.69" height="71.10" fill="#de0065" shape-rendering="crispEdges"/>
<rect x="1193.34" y="1989.50" width="88.69" height="71.10" fill="#fc0013" shape-rendering="crispEdges"/>
<rect x="1281.53" y="1989.50" width="88.69" height="71.10" fill="#fa001f" shape-rendering="crispEdges"/>
<rect x="1369.72" y="1989.50" width="88.69" height="71.10" fill="#ef003f" shape-rendering="crispEdges"/>
<rect x="1457.91" y="1989.50" width="88.69" height="71.10" fill="#f10039" shape-rendering="crispEdges"/>
<rect x="1546.10" y="1989.50" width="88.69" height="71.10" fill="#c30093" shape-rendering="crispEdges"/>
<rect x="1634.29" y="1989.50" width="88.69" height="71.10" fill="#d2007a" shape-rendering="crispEdges"/>
<rect x="1722.48" y="1989.50" width="88.69" height="71.10" fill="#ce0080" shape-rendering="crispEdges"/>
<rect x="1810.67" y="1989.50" width="88.69" height="71.10" fill="#df0062" shape-rendering="crispEdges"/>
<rect x="664.20" y="2060.10" width="88.69" height="71.10" fill="#e70051" shape-rendering="crispEdges"/>
<rect x="752.39" y="2060.10" width="88.69" height="71.10" fill="#ef003f" shape-rendering="crispEdges"/>
<rect x="840.58" y="2060.10" width="88.69" height="71.10" fill="#4b00f3" shape-rendering="crispEdges"/>
<rect x="928.77" y="2060.10" width="88.69" height="71.10" fill="#f40032" shape-rendering="crispEdges"/>
<rect x="1016.96" y="2060.10" width="88.69" height="71.10" fill="#d0007e" shape-rendering="crispEdges"/>
<rect x="1105.15" y="2060.10" width="88.69" height="71.10" fill="#df0062" shape-rendering="crispEdges"/>
<rect x="1193.34" y="2060.10" width="88.69" height="71.10" fill="#fd000d" shape-rendering="crispEdges"/>
<rect x="1281.53" y="2060.10" width="88.69" height="71.10" fill="#fd0010" shape-rendering="crispEdges"/>
<rect x="1369.72" y="2060.10" width="88.69" height="71.10" fill="#f10039" shape-rendering="crispEdges"/>
<rect x="1457.91" y="2060.10" width="88.69" height="71.10" fill="#f0003d" shape-rendering="crispEdges"/>
<rect x="1546.10" y="2060.10" width="88.69" height="71.10" fill="#c6008e" shape-rendering="crispEdges"/>
<rect x="1634.29" y="2060.10" width="88.69" height="71.10" fill="#d0007e" shape-rendering="crispEdges"/>
<rect x="1722.48" y="2060.10" width="88.69" height="71.10" fill="#ce0080" shape-rendering="crispEdges"/>
<rect x="1810.67" y="2060.10" width="88.69" height="71.10" fill="#df0062" shape-rendering="crispEdges"/>
<rect x="664.20" y="2130.70" width="88.69" height="71.10" fill="#e60055" shape-rendering="crispEdges"/>
<rect x="752.39" y="2130.70" width="88.69" height="71.10" fill="#e40057" shape-rendering="crispEdges"/>
<rect x="840.58" y="2130.70" width="88.69" height="71.10" fill="#4600f4" shape-rendering="crispEdges"/>
<rect x="928.77" y="2130.70" width="88.69" height="71.10" fill="#f40032" shape-rendering="crispEdges"/>
<rect x="1016.96" y="2130.70" width="88.69" height="71.10" fill="#d1007c" shape-rendering="crispEdges"/>
<rect x="1105.15" y="2130.70" width="88.69" height="71.10" fill="#de0065" shape-rendering="crispEdges"/>
<rect x="1193.34" y="2130.70" width="88.69" height="71.10" fill="#fd000d" shape-rendering="crispEdges"/>
<rect x="1281.53" y="2130.70" width="88.69" height="71.10" fill="#fc0015" shape-rendering="crispEdges"/>
<rect x="1369.72" y="2130.70" width="88.69" height="71.10" fill="#e70052" shape-rendering="crispEdges"/>
<rect x="1457.91" y="2130.70" width="88.69" height="71.10" fill="#f10039" shape-rendering="crispEdges"/>
<rect x="1546.10" y="2130.70" width="88.69" height="71.10" fill="#b000ab" shape-rendering="crispEdges"/>
<rect x="1634.29" y="2130.70" width="88.69" height="71.10" fill="#d2007a" shape-rendering="crispEdges"/>
<rect x="1722.48" y="2130.70" width="88.69" height="71.10" fill="#ce0080" shape-rendering="crispEdges"/>
<rect x="1810.67" y="2130.70" width="88.69" height="71.10" fill="#df0062" shape-rendering="crispEdges"/>
<rect x="664.20" y="2201.30" width="88.69" height="71.10" fill="#e60055" shape-rendering="crispEdges"/>
<rect x="752.39" y="2201.30" width="88.69" height="71.10" fill="#e8004f" shape-rendering="crispEdges"/>
<rect x="840.58" y="2201.30" width="88.69" height="71.10" fill="#4800f4" shape-rendering="crispEdges"/>
<rect x="928.77" y="2201.30" width="88.69" height="71.10" fill="#f40032" shape-rendering="crispEdges"/>
<rect x="1016.96" y="2201.30" width="88.69" height="71.10" fill="#d1007c" shape-rendering="crispEdges"/>
<rect x="1105.15" y="2201.30" width="88.69" height="71.10" fill="#e2005c" shape-rendering="crispEdges"/>
<rect x="1193.34" y="2201.30" width="88.69" height="71.10" fill="#fd000d" shape-rendering="crispEdges"/>
<rect x="1281.53" y="2201.30" width="88.69" height="71.10" fill="#fc0015" shape-rendering="crispEdges"/>
<rect x="1369.72" y="2201.30" width="88.69" height="71.10" fill="#f0003d" shape-rendering="crispEdges"/>
<rect x="1457.91" y="2201.30" width="88.69" height="71.10" fill="#f10039" shape-rendering="crispEdges"/>
<rect x="1546.10" y="2201.30" width="88.69" height="71.10" fill="#c20094" shape-rendering="crispEdges"/>
<rect x="1634.29" y="2201.30" width="88.69" height="71.10" fill="#d2007a" shape-rendering="crispEdges"/>
<rect x="1722.48" y="2201.30" width="88.69" height="71.10" fill="#ce0080" shape-rendering="crispEdges"/>
<rect x="1810.67" y="2201.30" width="88.69" height="71.10" fill="#df0062" shape-rendering="crispEdges"/>
<rect x="664.20" y="2271.90" width="88.69" height="71.10" fill="#e60055" shape-rendering="crispEdges"/>
<rect x="752.39" y="2271.90" width="88.69" height="71.10" fill="#f80026" shape-rendering="crispEdges"/>
<rect x="840.58" y="2271.90" width="88.69" height="71.10" fill="#3100fa" shape-rendering="crispEdges"/>
<rect x="928.77" y="2271.90" width="88.69" height="71.10" fill="#f40032" shape-rendering="crispEdges"/>
<rect x="1016.96" y="2271.90" width="88.69" height="71.10" fill="#c8008a" shape-rendering="crispEdges"/>
<rect x="1105.15" y="2271.90" width="88.69" height="71.10" fill="#e3005b" shape-rendering="crispEdges"/>
<rect x="1193.34" y="2271.90" width="88.69" height="71.10" fill="#fd000d" shape-rendering="crispEdges"/>
<rect x="1281.53" y="2271.90" width="88.69" height="71.10" fill="#fe0007" shape-rendering="crispEdges"/>
<rect x="1369.72" y="2271.90" width="88.69" height="71.10" fill="#ef003e" shape-rendering="crispEdges"/>
<rect x="1457.91" y="2271.90" width="88.69" height="71.10" fill="#e70051" shape-rendering="crispEdges"/>
<rect x="1546.10" y="2271.90" width="88.69" height="71.10" fill="#c20094" shape-rendering="crispEdges"/>
<rect x="1634.29" y="2271.90" width="88.69" height="71.10" fill="#c6008e" shape-rendering="crispEdges"/>
<rect x="1722.48" y="2271.90" width="88.69" height="71.10" fill="#d0007e" shape-rendering="crispEdges"/>
<rect x="1810.67" y="2271.90" width="88.69" height="71.10" fill="#d8006f" shape-rendering="crispEdges"/>
<rect x="664.20" y="2342.50" width="88.69" height="71.10" fill="#ed0044" shape-rendering="crispEdges"/>
<rect x="752.39" y="2342.50" width="88.69" height="71.10" fill="#d60073" shape-rendering="crispEdges"/>
<rect x="840.58" y="2342.50" width="88.69" height="71.10" fill="#2100fc" shape-rendering="crispEdges"/>
<rect x="928.77" y="2342.50" width="88.69" height="71.10" fill="#ec0047" shape-rendering="crispEdges"/>
<rect x="1016.96" y="2342.50" width="88.69" height="71.10" fill="#ee0042" shape-rendering="crispEdges"/>
<rect x="1105.15" y="2342.50" width="88.69" height="71.10" fill="#e60055" shape-rendering="crispEdges"/>
<rect x="1193.34" y="2342.50" width="88.69" height="71.10" fill="#fd0010" shape-rendering="crispEdges"/>
<rect x="1281.53" y="2342.50" width="88.69" height="71.10" fill="#f1003a" shape-rendering="crispEdges"/>
<rect x="1369.72" y="2342.50" width="88.69" height="71.10" fill="#e70051" shape-rendering="crispEdges"/>
<rect x="1457.91" y="2342.50" width="88.69" height="71.10" fill="#f10039" shape-rendering="crispEdges"/>
<rect x="1546.10" y="2342.50" width="88.69" height="71.10" fill="#d2007a" shape-rendering="crispEdges"/>
<rect x="1634.29" y="2342.50" width="88.69" height="71.10" fill="#d2007a" shape-rendering="crispEdges"/>
<rect x="1722.48" y="2342.50" width="88.69" height="71.10" fill="#d70072" shape-rendering="crispEdges"/>
<rect x="1810.67" y="2342.50" width="88.69" height="71.10" fill="#da006d" shape-rendering="crispEdges"/>
<path d="M652.8 1601.2H664.2" stroke="#333" stroke-width="1.6"/>
<text x="639.7" y="1609.5" font-size="25" text-anchor="end">3-wk SARI admissions per ventilator</text>
<path d="M652.8 1671.8H664.2" stroke="#333" stroke-width="1.6"/>
<text x="639.7" y="1680.1" font-size="25" text-anchor="end">3-wk SARI admissions per physician</text>
<path d="M652.8 1742.4H664.2" stroke="#333" stroke-width="1.6"/>
<text x="639.7" y="1750.7" font-size="25" text-anchor="end">3-wk SARI admissions per nurse</text>
<path d="M652.8 1813.0H664.2" stroke="#333" stroke-width="1.6"/>
<text x="639.7" y="1821.3" font-size="25" text-anchor="end">3-wk SARI admissions per critical care bed with ventilator</text>
<path d="M652.8 1883.6H664.2" stroke="#333" stroke-width="1.6"/>
<text x="639.7" y="1891.9" font-size="25" text-anchor="end">3-wk SARI admissions per critical care bed</text>
<path d="M652.8 1954.2H664.2" stroke="#333" stroke-width="1.6"/>
<text x="639.7" y="1962.5" font-size="25" text-anchor="end">3-wk ICU admissions per ventilator</text>
<path d="M652.8 2024.8H664.2" stroke="#333" stroke-width="1.6"/>
<text x="639.7" y="2033.1" font-size="25" text-anchor="end">3-wk ICU admissions per physiotherapist</text>
<path d="M652.8 2095.4H664.2" stroke="#333" stroke-width="1.6"/>
<text x="639.7" y="2103.7" font-size="25" text-anchor="end">3-wk ICU admissions per physician</text>
<path d="M652.8 2166.0H664.2" stroke="#333" stroke-width="1.6"/>
<text x="639.7" y="2174.3" font-size="25" text-anchor="end">3-wk ICU admissions per nurse assistant</text>
<path d="M652.8 2236.6H664.2" stroke="#333" stroke-width="1.6"/>
<text x="639.7" y="2244.9" font-size="25" text-anchor="end">3-wk ICU admissions per nurse</text>
<path d="M652.8 2307.2H664.2" stroke="#333" stroke-width="1.6"/>
<text x="639.7" y="2315.5" font-size="25" text-anchor="end">3-wk ICU admissions per intensive care specialist</text>
<path d="M652.8 2377.8H664.2" stroke="#333" stroke-width="1.6"/>
<text x="639.7" y="2386.1" font-size="25" text-anchor="end">3-wk ICU admissions per ICU bed</text>
<path d="M708.3 2413.1V2424.5" stroke="#333" stroke-width="1.6"/>
<text transform="translate(719.3 2442.6) rotate(-45)" font-size="25" text-anchor="end">Belo Horizonte</text>
<path d="M796.5 2413.1V2424.5" stroke="#333" stroke-width="1.6"/>
<text transform="translate(807.5 2442.6) rotate(-45)" font-size="25" text-anchor="end">Curitiba</text>
<path d="M884.7 2413.1V2424.5" stroke="#333" stroke-width="1.6"/>
<text transform="translate(895.7 2442.6) rotate(-45)" font-size="25" text-anchor="end">Florianópolis</text>
<path d="M972.9 2413.1V2424.5" stroke="#333" stroke-width="1.6"/>
<text transform="translate(983.9 2442.6) rotate(-45)" font-size="25" text-anchor="end">Goiânia</text>
<path d="M1061.1 2413.1V2424.5" stroke="#333" stroke-width="1.6"/>
<text transform="translate(1072.1 2442.6) rotate(-45)" font-size="25" text-anchor="end">João Pessoa</text>
<path d="M1149.2 2413.1V2424.5" stroke="#333" stroke-width="1.6"/>
<text transform="translate(1160.2 2442.6) rotate(-45)" font-size="25" text-anchor="end">Macapá</text>
<path d="M1237.4 2413.1V2424.5" stroke="#333" stroke-width="1.6"/>
<text transform="translate(1248.4 2442.6) rotate(-45)" font-size="25" text-anchor="end">Manaus</text>
<path d="M1325.6 2413.1V2424.5" stroke="#333" stroke-width="1.6"/>
<text transform="translate(1336.6 2442.6) rotate(-45)" font-size="25" text-anchor="end">Natal</text>
<path d="M1413.8 2413.1V2424.5" stroke="#333" stroke-width="1.6"/>
<text transform="translate(1424.8 2442.6) rotate(-45)" font-size="25" text-anchor="end">Porto Alegre</text>
<path d="M1502.0 2413.1V2424.5" stroke="#333" stroke-width="1.6"/>
<text transform="translate(1513.0 2442.6) rotate(-45)" font-size="25" text-anchor="end">Porto Velho</text>
<path d="M1590.2 2413.1V2424.5" stroke="#333" stroke-width="1.6"/>
<text transform="translate(1601.2 2442.6) rotate(-45)" font-size="25" text-anchor="end">Rio de Janeiro</text>
<path d="M1678.4 2413.1V2424.5" stroke="#333" stroke-width="1.6"/>
<text transform="translate(1689.4 2442.6) rotate(-45)" font-size="25" text-anchor="end">Salvador</text>
<path d="M1766.6 2413.1V2424.5" stroke="#333" stroke-width="1.6"/>
<text transform="translate(1777.6 2442.6) rotate(-45)" font-size="25" text-anchor="end">São Luís</text>
<path d="M1854.8 2413.1V2424.5" stroke="#333" stroke-width="1.6"/>
<text transform="translate(1865.8 2442.6) rotate(-45)" font-size="25" text-anchor="end">São Paulo</text>
<defs><linearGradient id="lg" x1="0" y1="0" x2="0" y2="1"><stop offset="0.00" stop-color="#ff0000"/><stop offset="0.05" stop-color="#fb001a"/><stop offset="0.10" stop-color="#f6002a"/><stop offset="0.15" stop-color="#f20037"/><stop offset="0.20" stop-color="#ed0044"/><stop offset="0.25" stop-color="#e80050"/><stop offset="0.30" stop-color="#e3005b"/><stop offset="0.35" stop-color="#dd0066"/><stop offset="0.40" stop-color="#d70072"/><stop offset="0.45" stop-color="#d1007d"/><stop offset="0.50" stop-color="#ca0088"/><stop offset="0.55" stop-color="#c20094"/><stop offset="0.60" stop-color="#ba009f"/><stop offset="0.65" stop-color="#b000ab"/><stop offset="0.70" stop-color="#a600b7"/><stop offset="0.75" stop-color="#9a00c3"/><stop offset="0.80" stop-color="#8d00ce"/><stop offset="0.85" stop-color="#7c00da"/><stop offset="0.90" stop-color="#6800e7"/><stop offset="0.95" stop-color="#4b00f3"/><stop offset="1.00" stop-color="#0000ff"/></linearGradient></defs>
<rect x="1964.9" y="1845.7" width="70.2" height="348.8" fill="url(#lg)"/>
<path d="M1964.9 2184.7h14.2M2035.1000000000001 2184.7h-14.2" stroke="#fff" stroke-width="1.5"/>
<text x="2048" y="2192.9" font-size="25">0</text>
<path d="M1964.9 2091.6h14.2M2035.1000000000001 2091.6h-14.2" stroke="#fff" stroke-width="1.5"/>
<text x="2048" y="2099.8" font-size="25">0.25</text>
<path d="M1964.9 1998.5h14.2M2035.1000000000001 1998.5h-14.2" stroke="#fff" stroke-width="1.5"/>
<text x="2048" y="2006.7" font-size="25">0.50</text>
<path d="M1964.9 1905.4h14.2M2035.1000000000001 1905.4h-14.2" stroke="#fff" stroke-width="1.5"/>
<text x="2048" y="1913.6" font-size="25">0.75</text>
<text x="1965.5" y="1805.2" font-size="25">Pearson</text>
<text x="1965.5" y="1835" font-size="25">correlation</text>
</svg>
</body></html>
